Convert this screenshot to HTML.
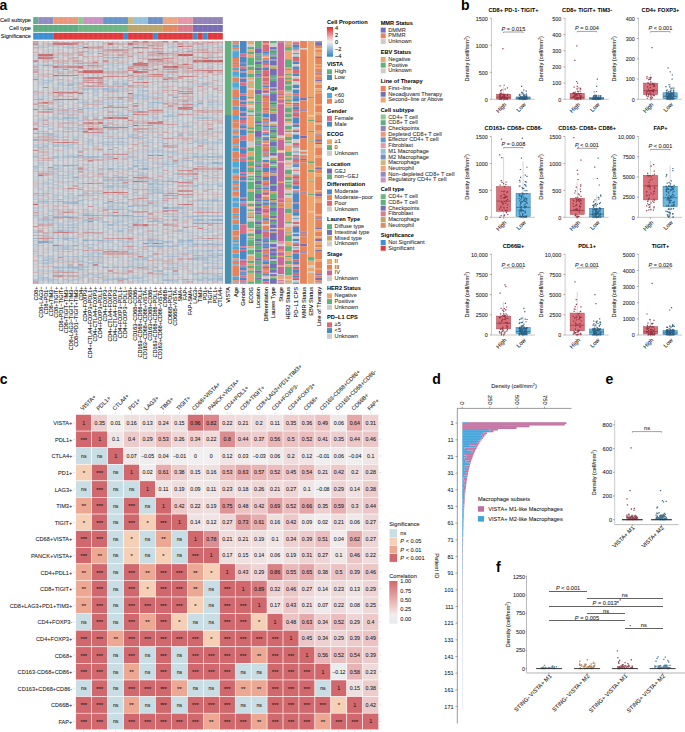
<!DOCTYPE html>
<html><head><meta charset="utf-8"><title>Figure</title>
<style>html,body{margin:0;padding:0;background:#fff;overflow:hidden}svg{display:block}
text{font-family:"Liberation Sans",sans-serif;stroke:#111;stroke-width:0.12px;stroke-opacity:0.6}text[font-weight="bold"]{stroke:none}</style></head>
<body><svg width="685" height="732" viewBox="0 0 685 732" font-family="Liberation Sans, sans-serif">
<rect width="685" height="732" fill="#fff"/>
<text x="-0.6" y="9.7" font-size="14" font-weight="bold" fill="#000">a</text>
<text x="31" y="22.4" font-size="5.64" text-anchor="end">Cell subtype</text>
<text x="31" y="30.2" font-size="5.64" text-anchor="end">Cell type</text>
<text x="31" y="37.9" font-size="5.64" text-anchor="end">Significance</text>
<rect x="33.2" y="17.1" width="4.99" height="6.9" fill="#5fae86"/>
<rect x="38.19" y="17.1" width="14.97" height="6.9" fill="#8f8cc0"/>
<rect x="53.16" y="17.1" width="24.95" height="6.9" fill="#ea977b"/>
<rect x="78.11" y="17.1" width="4.99" height="6.9" fill="#8fc791"/>
<rect x="83.09" y="17.1" width="19.96" height="6.9" fill="#c992c2"/>
<rect x="103.05" y="17.1" width="24.95" height="6.9" fill="#6597c9"/>
<rect x="128" y="17.1" width="4.99" height="6.9" fill="#cbb878"/>
<rect x="132.99" y="17.1" width="14.97" height="6.9" fill="#92c1de"/>
<rect x="147.96" y="17.1" width="14.97" height="6.9" fill="#6f8fc8"/>
<rect x="162.93" y="17.1" width="14.97" height="6.9" fill="#eea383"/>
<rect x="177.89" y="17.1" width="14.97" height="6.9" fill="#e597a6"/>
<rect x="192.86" y="17.1" width="29.94" height="6.9" fill="#9382b5"/>
<rect x="33.2" y="24.9" width="44.91" height="7" fill="#5eac82"/>
<rect x="78.11" y="24.9" width="49.89" height="7" fill="#6db581"/>
<rect x="128" y="24.9" width="34.93" height="7" fill="#bba56b"/>
<rect x="162.93" y="24.9" width="14.97" height="7" fill="#e08a62"/>
<rect x="177.89" y="24.9" width="14.97" height="7" fill="#d97c8c"/>
<rect x="192.86" y="24.9" width="29.94" height="7" fill="#7a6cb3"/>
<rect x="33.2" y="32.8" width="19.96" height="6.8" fill="#3d8fd1"/>
<rect x="53.16" y="32.8" width="69.85" height="6.8" fill="#e03a3d"/>
<rect x="123.01" y="32.8" width="4.99" height="6.8" fill="#3d8fd1"/>
<rect x="128" y="32.8" width="24.95" height="6.8" fill="#e03a3d"/>
<rect x="152.95" y="32.8" width="4.99" height="6.8" fill="#3d8fd1"/>
<rect x="157.94" y="32.8" width="34.93" height="6.8" fill="#e03a3d"/>
<rect x="192.86" y="32.8" width="4.99" height="6.8" fill="#3d8fd1"/>
<rect x="197.85" y="32.8" width="4.99" height="6.8" fill="#e03a3d"/>
<rect x="202.84" y="32.8" width="4.99" height="6.8" fill="#3d8fd1"/>
<rect x="207.83" y="32.8" width="14.97" height="6.8" fill="#e03a3d"/>
<g stroke="#ffffff" stroke-opacity="0.18" stroke-width="0.5"><line x1="38.19" y1="17.1" x2="38.19" y2="39.6"/><line x1="43.18" y1="17.1" x2="43.18" y2="39.6"/><line x1="48.17" y1="17.1" x2="48.17" y2="39.6"/><line x1="53.16" y1="17.1" x2="53.16" y2="39.6"/><line x1="58.15" y1="17.1" x2="58.15" y2="39.6"/><line x1="63.14" y1="17.1" x2="63.14" y2="39.6"/><line x1="68.13" y1="17.1" x2="68.13" y2="39.6"/><line x1="73.12" y1="17.1" x2="73.12" y2="39.6"/><line x1="78.11" y1="17.1" x2="78.11" y2="39.6"/><line x1="83.09" y1="17.1" x2="83.09" y2="39.6"/><line x1="88.08" y1="17.1" x2="88.08" y2="39.6"/><line x1="93.07" y1="17.1" x2="93.07" y2="39.6"/><line x1="98.06" y1="17.1" x2="98.06" y2="39.6"/><line x1="103.05" y1="17.1" x2="103.05" y2="39.6"/><line x1="108.04" y1="17.1" x2="108.04" y2="39.6"/><line x1="113.03" y1="17.1" x2="113.03" y2="39.6"/><line x1="118.02" y1="17.1" x2="118.02" y2="39.6"/><line x1="123.01" y1="17.1" x2="123.01" y2="39.6"/><line x1="128" y1="17.1" x2="128" y2="39.6"/><line x1="132.99" y1="17.1" x2="132.99" y2="39.6"/><line x1="137.98" y1="17.1" x2="137.98" y2="39.6"/><line x1="142.97" y1="17.1" x2="142.97" y2="39.6"/><line x1="147.96" y1="17.1" x2="147.96" y2="39.6"/><line x1="152.95" y1="17.1" x2="152.95" y2="39.6"/><line x1="157.94" y1="17.1" x2="157.94" y2="39.6"/><line x1="162.93" y1="17.1" x2="162.93" y2="39.6"/><line x1="167.92" y1="17.1" x2="167.92" y2="39.6"/><line x1="172.91" y1="17.1" x2="172.91" y2="39.6"/><line x1="177.89" y1="17.1" x2="177.89" y2="39.6"/><line x1="182.88" y1="17.1" x2="182.88" y2="39.6"/><line x1="187.87" y1="17.1" x2="187.87" y2="39.6"/><line x1="192.86" y1="17.1" x2="192.86" y2="39.6"/><line x1="197.85" y1="17.1" x2="197.85" y2="39.6"/><line x1="202.84" y1="17.1" x2="202.84" y2="39.6"/><line x1="207.83" y1="17.1" x2="207.83" y2="39.6"/><line x1="212.82" y1="17.1" x2="212.82" y2="39.6"/><line x1="217.81" y1="17.1" x2="217.81" y2="39.6"/></g>
<g transform="translate(33.2,41) scale(4.9895,1.2140)" shape-rendering="crispEdges">
<path fill="#d79699" d="M0 0h1v1h-1zM2 58h1v1h-1zM3 162h1v1h-1zM5 21h1v1h-1zM5 43h1v1h-1zM6 190h1v1h-1zM7 141h1v1h-1zM7 157h1v1h-1zM8 1h1v1h-1zM8 83h1v1h-1zM8 112h1v1h-1zM8 168h1v1h-1zM9 122h1v1h-1zM10 30h1v1h-1zM10 34h1v1h-1zM10 117h1v1h-1zM10 143h1v1h-1zM10 172h1v1h-1zM11 32h1v1h-1zM11 157h1v1h-1zM12 20h1v1h-1zM12 64h1v1h-1zM12 117h1v1h-1zM12 143h1v1h-1zM13 37h1v1h-1zM13 117h1v1h-1zM15 54h1v1h-1zM15 189h1v1h-1zM16 13h1v1h-1zM17 7h1v1h-1zM17 29h1v1h-1zM17 162h1v1h-1zM17 197h1v1h-1zM18 162h1v1h-1zM19 12h1v1h-1zM19 169h1v1h-1zM20 51h1v1h-1zM20 140h1v1h-1zM21 60h1v1h-1zM21 151h1v1h-1zM22 58h1v1h-1zM22 129h1v1h-1zM23 27h1v1h-1zM23 69h1v1h-1zM24 29h1v1h-1zM25 16h1v1h-1zM26 23h1v1h-1zM26 51h1v1h-1zM26 80h1v1h-1zM26 151h1v1h-1zM27 14h1v1h-1zM27 23h1v1h-1zM27 30h1v1h-1zM27 80h1v1h-1zM27 115h1v1h-1zM27 125h1v1h-1zM28 40h1v1h-1zM28 125h1v1h-1zM28 189h1v1h-1zM29 60h1v1h-1zM30 4h1v1h-1zM31 8h1v1h-1zM31 55h1v1h-1zM31 116h1v1h-1zM32 150h1v1h-1zM33 37h1v1h-1zM33 57h1v1h-1zM33 150h1v1h-1zM36 150h1v1h-1zM37 150h1v1h-1z"/>
<path fill="#d9b7ba" d="M0 1h1v1h-1zM0 3h1v1h-1zM0 9h1v1h-1zM0 51h1v1h-1zM0 67h1v1h-1zM0 104h1v1h-1zM0 190h1v1h-1zM1 42h1v1h-1zM1 53h1v1h-1zM1 74h1v1h-1zM1 78h1v2h-1zM1 91h1v1h-1zM1 96h1v1h-1zM1 98h1v1h-1zM1 176h1v1h-1zM2 15h1v1h-1zM2 64h1v1h-1zM2 74h1v1h-1zM2 98h1v1h-1zM2 157h1v1h-1zM2 163h1v2h-1zM3 2h1v1h-1zM3 79h1v1h-1zM3 98h1v1h-1zM3 109h1v1h-1zM3 125h1v1h-1zM3 185h1v1h-1zM4 45h1v1h-1zM4 136h1v1h-1zM5 10h1v1h-1zM5 20h1v1h-1zM5 31h1v1h-1zM5 41h1v1h-1zM5 59h1v1h-1zM5 64h1v1h-1zM5 182h1v1h-1zM6 18h1v1h-1zM6 20h1v1h-1zM6 36h1v1h-1zM7 1h1v1h-1zM7 3h1v1h-1zM7 25h1v1h-1zM7 60h1v2h-1zM7 67h1v1h-1zM7 94h1v1h-1zM7 146h1v1h-1zM7 168h1v1h-1zM7 171h1v1h-1zM8 5h1v1h-1zM8 18h1v1h-1zM8 20h1v1h-1zM8 41h1v1h-1zM8 47h1v1h-1zM8 141h1v1h-1zM8 171h1v1h-1zM9 6h1v1h-1zM9 8h1v1h-1zM9 34h1v2h-1zM9 48h1v1h-1zM9 68h1v1h-1zM9 95h1v1h-1zM9 159h1v1h-1zM10 2h1v1h-1zM10 18h1v1h-1zM10 33h1v1h-1zM10 52h1v1h-1zM10 63h1v1h-1zM10 68h1v1h-1zM10 97h1v1h-1zM10 138h1v1h-1zM10 145h1v1h-1zM11 4h1v1h-1zM11 6h1v1h-1zM11 10h1v1h-1zM11 17h1v1h-1zM11 68h1v1h-1zM11 183h1v1h-1zM12 21h1v1h-1zM12 32h1v1h-1zM12 49h1v1h-1zM12 52h1v1h-1zM12 63h1v1h-1zM12 88h1v1h-1zM12 98h1v1h-1zM12 145h1v1h-1zM13 8h1v1h-1zM13 73h1v1h-1zM13 105h1v1h-1zM13 181h1v1h-1zM14 8h1v1h-1zM14 17h1v1h-1zM14 41h1v1h-1zM14 48h1v1h-1zM15 26h1v1h-1zM15 47h1v1h-1zM15 61h1v1h-1zM15 67h1v1h-1zM15 112h1v1h-1zM15 171h1v1h-1zM15 174h1v1h-1zM16 5h1v1h-1zM16 9h1v1h-1zM16 33h1v1h-1zM16 37h1v1h-1zM16 61h1v1h-1zM16 107h1v1h-1zM16 117h1v1h-1zM16 178h1v1h-1zM17 2h1v1h-1zM17 47h1v1h-1zM17 61h1v1h-1zM17 117h1v1h-1zM18 96h1v2h-1zM18 126h1v1h-1zM18 138h1v1h-1zM19 44h1v1h-1zM19 48h1v2h-1zM19 88h1v1h-1zM20 6h1v1h-1zM20 36h1v1h-1zM20 56h1v1h-1zM20 66h1v1h-1zM20 107h1v1h-1zM20 150h1v1h-1zM21 78h1v1h-1zM21 187h1v1h-1zM22 2h1v1h-1zM22 14h1v1h-1zM22 38h1v1h-1zM22 41h1v1h-1zM22 111h1v1h-1zM22 152h1v1h-1zM22 171h1v1h-1zM23 14h1v1h-1zM23 17h1v1h-1zM23 46h1v1h-1zM23 120h1v1h-1zM23 151h1v1h-1zM24 0h1v1h-1zM24 19h1v1h-1zM24 33h1v1h-1zM24 43h1v1h-1zM24 56h1v1h-1zM24 60h1v1h-1zM24 117h1v1h-1zM24 120h1v1h-1zM24 146h1v1h-1zM24 151h1v1h-1zM24 163h1v1h-1zM24 180h1v1h-1zM24 192h1v1h-1zM25 17h1v1h-1zM25 58h1v1h-1zM25 68h1v1h-1zM25 96h1v1h-1zM25 125h1v1h-1zM26 11h1v1h-1zM26 20h1v1h-1zM26 25h1v1h-1zM26 33h1v1h-1zM26 87h1v1h-1zM26 168h1v1h-1zM27 16h1v1h-1zM27 22h1v1h-1zM27 33h1v1h-1zM27 37h1v1h-1zM27 40h1v1h-1zM27 180h1v1h-1zM28 11h1v1h-1zM28 18h1v1h-1zM28 30h1v1h-1zM28 80h1v1h-1zM28 140h1v1h-1zM28 156h1v1h-1zM29 20h1v1h-1zM30 6h1v1h-1zM30 8h1v1h-1zM30 12h1v1h-1zM30 18h1v1h-1zM30 24h1v2h-1zM30 38h1v1h-1zM30 175h1v1h-1zM31 25h1v1h-1zM31 42h1v1h-1zM31 45h1v1h-1zM31 48h1v1h-1zM31 107h1v1h-1zM31 198h1v1h-1zM32 2h1v1h-1zM32 13h1v1h-1zM32 60h1v1h-1zM32 162h1v1h-1zM32 169h1v1h-1zM33 17h1v1h-1zM33 58h1v1h-1zM33 126h1v1h-1zM34 25h1v1h-1zM34 36h1v1h-1zM34 57h1v1h-1zM34 65h1v1h-1zM34 123h1v1h-1zM35 15h1v1h-1zM35 22h1v1h-1zM35 37h1v1h-1zM35 57h1v2h-1zM35 76h1v1h-1zM36 5h1v1h-1zM36 110h1v1h-1zM36 183h1v1h-1zM37 1h1v1h-1zM37 5h1v1h-1zM37 7h1v1h-1zM37 65h1v1h-1zM37 67h1v1h-1z"/>
<path fill="#d78f92" d="M0 2h1v1h-1zM0 152h1v1h-1zM2 20h1v1h-1zM2 51h1v1h-1zM2 162h1v1h-1zM4 145h1v1h-1zM5 178h1v1h-1zM5 193h1v1h-1zM6 145h1v1h-1zM9 94h1v1h-1zM9 105h1v1h-1zM10 67h1v1h-1zM10 75h1v1h-1zM11 37h1v1h-1zM11 136h1v1h-1zM12 72h1v1h-1zM14 16h1v1h-1zM14 63h1v1h-1zM14 173h1v1h-1zM15 89h1v1h-1zM16 7h1v1h-1zM16 93h1v1h-1zM16 143h1v1h-1zM18 29h1v1h-1zM18 54h1v1h-1zM18 116h1v1h-1zM18 143h1v1h-1zM18 173h1v1h-1zM20 53h1v1h-1zM21 34h1v1h-1zM22 1h1v1h-1zM23 3h1v1h-1zM23 57h1v1h-1zM24 6h1v1h-1zM25 29h1v1h-1zM25 166h1v1h-1zM26 10h1v1h-1zM26 139h1v1h-1zM27 139h1v1h-1zM28 46h1v1h-1zM28 98h1v1h-1zM28 115h1v1h-1zM29 43h1v1h-1zM29 56h1v1h-1zM29 106h1v1h-1zM30 41h1v1h-1zM30 52h1v1h-1zM30 56h1v1h-1zM30 123h1v1h-1zM30 126h1v1h-1zM31 41h1v1h-1zM31 123h1v1h-1zM32 24h1v1h-1zM32 109h1v1h-1zM33 141h1v1h-1zM34 14h1v1h-1zM35 1h1v1h-1zM37 105h1v1h-1z"/>
<path fill="#dbdee1" d="M0 4h1v1h-1zM0 13h1v1h-1zM0 15h1v1h-1zM0 18h1v1h-1zM0 33h1v1h-1zM0 38h1v1h-1zM0 60h1v1h-1zM0 63h1v1h-1zM0 77h1v1h-1zM0 82h1v1h-1zM0 84h1v1h-1zM0 88h1v1h-1zM0 91h1v1h-1zM0 96h1v1h-1zM0 101h1v1h-1zM0 131h1v1h-1zM0 136h1v1h-1zM0 151h1v1h-1zM0 154h1v1h-1zM0 161h1v1h-1zM0 163h1v1h-1zM0 191h1v2h-1zM0 194h1v1h-1zM1 8h1v1h-1zM1 39h1v1h-1zM1 57h1v1h-1zM1 59h1v1h-1zM1 62h1v1h-1zM1 71h1v1h-1zM1 103h1v1h-1zM1 105h1v1h-1zM1 113h1v1h-1zM1 124h1v1h-1zM1 134h1v1h-1zM1 138h1v1h-1zM1 158h1v1h-1zM1 167h1v1h-1zM1 184h1v1h-1zM2 6h1v1h-1zM2 22h1v2h-1zM2 25h1v1h-1zM2 33h1v1h-1zM2 37h1v1h-1zM2 41h1v1h-1zM2 52h1v1h-1zM2 59h1v2h-1zM2 69h1v1h-1zM2 72h1v1h-1zM2 83h1v1h-1zM2 112h1v1h-1zM2 129h1v1h-1zM2 141h1v1h-1zM2 153h1v1h-1zM2 155h1v2h-1zM2 169h1v1h-1zM2 193h1v1h-1zM2 199h1v1h-1zM3 1h1v1h-1zM3 6h1v1h-1zM3 17h1v1h-1zM3 23h1v1h-1zM3 28h1v1h-1zM3 53h1v1h-1zM3 57h1v1h-1zM3 59h1v3h-1zM3 71h1v1h-1zM3 73h1v3h-1zM3 86h1v1h-1zM3 90h1v1h-1zM3 94h1v1h-1zM3 99h1v2h-1zM3 102h1v1h-1zM3 111h1v1h-1zM3 115h1v1h-1zM3 131h1v1h-1zM3 167h1v1h-1zM3 175h1v1h-1zM4 6h1v1h-1zM4 15h1v1h-1zM4 33h1v2h-1zM4 82h1v1h-1zM4 93h1v1h-1zM4 97h1v1h-1zM4 117h1v1h-1zM4 125h1v1h-1zM4 152h1v1h-1zM4 163h1v1h-1zM4 174h1v1h-1zM4 184h1v1h-1zM4 195h1v1h-1zM5 6h1v1h-1zM5 8h1v1h-1zM5 24h1v1h-1zM5 27h1v1h-1zM5 30h1v1h-1zM5 33h1v1h-1zM5 37h1v1h-1zM5 66h1v1h-1zM5 72h1v1h-1zM5 82h1v1h-1zM5 87h1v1h-1zM5 89h1v1h-1zM5 100h1v1h-1zM5 108h1v1h-1zM5 123h1v1h-1zM5 128h1v2h-1zM5 137h1v1h-1zM5 148h1v1h-1zM5 166h1v1h-1zM5 195h1v1h-1zM6 0h1v1h-1zM6 3h1v1h-1zM6 7h1v2h-1zM6 15h1v1h-1zM6 19h1v1h-1zM6 24h1v1h-1zM6 27h1v1h-1zM6 37h1v1h-1zM6 50h1v1h-1zM6 53h1v1h-1zM6 55h1v1h-1zM6 66h1v1h-1zM6 73h1v1h-1zM6 80h1v1h-1zM6 99h1v1h-1zM6 104h1v1h-1zM6 111h1v1h-1zM6 114h1v1h-1zM6 119h1v1h-1zM6 124h1v1h-1zM6 126h1v1h-1zM6 131h1v1h-1zM6 152h1v1h-1zM6 165h1v1h-1zM6 172h1v1h-1zM6 175h1v1h-1zM6 188h1v1h-1zM6 192h1v1h-1zM6 194h1v1h-1zM7 0h1v1h-1zM7 27h1v1h-1zM7 30h1v1h-1zM7 37h1v1h-1zM7 46h1v1h-1zM7 51h1v1h-1zM7 89h1v1h-1zM7 91h1v1h-1zM7 97h1v1h-1zM7 99h1v1h-1zM7 124h1v1h-1zM7 136h1v1h-1zM7 150h1v1h-1zM7 159h1v2h-1zM7 167h1v1h-1zM7 172h1v1h-1zM7 174h1v1h-1zM7 176h1v1h-1zM8 12h1v1h-1zM8 29h1v1h-1zM8 56h1v1h-1zM8 70h1v1h-1zM8 91h1v2h-1zM8 106h1v1h-1zM8 110h1v1h-1zM8 124h1v1h-1zM8 126h1v1h-1zM8 137h1v1h-1zM8 149h1v1h-1zM8 173h1v1h-1zM8 183h1v2h-1zM8 192h1v1h-1zM8 198h1v1h-1zM9 7h1v1h-1zM9 13h1v1h-1zM9 15h1v1h-1zM9 23h1v1h-1zM9 26h1v1h-1zM9 31h1v1h-1zM9 33h1v1h-1zM9 53h1v1h-1zM9 55h1v1h-1zM9 60h1v1h-1zM9 84h1v1h-1zM9 97h1v1h-1zM9 99h1v1h-1zM9 102h1v1h-1zM9 125h1v1h-1zM9 129h1v1h-1zM9 153h1v1h-1zM9 162h1v1h-1zM9 170h1v1h-1zM9 175h1v1h-1zM10 3h1v1h-1zM10 16h1v1h-1zM10 19h1v1h-1zM10 28h1v1h-1zM10 41h1v1h-1zM10 71h1v1h-1zM10 78h1v1h-1zM10 91h1v1h-1zM10 113h1v1h-1zM10 116h1v1h-1zM10 121h1v2h-1zM10 132h1v2h-1zM10 187h1v1h-1zM10 196h1v2h-1zM11 3h1v1h-1zM11 15h1v1h-1zM11 29h1v1h-1zM11 35h1v1h-1zM11 40h1v2h-1zM11 44h1v1h-1zM11 53h1v1h-1zM11 56h1v1h-1zM11 63h1v1h-1zM11 74h1v1h-1zM11 79h1v1h-1zM11 87h1v1h-1zM11 94h1v1h-1zM11 103h1v1h-1zM11 110h1v1h-1zM11 124h1v1h-1zM11 132h1v2h-1zM11 135h1v1h-1zM11 137h1v1h-1zM11 159h1v1h-1zM11 161h1v1h-1zM11 165h1v2h-1zM11 181h1v1h-1zM11 187h1v1h-1zM11 189h1v1h-1zM12 7h1v1h-1zM12 10h1v2h-1zM12 15h1v1h-1zM12 58h1v1h-1zM12 66h1v1h-1zM12 69h1v1h-1zM12 80h1v1h-1zM12 83h1v1h-1zM12 100h1v1h-1zM12 103h1v1h-1zM12 113h1v1h-1zM12 119h1v1h-1zM12 122h1v1h-1zM12 128h1v1h-1zM12 148h1v2h-1zM12 154h1v1h-1zM12 160h1v1h-1zM12 170h1v1h-1zM12 189h1v1h-1zM12 195h1v1h-1zM13 9h1v1h-1zM13 13h1v1h-1zM13 28h1v1h-1zM13 40h1v1h-1zM13 44h1v1h-1zM13 63h1v1h-1zM13 87h1v1h-1zM13 92h1v1h-1zM13 94h1v1h-1zM13 99h1v1h-1zM13 104h1v1h-1zM13 114h1v1h-1zM13 120h1v1h-1zM13 133h1v1h-1zM13 135h1v1h-1zM13 141h1v1h-1zM13 144h1v1h-1zM13 150h1v1h-1zM13 152h1v1h-1zM13 156h1v1h-1zM13 187h1v1h-1zM14 0h1v1h-1zM14 21h1v1h-1zM14 27h1v2h-1zM14 31h1v1h-1zM14 38h1v1h-1zM14 43h1v1h-1zM14 45h1v1h-1zM14 47h1v1h-1zM14 66h1v1h-1zM14 79h1v1h-1zM14 81h1v1h-1zM14 87h1v2h-1zM14 107h1v1h-1zM14 127h1v1h-1zM14 132h1v1h-1zM14 134h1v2h-1zM14 145h1v1h-1zM14 147h1v1h-1zM14 160h1v1h-1zM14 166h1v1h-1zM14 172h1v1h-1zM14 176h1v1h-1zM14 184h1v1h-1zM14 189h1v1h-1zM14 192h1v1h-1zM15 32h1v1h-1zM15 35h1v1h-1zM15 66h1v1h-1zM15 104h1v1h-1zM15 118h1v1h-1zM15 128h1v1h-1zM15 145h1v1h-1zM15 161h1v1h-1zM15 168h1v1h-1zM15 181h1v2h-1zM15 187h1v1h-1zM15 198h1v1h-1zM16 3h1v1h-1zM16 10h1v1h-1zM16 47h1v1h-1zM16 51h1v1h-1zM16 55h1v1h-1zM16 74h1v1h-1zM16 84h1v1h-1zM16 86h1v1h-1zM16 89h1v1h-1zM16 94h1v1h-1zM16 132h1v1h-1zM16 152h1v1h-1zM16 155h1v1h-1zM16 163h1v1h-1zM16 165h1v1h-1zM16 170h1v1h-1zM16 179h1v1h-1zM17 1h1v1h-1zM17 5h1v2h-1zM17 15h1v1h-1zM17 21h1v1h-1zM17 66h1v1h-1zM17 73h1v1h-1zM17 90h1v1h-1zM17 129h1v1h-1zM17 134h1v1h-1zM17 187h1v1h-1zM18 3h1v1h-1zM18 30h1v1h-1zM18 44h1v1h-1zM18 47h1v1h-1zM18 51h1v1h-1zM18 62h1v1h-1zM18 87h1v2h-1zM18 90h1v1h-1zM18 104h1v1h-1zM18 108h1v1h-1zM18 123h1v1h-1zM18 131h1v1h-1zM18 139h1v1h-1zM18 150h1v1h-1zM18 153h1v1h-1zM18 176h1v1h-1zM18 193h1v1h-1zM19 15h1v1h-1zM19 17h1v1h-1zM19 25h1v1h-1zM19 31h1v1h-1zM19 34h1v1h-1zM19 41h1v1h-1zM19 50h1v2h-1zM19 54h1v1h-1zM19 59h1v1h-1zM19 69h1v1h-1zM19 73h1v1h-1zM19 86h1v1h-1zM19 98h1v1h-1zM19 103h1v1h-1zM19 106h1v1h-1zM19 108h1v1h-1zM19 112h1v1h-1zM19 124h1v1h-1zM19 129h1v1h-1zM20 8h1v1h-1zM20 15h1v2h-1zM20 41h1v1h-1zM20 64h1v1h-1zM20 88h1v1h-1zM20 137h1v1h-1zM20 139h1v1h-1zM20 157h1v1h-1zM20 160h1v1h-1zM20 163h1v1h-1zM20 170h1v1h-1zM20 199h1v1h-1zM21 4h1v1h-1zM21 7h1v1h-1zM21 24h1v1h-1zM21 54h1v1h-1zM21 73h1v1h-1zM21 101h1v1h-1zM21 124h1v2h-1zM21 139h1v1h-1zM21 156h1v1h-1zM21 166h1v1h-1zM21 168h1v1h-1zM21 172h1v1h-1zM21 199h1v1h-1zM22 16h1v1h-1zM22 39h1v1h-1zM22 42h1v1h-1zM22 51h1v1h-1zM22 57h1v1h-1zM22 68h1v1h-1zM22 71h1v1h-1zM22 73h1v1h-1zM22 106h1v1h-1zM22 118h1v1h-1zM22 130h1v1h-1zM22 150h1v1h-1zM22 158h1v1h-1zM23 7h1v1h-1zM23 32h1v1h-1zM23 39h1v1h-1zM23 64h1v1h-1zM23 80h1v1h-1zM23 92h1v1h-1zM23 97h1v1h-1zM23 102h1v1h-1zM23 108h1v1h-1zM23 130h1v1h-1zM23 150h1v1h-1zM23 171h1v1h-1zM23 174h1v1h-1zM23 179h1v1h-1zM23 199h1v1h-1zM24 13h1v1h-1zM24 32h1v1h-1zM24 34h1v1h-1zM24 39h1v1h-1zM24 73h1v1h-1zM24 80h1v1h-1zM24 82h1v1h-1zM24 86h1v1h-1zM24 92h1v1h-1zM24 102h1v2h-1zM24 106h1v1h-1zM24 130h1v1h-1zM24 138h1v1h-1zM24 149h1v1h-1zM24 158h1v1h-1zM24 171h1v1h-1zM24 196h1v2h-1zM25 65h1v1h-1zM25 92h1v1h-1zM25 126h1v3h-1zM25 130h1v1h-1zM25 137h1v1h-1zM25 145h1v1h-1zM25 151h1v1h-1zM25 158h1v1h-1zM25 176h1v1h-1zM25 182h1v1h-1zM25 186h1v1h-1zM26 5h1v1h-1zM26 7h1v1h-1zM26 24h1v1h-1zM26 26h1v1h-1zM26 43h1v1h-1zM26 60h1v1h-1zM26 70h1v1h-1zM26 76h1v2h-1zM26 88h1v1h-1zM26 104h1v1h-1zM26 138h1v1h-1zM26 145h1v2h-1zM26 161h1v1h-1zM26 163h1v1h-1zM26 167h1v1h-1zM26 189h1v1h-1zM27 7h1v1h-1zM27 12h1v1h-1zM27 28h1v2h-1zM27 34h1v1h-1zM27 46h1v1h-1zM27 59h1v1h-1zM27 65h1v1h-1zM27 74h1v1h-1zM27 89h1v1h-1zM27 94h1v1h-1zM27 109h1v1h-1zM27 111h1v1h-1zM27 120h1v1h-1zM27 133h1v1h-1zM27 136h1v1h-1zM27 163h1v1h-1zM27 174h1v1h-1zM27 189h1v1h-1zM27 199h1v1h-1zM28 29h1v1h-1zM28 38h1v2h-1zM28 41h1v1h-1zM28 57h1v1h-1zM28 69h1v1h-1zM28 72h1v2h-1zM28 77h1v1h-1zM28 89h1v1h-1zM28 102h1v1h-1zM28 110h1v1h-1zM28 120h1v1h-1zM28 126h1v1h-1zM28 159h1v2h-1zM28 163h1v2h-1zM28 199h1v1h-1zM29 27h1v1h-1zM29 32h1v1h-1zM29 35h1v1h-1zM29 47h1v1h-1zM29 69h1v1h-1zM29 114h1v1h-1zM29 121h1v1h-1zM29 124h1v1h-1zM29 129h1v1h-1zM29 140h1v1h-1zM29 148h1v1h-1zM29 153h1v2h-1zM29 157h1v1h-1zM29 170h1v1h-1zM29 189h1v2h-1zM29 193h1v1h-1zM29 195h1v1h-1zM29 197h1v2h-1zM30 5h1v1h-1zM30 13h1v1h-1zM30 27h1v1h-1zM30 34h1v2h-1zM30 40h1v1h-1zM30 59h1v1h-1zM30 64h1v1h-1zM30 66h1v1h-1zM30 101h1v1h-1zM30 118h1v1h-1zM30 120h1v1h-1zM30 125h1v1h-1zM30 132h1v1h-1zM30 158h1v1h-1zM30 160h1v1h-1zM30 162h1v1h-1zM30 168h1v1h-1zM30 171h1v1h-1zM30 173h1v1h-1zM30 180h1v1h-1zM30 192h1v1h-1zM31 27h1v1h-1zM31 32h1v1h-1zM31 64h1v2h-1zM31 93h1v1h-1zM31 97h1v1h-1zM31 100h1v4h-1zM31 113h1v1h-1zM31 124h1v1h-1zM31 129h1v1h-1zM31 140h1v1h-1zM31 150h1v1h-1zM31 154h1v1h-1zM31 176h1v1h-1zM31 182h1v1h-1zM31 186h1v1h-1zM31 193h1v2h-1zM32 8h1v1h-1zM32 42h1v1h-1zM32 48h1v1h-1zM32 54h1v3h-1zM32 70h1v1h-1zM32 75h1v1h-1zM32 78h1v1h-1zM32 86h1v1h-1zM32 98h1v1h-1zM32 125h1v1h-1zM32 129h1v1h-1zM32 142h1v1h-1zM32 159h1v1h-1zM32 189h1v1h-1zM32 198h1v1h-1zM33 11h1v1h-1zM33 21h1v1h-1zM33 28h1v1h-1zM33 32h1v1h-1zM33 42h1v2h-1zM33 62h1v1h-1zM33 73h1v1h-1zM33 87h1v1h-1zM33 102h1v1h-1zM33 108h1v1h-1zM33 110h1v2h-1zM33 114h1v2h-1zM33 119h1v1h-1zM33 123h1v1h-1zM33 155h1v1h-1zM33 159h1v1h-1zM33 163h1v1h-1zM33 165h1v1h-1zM34 20h1v1h-1zM34 32h1v1h-1zM34 53h1v1h-1zM34 98h1v2h-1zM34 124h1v1h-1zM34 127h1v2h-1zM34 145h1v1h-1zM34 184h1v1h-1zM35 29h1v1h-1zM35 39h1v2h-1zM35 42h1v1h-1zM35 59h1v1h-1zM35 66h1v1h-1zM35 81h1v1h-1zM35 90h1v2h-1zM35 93h1v1h-1zM35 96h1v1h-1zM35 99h1v1h-1zM35 103h1v1h-1zM35 128h1v1h-1zM35 142h1v1h-1zM35 145h1v2h-1zM35 148h1v1h-1zM35 152h1v1h-1zM35 159h1v1h-1zM35 165h1v1h-1zM35 181h1v1h-1zM35 198h1v1h-1zM36 15h1v1h-1zM36 20h1v1h-1zM36 23h1v1h-1zM36 29h1v1h-1zM36 43h1v1h-1zM36 47h1v1h-1zM36 69h1v2h-1zM36 98h1v1h-1zM36 119h1v2h-1zM36 123h1v1h-1zM36 133h1v1h-1zM36 139h1v1h-1zM36 158h1v1h-1zM36 171h1v1h-1zM37 11h1v1h-1zM37 14h1v1h-1zM37 28h1v1h-1zM37 30h1v1h-1zM37 35h1v1h-1zM37 44h1v1h-1zM37 54h1v2h-1zM37 59h1v1h-1zM37 69h1v1h-1zM37 87h1v2h-1zM37 90h1v2h-1zM37 93h1v1h-1zM37 111h1v1h-1zM37 114h1v1h-1zM37 121h1v1h-1zM37 123h1v1h-1zM37 127h1v1h-1zM37 145h1v1h-1zM37 190h1v1h-1z"/>
<path fill="#d8aaad" d="M0 5h1v1h-1zM0 21h1v1h-1zM0 41h1v1h-1zM0 125h1v1h-1zM0 160h1v1h-1zM1 87h1v1h-1zM2 76h1v1h-1zM2 96h1v1h-1zM2 109h1v1h-1zM2 158h1v1h-1zM3 20h1v1h-1zM3 76h1v1h-1zM3 151h1v1h-1zM5 1h1v1h-1zM5 26h1v1h-1zM5 44h1v1h-1zM6 43h1v1h-1zM6 57h1v1h-1zM6 74h1v1h-1zM6 163h1v1h-1zM7 173h1v1h-1zM7 193h1v1h-1zM8 13h1v1h-1zM8 57h1v1h-1zM8 119h1v1h-1zM8 193h1v1h-1zM9 1h1v1h-1zM9 42h1v1h-1zM9 104h1v1h-1zM10 8h1v1h-1zM10 20h1v1h-1zM10 36h1v2h-1zM10 72h1v1h-1zM11 52h1v1h-1zM12 36h1v2h-1zM12 67h1v2h-1zM12 97h1v1h-1zM13 20h1v1h-1zM13 31h1v2h-1zM13 109h1v1h-1zM13 143h1v1h-1zM13 157h1v1h-1zM14 7h1v1h-1zM14 13h1v1h-1zM14 138h1v1h-1zM14 143h1v1h-1zM15 46h1v1h-1zM15 58h1v1h-1zM15 72h1v1h-1zM16 72h1v1h-1zM16 175h1v1h-1zM16 190h1v1h-1zM17 48h1v1h-1zM17 138h1v1h-1zM17 174h1v1h-1zM18 25h1v1h-1zM18 169h1v1h-1zM18 174h1v2h-1zM19 46h1v1h-1zM19 175h1v1h-1zM19 190h1v1h-1zM20 1h1v1h-1zM20 73h1v1h-1zM20 129h1v1h-1zM20 141h1v1h-1zM21 1h1v1h-1zM21 23h1v1h-1zM21 31h1v1h-1zM21 36h1v1h-1zM21 74h1v1h-1zM22 6h1v1h-1zM22 21h1v1h-1zM23 11h1v1h-1zM23 24h1v1h-1zM23 113h1v1h-1zM23 117h1v1h-1zM23 125h1v1h-1zM23 163h1v1h-1zM23 166h1v1h-1zM24 3h1v1h-1zM24 8h1v1h-1zM24 94h1v1h-1zM25 0h1v1h-1zM25 19h1v1h-1zM25 111h1v1h-1zM25 191h1v1h-1zM26 1h1v1h-1zM26 30h1v1h-1zM26 84h1v1h-1zM26 125h1v1h-1zM26 129h1v1h-1zM27 17h1v1h-1zM27 86h1v1h-1zM27 151h1v1h-1zM28 1h1v1h-1zM28 8h1v1h-1zM28 152h1v1h-1zM30 45h1v1h-1zM30 53h1v1h-1zM30 96h1v1h-1zM30 109h1v1h-1zM31 39h1v1h-1zM31 80h1v1h-1zM31 117h1v1h-1zM32 9h1v1h-1zM32 57h1v1h-1zM33 2h1v1h-1zM33 9h1v1h-1zM33 74h1v1h-1zM34 17h1v1h-1zM34 58h1v1h-1zM34 105h1v1h-1zM35 9h1v1h-1zM35 68h1v1h-1zM35 105h1v1h-1zM35 151h1v1h-1zM36 13h1v1h-1zM36 39h1v1h-1zM36 57h1v1h-1zM36 187h1v1h-1zM37 13h1v1h-1zM37 17h1v1h-1zM37 141h1v1h-1z"/>
<path fill="#dac4c7" d="M0 6h1v1h-1zM0 29h1v1h-1zM0 42h1v1h-1zM0 46h1v1h-1zM0 92h1v1h-1zM0 116h1v1h-1zM0 130h1v1h-1zM0 142h1v1h-1zM0 181h1v1h-1zM1 28h1v1h-1zM1 31h1v1h-1zM1 64h1v1h-1zM1 104h1v1h-1zM1 108h1v1h-1zM1 129h1v1h-1zM2 2h1v1h-1zM2 17h1v1h-1zM2 26h1v3h-1zM2 80h1v1h-1zM2 87h1v1h-1zM2 92h1v1h-1zM2 108h1v1h-1zM2 117h1v1h-1zM2 126h1v1h-1zM2 130h1v1h-1zM2 136h1v1h-1zM2 152h1v1h-1zM2 154h1v1h-1zM2 174h1v1h-1zM2 185h1v1h-1zM3 16h1v1h-1zM3 29h1v1h-1zM3 42h1v1h-1zM3 49h1v1h-1zM3 69h1v1h-1zM3 105h1v1h-1zM3 108h1v1h-1zM3 110h1v1h-1zM3 117h1v1h-1zM3 140h1v1h-1zM3 161h1v1h-1zM4 3h1v1h-1zM4 17h1v1h-1zM4 25h1v1h-1zM4 40h1v1h-1zM4 46h1v1h-1zM4 49h1v1h-1zM4 112h1v1h-1zM4 121h1v1h-1zM4 158h1v1h-1zM5 3h1v1h-1zM5 9h1v1h-1zM5 23h1v1h-1zM5 36h1v1h-1zM5 60h1v1h-1zM5 81h1v1h-1zM5 140h1v1h-1zM6 9h1v1h-1zM6 22h1v1h-1zM6 45h1v1h-1zM6 59h1v2h-1zM6 64h1v1h-1zM6 158h1v1h-1zM6 168h1v1h-1zM7 6h1v1h-1zM7 16h1v1h-1zM7 26h1v1h-1zM7 32h1v1h-1zM7 57h1v1h-1zM7 122h1v1h-1zM7 158h1v1h-1zM7 182h1v1h-1zM8 17h1v1h-1zM8 23h1v1h-1zM8 25h1v1h-1zM8 40h1v1h-1zM8 43h1v1h-1zM8 51h1v1h-1zM8 69h1v1h-1zM8 73h1v1h-1zM8 84h1v1h-1zM8 99h1v1h-1zM8 129h1v1h-1zM8 147h1v1h-1zM8 172h1v1h-1zM8 179h1v1h-1zM9 0h1v1h-1zM9 2h1v1h-1zM9 17h1v1h-1zM9 20h1v1h-1zM9 37h1v1h-1zM9 61h1v1h-1zM9 85h1v1h-1zM9 103h1v1h-1zM9 110h1v1h-1zM9 135h1v1h-1zM9 145h1v1h-1zM9 166h1v1h-1zM9 199h1v1h-1zM10 4h1v1h-1zM10 22h1v1h-1zM10 49h1v1h-1zM10 51h1v1h-1zM10 53h1v1h-1zM10 70h1v1h-1zM10 82h1v1h-1zM10 90h1v1h-1zM10 96h1v1h-1zM10 98h1v1h-1zM10 105h1v1h-1zM10 111h1v2h-1zM10 123h1v1h-1zM10 126h1v1h-1zM10 148h1v1h-1zM11 21h1v1h-1zM11 64h1v1h-1zM11 82h1v1h-1zM11 97h1v1h-1zM11 104h1v1h-1zM11 108h1v1h-1zM11 111h1v2h-1zM11 123h1v1h-1zM11 145h1v1h-1zM11 176h1v1h-1zM11 179h1v1h-1zM11 195h1v1h-1zM12 4h1v1h-1zM12 19h1v1h-1zM12 53h1v1h-1zM12 59h1v1h-1zM12 61h1v1h-1zM12 65h1v1h-1zM12 73h1v1h-1zM12 84h1v1h-1zM12 86h1v1h-1zM12 111h1v1h-1zM12 123h1v1h-1zM12 171h1v1h-1zM13 18h1v1h-1zM13 46h1v1h-1zM13 88h1v1h-1zM13 111h1v1h-1zM13 116h1v1h-1zM13 146h1v1h-1zM13 165h1v1h-1zM13 171h1v1h-1zM13 179h1v1h-1zM13 199h1v1h-1zM14 9h1v1h-1zM14 26h1v1h-1zM14 33h1v1h-1zM14 44h1v1h-1zM14 57h1v1h-1zM14 72h1v1h-1zM14 76h1v1h-1zM14 94h1v1h-1zM14 97h1v1h-1zM14 144h1v1h-1zM14 193h1v1h-1zM15 9h1v1h-1zM15 11h1v1h-1zM15 17h1v1h-1zM15 36h1v1h-1zM15 42h1v1h-1zM15 51h1v1h-1zM15 117h1v1h-1zM15 129h1v2h-1zM15 141h1v1h-1zM15 159h1v1h-1zM16 1h1v1h-1zM16 11h1v1h-1zM16 16h1v1h-1zM16 20h1v1h-1zM16 26h1v1h-1zM16 36h1v1h-1zM16 48h1v1h-1zM16 97h1v1h-1zM16 131h1v1h-1zM17 41h1v1h-1zM17 53h1v1h-1zM17 59h1v1h-1zM17 72h1v1h-1zM17 74h1v1h-1zM17 78h1v1h-1zM17 89h1v1h-1zM17 97h1v1h-1zM17 113h1v1h-1zM17 130h1v1h-1zM18 17h1v1h-1zM18 24h1v1h-1zM18 41h1v1h-1zM18 64h1v1h-1zM18 69h1v1h-1zM18 72h1v1h-1zM18 106h1v1h-1zM18 190h1v1h-1zM18 192h1v1h-1zM19 11h1v1h-1zM19 27h1v1h-1zM19 29h1v1h-1zM19 55h1v1h-1zM19 91h1v2h-1zM19 114h1v1h-1zM19 145h1v1h-1zM19 150h1v1h-1zM19 158h1v1h-1zM19 164h1v1h-1zM19 198h1v1h-1zM20 26h1v2h-1zM20 59h1v1h-1zM20 65h1v1h-1zM20 74h1v1h-1zM20 110h1v1h-1zM20 116h1v1h-1zM20 152h1v1h-1zM20 171h1v1h-1zM20 174h1v1h-1zM20 187h1v1h-1zM21 38h1v1h-1zM21 51h1v1h-1zM21 61h1v1h-1zM21 84h1v1h-1zM21 111h1v1h-1zM21 116h1v1h-1zM21 134h1v1h-1zM21 152h1v1h-1zM22 15h1v1h-1zM22 22h1v1h-1zM22 48h1v1h-1zM22 61h1v1h-1zM22 65h1v1h-1zM22 74h1v2h-1zM22 84h1v1h-1zM22 90h1v1h-1zM22 116h1v1h-1zM22 126h1v1h-1zM22 131h1v1h-1zM22 141h1v1h-1zM22 146h1v1h-1zM23 2h1v1h-1zM23 5h1v1h-1zM23 10h1v1h-1zM23 20h1v2h-1zM23 68h1v1h-1zM23 74h1v1h-1zM23 145h1v1h-1zM24 17h1v1h-1zM24 46h1v1h-1zM24 68h1v1h-1zM24 96h1v1h-1zM24 133h1v1h-1zM24 144h1v2h-1zM25 7h1v1h-1zM25 22h1v1h-1zM25 33h1v2h-1zM25 47h1v1h-1zM25 110h1v1h-1zM25 120h1v1h-1zM25 150h1v1h-1zM25 192h1v1h-1zM26 15h1v1h-1zM26 22h1v1h-1zM26 36h1v2h-1zM26 61h1v1h-1zM26 66h1v1h-1zM26 180h1v1h-1zM26 187h1v1h-1zM27 11h1v1h-1zM27 13h1v1h-1zM27 50h1v1h-1zM27 52h1v1h-1zM27 56h1v1h-1zM27 76h1v1h-1zM27 97h1v1h-1zM27 142h1v1h-1zM27 179h1v1h-1zM27 182h1v1h-1zM28 5h1v1h-1zM28 19h1v1h-1zM28 28h1v1h-1zM28 44h1v1h-1zM28 48h1v2h-1zM28 53h1v1h-1zM28 61h1v1h-1zM28 66h1v1h-1zM28 90h1v1h-1zM28 116h1v1h-1zM28 142h1v1h-1zM28 145h1v1h-1zM29 3h1v1h-1zM29 15h1v1h-1zM29 22h1v1h-1zM29 39h1v1h-1zM29 59h1v1h-1zM29 102h1v1h-1zM29 117h1v1h-1zM29 149h1v1h-1zM29 180h1v1h-1zM30 2h1v1h-1zM30 9h1v1h-1zM30 44h1v1h-1zM30 57h1v1h-1zM30 69h1v1h-1zM30 75h1v1h-1zM30 135h1v1h-1zM30 139h1v1h-1zM30 147h1v1h-1zM30 149h1v1h-1zM30 152h1v1h-1zM31 6h1v1h-1zM31 9h1v1h-1zM31 14h1v1h-1zM31 31h1v1h-1zM31 34h1v1h-1zM31 38h1v1h-1zM31 49h1v1h-1zM31 51h1v1h-1zM31 53h1v1h-1zM31 90h1v1h-1zM31 146h1v1h-1zM31 175h1v1h-1zM31 189h1v1h-1zM32 5h1v1h-1zM32 27h1v1h-1zM32 32h1v1h-1zM32 58h1v1h-1zM32 67h1v1h-1zM32 76h1v1h-1zM32 114h1v1h-1zM32 124h1v1h-1zM33 1h1v1h-1zM33 5h1v1h-1zM33 8h1v1h-1zM33 15h1v1h-1zM33 23h1v1h-1zM33 25h1v1h-1zM33 76h1v1h-1zM33 139h1v1h-1zM33 190h1v1h-1zM34 0h1v1h-1zM34 8h1v1h-1zM34 22h1v1h-1zM34 34h1v1h-1zM34 39h1v1h-1zM34 42h1v1h-1zM34 67h1v1h-1zM34 73h1v1h-1zM34 77h1v1h-1zM34 85h1v1h-1zM34 113h1v1h-1zM34 115h1v1h-1zM34 169h1v1h-1zM35 2h1v1h-1zM35 10h1v1h-1zM35 34h1v1h-1zM35 48h1v2h-1zM35 74h1v1h-1zM35 78h1v1h-1zM35 104h1v1h-1zM35 140h1v1h-1zM35 154h1v1h-1zM35 169h1v1h-1zM35 183h1v1h-1zM36 2h1v1h-1zM36 25h1v1h-1zM36 66h1v1h-1zM36 169h1v1h-1zM37 8h1v1h-1zM37 15h1v1h-1zM37 19h1v1h-1zM37 26h1v1h-1zM37 66h1v1h-1zM37 75h1v2h-1zM37 113h1v1h-1zM37 135h1v1h-1zM37 158h1v2h-1zM37 183h1v1h-1z"/>
<path fill="#dbd7db" d="M0 7h1v1h-1zM0 22h1v1h-1zM0 26h1v1h-1zM0 37h1v1h-1zM0 39h1v1h-1zM0 49h1v1h-1zM0 58h1v1h-1zM0 70h1v2h-1zM0 99h1v1h-1zM0 108h1v1h-1zM0 113h1v1h-1zM0 123h1v1h-1zM0 147h1v1h-1zM0 149h1v1h-1zM0 155h1v1h-1zM0 159h1v1h-1zM0 179h1v1h-1zM0 182h1v1h-1zM0 185h1v1h-1zM1 1h1v2h-1zM1 7h1v1h-1zM1 9h1v1h-1zM1 17h1v2h-1zM1 36h1v1h-1zM1 38h1v1h-1zM1 60h1v1h-1zM1 69h1v1h-1zM1 72h1v2h-1zM1 92h1v2h-1zM1 97h1v1h-1zM1 99h1v1h-1zM1 106h1v1h-1zM1 116h1v1h-1zM1 170h1v2h-1zM1 173h1v1h-1zM1 175h1v1h-1zM2 31h1v1h-1zM2 57h1v1h-1zM2 95h1v1h-1zM2 113h1v2h-1zM2 119h1v1h-1zM2 138h1v1h-1zM2 173h1v1h-1zM2 175h1v1h-1zM2 181h1v1h-1zM2 190h1v1h-1zM3 5h1v1h-1zM3 18h1v1h-1zM3 37h1v1h-1zM3 39h1v1h-1zM3 45h1v2h-1zM3 65h1v1h-1zM3 88h1v1h-1zM3 101h1v1h-1zM3 112h1v1h-1zM3 124h1v1h-1zM3 126h1v1h-1zM3 136h1v1h-1zM3 148h1v1h-1zM3 154h1v1h-1zM3 163h1v1h-1zM3 169h1v1h-1zM3 184h1v1h-1zM3 194h1v1h-1zM4 19h1v1h-1zM4 37h1v1h-1zM4 53h1v1h-1zM4 65h1v1h-1zM4 68h1v1h-1zM4 70h1v1h-1zM4 75h1v1h-1zM4 84h1v1h-1zM4 92h1v1h-1zM4 94h1v1h-1zM4 99h1v1h-1zM4 113h1v1h-1zM4 123h1v1h-1zM4 141h1v1h-1zM4 166h1v1h-1zM4 178h1v1h-1zM5 0h1v1h-1zM5 12h1v1h-1zM5 51h1v1h-1zM5 80h1v1h-1zM5 88h1v1h-1zM5 92h1v1h-1zM5 94h1v1h-1zM5 97h1v1h-1zM5 99h1v1h-1zM5 147h1v1h-1zM5 154h1v1h-1zM5 158h1v1h-1zM5 163h1v1h-1zM5 183h1v1h-1zM5 198h1v1h-1zM6 14h1v1h-1zM6 30h1v1h-1zM6 40h1v1h-1zM6 44h1v1h-1zM6 69h1v1h-1zM6 76h1v1h-1zM6 87h1v1h-1zM6 97h1v1h-1zM6 100h1v2h-1zM6 106h1v1h-1zM6 120h1v1h-1zM6 137h1v1h-1zM6 142h1v1h-1zM6 146h1v1h-1zM6 149h1v1h-1zM6 160h1v1h-1zM6 174h1v1h-1zM6 178h1v1h-1zM7 8h1v2h-1zM7 18h1v1h-1zM7 31h1v1h-1zM7 44h1v1h-1zM7 53h1v2h-1zM7 59h1v1h-1zM7 70h1v1h-1zM7 73h1v1h-1zM7 80h1v1h-1zM7 90h1v1h-1zM7 134h1v1h-1zM7 137h1v1h-1zM7 155h1v1h-1zM7 175h1v1h-1zM7 195h1v1h-1zM8 4h1v1h-1zM8 32h1v1h-1zM8 37h1v1h-1zM8 44h1v1h-1zM8 49h1v1h-1zM8 52h1v1h-1zM8 68h1v1h-1zM8 82h1v1h-1zM8 89h1v1h-1zM8 120h1v1h-1zM8 122h1v1h-1zM8 136h1v1h-1zM8 139h1v1h-1zM8 142h1v1h-1zM8 158h1v1h-1zM8 167h1v1h-1zM9 5h1v1h-1zM9 12h1v1h-1zM9 14h1v1h-1zM9 40h1v1h-1zM9 45h1v1h-1zM9 62h1v1h-1zM9 67h1v1h-1zM9 82h1v1h-1zM9 89h1v1h-1zM9 109h1v1h-1zM9 136h1v2h-1zM9 140h1v1h-1zM9 156h1v1h-1zM9 163h1v1h-1zM9 198h1v1h-1zM10 7h1v1h-1zM10 23h1v1h-1zM10 35h1v1h-1zM10 46h1v1h-1zM10 66h1v1h-1zM10 79h1v1h-1zM10 94h1v1h-1zM10 114h1v1h-1zM10 129h1v1h-1zM10 136h1v1h-1zM10 166h1v1h-1zM10 171h1v1h-1zM10 176h1v1h-1zM10 179h1v1h-1zM10 183h1v1h-1zM10 191h1v1h-1zM10 195h1v1h-1zM10 198h1v1h-1zM11 1h1v2h-1zM11 11h1v1h-1zM11 23h1v1h-1zM11 27h1v2h-1zM11 33h1v1h-1zM11 42h1v1h-1zM11 46h1v2h-1zM11 58h1v2h-1zM11 91h1v2h-1zM11 105h1v1h-1zM11 107h1v1h-1zM11 116h1v1h-1zM11 118h1v2h-1zM11 122h1v1h-1zM11 138h1v2h-1zM11 162h1v1h-1zM11 199h1v1h-1zM12 2h1v1h-1zM12 22h1v1h-1zM12 33h1v1h-1zM12 46h1v1h-1zM12 54h1v1h-1zM12 78h1v1h-1zM12 92h1v2h-1zM12 96h1v1h-1zM12 99h1v1h-1zM12 101h1v1h-1zM12 105h1v1h-1zM12 112h1v1h-1zM12 116h1v1h-1zM12 126h1v1h-1zM12 137h1v1h-1zM12 152h1v1h-1zM12 162h1v1h-1zM12 165h1v1h-1zM12 176h1v1h-1zM12 187h1v1h-1zM12 191h1v1h-1zM12 199h1v1h-1zM13 2h1v1h-1zM13 11h1v1h-1zM13 15h1v1h-1zM13 38h1v1h-1zM13 48h1v1h-1zM13 53h1v2h-1zM13 56h1v2h-1zM13 96h1v1h-1zM13 100h1v1h-1zM13 118h1v1h-1zM13 121h1v1h-1zM13 129h1v1h-1zM13 132h1v1h-1zM13 153h1v1h-1zM13 197h1v1h-1zM14 12h1v1h-1zM14 15h1v1h-1zM14 24h1v1h-1zM14 42h1v1h-1zM14 53h1v1h-1zM14 58h1v2h-1zM14 89h1v1h-1zM14 91h1v1h-1zM14 113h1v1h-1zM14 116h1v1h-1zM14 129h1v2h-1zM14 140h1v1h-1zM14 155h1v1h-1zM14 177h1v1h-1zM14 180h1v1h-1zM14 182h1v1h-1zM15 6h1v1h-1zM15 33h1v1h-1zM15 64h1v1h-1zM15 69h1v1h-1zM15 74h1v1h-1zM15 98h1v1h-1zM15 109h1v1h-1zM15 123h1v1h-1zM15 125h1v1h-1zM15 139h1v1h-1zM15 147h1v1h-1zM15 152h1v1h-1zM15 158h1v1h-1zM15 177h1v1h-1zM15 190h1v1h-1zM16 0h1v1h-1zM16 6h1v1h-1zM16 12h1v1h-1zM16 17h1v1h-1zM16 24h1v1h-1zM16 32h1v1h-1zM16 43h1v1h-1zM16 45h1v1h-1zM16 52h1v1h-1zM16 56h1v1h-1zM16 59h1v2h-1zM16 99h1v1h-1zM16 106h1v1h-1zM16 125h1v1h-1zM16 130h1v1h-1zM16 134h1v1h-1zM16 158h1v1h-1zM16 180h1v2h-1zM16 187h1v1h-1zM16 189h1v1h-1zM16 192h1v2h-1zM17 27h1v1h-1zM17 42h1v1h-1zM17 45h1v1h-1zM17 51h1v1h-1zM17 65h1v1h-1zM17 76h1v1h-1zM17 86h1v1h-1zM17 106h1v1h-1zM17 116h1v1h-1zM17 128h1v1h-1zM17 131h1v1h-1zM17 153h1v1h-1zM17 155h1v1h-1zM17 160h1v1h-1zM17 176h1v1h-1zM17 192h1v1h-1zM18 6h1v1h-1zM18 20h1v1h-1zM18 23h1v1h-1zM18 31h1v1h-1zM18 42h1v1h-1zM18 58h1v1h-1zM18 65h1v1h-1zM18 78h1v1h-1zM18 99h1v2h-1zM18 132h1v1h-1zM18 158h1v1h-1zM18 170h1v1h-1zM18 181h1v2h-1zM18 184h1v1h-1zM19 18h1v1h-1zM19 35h1v1h-1zM19 42h1v1h-1zM19 61h1v1h-1zM19 76h1v1h-1zM19 90h1v1h-1zM19 97h1v1h-1zM19 100h1v1h-1zM19 102h1v1h-1zM19 109h1v1h-1zM19 117h1v1h-1zM19 119h1v1h-1zM19 128h1v1h-1zM19 133h1v2h-1zM19 154h1v1h-1zM19 159h1v1h-1zM19 167h1v1h-1zM19 182h1v1h-1zM19 196h1v2h-1zM20 12h1v2h-1zM20 33h1v1h-1zM20 35h1v1h-1zM20 49h1v1h-1zM20 83h1v2h-1zM20 87h1v1h-1zM20 99h1v1h-1zM20 105h1v1h-1zM20 142h1v2h-1zM20 146h1v1h-1zM20 156h1v1h-1zM21 15h1v1h-1zM21 22h1v1h-1zM21 27h1v1h-1zM21 46h1v1h-1zM21 56h1v1h-1zM21 82h1v1h-1zM21 87h1v2h-1zM21 90h1v1h-1zM21 95h1v1h-1zM21 104h1v1h-1zM21 106h1v1h-1zM21 123h1v1h-1zM21 126h1v1h-1zM21 146h1v1h-1zM21 155h1v1h-1zM21 161h1v1h-1zM21 165h1v1h-1zM21 190h1v1h-1zM21 192h1v1h-1zM22 10h1v1h-1zM22 17h1v1h-1zM22 33h1v1h-1zM22 53h1v1h-1zM22 59h1v1h-1zM22 76h1v1h-1zM22 78h1v1h-1zM22 121h1v1h-1zM22 139h1v1h-1zM22 143h1v1h-1zM22 145h1v1h-1zM22 148h1v1h-1zM22 155h1v1h-1zM22 161h1v1h-1zM22 165h1v1h-1zM22 175h1v1h-1zM22 189h1v2h-1zM22 196h1v1h-1zM23 22h1v1h-1zM23 37h1v1h-1zM23 70h1v1h-1zM23 78h1v1h-1zM23 98h1v1h-1zM23 109h1v3h-1zM23 170h1v1h-1zM23 182h1v1h-1zM23 195h1v1h-1zM24 21h1v1h-1zM24 61h1v1h-1zM24 76h1v1h-1zM24 111h1v1h-1zM24 142h1v1h-1zM24 150h1v1h-1zM24 157h1v1h-1zM24 159h1v1h-1zM24 182h1v1h-1zM24 187h1v1h-1zM24 190h1v1h-1zM25 21h1v1h-1zM25 31h1v2h-1zM25 35h1v1h-1zM25 45h1v1h-1zM25 53h1v2h-1zM25 80h1v1h-1zM25 85h1v1h-1zM25 142h1v1h-1zM25 144h1v1h-1zM25 185h1v1h-1zM25 187h1v1h-1zM25 190h1v1h-1zM25 198h1v1h-1zM26 3h1v1h-1zM26 9h1v1h-1zM26 35h1v1h-1zM26 41h1v1h-1zM26 44h1v1h-1zM26 47h1v1h-1zM26 53h1v1h-1zM26 55h1v2h-1zM26 59h1v1h-1zM26 71h1v1h-1zM26 73h1v1h-1zM26 82h1v1h-1zM26 97h1v1h-1zM26 102h1v1h-1zM26 108h1v1h-1zM26 116h1v1h-1zM26 135h1v1h-1zM26 141h1v1h-1zM26 148h1v1h-1zM26 153h1v1h-1zM26 156h1v1h-1zM26 160h1v1h-1zM26 178h1v2h-1zM26 184h1v2h-1zM27 0h1v1h-1zM27 32h1v1h-1zM27 35h1v2h-1zM27 42h1v2h-1zM27 47h1v2h-1zM27 57h1v1h-1zM27 70h1v1h-1zM27 73h1v1h-1zM27 77h1v1h-1zM27 85h1v1h-1zM27 88h1v1h-1zM27 90h1v1h-1zM27 96h1v1h-1zM27 102h1v1h-1zM27 104h1v1h-1zM27 106h1v1h-1zM27 116h1v1h-1zM27 119h1v1h-1zM27 130h1v1h-1zM27 132h1v1h-1zM27 141h1v1h-1zM27 145h1v1h-1zM27 148h1v1h-1zM27 154h1v1h-1zM27 159h1v1h-1zM27 171h1v1h-1zM27 191h1v1h-1zM27 195h1v1h-1zM28 6h1v1h-1zM28 15h1v1h-1zM28 35h1v1h-1zM28 43h1v1h-1zM28 60h1v1h-1zM28 64h1v1h-1zM28 75h1v2h-1zM28 81h1v1h-1zM28 83h1v1h-1zM28 95h1v2h-1zM28 124h1v1h-1zM28 132h1v2h-1zM28 135h1v1h-1zM28 153h1v1h-1zM28 157h1v1h-1zM28 162h1v1h-1zM28 165h1v1h-1zM28 170h1v1h-1zM28 172h1v1h-1zM28 178h1v1h-1zM28 180h1v1h-1zM28 193h1v1h-1zM28 195h1v1h-1zM29 13h1v2h-1zM29 26h1v1h-1zM29 31h1v1h-1zM29 36h1v1h-1zM29 44h1v1h-1zM29 46h1v1h-1zM29 53h1v1h-1zM29 73h1v2h-1zM29 82h1v1h-1zM29 86h1v3h-1zM29 91h1v1h-1zM29 94h1v1h-1zM29 125h1v1h-1zM29 133h1v1h-1zM29 135h1v1h-1zM29 143h1v1h-1zM29 146h1v1h-1zM29 151h1v1h-1zM29 160h1v1h-1zM30 7h1v1h-1zM30 15h1v1h-1zM30 30h1v1h-1zM30 36h1v1h-1zM30 47h1v1h-1zM30 63h1v1h-1zM30 78h1v1h-1zM30 86h1v2h-1zM30 91h1v1h-1zM30 107h1v1h-1zM30 121h1v1h-1zM30 130h1v1h-1zM30 154h1v1h-1zM30 166h1v1h-1zM30 190h1v2h-1zM30 193h1v1h-1zM30 195h1v1h-1zM31 1h1v1h-1zM31 5h1v1h-1zM31 12h1v1h-1zM31 30h1v1h-1zM31 59h1v1h-1zM31 62h1v1h-1zM31 72h1v1h-1zM31 78h1v1h-1zM31 86h1v1h-1zM31 91h1v1h-1zM31 142h1v1h-1zM31 170h1v2h-1zM31 180h1v1h-1zM31 199h1v1h-1zM32 0h1v1h-1zM32 6h1v1h-1zM32 11h1v1h-1zM32 19h1v1h-1zM32 31h1v1h-1zM32 38h1v1h-1zM32 44h1v1h-1zM32 49h1v1h-1zM32 51h1v1h-1zM32 61h1v1h-1zM32 68h1v1h-1zM32 71h1v1h-1zM32 74h1v1h-1zM32 84h1v1h-1zM32 91h1v1h-1zM32 96h1v1h-1zM32 115h1v1h-1zM32 121h1v1h-1zM32 123h1v1h-1zM32 135h1v1h-1zM32 163h1v1h-1zM32 165h1v1h-1zM32 171h1v1h-1zM32 190h1v1h-1zM33 19h1v1h-1zM33 44h1v1h-1zM33 47h1v1h-1zM33 54h1v2h-1zM33 64h1v1h-1zM33 79h1v1h-1zM33 91h1v1h-1zM33 94h1v1h-1zM33 120h1v1h-1zM33 124h1v2h-1zM33 127h1v2h-1zM33 135h1v2h-1zM33 175h1v1h-1zM33 189h1v1h-1zM33 198h1v1h-1zM34 21h1v1h-1zM34 23h1v1h-1zM34 26h1v1h-1zM34 33h1v1h-1zM34 37h1v1h-1zM34 40h1v2h-1zM34 48h1v2h-1zM34 51h1v2h-1zM34 60h1v1h-1zM34 70h1v1h-1zM34 78h1v1h-1zM34 87h1v1h-1zM34 91h1v1h-1zM34 96h1v1h-1zM34 114h1v1h-1zM34 120h1v1h-1zM34 135h1v2h-1zM34 142h1v1h-1zM34 146h1v1h-1zM34 151h1v2h-1zM34 154h1v1h-1zM34 159h1v1h-1zM34 165h1v1h-1zM35 28h1v1h-1zM35 30h1v1h-1zM35 32h1v1h-1zM35 36h1v1h-1zM35 55h1v1h-1zM35 79h1v1h-1zM35 123h1v1h-1zM35 127h1v1h-1zM35 136h1v1h-1zM35 153h1v1h-1zM35 171h1v1h-1zM35 184h1v1h-1zM36 4h1v1h-1zM36 11h1v1h-1zM36 18h1v1h-1zM36 21h1v2h-1zM36 26h1v1h-1zM36 33h1v1h-1zM36 40h1v2h-1zM36 44h1v1h-1zM36 61h1v1h-1zM36 68h1v1h-1zM36 76h1v1h-1zM36 79h1v1h-1zM36 91h1v1h-1zM36 96h1v1h-1zM36 106h1v1h-1zM36 135h1v2h-1zM37 20h1v1h-1zM37 32h1v1h-1zM37 41h1v1h-1zM37 47h1v1h-1zM37 62h1v1h-1zM37 72h1v1h-1zM37 77h1v3h-1zM37 99h1v1h-1zM37 115h1v1h-1zM37 142h1v1h-1zM37 153h1v1h-1zM37 170h1v1h-1zM37 188h1v2h-1zM37 199h1v1h-1z"/>
<path fill="#dad1d4" d="M0 8h1v1h-1zM0 36h1v1h-1zM0 40h1v1h-1zM0 50h1v1h-1zM0 54h1v1h-1zM0 57h1v1h-1zM0 73h1v1h-1zM0 78h1v1h-1zM0 80h1v1h-1zM0 97h1v1h-1zM0 132h1v1h-1zM0 150h1v1h-1zM0 165h1v1h-1zM0 172h1v1h-1zM0 174h1v1h-1zM0 176h1v1h-1zM1 6h1v1h-1zM1 10h1v1h-1zM1 16h1v1h-1zM1 24h1v3h-1zM1 41h1v1h-1zM1 44h1v1h-1zM1 49h1v1h-1zM1 52h1v1h-1zM1 54h1v1h-1zM1 67h1v2h-1zM1 90h1v1h-1zM1 115h1v1h-1zM1 119h1v1h-1zM1 135h1v1h-1zM1 140h1v1h-1zM1 148h1v1h-1zM1 163h1v1h-1zM1 169h1v1h-1zM1 172h1v1h-1zM1 190h1v1h-1zM2 7h1v2h-1zM2 21h1v1h-1zM2 36h1v1h-1zM2 40h1v1h-1zM2 43h1v1h-1zM2 49h1v1h-1zM2 62h1v1h-1zM2 71h1v1h-1zM2 75h1v1h-1zM2 90h1v1h-1zM2 93h1v1h-1zM2 101h1v1h-1zM2 140h1v1h-1zM2 167h1v1h-1zM2 171h1v1h-1zM3 7h1v1h-1zM3 31h1v1h-1zM3 38h1v1h-1zM3 40h1v1h-1zM3 64h1v1h-1zM3 68h1v1h-1zM3 87h1v1h-1zM3 91h1v2h-1zM3 97h1v1h-1zM3 134h1v2h-1zM3 152h1v1h-1zM3 160h1v1h-1zM3 170h1v2h-1zM3 190h1v1h-1zM4 5h1v1h-1zM4 22h1v1h-1zM4 26h1v2h-1zM4 32h1v1h-1zM4 36h1v1h-1zM4 41h1v1h-1zM4 52h1v1h-1zM4 59h1v1h-1zM4 61h1v1h-1zM4 66h1v2h-1zM4 69h1v1h-1zM4 73h1v1h-1zM4 104h1v1h-1zM4 106h1v1h-1zM4 116h1v1h-1zM4 120h1v1h-1zM4 122h1v1h-1zM4 137h1v1h-1zM4 139h1v1h-1zM4 148h1v1h-1zM4 155h1v1h-1zM4 160h1v1h-1zM5 5h1v1h-1zM5 14h1v1h-1zM5 29h1v1h-1zM5 49h1v1h-1zM5 112h1v1h-1zM5 121h1v1h-1zM5 125h1v1h-1zM5 134h1v1h-1zM5 136h1v1h-1zM5 161h1v1h-1zM5 172h1v1h-1zM6 17h1v1h-1zM6 25h1v1h-1zM6 31h1v2h-1zM6 38h1v1h-1zM6 61h1v1h-1zM6 70h1v1h-1zM6 82h1v1h-1zM6 98h1v1h-1zM6 125h1v1h-1zM6 134h1v1h-1zM6 155h1v1h-1zM6 179h1v1h-1zM7 12h1v1h-1zM7 17h1v1h-1zM7 22h1v1h-1zM7 38h1v1h-1zM7 41h1v1h-1zM7 49h1v1h-1zM7 52h1v1h-1zM7 81h1v2h-1zM7 84h1v1h-1zM7 106h1v1h-1zM7 116h1v1h-1zM7 123h1v1h-1zM7 163h1v1h-1zM7 178h1v2h-1zM7 183h1v1h-1zM7 188h1v1h-1zM7 198h1v1h-1zM8 6h1v1h-1zM8 8h1v1h-1zM8 11h1v1h-1zM8 22h1v1h-1zM8 26h1v1h-1zM8 33h1v1h-1zM8 45h1v1h-1zM8 59h1v1h-1zM8 61h1v1h-1zM8 66h1v1h-1zM8 94h1v1h-1zM8 97h1v1h-1zM8 116h1v1h-1zM8 131h1v1h-1zM8 140h1v1h-1zM8 155h1v1h-1zM8 175h1v1h-1zM9 24h1v1h-1zM9 46h1v1h-1zM9 57h1v1h-1zM9 64h1v1h-1zM9 76h1v1h-1zM9 78h1v1h-1zM9 83h1v1h-1zM9 88h1v1h-1zM9 130h1v1h-1zM9 141h1v1h-1zM9 155h1v1h-1zM10 1h1v1h-1zM10 10h1v1h-1zM10 14h1v1h-1zM10 38h1v1h-1zM10 58h1v1h-1zM10 69h1v1h-1zM10 92h1v1h-1zM10 104h1v1h-1zM10 108h1v1h-1zM10 119h1v2h-1zM10 128h1v1h-1zM10 144h1v1h-1zM10 161h1v2h-1zM10 184h1v1h-1zM11 19h1v1h-1zM11 38h1v1h-1zM11 51h1v1h-1zM11 76h1v1h-1zM11 78h1v1h-1zM11 88h1v1h-1zM11 109h1v1h-1zM11 114h1v1h-1zM11 121h1v1h-1zM11 126h1v1h-1zM11 129h1v2h-1zM12 8h1v1h-1zM12 13h1v2h-1zM12 27h1v2h-1zM12 31h1v1h-1zM12 38h1v1h-1zM12 108h1v2h-1zM12 118h1v1h-1zM12 161h1v1h-1zM12 173h1v1h-1zM12 179h1v1h-1zM13 16h1v2h-1zM13 19h1v1h-1zM13 23h1v1h-1zM13 27h1v1h-1zM13 43h1v1h-1zM13 47h1v1h-1zM13 58h1v2h-1zM13 68h1v1h-1zM13 70h1v1h-1zM13 82h1v1h-1zM13 86h1v1h-1zM13 107h1v1h-1zM13 126h1v1h-1zM13 139h1v1h-1zM13 148h1v1h-1zM13 160h1v2h-1zM13 176h1v1h-1zM13 189h1v2h-1zM14 10h1v1h-1zM14 18h1v1h-1zM14 30h1v1h-1zM14 51h1v1h-1zM14 68h1v1h-1zM14 74h1v1h-1zM14 99h1v1h-1zM14 106h1v1h-1zM14 123h1v1h-1zM14 131h1v1h-1zM14 159h1v1h-1zM14 163h1v1h-1zM14 183h1v1h-1zM14 190h1v1h-1zM14 198h1v2h-1zM15 4h1v1h-1zM15 15h1v2h-1zM15 24h1v1h-1zM15 31h1v1h-1zM15 43h1v1h-1zM15 45h1v1h-1zM15 59h1v2h-1zM15 76h1v1h-1zM15 94h1v1h-1zM15 107h1v2h-1zM15 116h1v1h-1zM15 127h1v1h-1zM15 131h1v1h-1zM15 149h1v1h-1zM15 155h1v1h-1zM15 166h1v1h-1zM15 180h1v1h-1zM15 192h1v1h-1zM15 199h1v1h-1zM16 4h1v1h-1zM16 64h1v1h-1zM16 69h1v1h-1zM16 77h1v1h-1zM16 81h1v1h-1zM16 88h1v1h-1zM16 102h1v1h-1zM16 109h1v1h-1zM16 127h1v1h-1zM16 139h1v1h-1zM16 145h1v1h-1zM16 166h1v1h-1zM16 176h1v1h-1zM16 184h1v1h-1zM16 199h1v1h-1zM17 4h1v1h-1zM17 24h1v1h-1zM17 30h1v1h-1zM17 38h1v1h-1zM17 57h1v1h-1zM17 68h1v1h-1zM17 94h1v1h-1zM17 121h1v3h-1zM17 132h1v1h-1zM17 177h1v1h-1zM17 183h1v2h-1zM17 189h1v1h-1zM17 193h1v1h-1zM17 199h1v1h-1zM18 4h1v1h-1zM18 12h1v1h-1zM18 15h1v2h-1zM18 18h1v1h-1zM18 38h1v1h-1zM18 43h1v1h-1zM18 59h1v1h-1zM18 68h1v1h-1zM18 75h1v2h-1zM18 84h1v1h-1zM18 86h1v1h-1zM18 107h1v1h-1zM18 110h1v1h-1zM18 125h1v1h-1zM18 130h1v1h-1zM18 152h1v1h-1zM18 163h1v1h-1zM18 166h1v1h-1zM18 172h1v1h-1zM18 183h1v1h-1zM18 188h1v1h-1zM18 198h1v1h-1zM19 8h1v1h-1zM19 13h1v1h-1zM19 26h1v1h-1zM19 33h1v1h-1zM19 39h1v1h-1zM19 63h1v1h-1zM19 72h1v1h-1zM19 74h1v1h-1zM19 82h1v1h-1zM19 84h1v1h-1zM19 99h1v1h-1zM19 122h1v1h-1zM19 132h1v1h-1zM19 151h1v1h-1zM19 176h1v1h-1zM19 187h1v1h-1zM20 17h1v1h-1zM20 22h1v1h-1zM20 31h1v1h-1zM20 48h1v1h-1zM20 61h1v1h-1zM20 70h1v1h-1zM20 76h1v1h-1zM20 81h1v1h-1zM20 92h1v1h-1zM20 104h1v1h-1zM20 106h1v1h-1zM20 111h1v1h-1zM20 113h1v1h-1zM20 162h1v1h-1zM20 177h1v1h-1zM21 13h1v1h-1zM21 35h1v1h-1zM21 49h1v1h-1zM21 53h1v1h-1zM21 63h1v2h-1zM21 76h1v1h-1zM21 86h1v1h-1zM21 94h1v1h-1zM21 121h1v1h-1zM21 142h1v2h-1zM21 145h1v1h-1zM21 150h1v1h-1zM21 162h1v1h-1zM21 171h1v1h-1zM22 4h1v1h-1zM22 12h1v2h-1zM22 26h1v1h-1zM22 31h1v1h-1zM22 35h1v1h-1zM22 46h1v1h-1zM22 56h1v1h-1zM22 64h1v1h-1zM22 119h1v2h-1zM22 123h1v2h-1zM22 137h1v1h-1zM22 184h1v1h-1zM23 25h1v2h-1zM23 30h1v1h-1zM23 33h1v1h-1zM23 40h1v1h-1zM23 42h1v1h-1zM23 47h1v1h-1zM23 55h1v1h-1zM23 61h1v1h-1zM23 66h1v1h-1zM23 85h1v1h-1zM23 101h1v1h-1zM23 106h1v2h-1zM23 144h1v1h-1zM23 159h1v1h-1zM23 181h1v1h-1zM23 193h1v1h-1zM24 25h1v2h-1zM24 40h1v2h-1zM24 55h1v1h-1zM24 65h1v2h-1zM24 69h1v1h-1zM24 84h1v2h-1zM24 98h1v1h-1zM24 109h1v2h-1zM24 126h1v1h-1zM24 170h1v1h-1zM24 174h1v1h-1zM24 181h1v1h-1zM24 184h1v1h-1zM24 198h1v1h-1zM25 20h1v1h-1zM25 23h1v1h-1zM25 36h1v1h-1zM25 39h1v1h-1zM25 59h1v2h-1zM25 69h1v1h-1zM25 72h1v1h-1zM25 76h1v1h-1zM25 97h1v1h-1zM25 109h1v1h-1zM25 139h1v2h-1zM25 143h1v1h-1zM25 152h1v1h-1zM25 156h1v1h-1zM25 162h1v2h-1zM25 172h1v1h-1zM26 6h1v1h-1zM26 8h1v1h-1zM26 19h1v1h-1zM26 29h1v1h-1zM26 48h1v1h-1zM26 64h1v1h-1zM26 67h1v1h-1zM26 69h1v1h-1zM26 72h1v1h-1zM26 90h1v1h-1zM26 114h1v1h-1zM26 119h1v1h-1zM26 124h1v1h-1zM26 159h1v1h-1zM26 162h1v1h-1zM26 171h1v1h-1zM26 173h1v2h-1zM26 194h1v1h-1zM27 15h1v1h-1zM27 19h1v2h-1zM27 38h1v2h-1zM27 41h1v1h-1zM27 49h1v1h-1zM27 64h1v1h-1zM27 69h1v1h-1zM27 83h1v2h-1zM27 108h1v1h-1zM27 122h1v1h-1zM27 131h1v1h-1zM27 143h1v1h-1zM27 153h1v1h-1zM27 162h1v1h-1zM27 178h1v1h-1zM27 194h1v1h-1zM28 24h1v1h-1zM28 32h1v1h-1zM28 36h1v1h-1zM28 50h1v1h-1zM28 56h1v1h-1zM28 67h1v1h-1zM28 84h1v1h-1zM28 104h1v3h-1zM28 123h1v1h-1zM28 131h1v1h-1zM28 134h1v1h-1zM28 146h1v1h-1zM28 154h1v2h-1zM28 167h1v1h-1zM28 176h1v1h-1zM28 179h1v1h-1zM29 6h1v1h-1zM29 8h1v1h-1zM29 10h1v1h-1zM29 17h1v1h-1zM29 28h1v1h-1zM29 33h1v1h-1zM29 40h1v1h-1zM29 42h1v1h-1zM29 81h1v1h-1zM29 89h1v1h-1zM29 108h1v1h-1zM29 110h1v1h-1zM29 118h1v1h-1zM29 120h1v1h-1zM29 142h1v1h-1zM29 168h1v1h-1zM29 182h1v1h-1zM29 187h1v1h-1zM30 10h1v1h-1zM30 17h1v1h-1zM30 31h1v2h-1zM30 42h1v1h-1zM30 46h1v1h-1zM30 72h1v3h-1zM30 82h1v1h-1zM30 89h1v1h-1zM30 100h1v1h-1zM30 103h1v1h-1zM30 111h1v1h-1zM30 129h1v1h-1zM30 140h1v1h-1zM30 163h1v1h-1zM31 17h1v2h-1zM31 26h1v1h-1zM31 36h1v1h-1zM31 44h1v1h-1zM31 61h1v1h-1zM31 81h1v2h-1zM31 88h1v2h-1zM31 120h1v1h-1zM31 135h1v1h-1zM31 139h1v1h-1zM31 141h1v1h-1zM31 143h1v1h-1zM31 147h1v1h-1zM31 149h1v1h-1zM31 159h1v1h-1zM31 166h1v1h-1zM31 190h1v1h-1zM32 3h1v1h-1zM32 10h1v1h-1zM32 18h1v1h-1zM32 26h1v1h-1zM32 28h1v1h-1zM32 33h1v1h-1zM32 37h1v1h-1zM32 59h1v1h-1zM32 65h1v1h-1zM32 73h1v1h-1zM32 77h1v1h-1zM32 79h1v1h-1zM32 99h1v1h-1zM32 103h1v2h-1zM32 108h1v1h-1zM32 126h1v1h-1zM32 136h1v1h-1zM32 158h1v1h-1zM32 183h1v1h-1zM32 188h1v1h-1zM33 10h1v1h-1zM33 14h1v1h-1zM33 18h1v1h-1zM33 26h1v1h-1zM33 29h1v1h-1zM33 33h1v1h-1zM33 39h1v1h-1zM33 48h1v1h-1zM33 68h1v1h-1zM33 71h1v1h-1zM33 75h1v1h-1zM33 98h1v1h-1zM33 109h1v1h-1zM33 142h1v1h-1zM33 184h1v1h-1zM34 10h1v1h-1zM34 12h1v1h-1zM34 18h1v1h-1zM34 44h1v1h-1zM34 71h1v1h-1zM34 75h1v1h-1zM34 88h1v1h-1zM34 153h1v1h-1zM35 0h1v1h-1zM35 5h1v3h-1zM35 19h1v1h-1zM35 27h1v1h-1zM35 41h1v1h-1zM35 75h1v1h-1zM35 80h1v1h-1zM35 88h1v1h-1zM35 106h1v1h-1zM35 109h1v1h-1zM35 124h1v1h-1zM35 129h1v1h-1zM35 135h1v1h-1zM35 170h1v1h-1zM35 189h1v2h-1zM36 6h1v1h-1zM36 8h1v1h-1zM36 12h1v1h-1zM36 14h1v1h-1zM36 19h1v1h-1zM36 34h1v1h-1zM36 37h1v1h-1zM36 59h1v1h-1zM36 67h1v1h-1zM36 71h1v1h-1zM36 77h1v1h-1zM36 80h1v1h-1zM36 99h1v1h-1zM36 108h1v2h-1zM36 125h1v1h-1zM36 142h1v1h-1zM36 151h1v1h-1zM36 153h1v2h-1zM36 163h1v1h-1zM36 190h1v1h-1zM37 3h1v1h-1zM37 10h1v1h-1zM37 18h1v1h-1zM37 29h1v1h-1zM37 37h1v1h-1zM37 39h1v1h-1zM37 49h1v1h-1zM37 56h1v1h-1zM37 64h1v1h-1zM37 80h1v1h-1zM37 103h1v1h-1zM37 106h1v1h-1zM37 128h1v1h-1zM37 133h1v1h-1zM37 148h1v1h-1zM37 151h1v1h-1zM37 163h1v1h-1zM37 184h1v1h-1z"/>
<path fill="#ced6de" d="M0 10h1v1h-1zM0 53h1v1h-1zM0 55h1v1h-1zM0 59h1v1h-1zM0 65h1v1h-1zM0 93h1v1h-1zM0 106h1v1h-1zM0 109h1v1h-1zM0 112h1v1h-1zM0 121h1v2h-1zM0 124h1v1h-1zM0 129h1v1h-1zM0 140h1v1h-1zM0 146h1v1h-1zM0 168h1v1h-1zM0 170h1v1h-1zM0 183h1v1h-1zM0 189h1v1h-1zM0 193h1v1h-1zM0 195h1v1h-1zM1 0h1v1h-1zM1 22h1v1h-1zM1 30h1v1h-1zM1 46h1v1h-1zM1 55h1v1h-1zM1 61h1v1h-1zM1 77h1v1h-1zM1 82h1v1h-1zM1 84h1v1h-1zM1 114h1v1h-1zM1 120h1v1h-1zM1 142h1v1h-1zM1 149h1v1h-1zM1 182h1v1h-1zM1 198h1v1h-1zM2 0h1v1h-1zM2 9h1v1h-1zM2 44h1v1h-1zM2 48h1v1h-1zM2 63h1v1h-1zM2 67h1v1h-1zM2 100h1v1h-1zM2 102h1v1h-1zM2 105h1v2h-1zM2 120h1v1h-1zM2 123h1v1h-1zM2 148h1v1h-1zM2 159h1v1h-1zM2 168h1v1h-1zM2 188h1v1h-1zM3 35h1v1h-1zM3 41h1v1h-1zM3 47h1v1h-1zM3 70h1v1h-1zM3 93h1v1h-1zM3 113h1v1h-1zM3 123h1v1h-1zM3 128h1v1h-1zM3 137h1v2h-1zM3 144h1v1h-1zM3 155h1v1h-1zM3 172h1v1h-1zM3 174h1v1h-1zM3 191h1v1h-1zM4 7h1v1h-1zM4 14h1v1h-1zM4 35h1v1h-1zM4 50h1v1h-1zM4 54h1v1h-1zM4 72h1v1h-1zM4 91h1v1h-1zM4 119h1v1h-1zM4 124h1v1h-1zM4 129h1v1h-1zM4 133h1v1h-1zM4 159h1v1h-1zM4 164h1v1h-1zM4 172h1v1h-1zM4 176h1v1h-1zM4 188h1v1h-1zM4 198h1v1h-1zM5 4h1v1h-1zM5 39h1v1h-1zM5 52h1v1h-1zM5 62h1v1h-1zM5 65h1v1h-1zM5 75h1v1h-1zM5 77h1v2h-1zM5 93h1v1h-1zM5 96h1v1h-1zM5 101h1v1h-1zM5 106h1v1h-1zM5 114h1v1h-1zM5 126h1v1h-1zM5 131h1v1h-1zM5 133h1v1h-1zM5 149h1v1h-1zM5 164h1v1h-1zM5 176h1v1h-1zM5 188h1v1h-1zM5 191h1v1h-1zM6 33h1v3h-1zM6 51h1v1h-1zM6 62h1v1h-1zM6 65h1v1h-1zM6 91h1v1h-1zM6 93h1v1h-1zM6 96h1v1h-1zM6 116h1v1h-1zM6 123h1v1h-1zM6 130h1v1h-1zM6 143h1v1h-1zM6 147h1v1h-1zM6 150h1v1h-1zM6 166h1v1h-1zM6 176h1v1h-1zM6 183h1v2h-1zM6 191h1v1h-1zM6 198h1v2h-1zM7 24h1v1h-1zM7 47h1v1h-1zM7 62h1v1h-1zM7 77h1v2h-1zM7 101h1v1h-1zM7 117h1v3h-1zM7 130h1v2h-1zM7 135h1v1h-1zM7 142h1v1h-1zM7 161h1v1h-1zM7 191h1v2h-1zM7 199h1v1h-1zM8 15h1v1h-1zM8 39h1v1h-1zM8 62h1v1h-1zM8 65h1v1h-1zM8 72h1v1h-1zM8 87h1v1h-1zM8 90h1v1h-1zM8 108h1v2h-1zM8 125h1v1h-1zM8 130h1v1h-1zM8 152h1v1h-1zM8 154h1v1h-1zM8 160h1v1h-1zM8 163h1v2h-1zM9 36h1v1h-1zM9 49h1v1h-1zM9 59h1v1h-1zM9 63h1v1h-1zM9 86h1v2h-1zM9 116h1v1h-1zM9 118h1v1h-1zM9 132h1v1h-1zM9 134h1v1h-1zM9 151h1v2h-1zM9 158h1v1h-1zM9 160h1v1h-1zM9 164h1v1h-1zM9 168h1v2h-1zM9 183h1v1h-1zM9 190h1v2h-1zM10 45h1v1h-1zM10 48h1v1h-1zM10 54h1v1h-1zM10 57h1v1h-1zM10 60h1v1h-1zM10 76h1v1h-1zM10 83h1v1h-1zM10 93h1v1h-1zM10 99h1v1h-1zM10 131h1v1h-1zM10 151h1v1h-1zM10 153h1v2h-1zM10 174h1v1h-1zM11 54h1v1h-1zM11 61h1v1h-1zM11 86h1v1h-1zM11 93h1v1h-1zM11 101h1v1h-1zM11 128h1v1h-1zM11 156h1v1h-1zM11 171h1v1h-1zM11 173h1v1h-1zM11 184h1v1h-1zM12 3h1v1h-1zM12 23h1v1h-1zM12 29h1v1h-1zM12 45h1v1h-1zM12 48h1v1h-1zM12 56h1v1h-1zM12 60h1v1h-1zM12 76h1v1h-1zM12 79h1v1h-1zM12 131h1v1h-1zM12 135h1v1h-1zM12 141h1v2h-1zM12 144h1v1h-1zM12 151h1v1h-1zM12 181h1v1h-1zM12 185h1v1h-1zM13 1h1v1h-1zM13 3h1v1h-1zM13 14h1v1h-1zM13 41h1v1h-1zM13 77h1v1h-1zM13 80h1v2h-1zM13 128h1v1h-1zM13 134h1v1h-1zM13 163h1v1h-1zM13 168h1v1h-1zM13 180h1v1h-1zM13 186h1v1h-1zM13 188h1v1h-1zM13 193h1v1h-1zM13 198h1v1h-1zM14 6h1v1h-1zM14 14h1v1h-1zM14 52h1v1h-1zM14 62h1v1h-1zM14 65h1v1h-1zM14 77h1v1h-1zM14 86h1v1h-1zM14 101h1v1h-1zM14 104h1v1h-1zM14 110h1v1h-1zM14 121h1v1h-1zM14 136h1v1h-1zM14 161h1v1h-1zM14 167h1v1h-1zM14 179h1v1h-1zM14 181h1v1h-1zM14 188h1v1h-1zM15 10h1v1h-1zM15 20h1v2h-1zM15 44h1v1h-1zM15 52h1v1h-1zM15 57h1v1h-1zM15 75h1v1h-1zM15 77h1v1h-1zM15 87h1v1h-1zM15 101h1v1h-1zM15 146h1v1h-1zM15 160h1v1h-1zM15 170h1v1h-1zM15 176h1v1h-1zM15 183h1v3h-1zM15 193h1v2h-1zM16 19h1v1h-1zM16 22h1v1h-1zM16 38h1v1h-1zM16 44h1v1h-1zM16 49h1v1h-1zM16 65h1v1h-1zM16 73h1v1h-1zM16 90h1v1h-1zM16 100h1v2h-1zM16 129h1v1h-1zM16 136h1v2h-1zM16 157h1v1h-1zM16 182h1v1h-1zM16 197h1v1h-1zM17 3h1v1h-1zM17 19h1v1h-1zM17 28h1v1h-1zM17 43h1v1h-1zM17 69h1v1h-1zM17 79h1v1h-1zM17 102h1v1h-1zM17 135h1v1h-1zM17 157h1v1h-1zM17 159h1v1h-1zM17 161h1v1h-1zM17 170h1v1h-1zM17 179h1v1h-1zM17 181h1v1h-1zM17 188h1v1h-1zM18 1h1v1h-1zM18 50h1v1h-1zM18 67h1v1h-1zM18 82h1v1h-1zM18 102h1v2h-1zM18 113h1v1h-1zM18 129h1v1h-1zM18 141h1v1h-1zM18 146h1v1h-1zM18 156h1v2h-1zM18 160h1v2h-1zM18 164h1v1h-1zM18 168h1v1h-1zM18 197h1v1h-1zM19 16h1v1h-1zM19 71h1v1h-1zM19 89h1v1h-1zM19 96h1v1h-1zM19 111h1v1h-1zM19 113h1v1h-1zM19 126h1v1h-1zM19 146h1v1h-1zM19 149h1v1h-1zM19 173h1v1h-1zM19 179h1v1h-1zM19 191h1v3h-1zM20 4h1v1h-1zM20 28h1v1h-1zM20 30h1v1h-1zM20 43h1v1h-1zM20 52h1v1h-1zM20 54h1v1h-1zM20 89h1v1h-1zM20 94h1v1h-1zM20 97h1v1h-1zM20 108h1v1h-1zM20 121h1v1h-1zM20 138h1v1h-1zM20 164h1v2h-1zM20 172h1v1h-1zM20 178h1v1h-1zM20 181h1v4h-1zM20 198h1v1h-1zM21 8h1v1h-1zM21 50h1v1h-1zM21 59h1v1h-1zM21 71h1v1h-1zM21 85h1v1h-1zM21 96h1v1h-1zM21 107h1v1h-1zM21 118h1v3h-1zM21 128h1v1h-1zM21 133h1v1h-1zM21 157h1v1h-1zM21 181h1v2h-1zM21 185h1v1h-1zM21 189h1v1h-1zM21 191h1v1h-1zM21 193h1v1h-1zM22 8h1v1h-1zM22 11h1v1h-1zM22 43h1v1h-1zM22 52h1v1h-1zM22 62h1v1h-1zM22 85h1v1h-1zM22 88h1v1h-1zM22 96h1v1h-1zM22 142h1v1h-1zM22 147h1v1h-1zM22 160h1v1h-1zM22 173h1v1h-1zM22 177h1v1h-1zM22 183h1v1h-1zM22 192h1v1h-1zM22 198h1v2h-1zM23 44h1v1h-1zM23 63h1v1h-1zM23 77h1v1h-1zM23 79h1v1h-1zM23 88h1v1h-1zM23 95h1v1h-1zM23 100h1v1h-1zM23 104h1v1h-1zM23 116h1v1h-1zM23 121h1v1h-1zM23 127h1v1h-1zM23 129h1v1h-1zM23 137h1v1h-1zM23 143h1v1h-1zM23 149h1v1h-1zM23 153h1v1h-1zM23 155h1v1h-1zM23 167h1v1h-1zM23 183h1v1h-1zM23 186h1v1h-1zM23 189h1v1h-1zM23 197h1v1h-1zM24 49h1v1h-1zM24 51h1v1h-1zM24 53h1v1h-1zM24 71h1v1h-1zM24 83h1v1h-1zM24 87h1v1h-1zM24 89h1v1h-1zM24 127h1v1h-1zM24 137h1v1h-1zM24 153h1v1h-1zM24 167h1v1h-1zM24 178h1v1h-1zM24 193h1v1h-1zM25 13h1v1h-1zM25 49h1v1h-1zM25 63h1v1h-1zM25 88h1v1h-1zM25 93h1v1h-1zM25 95h1v1h-1zM25 102h1v1h-1zM25 119h1v1h-1zM25 134h1v1h-1zM25 138h1v1h-1zM25 155h1v1h-1zM25 157h1v1h-1zM25 184h1v1h-1zM25 194h1v1h-1zM25 196h1v1h-1zM26 39h1v1h-1zM26 45h1v2h-1zM26 57h1v1h-1zM26 81h1v1h-1zM26 83h1v1h-1zM26 89h1v1h-1zM26 92h1v2h-1zM26 95h1v2h-1zM26 98h1v1h-1zM26 120h1v1h-1zM26 136h1v1h-1zM26 152h1v1h-1zM26 175h1v1h-1zM26 190h1v1h-1zM26 199h1v1h-1zM27 3h1v1h-1zM27 6h1v1h-1zM27 26h1v1h-1zM27 45h1v1h-1zM27 66h1v1h-1zM27 78h1v2h-1zM27 92h1v1h-1zM27 100h1v1h-1zM27 112h1v1h-1zM27 152h1v1h-1zM27 157h1v1h-1zM27 160h1v1h-1zM27 173h1v1h-1zM27 193h1v1h-1zM28 27h1v1h-1zM28 71h1v1h-1zM28 82h1v1h-1zM28 108h1v1h-1zM28 113h1v1h-1zM28 117h1v1h-1zM28 122h1v1h-1zM28 174h1v1h-1zM28 181h1v1h-1zM29 37h1v1h-1zM29 50h1v1h-1zM29 57h1v1h-1zM29 66h1v2h-1zM29 71h1v1h-1zM29 85h1v1h-1zM29 93h1v1h-1zM29 105h1v1h-1zM29 112h1v1h-1zM29 122h1v1h-1zM29 138h1v1h-1zM29 172h1v1h-1zM29 174h1v1h-1zM29 178h1v1h-1zM29 192h1v1h-1zM30 61h1v1h-1zM30 76h1v1h-1zM30 84h1v2h-1zM30 99h1v1h-1zM30 133h1v1h-1zM30 136h1v1h-1zM31 50h1v1h-1zM31 58h1v1h-1zM31 87h1v1h-1zM31 99h1v1h-1zM31 105h1v1h-1zM31 121h1v1h-1zM31 125h1v1h-1zM31 156h1v1h-1zM31 158h1v1h-1zM31 184h1v2h-1zM31 188h1v1h-1zM31 192h1v1h-1zM32 20h1v1h-1zM32 41h1v1h-1zM32 45h1v1h-1zM32 47h1v1h-1zM32 64h1v1h-1zM32 80h1v1h-1zM32 97h1v1h-1zM32 112h1v1h-1zM32 117h1v2h-1zM32 120h1v1h-1zM32 127h1v1h-1zM32 130h1v1h-1zM32 138h1v1h-1zM32 140h1v1h-1zM32 146h1v1h-1zM32 148h1v1h-1zM32 151h1v1h-1zM32 185h1v1h-1zM32 187h1v1h-1zM32 194h1v1h-1zM32 197h1v1h-1zM33 41h1v1h-1zM33 85h1v1h-1zM33 92h1v1h-1zM33 117h1v1h-1zM33 122h1v1h-1zM33 145h1v2h-1zM33 148h1v1h-1zM33 152h1v1h-1zM33 156h1v1h-1zM33 158h1v1h-1zM33 174h1v1h-1zM33 183h1v1h-1zM33 187h1v1h-1zM33 192h1v2h-1zM33 199h1v1h-1zM34 3h1v1h-1zM34 19h1v1h-1zM34 31h1v1h-1zM34 45h1v1h-1zM34 47h1v1h-1zM34 61h1v2h-1zM34 90h1v1h-1zM34 93h1v1h-1zM34 112h1v1h-1zM34 119h1v1h-1zM34 121h1v1h-1zM34 130h1v1h-1zM34 174h1v1h-1zM35 33h1v1h-1zM35 43h1v1h-1zM35 51h1v1h-1zM35 56h1v1h-1zM35 60h1v1h-1zM35 62h1v1h-1zM35 85h1v2h-1zM35 98h1v1h-1zM35 101h1v1h-1zM35 108h1v1h-1zM35 112h1v1h-1zM35 115h1v2h-1zM35 120h1v1h-1zM35 133h1v1h-1zM35 139h1v1h-1zM35 163h1v1h-1zM35 194h1v1h-1zM36 35h1v1h-1zM36 51h1v1h-1zM36 53h1v1h-1zM36 81h1v2h-1zM36 86h1v2h-1zM36 94h1v1h-1zM36 116h1v1h-1zM36 127h1v1h-1zM36 137h1v2h-1zM36 140h1v1h-1zM36 146h1v1h-1zM36 164h1v1h-1zM36 173h1v2h-1zM36 179h1v1h-1zM36 184h1v1h-1zM36 188h1v1h-1zM37 21h1v1h-1zM37 31h1v1h-1zM37 51h1v1h-1zM37 53h1v1h-1zM37 61h1v1h-1zM37 82h1v1h-1zM37 89h1v1h-1zM37 125h1v1h-1zM37 129h1v1h-1zM37 146h1v1h-1zM37 156h1v1h-1zM37 181h1v2h-1zM37 192h1v1h-1z"/>
<path fill="#dacbce" d="M0 11h1v1h-1zM0 32h1v1h-1zM0 62h1v1h-1zM0 66h1v1h-1zM0 69h1v1h-1zM0 83h1v1h-1zM0 98h1v1h-1zM0 102h1v1h-1zM0 117h1v3h-1zM0 127h1v1h-1zM0 177h1v1h-1zM1 15h1v1h-1zM1 29h1v1h-1zM1 66h1v1h-1zM1 83h1v1h-1zM1 88h1v1h-1zM1 95h1v1h-1zM1 112h1v1h-1zM1 130h1v1h-1zM1 136h1v1h-1zM1 141h1v1h-1zM1 152h1v1h-1zM1 161h1v1h-1zM2 1h1v1h-1zM2 3h1v1h-1zM2 24h1v1h-1zM2 42h1v1h-1zM2 66h1v1h-1zM2 82h1v1h-1zM2 88h1v1h-1zM2 97h1v1h-1zM2 104h1v1h-1zM2 115h1v1h-1zM2 135h1v1h-1zM2 142h1v1h-1zM2 170h1v1h-1zM3 8h1v1h-1zM3 21h1v1h-1zM3 24h1v1h-1zM3 26h1v1h-1zM3 44h1v1h-1zM3 67h1v1h-1zM3 83h1v1h-1zM3 95h1v1h-1zM3 129h1v2h-1zM3 153h1v1h-1zM3 158h1v1h-1zM3 168h1v1h-1zM3 176h1v1h-1zM4 9h1v2h-1zM4 12h1v1h-1zM4 31h1v1h-1zM4 38h1v1h-1zM4 43h1v2h-1zM4 51h1v1h-1zM4 56h1v1h-1zM4 64h1v1h-1zM4 80h1v1h-1zM4 89h1v1h-1zM4 142h1v1h-1zM4 179h1v1h-1zM4 182h1v1h-1zM5 7h1v1h-1zM5 11h1v1h-1zM5 18h1v1h-1zM5 32h1v1h-1zM5 38h1v1h-1zM5 69h1v1h-1zM5 73h1v2h-1zM5 84h1v1h-1zM5 116h1v1h-1zM5 120h1v1h-1zM5 122h1v1h-1zM5 167h1v1h-1zM5 175h1v1h-1zM5 179h1v1h-1zM6 12h1v1h-1zM6 29h1v1h-1zM6 46h1v1h-1zM6 52h1v1h-1zM6 75h1v1h-1zM6 84h1v1h-1zM6 89h1v1h-1zM6 94h1v1h-1zM6 117h1v1h-1zM6 122h1v1h-1zM6 182h1v1h-1zM6 195h1v1h-1zM7 23h1v1h-1zM7 29h1v1h-1zM7 56h1v1h-1zM7 64h1v1h-1zM7 66h1v1h-1zM7 68h1v2h-1zM7 75h1v1h-1zM7 92h1v1h-1zM7 112h1v1h-1zM7 120h1v1h-1zM8 3h1v1h-1zM8 7h1v1h-1zM8 27h1v1h-1zM8 36h1v1h-1zM8 53h1v1h-1zM8 64h1v1h-1zM8 88h1v1h-1zM8 104h1v1h-1zM8 161h1v1h-1zM8 178h1v1h-1zM9 3h1v1h-1zM9 28h1v1h-1zM9 30h1v1h-1zM9 44h1v1h-1zM9 51h1v1h-1zM9 66h1v1h-1zM9 71h1v1h-1zM9 81h1v1h-1zM9 111h1v1h-1zM9 121h1v1h-1zM9 154h1v1h-1zM9 157h1v1h-1zM9 161h1v1h-1zM9 192h1v1h-1zM9 197h1v1h-1zM10 21h1v1h-1zM10 27h1v1h-1zM10 43h1v1h-1zM10 59h1v1h-1zM10 61h1v1h-1zM10 84h1v1h-1zM10 89h1v1h-1zM10 109h1v1h-1zM10 115h1v1h-1zM10 139h1v1h-1zM10 160h1v1h-1zM10 165h1v1h-1zM10 173h1v1h-1zM10 190h1v1h-1zM10 199h1v1h-1zM11 7h1v2h-1zM11 14h1v1h-1zM11 16h1v1h-1zM11 22h1v1h-1zM11 84h1v1h-1zM11 89h1v1h-1zM11 115h1v1h-1zM11 120h1v1h-1zM11 151h1v1h-1zM11 190h1v1h-1zM11 198h1v1h-1zM12 35h1v1h-1zM12 51h1v1h-1zM12 74h1v1h-1zM12 82h1v1h-1zM12 90h1v1h-1zM12 104h1v1h-1zM12 114h1v2h-1zM12 138h1v2h-1zM12 190h1v1h-1zM12 198h1v1h-1zM13 7h1v1h-1zM13 29h1v1h-1zM13 51h1v1h-1zM13 61h1v1h-1zM13 108h1v1h-1zM13 112h1v1h-1zM13 119h1v1h-1zM13 137h1v2h-1zM13 166h1v1h-1zM13 195h1v1h-1zM14 4h1v2h-1zM14 20h1v1h-1zM14 32h1v1h-1zM14 61h1v1h-1zM14 84h1v1h-1zM14 100h1v1h-1zM14 109h1v1h-1zM14 141h1v2h-1zM15 3h1v1h-1zM15 18h1v1h-1zM15 23h1v1h-1zM15 27h1v1h-1zM15 30h1v1h-1zM15 48h1v1h-1zM15 84h1v1h-1zM15 86h1v1h-1zM15 99h1v1h-1zM15 106h1v1h-1zM15 134h1v1h-1zM16 27h1v1h-1zM16 42h1v1h-1zM16 76h1v1h-1zM16 78h1v1h-1zM16 123h1v1h-1zM16 126h1v1h-1zM16 159h1v1h-1zM16 171h1v1h-1zM16 177h1v1h-1zM17 9h1v1h-1zM17 12h1v1h-1zM17 16h1v1h-1zM17 20h1v1h-1zM17 31h1v1h-1zM17 33h1v1h-1zM17 36h1v1h-1zM17 64h1v1h-1zM17 84h1v1h-1zM17 96h1v1h-1zM17 100h1v1h-1zM17 109h1v1h-1zM17 140h1v1h-1zM17 142h1v1h-1zM17 145h1v1h-1zM17 152h1v1h-1zM17 190h1v1h-1zM18 0h1v1h-1zM18 33h1v1h-1zM18 37h1v1h-1zM18 40h1v1h-1zM18 48h1v2h-1zM18 53h1v1h-1zM18 109h1v1h-1zM18 127h1v1h-1zM18 134h1v1h-1zM18 159h1v1h-1zM18 171h1v1h-1zM18 180h1v1h-1zM19 5h1v1h-1zM19 9h1v2h-1zM19 14h1v1h-1zM19 23h1v1h-1zM19 53h1v1h-1zM19 66h1v2h-1zM19 80h1v1h-1zM19 101h1v1h-1zM19 131h1v1h-1zM19 161h1v1h-1zM19 199h1v1h-1zM20 9h1v1h-1zM20 46h1v1h-1zM20 63h1v1h-1zM20 75h1v1h-1zM20 78h1v1h-1zM20 82h1v1h-1zM20 86h1v1h-1zM20 117h1v1h-1zM20 120h1v1h-1zM20 123h1v1h-1zM20 145h1v1h-1zM20 148h1v1h-1zM20 155h1v1h-1zM20 161h1v1h-1zM20 168h1v1h-1zM20 190h1v1h-1zM21 10h1v2h-1zM21 16h1v1h-1zM21 33h1v1h-1zM21 37h1v1h-1zM21 41h1v1h-1zM21 48h1v1h-1zM21 52h1v1h-1zM21 65h1v1h-1zM21 70h1v1h-1zM21 81h1v1h-1zM21 130h1v2h-1zM21 148h1v1h-1zM21 170h1v1h-1zM22 9h1v1h-1zM22 24h1v1h-1zM22 32h1v1h-1zM22 49h1v1h-1zM22 95h1v1h-1zM22 104h1v1h-1zM22 117h1v1h-1zM22 134h1v1h-1zM22 153h1v1h-1zM22 156h1v2h-1zM22 162h1v2h-1zM22 170h1v1h-1zM23 12h1v1h-1zM23 36h1v1h-1zM23 38h1v1h-1zM23 43h1v1h-1zM23 56h1v1h-1zM23 59h1v2h-1zM23 65h1v1h-1zM23 75h1v2h-1zM23 126h1v1h-1zM23 184h1v1h-1zM23 187h1v1h-1zM23 192h1v1h-1zM24 5h1v1h-1zM24 12h1v1h-1zM24 24h1v1h-1zM24 30h1v1h-1zM24 42h1v1h-1zM24 59h1v1h-1zM24 97h1v1h-1zM24 101h1v1h-1zM24 107h1v1h-1zM24 140h1v1h-1zM24 162h1v1h-1zM24 176h1v1h-1zM25 18h1v1h-1zM25 24h1v1h-1zM25 26h1v1h-1zM25 30h1v1h-1zM25 40h1v3h-1zM25 74h1v2h-1zM25 117h1v1h-1zM25 133h1v1h-1zM25 181h1v1h-1zM26 2h1v1h-1zM26 12h1v2h-1zM26 32h1v1h-1zM26 49h1v2h-1zM26 74h1v1h-1zM26 109h1v1h-1zM26 126h1v1h-1zM26 132h1v1h-1zM26 154h1v1h-1zM26 157h1v1h-1zM26 172h1v1h-1zM26 182h1v1h-1zM27 1h1v2h-1zM27 8h1v2h-1zM27 75h1v1h-1zM27 110h1v1h-1zM27 123h1v1h-1zM27 140h1v1h-1zM27 147h1v1h-1zM27 155h1v2h-1zM27 168h1v1h-1zM27 170h1v1h-1zM27 172h1v1h-1zM28 2h1v1h-1zM28 9h1v1h-1zM28 13h1v1h-1zM28 16h1v1h-1zM28 37h1v1h-1zM28 55h1v1h-1zM28 59h1v1h-1zM28 121h1v1h-1zM28 141h1v1h-1zM28 143h1v1h-1zM28 148h1v1h-1zM28 173h1v1h-1zM28 182h1v1h-1zM29 12h1v1h-1zM29 16h1v1h-1zM29 24h1v2h-1zM29 34h1v1h-1zM29 90h1v1h-1zM29 96h1v2h-1zM29 139h1v1h-1zM29 152h1v1h-1zM30 3h1v1h-1zM30 14h1v1h-1zM30 16h1v1h-1zM30 26h1v1h-1zM30 37h1v1h-1zM30 68h1v1h-1zM30 83h1v1h-1zM30 97h1v1h-1zM30 131h1v1h-1zM30 142h1v2h-1zM30 150h1v1h-1zM30 159h1v1h-1zM30 187h1v1h-1zM30 199h1v1h-1zM31 10h1v1h-1zM31 13h1v1h-1zM31 16h1v1h-1zM31 40h1v1h-1zM31 69h1v1h-1zM31 75h1v1h-1zM31 110h1v1h-1zM31 118h1v1h-1zM31 131h1v1h-1zM31 168h1v1h-1zM32 14h1v1h-1zM32 22h1v2h-1zM32 34h1v1h-1zM32 36h1v1h-1zM32 88h1v1h-1zM32 106h1v1h-1zM32 110h1v1h-1zM32 154h1v1h-1zM33 6h1v1h-1zM33 12h1v1h-1zM33 27h1v1h-1zM33 36h1v1h-1zM33 60h1v1h-1zM33 70h1v1h-1zM33 72h1v1h-1zM33 77h1v2h-1zM33 80h1v1h-1zM33 90h1v1h-1zM33 96h1v1h-1zM33 104h1v1h-1zM33 106h1v1h-1zM33 116h1v1h-1zM33 129h1v1h-1zM33 149h1v1h-1zM33 169h1v1h-1zM34 5h1v1h-1zM34 11h1v1h-1zM34 15h1v1h-1zM34 27h1v1h-1zM34 68h1v2h-1zM34 79h1v1h-1zM34 106h1v1h-1zM34 108h1v1h-1zM34 126h1v1h-1zM34 129h1v1h-1zM34 189h1v2h-1zM34 198h1v1h-1zM35 3h1v1h-1zM35 26h1v1h-1zM35 54h1v1h-1zM35 67h1v1h-1zM35 77h1v1h-1zM35 107h1v1h-1zM35 126h1v1h-1zM36 0h1v1h-1zM36 7h1v1h-1zM36 36h1v1h-1zM36 38h1v1h-1zM36 54h1v1h-1zM36 113h1v2h-1zM36 124h1v1h-1zM36 128h1v1h-1zM36 170h1v1h-1zM37 0h1v1h-1zM37 2h1v1h-1zM37 6h1v1h-1zM37 33h1v1h-1zM37 42h1v1h-1zM37 60h1v1h-1zM37 63h1v1h-1zM37 71h1v1h-1zM37 96h1v1h-1zM37 107h1v1h-1zM37 109h1v2h-1zM37 136h1v1h-1zM37 152h1v1h-1zM37 169h1v1h-1z"/>
<path fill="#c8d3dd" d="M0 12h1v1h-1zM0 64h1v1h-1zM0 75h1v1h-1zM0 89h1v1h-1zM0 111h1v1h-1zM0 114h1v2h-1zM0 120h1v1h-1zM0 128h1v1h-1zM0 135h1v1h-1zM0 145h1v1h-1zM0 153h1v1h-1zM0 175h1v1h-1zM0 184h1v1h-1zM0 186h1v1h-1zM1 19h1v1h-1zM1 23h1v1h-1zM1 34h1v2h-1zM1 43h1v1h-1zM1 45h1v1h-1zM1 63h1v1h-1zM1 80h1v1h-1zM1 86h1v1h-1zM1 101h1v1h-1zM1 111h1v1h-1zM1 118h1v1h-1zM1 121h1v1h-1zM1 137h1v1h-1zM1 139h1v1h-1zM1 145h1v1h-1zM1 155h1v1h-1zM1 164h1v1h-1zM1 174h1v1h-1zM1 177h1v2h-1zM1 180h1v1h-1zM1 188h1v1h-1zM1 191h1v2h-1zM2 4h1v1h-1zM2 10h1v1h-1zM2 35h1v1h-1zM2 45h1v1h-1zM2 47h1v1h-1zM2 55h1v1h-1zM2 85h1v1h-1zM2 124h1v1h-1zM2 128h1v1h-1zM2 150h1v1h-1zM2 172h1v1h-1zM2 177h1v1h-1zM2 184h1v1h-1zM2 186h1v1h-1zM3 0h1v1h-1zM3 30h1v1h-1zM3 84h1v1h-1zM3 106h1v1h-1zM3 118h1v1h-1zM3 121h1v2h-1zM3 133h1v1h-1zM3 146h1v1h-1zM3 156h1v1h-1zM3 159h1v1h-1zM3 164h1v1h-1zM3 178h1v1h-1zM4 30h1v1h-1zM4 47h1v1h-1zM4 58h1v1h-1zM4 71h1v1h-1zM4 76h1v1h-1zM4 79h1v1h-1zM4 110h1v2h-1zM4 114h1v1h-1zM4 143h1v1h-1zM4 149h1v1h-1zM4 151h1v1h-1zM4 154h1v1h-1zM4 170h1v1h-1zM4 177h1v1h-1zM4 197h1v1h-1zM5 13h1v1h-1zM5 15h1v1h-1zM5 63h1v1h-1zM5 98h1v1h-1zM5 104h1v1h-1zM5 111h1v1h-1zM5 113h1v1h-1zM5 117h1v1h-1zM5 119h1v1h-1zM5 124h1v1h-1zM5 143h1v1h-1zM5 152h1v1h-1zM5 155h1v1h-1zM5 160h1v1h-1zM6 39h1v1h-1zM6 85h1v1h-1zM6 88h1v1h-1zM6 108h1v1h-1zM6 127h1v1h-1zM6 129h1v1h-1zM6 154h1v1h-1zM6 164h1v1h-1zM6 180h1v1h-1zM6 197h1v1h-1zM7 79h1v1h-1zM7 87h1v1h-1zM7 103h1v1h-1zM7 105h1v1h-1zM7 108h1v1h-1zM7 110h1v2h-1zM7 113h1v1h-1zM7 127h1v2h-1zM7 148h1v1h-1zM7 194h1v1h-1zM7 196h1v1h-1zM8 0h1v1h-1zM8 31h1v1h-1zM8 46h1v1h-1zM8 78h1v1h-1zM8 80h1v1h-1zM8 93h1v1h-1zM8 103h1v1h-1zM8 107h1v1h-1zM8 113h1v1h-1zM8 117h1v1h-1zM8 134h1v2h-1zM8 138h1v1h-1zM8 148h1v1h-1zM8 180h1v1h-1zM8 188h1v2h-1zM8 195h1v1h-1zM8 197h1v1h-1zM9 19h1v1h-1zM9 32h1v1h-1zM9 70h1v1h-1zM9 77h1v1h-1zM9 96h1v1h-1zM9 101h1v1h-1zM9 106h1v1h-1zM9 128h1v1h-1zM9 133h1v1h-1zM9 147h1v2h-1zM9 150h1v1h-1zM9 167h1v1h-1zM9 174h1v1h-1zM9 176h1v1h-1zM9 178h1v2h-1zM9 182h1v1h-1zM9 189h1v1h-1zM9 193h1v1h-1zM9 196h1v1h-1zM10 0h1v1h-1zM10 9h1v1h-1zM10 85h1v1h-1zM10 102h1v1h-1zM10 141h1v1h-1zM10 149h1v1h-1zM10 155h1v1h-1zM10 170h1v1h-1zM10 175h1v1h-1zM10 180h1v2h-1zM10 189h1v1h-1zM10 194h1v1h-1zM11 9h1v1h-1zM11 43h1v1h-1zM11 48h1v1h-1zM11 57h1v1h-1zM11 60h1v1h-1zM11 62h1v1h-1zM11 69h1v1h-1zM11 77h1v1h-1zM11 80h1v1h-1zM11 102h1v1h-1zM11 149h1v2h-1zM11 152h1v2h-1zM11 163h1v1h-1zM11 174h1v1h-1zM11 178h1v1h-1zM11 186h1v1h-1zM11 194h1v1h-1zM12 9h1v1h-1zM12 62h1v1h-1zM12 87h1v1h-1zM12 106h1v2h-1zM12 120h1v2h-1zM12 136h1v1h-1zM12 159h1v1h-1zM12 168h1v1h-1zM12 175h1v1h-1zM12 183h1v1h-1zM13 0h1v1h-1zM13 69h1v1h-1zM13 71h1v1h-1zM13 110h1v1h-1zM13 127h1v1h-1zM13 130h1v1h-1zM13 142h1v1h-1zM13 154h1v1h-1zM13 167h1v1h-1zM13 170h1v1h-1zM13 196h1v1h-1zM14 23h1v1h-1zM14 55h1v1h-1zM14 75h1v1h-1zM14 102h1v1h-1zM14 108h1v1h-1zM14 118h1v1h-1zM14 122h1v1h-1zM14 128h1v1h-1zM14 156h1v1h-1zM14 169h1v1h-1zM14 178h1v1h-1zM15 14h1v1h-1zM15 22h1v1h-1zM15 49h1v1h-1zM15 56h1v1h-1zM15 91h1v2h-1zM15 103h1v1h-1zM15 121h1v1h-1zM15 148h1v1h-1zM15 163h1v1h-1zM15 188h1v1h-1zM16 21h1v1h-1zM16 28h1v1h-1zM16 53h1v1h-1zM16 70h1v1h-1zM16 75h1v1h-1zM16 82h1v1h-1zM16 91h1v2h-1zM16 95h1v1h-1zM16 98h1v1h-1zM16 122h1v1h-1zM16 128h1v1h-1zM16 140h1v1h-1zM16 148h1v1h-1zM16 154h1v1h-1zM16 160h1v1h-1zM16 164h1v1h-1zM16 169h1v1h-1zM16 194h1v1h-1zM17 34h1v1h-1zM17 52h1v1h-1zM17 58h1v1h-1zM17 60h1v1h-1zM17 62h1v1h-1zM17 75h1v1h-1zM17 92h1v1h-1zM17 95h1v1h-1zM17 115h1v1h-1zM17 158h1v1h-1zM17 163h1v1h-1zM17 165h1v1h-1zM17 168h1v1h-1zM17 178h1v1h-1zM17 180h1v1h-1zM18 27h1v2h-1zM18 34h1v1h-1zM18 45h1v1h-1zM18 52h1v1h-1zM18 70h1v1h-1zM18 74h1v1h-1zM18 79h1v1h-1zM18 91h1v1h-1zM18 101h1v1h-1zM18 105h1v1h-1zM18 111h1v1h-1zM18 136h1v2h-1zM18 140h1v1h-1zM18 142h1v1h-1zM18 147h1v1h-1zM18 185h1v1h-1zM18 187h1v1h-1zM19 0h1v1h-1zM19 4h1v1h-1zM19 94h1v1h-1zM19 125h1v1h-1zM19 138h1v1h-1zM19 172h1v1h-1zM19 183h1v1h-1zM20 3h1v1h-1zM20 11h1v1h-1zM20 55h1v1h-1zM20 57h1v1h-1zM20 68h1v1h-1zM20 91h1v1h-1zM20 93h1v1h-1zM20 96h1v1h-1zM20 100h1v2h-1zM20 132h1v1h-1zM20 173h1v1h-1zM20 188h1v1h-1zM20 197h1v1h-1zM21 39h1v1h-1zM21 55h1v1h-1zM21 57h1v1h-1zM21 62h1v1h-1zM21 91h1v1h-1zM21 97h1v1h-1zM21 103h1v1h-1zM21 132h1v1h-1zM21 137h1v1h-1zM21 153h1v1h-1zM21 169h1v1h-1zM21 176h1v1h-1zM22 27h1v1h-1zM22 55h1v1h-1zM22 83h1v1h-1zM22 91h1v1h-1zM22 101h1v1h-1zM22 108h1v1h-1zM22 133h1v1h-1zM22 154h1v1h-1zM22 174h1v1h-1zM22 181h1v1h-1zM22 194h1v1h-1zM23 31h1v1h-1zM23 45h1v1h-1zM23 48h1v1h-1zM23 53h1v1h-1zM23 62h1v1h-1zM23 86h1v2h-1zM23 93h1v1h-1zM23 99h1v1h-1zM23 124h1v1h-1zM23 128h1v1h-1zM23 147h1v1h-1zM23 154h1v1h-1zM23 172h1v1h-1zM23 178h1v1h-1zM23 196h1v1h-1zM24 7h1v1h-1zM24 31h1v1h-1zM24 35h1v1h-1zM24 52h1v1h-1zM24 70h1v1h-1zM24 78h1v1h-1zM24 91h1v1h-1zM24 95h1v1h-1zM24 99h1v1h-1zM24 105h1v1h-1zM24 119h1v1h-1zM24 121h1v1h-1zM24 128h1v2h-1zM24 143h1v1h-1zM24 154h1v1h-1zM24 161h1v1h-1zM24 188h1v1h-1zM24 194h1v1h-1zM25 37h1v1h-1zM25 70h1v1h-1zM25 73h1v1h-1zM25 86h1v2h-1zM25 89h1v1h-1zM25 105h1v1h-1zM25 147h1v1h-1zM25 153h1v1h-1zM25 159h1v1h-1zM25 165h1v1h-1zM25 173h1v1h-1zM25 193h1v1h-1zM25 195h1v1h-1zM25 197h1v1h-1zM26 34h1v1h-1zM26 58h1v1h-1zM26 65h1v1h-1zM26 85h1v1h-1zM26 99h1v1h-1zM26 117h1v1h-1zM26 123h1v1h-1zM26 166h1v1h-1zM26 193h1v1h-1zM27 55h1v1h-1zM27 58h1v1h-1zM27 93h1v1h-1zM27 107h1v1h-1zM27 164h1v1h-1zM27 176h1v1h-1zM27 190h1v1h-1zM27 192h1v1h-1zM27 198h1v1h-1zM28 3h1v1h-1zM28 26h1v1h-1zM28 54h1v1h-1zM28 58h1v1h-1zM28 63h1v1h-1zM28 70h1v1h-1zM28 92h1v1h-1zM28 136h1v1h-1zM28 138h1v1h-1zM28 158h1v1h-1zM28 161h1v1h-1zM28 166h1v1h-1zM28 175h1v1h-1zM28 184h1v1h-1zM28 187h1v1h-1zM28 190h1v1h-1zM29 23h1v1h-1zM29 65h1v1h-1zM29 79h1v1h-1zM29 98h1v1h-1zM29 100h1v1h-1zM29 115h1v1h-1zM29 127h1v1h-1zM29 147h1v1h-1zM29 166h1v1h-1zM29 169h1v1h-1zM29 181h1v1h-1zM29 183h1v2h-1zM30 28h1v1h-1zM30 92h1v3h-1zM30 112h1v1h-1zM30 122h1v1h-1zM30 145h1v1h-1zM30 156h1v1h-1zM30 161h1v1h-1zM30 177h1v1h-1zM30 183h1v2h-1zM30 186h1v1h-1zM30 197h1v1h-1zM31 0h1v1h-1zM31 35h1v1h-1zM31 67h1v1h-1zM31 79h1v1h-1zM31 94h1v1h-1zM31 127h1v1h-1zM31 133h1v1h-1zM31 137h1v1h-1zM31 153h1v1h-1zM31 161h1v2h-1zM31 177h1v1h-1zM31 181h1v1h-1zM31 187h1v1h-1zM32 21h1v1h-1zM32 35h1v1h-1zM32 43h1v1h-1zM32 62h1v1h-1zM32 69h1v1h-1zM32 72h1v1h-1zM32 137h1v1h-1zM32 157h1v1h-1zM32 173h1v1h-1zM32 175h1v1h-1zM32 177h1v1h-1zM32 180h1v1h-1zM32 184h1v1h-1zM32 193h1v1h-1zM33 3h1v1h-1zM33 46h1v1h-1zM33 93h1v1h-1zM33 132h1v1h-1zM33 134h1v1h-1zM33 138h1v1h-1zM33 151h1v1h-1zM33 153h1v1h-1zM33 168h1v1h-1zM33 173h1v1h-1zM33 177h1v1h-1zM33 194h1v2h-1zM34 38h1v1h-1zM34 46h1v1h-1zM34 59h1v1h-1zM34 72h1v1h-1zM34 89h1v1h-1zM34 102h1v1h-1zM34 139h1v2h-1zM34 149h1v1h-1zM34 175h1v2h-1zM34 185h1v1h-1zM34 192h1v2h-1zM35 14h1v1h-1zM35 20h1v1h-1zM35 38h1v1h-1zM35 44h1v3h-1zM35 53h1v1h-1zM35 61h1v1h-1zM35 73h1v1h-1zM35 102h1v1h-1zM35 119h1v1h-1zM35 168h1v1h-1zM35 174h1v1h-1zM35 179h1v1h-1zM35 193h1v1h-1zM35 199h1v1h-1zM36 28h1v1h-1zM36 42h1v1h-1zM36 46h1v1h-1zM36 52h1v1h-1zM36 55h1v1h-1zM36 72h1v1h-1zM36 85h1v1h-1zM36 101h1v1h-1zM36 103h1v1h-1zM36 115h1v1h-1zM36 117h1v1h-1zM36 122h1v1h-1zM36 134h1v1h-1zM36 149h1v1h-1zM36 152h1v1h-1zM36 155h1v2h-1zM36 165h1v1h-1zM36 186h1v1h-1zM37 38h1v1h-1zM37 43h1v1h-1zM37 45h1v1h-1zM37 50h1v1h-1zM37 92h1v1h-1zM37 97h1v1h-1zM37 102h1v1h-1zM37 116h1v1h-1zM37 165h1v2h-1zM37 171h1v1h-1zM37 177h1v2h-1z"/>
<path fill="#c2cfdc" d="M0 14h1v1h-1zM0 19h1v1h-1zM0 27h1v1h-1zM0 30h1v1h-1zM0 44h1v1h-1zM0 85h1v1h-1zM0 133h1v1h-1zM0 137h1v1h-1zM0 144h1v1h-1zM0 156h1v1h-1zM0 164h1v1h-1zM0 169h1v1h-1zM0 171h1v1h-1zM1 4h1v1h-1zM1 33h1v1h-1zM1 47h1v1h-1zM1 85h1v1h-1zM1 131h1v1h-1zM1 143h1v1h-1zM1 181h1v1h-1zM1 189h1v1h-1zM1 193h1v1h-1zM1 196h1v1h-1zM1 199h1v1h-1zM2 19h1v1h-1zM2 84h1v1h-1zM2 89h1v1h-1zM2 118h1v1h-1zM2 131h1v1h-1zM2 149h1v1h-1zM2 179h1v1h-1zM2 189h1v1h-1zM2 197h1v1h-1zM3 4h1v1h-1zM3 10h1v1h-1zM3 34h1v1h-1zM3 63h1v1h-1zM3 85h1v1h-1zM3 89h1v1h-1zM3 114h1v1h-1zM3 116h1v1h-1zM3 139h1v1h-1zM3 149h1v1h-1zM3 189h1v1h-1zM3 198h1v1h-1zM4 4h1v1h-1zM4 39h1v1h-1zM4 55h1v1h-1zM4 77h1v1h-1zM4 96h1v1h-1zM4 101h1v1h-1zM4 107h1v2h-1zM4 127h1v2h-1zM4 135h1v1h-1zM4 147h1v1h-1zM4 153h1v1h-1zM4 167h1v1h-1zM4 169h1v1h-1zM4 180h1v1h-1zM4 187h1v1h-1zM4 191h1v2h-1zM4 194h1v1h-1zM5 22h1v1h-1zM5 58h1v1h-1zM5 86h1v1h-1zM5 95h1v1h-1zM5 103h1v1h-1zM5 105h1v1h-1zM5 135h1v1h-1zM5 138h1v1h-1zM5 150h1v1h-1zM5 170h1v1h-1zM5 194h1v1h-1zM6 4h1v1h-1zM6 72h1v1h-1zM6 79h1v1h-1zM6 107h1v1h-1zM6 112h1v2h-1zM6 128h1v1h-1zM6 148h1v1h-1zM6 151h1v1h-1zM6 189h1v1h-1zM7 4h1v1h-1zM7 13h1v1h-1zM7 15h1v1h-1zM7 33h1v1h-1zM7 39h1v1h-1zM7 58h1v1h-1zM7 86h1v1h-1zM7 88h1v1h-1zM7 109h1v1h-1zM7 126h1v1h-1zM7 132h1v1h-1zM7 147h1v1h-1zM7 149h1v1h-1zM7 154h1v1h-1zM7 169h1v2h-1zM8 58h1v1h-1zM8 79h1v1h-1zM8 85h1v1h-1zM8 111h1v1h-1zM8 114h1v2h-1zM8 127h1v2h-1zM8 150h1v1h-1zM8 156h1v1h-1zM8 165h1v1h-1zM8 169h1v1h-1zM9 41h1v1h-1zM9 79h1v1h-1zM9 112h1v2h-1zM9 138h1v1h-1zM9 142h1v2h-1zM9 149h1v1h-1zM9 177h1v1h-1zM9 187h1v1h-1zM9 195h1v1h-1zM10 13h1v1h-1zM10 40h1v1h-1zM10 80h1v1h-1zM10 106h1v1h-1zM10 110h1v1h-1zM10 140h1v1h-1zM10 156h1v1h-1zM10 178h1v1h-1zM11 0h1v1h-1zM11 71h1v1h-1zM11 85h1v1h-1zM11 106h1v1h-1zM11 113h1v1h-1zM11 131h1v1h-1zM11 144h1v1h-1zM11 154h1v1h-1zM11 180h1v1h-1zM11 185h1v1h-1zM11 188h1v1h-1zM11 197h1v1h-1zM12 0h1v1h-1zM12 41h1v1h-1zM12 50h1v1h-1zM12 55h1v1h-1zM12 57h1v1h-1zM12 77h1v1h-1zM12 110h1v1h-1zM12 163h1v1h-1zM12 178h1v1h-1zM12 180h1v1h-1zM12 186h1v1h-1zM12 188h1v1h-1zM12 193h1v1h-1zM12 196h1v1h-1zM13 66h1v1h-1zM13 78h1v1h-1zM13 102h1v1h-1zM13 106h1v1h-1zM13 149h1v1h-1zM13 174h1v1h-1zM13 182h1v1h-1zM13 192h1v1h-1zM14 19h1v1h-1zM14 40h1v1h-1zM14 67h1v1h-1zM14 82h1v1h-1zM14 98h1v1h-1zM14 105h1v1h-1zM14 111h1v1h-1zM14 115h1v1h-1zM14 137h1v1h-1zM14 151h1v1h-1zM14 157h1v1h-1zM14 165h1v1h-1zM14 185h1v1h-1zM14 191h1v1h-1zM15 50h1v1h-1zM15 65h1v1h-1zM15 73h1v1h-1zM15 79h1v1h-1zM15 82h1v1h-1zM15 115h1v1h-1zM15 122h1v1h-1zM15 135h1v1h-1zM15 142h1v1h-1zM15 144h1v1h-1zM15 165h1v1h-1zM15 169h1v1h-1zM15 195h1v1h-1zM15 197h1v1h-1zM16 50h1v1h-1zM16 58h1v1h-1zM16 66h1v1h-1zM16 83h1v1h-1zM16 105h1v1h-1zM16 111h1v1h-1zM16 118h1v1h-1zM16 120h1v1h-1zM16 147h1v1h-1zM16 150h1v1h-1zM16 156h1v1h-1zM16 167h1v1h-1zM16 188h1v1h-1zM17 39h1v2h-1zM17 70h1v1h-1zM17 136h1v2h-1zM17 144h1v1h-1zM17 147h1v1h-1zM17 151h1v1h-1zM17 154h1v1h-1zM17 169h1v1h-1zM17 185h1v1h-1zM18 19h1v1h-1zM18 22h1v1h-1zM18 32h1v1h-1zM18 66h1v1h-1zM18 73h1v1h-1zM18 85h1v1h-1zM18 92h1v1h-1zM18 95h1v1h-1zM18 118h1v1h-1zM18 122h1v1h-1zM18 145h1v1h-1zM18 148h1v1h-1zM18 167h1v1h-1zM19 19h1v2h-1zM19 104h1v1h-1zM19 118h1v1h-1zM19 141h1v1h-1zM19 147h1v1h-1zM19 157h1v1h-1zM19 178h1v1h-1zM19 180h1v1h-1zM19 184h1v1h-1zM19 194h1v1h-1zM20 114h1v1h-1zM20 133h1v1h-1zM20 147h1v1h-1zM20 153h1v2h-1zM20 159h1v1h-1zM20 176h1v1h-1zM20 193h1v1h-1zM21 0h1v1h-1zM21 3h1v1h-1zM21 12h1v1h-1zM21 45h1v1h-1zM21 79h1v1h-1zM21 89h1v1h-1zM21 98h1v3h-1zM21 127h1v1h-1zM21 158h1v1h-1zM21 160h1v1h-1zM21 167h1v1h-1zM21 175h1v1h-1zM21 180h1v1h-1zM21 183h1v2h-1zM21 188h1v1h-1zM21 197h1v2h-1zM22 3h1v1h-1zM22 89h1v1h-1zM22 93h1v1h-1zM22 100h1v1h-1zM22 103h1v1h-1zM22 109h1v1h-1zM22 114h1v1h-1zM22 167h1v1h-1zM22 180h1v1h-1zM22 193h1v1h-1zM23 51h1v2h-1zM23 71h1v1h-1zM23 73h1v1h-1zM23 81h1v1h-1zM23 90h1v1h-1zM23 103h1v1h-1zM23 105h1v1h-1zM23 112h1v1h-1zM23 114h1v2h-1zM23 119h1v1h-1zM23 132h1v1h-1zM23 134h1v2h-1zM23 160h1v2h-1zM23 185h1v1h-1zM24 45h1v1h-1zM24 54h1v1h-1zM24 62h1v1h-1zM24 64h1v1h-1zM24 131h1v1h-1zM24 165h1v1h-1zM24 173h1v1h-1zM24 179h1v1h-1zM24 183h1v1h-1zM24 185h1v1h-1zM25 44h1v1h-1zM25 48h1v1h-1zM25 71h1v1h-1zM25 81h1v1h-1zM25 91h1v1h-1zM25 100h1v1h-1zM25 103h1v1h-1zM25 114h1v1h-1zM25 121h1v1h-1zM25 131h1v1h-1zM25 135h1v2h-1zM25 149h1v1h-1zM25 160h1v1h-1zM25 167h1v2h-1zM25 171h1v1h-1zM25 183h1v1h-1zM26 91h1v1h-1zM26 94h1v1h-1zM26 100h1v1h-1zM26 103h1v1h-1zM26 112h1v1h-1zM26 128h1v1h-1zM26 130h1v1h-1zM26 133h1v1h-1zM27 4h1v1h-1zM27 54h1v1h-1zM27 99h1v1h-1zM27 121h1v1h-1zM27 126h1v1h-1zM27 150h1v1h-1zM27 158h1v1h-1zM27 161h1v1h-1zM27 175h1v1h-1zM27 184h1v1h-1zM27 187h1v1h-1zM28 78h1v2h-1zM28 85h1v1h-1zM28 94h1v1h-1zM28 97h1v1h-1zM28 150h1v1h-1zM28 188h1v1h-1zM28 191h1v1h-1zM28 198h1v1h-1zM29 7h1v1h-1zM29 61h1v1h-1zM29 83h1v2h-1zM29 99h1v1h-1zM29 113h1v1h-1zM29 136h1v1h-1zM29 145h1v1h-1zM29 158h1v1h-1zM29 173h1v1h-1zM29 185h1v1h-1zM29 188h1v1h-1zM30 50h1v1h-1zM30 67h1v1h-1zM30 95h1v1h-1zM30 110h1v1h-1zM30 114h1v2h-1zM30 157h1v1h-1zM30 165h1v1h-1zM30 172h1v1h-1zM30 174h1v1h-1zM30 176h1v1h-1zM30 188h1v1h-1zM31 15h1v1h-1zM31 66h1v1h-1zM31 71h1v1h-1zM31 95h1v1h-1zM31 136h1v1h-1zM31 160h1v1h-1zM31 173h1v2h-1zM31 183h1v1h-1zM31 191h1v1h-1zM32 50h1v1h-1zM32 53h1v1h-1zM32 81h1v1h-1zM32 94h1v1h-1zM32 100h1v2h-1zM32 132h1v1h-1zM32 164h1v1h-1zM32 186h1v1h-1zM32 195h1v1h-1zM33 20h1v1h-1zM33 30h1v1h-1zM33 81h1v1h-1zM33 97h1v1h-1zM33 99h1v1h-1zM33 140h1v1h-1zM33 164h1v1h-1zM33 166h1v1h-1zM33 180h1v1h-1zM34 84h1v1h-1zM34 92h1v1h-1zM34 100h1v1h-1zM34 111h1v1h-1zM34 117h1v1h-1zM34 122h1v1h-1zM34 138h1v1h-1zM34 148h1v1h-1zM34 160h1v1h-1zM34 166h1v1h-1zM34 177h1v1h-1zM34 181h1v1h-1zM34 188h1v1h-1zM34 196h1v2h-1zM35 4h1v1h-1zM35 23h1v1h-1zM35 82h1v3h-1zM35 111h1v1h-1zM35 130h1v1h-1zM35 134h1v1h-1zM35 138h1v1h-1zM35 156h1v2h-1zM35 160h1v1h-1zM35 175h1v1h-1zM35 186h1v2h-1zM35 192h1v1h-1zM36 50h1v1h-1zM36 63h1v1h-1zM36 92h1v1h-1zM36 129h1v1h-1zM36 161h1v1h-1zM36 166h1v1h-1zM36 180h1v1h-1zM36 194h1v1h-1zM36 197h1v1h-1zM37 112h1v1h-1zM37 117h1v1h-1zM37 137h1v1h-1zM37 139h1v2h-1zM37 179h1v1h-1zM37 186h1v1h-1z"/>
<path fill="#d6888b" d="M0 16h1v1h-1zM0 31h1v1h-1zM1 162h1v1h-1zM2 13h1v1h-1zM2 38h1v1h-1zM3 104h1v1h-1zM4 157h1v1h-1zM6 23h1v1h-1zM7 83h1v1h-1zM8 2h1v1h-1zM8 21h1v1h-1zM11 146h1v1h-1zM12 34h1v1h-1zM13 10h1v1h-1zM13 30h1v1h-1zM14 29h1v1h-1zM14 54h1v1h-1zM15 173h1v1h-1zM16 63h1v1h-1zM17 46h1v1h-1zM17 54h1v1h-1zM17 93h1v1h-1zM18 93h1v1h-1zM19 28h1v1h-1zM19 65h1v1h-1zM21 9h1v1h-1zM21 58h1v1h-1zM21 112h1v1h-1zM21 129h1v1h-1zM22 5h1v1h-1zM22 60h1v1h-1zM22 112h1v1h-1zM22 115h1v1h-1zM22 140h1v1h-1zM25 57h1v1h-1zM26 140h1v1h-1zM28 139h1v1h-1zM29 123h1v1h-1zM30 106h1v1h-1zM30 153h1v1h-1zM31 4h1v1h-1zM31 126h1v1h-1zM32 105h1v1h-1zM34 9h1v1h-1zM34 150h1v1h-1zM35 25h1v1h-1z"/>
<path fill="#bcccdb" d="M0 17h1v1h-1zM0 20h1v1h-1zM0 86h1v2h-1zM0 94h1v1h-1zM0 105h1v1h-1zM0 139h1v1h-1zM0 196h1v1h-1zM1 65h1v1h-1zM1 100h1v1h-1zM1 107h1v1h-1zM1 133h1v1h-1zM1 146h1v1h-1zM1 183h1v1h-1zM1 194h1v1h-1zM1 197h1v1h-1zM2 77h1v1h-1zM2 107h1v1h-1zM2 116h1v1h-1zM2 127h1v1h-1zM2 133h1v1h-1zM2 178h1v1h-1zM2 191h1v1h-1zM2 195h1v2h-1zM3 19h1v1h-1zM3 33h1v1h-1zM3 55h1v1h-1zM3 72h1v1h-1zM3 145h1v1h-1zM3 180h1v4h-1zM3 195h1v1h-1zM4 24h1v1h-1zM4 62h1v1h-1zM4 85h1v1h-1zM4 103h1v1h-1zM4 109h1v1h-1zM4 115h1v1h-1zM4 118h1v1h-1zM4 150h1v1h-1zM4 156h1v1h-1zM4 199h1v1h-1zM5 19h1v1h-1zM5 35h1v1h-1zM5 50h1v1h-1zM5 55h1v1h-1zM5 71h1v1h-1zM5 79h1v1h-1zM5 85h1v1h-1zM5 127h1v1h-1zM5 151h1v1h-1zM5 169h1v1h-1zM5 177h1v1h-1zM5 185h1v1h-1zM5 187h1v1h-1zM6 58h1v1h-1zM6 103h1v1h-1zM6 115h1v1h-1zM6 153h1v1h-1zM6 185h1v1h-1zM6 187h1v1h-1zM7 65h1v1h-1zM7 72h1v1h-1zM7 107h1v1h-1zM7 129h1v1h-1zM7 164h1v1h-1zM7 180h1v1h-1zM7 187h1v1h-1zM7 197h1v1h-1zM8 30h1v1h-1zM8 34h1v2h-1zM8 55h1v1h-1zM8 101h1v1h-1zM8 105h1v1h-1zM8 144h1v1h-1zM8 151h1v1h-1zM8 181h1v1h-1zM8 185h1v1h-1zM8 196h1v1h-1zM8 199h1v1h-1zM9 90h1v1h-1zM9 126h1v1h-1zM9 180h1v1h-1zM9 185h1v1h-1zM10 42h1v1h-1zM10 124h1v1h-1zM10 130h1v1h-1zM10 134h1v1h-1zM10 167h1v2h-1zM10 193h1v1h-1zM11 50h1v1h-1zM11 83h1v1h-1zM11 140h1v1h-1zM11 155h1v1h-1zM11 175h1v1h-1zM11 182h1v1h-1zM11 196h1v1h-1zM12 40h1v1h-1zM12 44h1v1h-1zM12 71h1v1h-1zM12 124h1v1h-1zM12 130h1v1h-1zM12 134h1v1h-1zM12 155h1v1h-1zM12 167h1v1h-1zM12 194h1v1h-1zM13 39h1v1h-1zM13 50h1v1h-1zM13 55h1v1h-1zM13 76h1v1h-1zM13 83h1v1h-1zM13 147h1v1h-1zM13 178h1v1h-1zM13 185h1v1h-1zM14 35h1v1h-1zM14 50h1v1h-1zM14 83h1v1h-1zM14 92h1v1h-1zM14 95h1v1h-1zM14 119h1v1h-1zM14 153h1v1h-1zM14 194h1v2h-1zM15 19h1v1h-1zM15 28h1v1h-1zM15 70h1v1h-1zM15 133h1v1h-1zM15 137h1v1h-1zM15 178h1v1h-1zM15 191h1v1h-1zM16 34h1v1h-1zM16 39h1v1h-1zM16 114h1v2h-1zM16 119h1v1h-1zM16 135h1v1h-1zM16 151h1v1h-1zM16 185h1v1h-1zM17 14h1v1h-1zM17 35h1v1h-1zM17 83h1v1h-1zM17 105h1v1h-1zM17 119h1v2h-1zM17 149h1v1h-1zM17 194h1v1h-1zM18 10h1v1h-1zM18 39h1v1h-1zM18 56h1v1h-1zM18 115h1v1h-1zM18 144h1v1h-1zM18 165h1v1h-1zM18 189h1v1h-1zM19 58h1v1h-1zM19 60h1v1h-1zM19 77h1v1h-1zM19 107h1v1h-1zM19 121h1v1h-1zM19 144h1v1h-1zM19 168h1v1h-1zM19 186h1v1h-1zM20 118h1v1h-1zM20 149h1v1h-1zM20 169h1v1h-1zM20 180h1v1h-1zM21 40h1v1h-1zM21 42h1v1h-1zM21 47h1v1h-1zM21 108h1v2h-1zM21 136h1v1h-1zM21 149h1v1h-1zM21 154h1v1h-1zM21 159h1v1h-1zM21 179h1v1h-1zM22 30h1v1h-1zM22 44h1v1h-1zM22 77h1v1h-1zM22 80h1v1h-1zM22 98h1v1h-1zM22 102h1v1h-1zM22 128h1v1h-1zM22 132h1v1h-1zM22 159h1v1h-1zM22 164h1v1h-1zM22 185h1v1h-1zM22 197h1v1h-1zM23 54h1v1h-1zM23 91h1v1h-1zM23 123h1v1h-1zM23 158h1v1h-1zM23 168h1v1h-1zM23 173h1v1h-1zM23 188h1v1h-1zM24 48h1v1h-1zM24 88h1v1h-1zM24 100h1v1h-1zM24 104h1v1h-1zM24 112h1v1h-1zM24 116h1v1h-1zM24 118h1v1h-1zM24 123h1v1h-1zM24 132h1v1h-1zM24 134h1v1h-1zM24 139h1v1h-1zM24 156h1v1h-1zM24 199h1v1h-1zM25 51h1v1h-1zM25 104h1v1h-1zM25 108h1v1h-1zM25 122h1v2h-1zM25 129h1v1h-1zM25 179h1v1h-1zM25 199h1v1h-1zM26 27h1v2h-1zM26 118h1v1h-1zM26 158h1v1h-1zM26 169h1v1h-1zM27 27h1v1h-1zM27 71h1v1h-1zM27 103h1v1h-1zM27 113h1v2h-1zM27 134h1v1h-1zM28 45h1v1h-1zM28 91h1v1h-1zM28 93h1v1h-1zM28 101h1v1h-1zM28 103h1v1h-1zM28 128h1v1h-1zM28 196h1v2h-1zM29 92h1v1h-1zM29 141h1v1h-1zM29 155h1v1h-1zM29 177h1v1h-1zM30 23h1v1h-1zM30 71h1v1h-1zM30 79h1v1h-1zM30 127h1v1h-1zM30 137h1v1h-1zM30 141h1v1h-1zM30 148h1v1h-1zM30 167h1v1h-1zM31 7h1v1h-1zM31 37h1v1h-1zM31 104h1v1h-1zM31 111h1v1h-1zM31 114h1v1h-1zM31 138h1v1h-1zM31 145h1v1h-1zM31 157h1v1h-1zM31 167h1v1h-1zM31 172h1v1h-1zM32 52h1v1h-1zM32 63h1v1h-1zM32 83h1v1h-1zM32 87h1v1h-1zM32 93h1v1h-1zM32 111h1v1h-1zM32 122h1v1h-1zM32 143h1v1h-1zM32 168h1v1h-1zM32 174h1v1h-1zM33 4h1v1h-1zM33 35h1v1h-1zM33 52h1v1h-1zM33 61h1v1h-1zM33 82h1v2h-1zM33 161h1v1h-1zM34 4h1v1h-1zM34 101h1v1h-1zM34 118h1v1h-1zM34 131h1v2h-1zM34 134h1v1h-1zM34 137h1v1h-1zM34 144h1v1h-1zM34 147h1v1h-1zM34 157h1v1h-1zM34 168h1v1h-1zM34 172h1v1h-1zM34 180h1v1h-1zM34 182h1v1h-1zM34 194h1v1h-1zM35 21h1v1h-1zM35 35h1v1h-1zM35 87h1v1h-1zM35 97h1v1h-1zM35 118h1v1h-1zM35 132h1v1h-1zM35 137h1v1h-1zM35 149h1v1h-1zM35 173h1v1h-1zM35 177h1v1h-1zM35 180h1v1h-1zM35 185h1v1h-1zM36 45h1v1h-1zM36 84h1v1h-1zM36 89h1v1h-1zM36 93h1v1h-1zM36 97h1v1h-1zM36 143h1v1h-1zM36 168h1v1h-1zM36 175h1v2h-1zM36 181h1v1h-1zM36 191h1v1h-1zM36 193h1v1h-1zM37 4h1v1h-1zM37 52h1v1h-1zM37 84h1v1h-1zM37 118h1v1h-1zM37 134h1v1h-1zM37 138h1v1h-1zM37 155h1v1h-1zM37 160h1v1h-1zM37 168h1v1h-1zM37 175h1v1h-1zM37 185h1v1h-1z"/>
<path fill="#d8a3a6" d="M0 23h1v1h-1zM0 48h1v1h-1zM0 198h1v1h-1zM1 58h1v1h-1zM1 109h1v1h-1zM1 151h1v1h-1zM1 156h1v1h-1zM2 65h1v1h-1zM2 68h1v1h-1zM2 81h1v1h-1zM3 50h1v1h-1zM3 96h1v1h-1zM4 190h1v1h-1zM5 168h1v1h-1zM5 190h1v1h-1zM6 1h1v1h-1zM8 16h1v1h-1zM8 121h1v1h-1zM8 157h1v1h-1zM8 190h1v1h-1zM9 11h1v1h-1zM9 22h1v1h-1zM9 91h1v1h-1zM10 32h1v1h-1zM11 99h1v1h-1zM12 157h1v1h-1zM12 172h1v1h-1zM13 4h1v1h-1zM13 12h1v1h-1zM13 35h1v1h-1zM13 72h1v1h-1zM14 69h1v1h-1zM14 112h1v1h-1zM14 162h1v1h-1zM14 174h1v1h-1zM15 53h1v1h-1zM15 93h1v1h-1zM15 143h1v1h-1zM16 46h1v1h-1zM16 112h1v1h-1zM16 138h1v1h-1zM16 186h1v1h-1zM17 11h1v1h-1zM17 143h1v1h-1zM17 175h1v1h-1zM18 7h1v1h-1zM18 9h1v1h-1zM18 46h1v1h-1zM18 186h1v1h-1zM19 21h1v1h-1zM19 36h1v1h-1zM19 130h1v1h-1zM19 143h1v1h-1zM19 189h1v1h-1zM20 2h1v1h-1zM20 24h1v1h-1zM20 29h1v1h-1zM20 58h1v1h-1zM20 72h1v1h-1zM20 85h1v1h-1zM21 140h1v2h-1zM22 69h1v1h-1zM22 72h1v1h-1zM23 9h1v1h-1zM23 16h1v1h-1zM23 180h1v1h-1zM23 190h1v1h-1zM24 16h1v1h-1zM24 148h1v1h-1zM24 175h1v1h-1zM24 186h1v1h-1zM25 8h1v1h-1zM26 40h1v1h-1zM26 75h1v1h-1zM26 106h1v1h-1zM26 131h1v1h-1zM27 25h1v1h-1zM27 87h1v1h-1zM27 129h1v1h-1zM28 33h1v1h-1zM28 51h1v1h-1zM28 68h1v1h-1zM28 147h1v1h-1zM29 19h1v1h-1zM29 21h1v1h-1zM29 30h1v1h-1zM29 109h1v1h-1zM29 179h1v1h-1zM30 49h1v1h-1zM30 60h1v1h-1zM31 19h1v1h-1zM31 33h1v1h-1zM31 109h1v1h-1zM31 179h1v1h-1zM32 1h1v1h-1zM32 141h1v1h-1zM32 152h1v1h-1zM33 13h1v1h-1zM33 86h1v1h-1zM33 105h1v1h-1zM34 162h1v1h-1zM35 150h1v1h-1zM36 9h1v1h-1zM36 105h1v1h-1zM36 141h1v1h-1zM36 162h1v1h-1zM37 57h1v1h-1zM37 162h1v1h-1z"/>
<path fill="#d9bec1" d="M0 24h1v1h-1zM0 43h1v1h-1zM0 61h1v1h-1zM0 126h1v1h-1zM1 3h1v1h-1zM1 5h1v1h-1zM1 20h1v1h-1zM1 27h1v1h-1zM1 56h1v1h-1zM1 94h1v1h-1zM1 102h1v1h-1zM1 117h1v1h-1zM1 154h1v1h-1zM1 168h1v1h-1zM1 185h1v1h-1zM2 5h1v1h-1zM2 16h1v1h-1zM2 29h1v1h-1zM2 53h1v1h-1zM2 91h1v1h-1zM2 94h1v1h-1zM2 161h1v1h-1zM3 3h1v1h-1zM3 15h1v1h-1zM3 43h1v1h-1zM3 52h1v1h-1zM3 54h1v1h-1zM3 78h1v1h-1zM3 80h1v1h-1zM3 82h1v1h-1zM3 157h1v1h-1zM4 0h1v1h-1zM4 11h1v1h-1zM4 18h1v1h-1zM4 20h1v1h-1zM4 23h1v1h-1zM4 29h1v1h-1zM4 57h1v1h-1zM4 60h1v1h-1zM4 90h1v1h-1zM4 140h1v1h-1zM4 146h1v1h-1zM4 171h1v1h-1zM4 173h1v1h-1zM4 189h1v1h-1zM5 16h1v1h-1zM5 25h1v1h-1zM5 45h1v1h-1zM5 53h1v1h-1zM5 56h1v1h-1zM5 67h1v2h-1zM5 70h1v1h-1zM5 90h1v1h-1zM5 139h1v1h-1zM5 141h1v2h-1zM5 171h1v1h-1zM5 173h1v1h-1zM6 5h1v1h-1zM6 10h1v2h-1zM6 26h1v1h-1zM6 41h1v1h-1zM6 78h1v1h-1zM6 121h1v1h-1zM6 140h1v1h-1zM6 161h1v1h-1zM6 173h1v1h-1zM7 11h1v1h-1zM7 20h1v1h-1zM7 125h1v1h-1zM7 139h1v1h-1zM8 9h1v2h-1zM8 14h1v1h-1zM8 38h1v1h-1zM8 60h1v1h-1zM8 67h1v1h-1zM8 74h1v1h-1zM8 146h1v1h-1zM8 182h1v1h-1zM9 10h1v1h-1zM9 38h1v2h-1zM9 98h1v1h-1zM9 120h1v1h-1zM9 146h1v1h-1zM10 6h1v1h-1zM10 26h1v1h-1zM10 31h1v1h-1zM10 65h1v1h-1zM10 73h1v1h-1zM10 88h1v1h-1zM10 101h1v1h-1zM10 169h1v1h-1zM11 12h1v1h-1zM11 26h1v1h-1zM11 31h1v1h-1zM11 73h1v1h-1zM11 96h1v1h-1zM11 158h1v1h-1zM11 160h1v1h-1zM11 191h1v1h-1zM12 12h1v1h-1zM12 16h1v1h-1zM12 70h1v1h-1zM12 89h1v1h-1zM12 129h1v1h-1zM12 146h1v1h-1zM13 21h1v1h-1zM13 26h1v1h-1zM13 36h1v1h-1zM13 49h1v1h-1zM13 65h1v1h-1zM13 74h1v1h-1zM13 84h1v1h-1zM13 90h1v1h-1zM13 123h1v1h-1zM14 1h1v2h-1zM14 36h1v1h-1zM14 64h1v1h-1zM14 78h1v1h-1zM14 96h1v1h-1zM14 117h1v1h-1zM14 125h1v2h-1zM14 171h1v1h-1zM15 1h1v1h-1zM15 5h1v1h-1zM15 8h1v1h-1zM15 38h1v1h-1zM15 68h1v1h-1zM15 96h1v1h-1zM15 113h1v1h-1zM15 126h1v1h-1zM15 172h1v1h-1zM15 186h1v1h-1zM16 8h1v1h-1zM16 15h1v1h-1zM16 18h1v1h-1zM16 62h1v1h-1zM17 8h1v1h-1zM17 17h1v2h-1zM17 23h1v1h-1zM17 108h1v1h-1zM17 125h1v1h-1zM17 171h1v1h-1zM17 186h1v1h-1zM17 198h1v1h-1zM18 2h1v1h-1zM18 8h1v1h-1zM18 11h1v1h-1zM18 13h1v1h-1zM18 26h1v1h-1zM18 36h1v1h-1zM19 6h1v2h-1zM19 30h1v1h-1zM19 38h1v1h-1zM19 45h1v1h-1zM19 52h1v1h-1zM19 62h1v1h-1zM19 64h1v1h-1zM19 68h1v1h-1zM19 85h1v1h-1zM19 115h1v1h-1zM19 135h1v1h-1zM19 140h1v1h-1zM19 156h1v1h-1zM19 170h1v2h-1zM19 177h1v1h-1zM20 10h1v1h-1zM20 23h1v1h-1zM20 37h1v2h-1zM20 90h1v1h-1zM20 95h1v1h-1zM20 125h1v1h-1zM20 130h1v2h-1zM20 175h1v1h-1zM21 2h1v1h-1zM21 6h1v1h-1zM21 66h1v2h-1zM21 75h1v1h-1zM21 83h1v1h-1zM22 36h1v1h-1zM22 66h1v1h-1zM22 82h1v1h-1zM22 110h1v1h-1zM22 125h1v1h-1zM22 187h1v1h-1zM23 0h1v1h-1zM23 4h1v1h-1zM23 6h1v1h-1zM23 8h1v1h-1zM23 18h1v2h-1zM23 23h1v1h-1zM23 28h1v1h-1zM23 58h1v1h-1zM23 72h1v1h-1zM23 141h1v1h-1zM23 162h1v1h-1zM23 176h1v1h-1zM24 4h1v1h-1zM24 20h1v1h-1zM24 22h1v1h-1zM24 72h1v1h-1zM24 74h1v2h-1zM24 125h1v1h-1zM24 141h1v1h-1zM24 191h1v1h-1zM25 9h1v1h-1zM25 12h1v1h-1zM25 25h1v1h-1zM25 38h1v1h-1zM25 43h1v1h-1zM25 56h1v1h-1zM25 77h1v1h-1zM25 101h1v1h-1zM25 141h1v1h-1zM25 170h1v1h-1zM25 175h1v1h-1zM25 180h1v1h-1zM26 17h1v1h-1zM26 42h1v1h-1zM26 142h1v1h-1zM26 147h1v1h-1zM26 155h1v1h-1zM27 5h1v1h-1zM27 18h1v1h-1zM27 51h1v1h-1zM27 61h1v1h-1zM27 124h1v1h-1zM28 12h1v1h-1zM28 17h1v1h-1zM28 42h1v1h-1zM28 74h1v1h-1zM28 171h1v1h-1zM29 1h1v1h-1zM29 9h1v1h-1zM29 48h1v2h-1zM29 75h1v1h-1zM29 78h1v1h-1zM29 103h1v1h-1zM29 107h1v1h-1zM29 175h1v1h-1zM30 1h1v1h-1zM30 20h1v1h-1zM30 22h1v1h-1zM30 33h1v1h-1zM30 39h1v1h-1zM30 48h1v1h-1zM30 51h1v1h-1zM30 81h1v1h-1zM30 88h1v1h-1zM30 90h1v1h-1zM30 102h1v1h-1zM30 117h1v1h-1zM30 170h1v1h-1zM30 179h1v1h-1zM30 185h1v1h-1zM30 198h1v1h-1zM31 2h1v2h-1zM31 20h1v1h-1zM31 46h1v2h-1zM31 74h1v1h-1zM31 96h1v1h-1zM31 108h1v1h-1zM31 119h1v1h-1zM31 152h1v1h-1zM32 7h1v1h-1zM32 12h1v1h-1zM32 15h1v1h-1zM32 25h1v1h-1zM32 107h1v1h-1zM32 131h1v1h-1zM33 22h1v1h-1zM33 40h1v1h-1zM33 49h1v1h-1zM33 65h1v1h-1zM33 88h1v1h-1zM33 107h1v1h-1zM34 2h1v1h-1zM34 6h1v1h-1zM34 54h1v1h-1zM34 56h1v1h-1zM34 76h1v1h-1zM34 103h1v2h-1zM34 107h1v1h-1zM34 183h1v1h-1zM35 8h1v1h-1zM35 11h1v2h-1zM35 18h1v1h-1zM35 70h1v1h-1zM35 113h1v1h-1zM36 10h1v1h-1zM36 49h1v1h-1zM36 58h1v1h-1zM36 60h1v1h-1zM36 64h1v2h-1zM36 74h1v2h-1zM36 78h1v1h-1zM36 104h1v1h-1zM36 126h1v1h-1zM36 198h1v1h-1zM37 12h1v1h-1zM37 27h1v1h-1zM37 74h1v1h-1zM37 104h1v1h-1zM37 126h1v1h-1zM37 154h1v1h-1z"/>
<path fill="#d89da0" d="M0 25h1v1h-1zM0 52h1v1h-1zM0 76h1v1h-1zM0 141h1v1h-1zM1 48h1v1h-1zM1 50h1v2h-1zM2 12h1v1h-1zM2 56h1v1h-1zM3 58h1v1h-1zM4 1h1v1h-1zM4 193h1v1h-1zM5 145h1v1h-1zM6 21h1v1h-1zM7 36h1v1h-1zM7 43h1v1h-1zM7 190h1v1h-1zM8 24h1v1h-1zM8 145h1v1h-1zM9 9h1v1h-1zM9 18h1v1h-1zM9 107h1v1h-1zM9 184h1v1h-1zM10 157h1v1h-1zM11 5h1v1h-1zM11 143h1v1h-1zM12 5h1v1h-1zM13 5h1v1h-1zM13 89h1v1h-1zM13 172h1v1h-1zM14 93h1v1h-1zM14 139h1v1h-1zM14 186h1v1h-1zM15 7h1v1h-1zM15 162h1v1h-1zM15 175h1v1h-1zM16 162h1v1h-1zM17 37h1v1h-1zM17 112h1v1h-1zM17 173h1v1h-1zM18 61h1v1h-1zM18 112h1v1h-1zM19 37h1v1h-1zM20 122h1v1h-1zM21 72h1v1h-1zM21 113h1v1h-1zM22 122h1v1h-1zM22 169h1v1h-1zM23 29h1v1h-1zM23 133h1v1h-1zM23 142h1v1h-1zM23 148h1v1h-1zM23 191h1v1h-1zM25 6h1v1h-1zM26 86h1v1h-1zM26 115h1v1h-1zM27 10h1v1h-1zM27 53h1v1h-1zM27 68h1v1h-1zM28 23h1v1h-1zM28 25h1v1h-1zM29 2h1v1h-1zM31 60h1v1h-1zM32 17h1v1h-1zM32 29h1v1h-1zM32 113h1v1h-1zM33 51h1v1h-1zM33 103h1v1h-1zM34 141h1v1h-1zM35 13h1v1h-1zM35 72h1v1h-1zM35 141h1v1h-1z"/>
<path fill="#d5dae0" d="M0 28h1v1h-1zM0 34h1v2h-1zM0 45h1v1h-1zM0 47h1v1h-1zM0 74h1v1h-1zM0 100h1v1h-1zM0 110h1v1h-1zM0 138h1v1h-1zM0 148h1v1h-1zM0 158h1v1h-1zM0 166h1v1h-1zM0 178h1v1h-1zM0 187h1v2h-1zM1 21h1v1h-1zM1 32h1v1h-1zM1 37h1v1h-1zM1 40h1v1h-1zM1 75h1v1h-1zM1 123h1v1h-1zM1 126h1v1h-1zM1 128h1v1h-1zM1 144h1v1h-1zM1 153h1v1h-1zM1 159h1v1h-1zM1 179h1v1h-1zM1 186h1v2h-1zM2 18h1v1h-1zM2 30h1v1h-1zM2 39h1v1h-1zM2 46h1v1h-1zM2 61h1v1h-1zM2 73h1v1h-1zM2 99h1v1h-1zM2 103h1v1h-1zM2 111h1v1h-1zM2 121h1v2h-1zM2 134h1v1h-1zM2 137h1v1h-1zM2 139h1v1h-1zM2 143h1v1h-1zM2 166h1v1h-1zM2 176h1v1h-1zM2 187h1v1h-1zM2 192h1v1h-1zM2 198h1v1h-1zM3 9h1v1h-1zM3 22h1v1h-1zM3 25h1v1h-1zM3 36h1v1h-1zM3 48h1v1h-1zM3 62h1v1h-1zM3 66h1v1h-1zM3 103h1v1h-1zM3 119h1v1h-1zM3 127h1v1h-1zM3 141h1v2h-1zM3 173h1v1h-1zM3 186h1v3h-1zM3 192h1v2h-1zM3 199h1v1h-1zM4 8h1v1h-1zM4 87h1v2h-1zM4 98h1v1h-1zM4 100h1v1h-1zM4 131h1v1h-1zM4 134h1v1h-1zM4 161h1v1h-1zM4 165h1v1h-1zM4 175h1v1h-1zM4 183h1v1h-1zM5 40h1v1h-1zM5 46h1v2h-1zM5 54h1v1h-1zM5 61h1v1h-1zM5 76h1v1h-1zM5 91h1v1h-1zM5 109h1v1h-1zM5 118h1v1h-1zM5 159h1v1h-1zM5 165h1v1h-1zM5 174h1v1h-1zM5 181h1v1h-1zM5 184h1v1h-1zM5 192h1v1h-1zM5 196h1v2h-1zM6 6h1v1h-1zM6 13h1v1h-1zM6 47h1v1h-1zM6 49h1v1h-1zM6 54h1v1h-1zM6 68h1v1h-1zM6 77h1v1h-1zM6 90h1v1h-1zM6 92h1v1h-1zM6 105h1v1h-1zM6 109h1v1h-1zM6 118h1v1h-1zM6 135h1v1h-1zM6 139h1v1h-1zM6 167h1v1h-1zM7 7h1v1h-1zM7 19h1v1h-1zM7 34h1v1h-1zM7 40h1v1h-1zM7 50h1v1h-1zM7 76h1v1h-1zM7 93h1v1h-1zM7 96h1v1h-1zM7 98h1v1h-1zM7 100h1v1h-1zM7 104h1v1h-1zM7 114h1v1h-1zM7 143h1v1h-1zM7 152h1v1h-1zM7 165h1v2h-1zM8 19h1v1h-1zM8 50h1v1h-1zM8 54h1v1h-1zM8 75h1v3h-1zM8 86h1v1h-1zM8 96h1v1h-1zM8 98h1v1h-1zM8 100h1v1h-1zM8 118h1v1h-1zM8 123h1v1h-1zM8 143h1v1h-1zM8 159h1v1h-1zM8 166h1v1h-1zM8 170h1v1h-1zM8 174h1v1h-1zM8 176h1v1h-1zM8 191h1v1h-1zM8 194h1v1h-1zM9 29h1v1h-1zM9 47h1v1h-1zM9 52h1v1h-1zM9 73h1v1h-1zM9 75h1v1h-1zM9 80h1v1h-1zM9 92h1v2h-1zM9 100h1v1h-1zM9 114h1v2h-1zM9 119h1v1h-1zM9 123h1v2h-1zM9 139h1v1h-1zM9 144h1v1h-1zM9 165h1v1h-1zM9 172h1v2h-1zM10 11h1v1h-1zM10 15h1v1h-1zM10 29h1v1h-1zM10 44h1v1h-1zM10 47h1v1h-1zM10 56h1v1h-1zM10 77h1v1h-1zM10 81h1v1h-1zM10 86h1v2h-1zM10 100h1v1h-1zM10 103h1v1h-1zM10 107h1v1h-1zM10 118h1v1h-1zM10 135h1v1h-1zM10 137h1v1h-1zM10 146h1v1h-1zM10 150h1v1h-1zM10 152h1v1h-1zM10 159h1v1h-1zM11 13h1v1h-1zM11 45h1v1h-1zM11 49h1v1h-1zM11 66h1v1h-1zM11 90h1v1h-1zM11 100h1v1h-1zM11 134h1v1h-1zM11 141h1v1h-1zM11 168h1v2h-1zM11 193h1v1h-1zM12 1h1v1h-1zM12 43h1v1h-1zM12 47h1v1h-1zM12 81h1v1h-1zM12 85h1v1h-1zM12 91h1v1h-1zM12 94h1v1h-1zM12 102h1v1h-1zM12 132h1v2h-1zM12 140h1v1h-1zM12 150h1v1h-1zM12 153h1v1h-1zM12 156h1v1h-1zM12 166h1v1h-1zM12 169h1v1h-1zM12 197h1v1h-1zM13 22h1v1h-1zM13 42h1v1h-1zM13 45h1v1h-1zM13 60h1v1h-1zM13 62h1v1h-1zM13 79h1v1h-1zM13 85h1v1h-1zM13 91h1v1h-1zM13 93h1v1h-1zM13 101h1v1h-1zM13 103h1v1h-1zM13 113h1v1h-1zM13 115h1v1h-1zM13 122h1v1h-1zM13 124h1v1h-1zM13 131h1v1h-1zM13 136h1v1h-1zM13 151h1v1h-1zM13 155h1v1h-1zM13 159h1v1h-1zM13 162h1v1h-1zM13 169h1v1h-1zM13 173h1v1h-1zM13 184h1v1h-1zM14 3h1v1h-1zM14 34h1v1h-1zM14 49h1v1h-1zM14 56h1v1h-1zM14 60h1v1h-1zM14 73h1v1h-1zM14 90h1v1h-1zM14 103h1v1h-1zM14 146h1v1h-1zM14 150h1v1h-1zM14 152h1v1h-1zM14 154h1v1h-1zM14 158h1v1h-1zM14 168h1v1h-1zM14 170h1v1h-1zM14 187h1v1h-1zM15 0h1v1h-1zM15 12h1v1h-1zM15 34h1v1h-1zM15 55h1v1h-1zM15 62h1v1h-1zM15 81h1v1h-1zM15 88h1v1h-1zM15 90h1v1h-1zM15 100h1v1h-1zM15 102h1v1h-1zM15 110h1v2h-1zM15 140h1v1h-1zM15 150h1v1h-1zM15 153h1v1h-1zM15 156h1v2h-1zM15 167h1v1h-1zM15 179h1v1h-1zM16 14h1v1h-1zM16 23h1v1h-1zM16 30h1v2h-1zM16 57h1v1h-1zM16 67h1v1h-1zM16 79h1v1h-1zM16 103h1v2h-1zM16 108h1v1h-1zM16 113h1v1h-1zM16 116h1v1h-1zM16 121h1v1h-1zM16 142h1v1h-1zM16 146h1v1h-1zM16 153h1v1h-1zM16 161h1v1h-1zM16 168h1v1h-1zM16 172h1v1h-1zM16 183h1v1h-1zM16 198h1v1h-1zM17 0h1v1h-1zM17 10h1v1h-1zM17 32h1v1h-1zM17 44h1v1h-1zM17 49h1v1h-1zM17 55h1v2h-1zM17 67h1v1h-1zM17 77h1v1h-1zM17 81h1v1h-1zM17 87h1v2h-1zM17 91h1v1h-1zM17 98h1v2h-1zM17 101h1v1h-1zM17 104h1v1h-1zM17 107h1v1h-1zM17 110h1v1h-1zM17 118h1v1h-1zM17 127h1v1h-1zM17 139h1v1h-1zM17 141h1v1h-1zM17 146h1v1h-1zM17 150h1v1h-1zM17 166h1v2h-1zM17 172h1v1h-1zM17 182h1v1h-1zM18 14h1v1h-1zM18 21h1v1h-1zM18 55h1v1h-1zM18 57h1v1h-1zM18 60h1v1h-1zM18 77h1v1h-1zM18 81h1v1h-1zM18 89h1v1h-1zM18 94h1v1h-1zM18 98h1v1h-1zM18 121h1v1h-1zM18 135h1v1h-1zM18 149h1v1h-1zM18 155h1v1h-1zM18 177h1v3h-1zM18 194h1v1h-1zM18 199h1v1h-1zM19 56h1v1h-1zM19 75h1v1h-1zM19 81h1v1h-1zM19 83h1v1h-1zM19 87h1v1h-1zM19 93h1v1h-1zM19 116h1v1h-1zM19 120h1v1h-1zM19 123h1v1h-1zM19 127h1v1h-1zM19 137h1v1h-1zM19 142h1v1h-1zM19 148h1v1h-1zM19 160h1v1h-1zM19 166h1v1h-1zM19 188h1v1h-1zM20 7h1v1h-1zM20 14h1v1h-1zM20 32h1v1h-1zM20 39h1v2h-1zM20 42h1v1h-1zM20 50h1v1h-1zM20 62h1v1h-1zM20 71h1v1h-1zM20 109h1v1h-1zM20 119h1v1h-1zM20 126h1v1h-1zM20 128h1v1h-1zM20 158h1v1h-1zM20 166h1v2h-1zM20 189h1v1h-1zM20 191h1v2h-1zM20 196h1v1h-1zM21 32h1v1h-1zM21 43h1v1h-1zM21 68h1v1h-1zM21 77h1v1h-1zM21 92h1v2h-1zM21 117h1v1h-1zM21 138h1v1h-1zM21 163h1v1h-1zM21 174h1v1h-1zM21 196h1v1h-1zM22 7h1v1h-1zM22 50h1v1h-1zM22 54h1v1h-1zM22 63h1v1h-1zM22 70h1v1h-1zM22 81h1v1h-1zM22 87h1v1h-1zM22 92h1v1h-1zM22 94h1v1h-1zM22 99h1v1h-1zM22 107h1v1h-1zM22 149h1v1h-1zM22 168h1v1h-1zM22 172h1v1h-1zM22 176h1v1h-1zM22 182h1v1h-1zM22 195h1v1h-1zM23 13h1v1h-1zM23 35h1v1h-1zM23 41h1v1h-1zM23 49h1v1h-1zM23 82h1v1h-1zM23 84h1v1h-1zM23 89h1v1h-1zM23 136h1v1h-1zM23 138h1v3h-1zM23 152h1v1h-1zM23 157h1v1h-1zM23 175h1v1h-1zM23 194h1v1h-1zM23 198h1v1h-1zM24 36h1v3h-1zM24 44h1v1h-1zM24 77h1v1h-1zM24 81h1v1h-1zM24 108h1v1h-1zM24 113h1v1h-1zM24 152h1v1h-1zM24 155h1v1h-1zM24 172h1v1h-1zM24 177h1v1h-1zM24 195h1v1h-1zM25 5h1v1h-1zM25 52h1v1h-1zM25 55h1v1h-1zM25 61h1v2h-1zM25 64h1v1h-1zM25 78h1v1h-1zM25 82h1v1h-1zM25 84h1v1h-1zM25 98h1v2h-1zM25 106h1v2h-1zM25 112h1v2h-1zM25 116h1v1h-1zM25 132h1v1h-1zM25 154h1v1h-1zM25 161h1v1h-1zM25 174h1v1h-1zM25 177h1v2h-1zM25 188h1v1h-1zM26 4h1v1h-1zM26 63h1v1h-1zM26 78h1v2h-1zM26 105h1v1h-1zM26 107h1v1h-1zM26 110h1v2h-1zM26 113h1v1h-1zM26 121h1v2h-1zM26 134h1v1h-1zM26 143h1v1h-1zM26 149h1v1h-1zM26 164h1v1h-1zM26 170h1v1h-1zM26 176h1v1h-1zM26 191h1v1h-1zM26 195h1v1h-1zM26 198h1v1h-1zM27 24h1v1h-1zM27 63h1v1h-1zM27 67h1v1h-1zM27 72h1v1h-1zM27 81h1v2h-1zM27 98h1v1h-1zM27 105h1v1h-1zM27 117h1v1h-1zM27 128h1v1h-1zM27 135h1v1h-1zM27 138h1v1h-1zM27 146h1v1h-1zM27 149h1v1h-1zM27 166h1v2h-1zM27 185h1v1h-1zM28 7h1v1h-1zM28 34h1v1h-1zM28 47h1v1h-1zM28 65h1v1h-1zM28 88h1v1h-1zM28 107h1v1h-1zM28 111h1v2h-1zM28 114h1v1h-1zM28 118h1v2h-1zM28 130h1v1h-1zM28 149h1v1h-1zM28 185h1v1h-1zM28 194h1v1h-1zM29 0h1v1h-1zM29 5h1v1h-1zM29 18h1v1h-1zM29 51h1v1h-1zM29 58h1v1h-1zM29 62h1v3h-1zM29 68h1v1h-1zM29 72h1v1h-1zM29 95h1v1h-1zM29 101h1v1h-1zM29 104h1v1h-1zM29 128h1v1h-1zM29 130h1v3h-1zM29 144h1v1h-1zM29 150h1v1h-1zM29 159h1v1h-1zM29 161h1v2h-1zM29 171h1v1h-1zM29 176h1v1h-1zM29 186h1v1h-1zM29 191h1v1h-1zM29 199h1v1h-1zM30 58h1v1h-1zM30 62h1v1h-1zM30 65h1v1h-1zM30 77h1v1h-1zM30 105h1v1h-1zM30 108h1v1h-1zM30 113h1v1h-1zM30 124h1v1h-1zM30 138h1v1h-1zM30 146h1v1h-1zM30 151h1v1h-1zM30 155h1v1h-1zM30 169h1v1h-1zM30 178h1v1h-1zM30 181h1v2h-1zM30 189h1v1h-1zM30 194h1v1h-1zM31 23h1v1h-1zM31 28h1v1h-1zM31 57h1v1h-1zM31 63h1v1h-1zM31 68h1v1h-1zM31 73h1v1h-1zM31 83h1v1h-1zM31 85h1v1h-1zM31 112h1v1h-1zM31 122h1v1h-1zM31 130h1v1h-1zM31 148h1v1h-1zM31 151h1v1h-1zM31 155h1v1h-1zM31 178h1v1h-1zM31 195h1v1h-1zM31 197h1v1h-1zM32 4h1v1h-1zM32 30h1v1h-1zM32 39h1v2h-1zM32 46h1v1h-1zM32 66h1v1h-1zM32 85h1v1h-1zM32 89h1v2h-1zM32 102h1v1h-1zM32 116h1v1h-1zM32 128h1v1h-1zM32 133h1v2h-1zM32 139h1v1h-1zM32 145h1v1h-1zM32 153h1v1h-1zM32 155h1v2h-1zM32 161h1v1h-1zM32 170h1v1h-1zM32 181h1v2h-1zM32 199h1v1h-1zM33 0h1v1h-1zM33 31h1v1h-1zM33 34h1v1h-1zM33 38h1v1h-1zM33 45h1v1h-1zM33 53h1v1h-1zM33 56h1v1h-1zM33 59h1v1h-1zM33 66h1v2h-1zM33 69h1v1h-1zM33 89h1v1h-1zM33 112h1v2h-1zM33 121h1v1h-1zM33 133h1v1h-1zM33 157h1v1h-1zM33 160h1v1h-1zM33 170h1v2h-1zM33 181h1v2h-1zM33 185h1v2h-1zM33 188h1v1h-1zM34 28h1v1h-1zM34 30h1v1h-1zM34 43h1v1h-1zM34 50h1v1h-1zM34 55h1v1h-1zM34 64h1v1h-1zM34 66h1v1h-1zM34 80h1v1h-1zM34 82h1v1h-1zM34 86h1v1h-1zM34 109h1v1h-1zM34 116h1v1h-1zM34 125h1v1h-1zM34 133h1v1h-1zM34 156h1v1h-1zM34 158h1v1h-1zM34 161h1v1h-1zM34 163h1v1h-1zM34 170h1v2h-1zM34 199h1v1h-1zM35 31h1v1h-1zM35 47h1v1h-1zM35 64h1v1h-1zM35 69h1v1h-1zM35 71h1v1h-1zM35 94h1v1h-1zM35 110h1v1h-1zM35 114h1v1h-1zM35 117h1v1h-1zM35 121h1v1h-1zM35 125h1v1h-1zM35 155h1v1h-1zM35 158h1v1h-1zM35 161h1v1h-1zM35 188h1v1h-1zM36 3h1v1h-1zM36 30h1v2h-1zM36 48h1v1h-1zM36 56h1v1h-1zM36 62h1v1h-1zM36 73h1v1h-1zM36 88h1v1h-1zM36 90h1v1h-1zM36 102h1v1h-1zM36 111h1v1h-1zM36 121h1v1h-1zM36 145h1v1h-1zM36 148h1v1h-1zM36 157h1v1h-1zM36 159h1v1h-1zM36 182h1v1h-1zM36 189h1v1h-1zM36 199h1v1h-1zM37 22h1v2h-1zM37 34h1v1h-1zM37 46h1v1h-1zM37 48h1v1h-1zM37 68h1v1h-1zM37 70h1v1h-1zM37 73h1v1h-1zM37 85h1v2h-1zM37 98h1v1h-1zM37 108h1v1h-1zM37 120h1v1h-1zM37 124h1v1h-1zM37 130h1v1h-1zM37 149h1v1h-1zM37 157h1v1h-1zM37 161h1v1h-1zM37 164h1v1h-1zM37 173h1v2h-1zM37 198h1v1h-1z"/>
<path fill="#d67a7d" d="M0 56h1v1h-1zM1 14h1v1h-1zM3 14h1v1h-1zM3 56h1v1h-1zM4 83h1v1h-1zM5 157h1v1h-1zM6 48h1v1h-1zM11 24h1v1h-1zM11 30h1v1h-1zM11 34h1v1h-1zM11 67h1v1h-1zM11 117h1v1h-1zM11 148h1v1h-1zM12 17h1v1h-1zM12 24h1v1h-1zM12 75h1v1h-1zM15 71h1v1h-1zM16 71h1v1h-1zM17 63h1v1h-1zM17 71h1v1h-1zM18 71h1v1h-1zM18 124h1v1h-1zM19 22h1v1h-1zM19 24h1v1h-1zM19 162h1v1h-1zM20 151h1v1h-1zM21 20h1v1h-1zM21 115h1v1h-1zM22 19h1v1h-1zM22 25h1v1h-1zM22 166h1v1h-1zM23 94h1v1h-1zM24 67h1v1h-1zM25 15h1v1h-1zM25 66h1v2h-1zM29 55h1v1h-1zM29 116h1v1h-1zM30 29h1v1h-1zM30 54h1v1h-1zM30 116h1v1h-1zM31 106h1v1h-1zM35 24h1v1h-1zM37 24h1v1h-1z"/>
<path fill="#d9b1b4" d="M0 68h1v1h-1zM0 143h1v1h-1zM0 173h1v1h-1zM0 180h1v1h-1zM1 12h1v1h-1zM1 76h1v1h-1zM1 81h1v1h-1zM1 125h1v1h-1zM1 157h1v1h-1zM1 160h1v1h-1zM2 78h1v2h-1zM2 110h1v1h-1zM2 125h1v1h-1zM2 146h1v1h-1zM2 151h1v1h-1zM2 160h1v1h-1zM3 12h1v1h-1zM3 27h1v1h-1zM3 51h1v1h-1zM3 81h1v1h-1zM4 16h1v1h-1zM4 74h1v1h-1zM4 81h1v1h-1zM5 17h1v1h-1zM5 57h1v1h-1zM5 146h1v1h-1zM6 16h1v1h-1zM6 56h1v1h-1zM6 67h1v1h-1zM6 81h1v1h-1zM6 136h1v1h-1zM6 171h1v1h-1zM6 193h1v1h-1zM7 5h1v1h-1zM7 10h1v1h-1zM7 14h1v1h-1zM7 45h1v1h-1zM7 74h1v1h-1zM7 140h1v1h-1zM7 184h1v1h-1zM8 81h1v1h-1zM9 16h1v1h-1zM9 27h1v1h-1zM9 58h1v1h-1zM9 74h1v1h-1zM9 108h1v1h-1zM10 12h1v1h-1zM10 17h1v1h-1zM10 64h1v1h-1zM10 158h1v1h-1zM11 18h1v1h-1zM11 36h1v1h-1zM11 65h1v1h-1zM11 70h1v1h-1zM11 172h1v1h-1zM12 6h1v1h-1zM12 18h1v1h-1zM12 26h1v1h-1zM12 158h1v1h-1zM13 6h1v1h-1zM13 33h1v1h-1zM13 52h1v1h-1zM13 64h1v1h-1zM13 97h1v2h-1zM13 145h1v1h-1zM13 158h1v1h-1zM13 191h1v1h-1zM14 11h1v1h-1zM14 25h1v1h-1zM14 37h1v1h-1zM14 46h1v1h-1zM14 175h1v1h-1zM15 13h1v1h-1zM15 25h1v1h-1zM15 37h1v1h-1zM15 41h1v1h-1zM15 78h1v1h-1zM15 97h1v1h-1zM15 138h1v1h-1zM16 2h1v1h-1zM16 25h1v1h-1zM16 41h1v1h-1zM16 68h1v1h-1zM16 174h1v1h-1zM17 13h1v1h-1zM17 25h1v2h-1zM17 126h1v1h-1zM18 5h1v1h-1zM18 117h1v1h-1zM19 1h1v1h-1zM19 3h1v1h-1zM19 32h1v1h-1zM19 40h1v1h-1zM19 47h1v1h-1zM19 57h1v1h-1zM19 155h1v1h-1zM19 163h1v1h-1zM20 21h1v1h-1zM20 67h1v1h-1zM20 134h1v1h-1zM21 14h1v1h-1zM21 21h1v1h-1zM21 26h1v1h-1zM21 29h1v1h-1zM21 69h1v1h-1zM21 110h1v1h-1zM21 122h1v1h-1zM22 29h1v1h-1zM22 37h1v1h-1zM22 67h1v1h-1zM22 86h1v1h-1zM22 113h1v1h-1zM23 1h1v1h-1zM23 34h1v1h-1zM23 96h1v1h-1zM23 146h1v1h-1zM23 156h1v1h-1zM24 1h1v2h-1zM24 9h1v3h-1zM24 14h1v1h-1zM24 18h1v1h-1zM24 28h1v1h-1zM24 47h1v1h-1zM24 58h1v1h-1zM25 1h1v4h-1zM25 11h1v1h-1zM25 14h1v1h-1zM25 28h1v1h-1zM25 46h1v1h-1zM25 146h1v1h-1zM25 148h1v1h-1zM26 16h1v1h-1zM26 18h1v1h-1zM26 38h1v1h-1zM26 52h1v1h-1zM26 68h1v1h-1zM27 31h1v1h-1zM27 44h1v1h-1zM27 95h1v1h-1zM28 10h1v1h-1zM28 14h1v1h-1zM28 20h1v1h-1zM28 22h1v1h-1zM28 31h1v1h-1zM28 52h1v1h-1zM28 86h1v2h-1zM28 129h1v1h-1zM28 151h1v1h-1zM28 168h1v1h-1zM29 38h1v1h-1zM29 45h1v1h-1zM29 52h1v1h-1zM29 80h1v1h-1zM29 119h1v1h-1zM30 21h1v1h-1zM30 80h1v1h-1zM30 119h1v1h-1zM31 21h1v1h-1zM31 24h1v1h-1zM33 7h1v1h-1zM33 162h1v1h-1zM34 1h1v1h-1zM34 7h1v1h-1zM34 13h1v1h-1zM34 29h1v1h-1zM34 74h1v1h-1zM34 110h1v1h-1zM35 17h1v1h-1zM35 65h1v1h-1zM36 1h1v1h-1zM36 17h1v1h-1zM36 27h1v1h-1zM36 32h1v1h-1zM36 107h1v1h-1zM36 112h1v1h-1zM37 9h1v1h-1zM37 25h1v1h-1zM37 36h1v1h-1zM37 40h1v1h-1zM37 58h1v1h-1z"/>
<path fill="#d57476" d="M0 72h1v1h-1zM2 14h1v1h-1zM4 2h1v1h-1zM4 21h1v1h-1zM4 48h1v1h-1zM5 28h1v1h-1zM6 28h1v1h-1zM7 2h1v1h-1zM8 48h1v1h-1zM10 24h1v1h-1zM10 74h1v1h-1zM13 67h1v1h-1zM15 124h1v1h-1zM16 141h1v1h-1zM16 173h1v1h-1zM17 124h1v1h-1zM20 0h1v1h-1zM20 60h1v1h-1zM20 112h1v1h-1zM21 5h1v1h-1zM21 18h1v1h-1zM22 0h1v1h-1zM22 20h1v1h-1zM23 15h1v1h-1zM23 67h1v1h-1zM24 27h1v1h-1zM25 27h1v1h-1zM25 94h1v1h-1zM26 0h1v1h-1zM26 31h1v1h-1zM27 21h1v1h-1zM28 0h1v1h-1zM29 54h1v1h-1zM30 43h1v1h-1zM31 29h1v1h-1zM31 134h1v1h-1zM33 16h1v1h-1zM33 154h1v1h-1zM34 24h1v1h-1zM36 24h1v1h-1z"/>
<path fill="#afc4d8" d="M0 79h1v1h-1zM0 95h1v1h-1zM0 107h1v1h-1zM0 157h1v1h-1zM1 122h1v1h-1zM1 132h1v1h-1zM2 86h1v1h-1zM2 183h1v1h-1zM2 194h1v1h-1zM3 77h1v1h-1zM3 147h1v1h-1zM4 86h1v1h-1zM4 105h1v1h-1zM4 196h1v1h-1zM5 107h1v1h-1zM5 144h1v1h-1zM5 186h1v1h-1zM6 71h1v1h-1zM6 110h1v1h-1zM6 132h1v1h-1zM7 35h1v1h-1zM7 55h1v1h-1zM7 71h1v1h-1zM7 85h1v1h-1zM7 115h1v1h-1zM7 144h1v1h-1zM7 153h1v1h-1zM8 63h1v1h-1zM8 162h1v1h-1zM9 69h1v1h-1zM9 72h1v1h-1zM9 194h1v1h-1zM10 39h1v1h-1zM10 50h1v1h-1zM10 127h1v1h-1zM10 142h1v1h-1zM10 147h1v1h-1zM10 163h1v1h-1zM10 186h1v1h-1zM11 55h1v1h-1zM11 167h1v1h-1zM11 177h1v1h-1zM12 147h1v1h-1zM12 177h1v1h-1zM13 177h1v1h-1zM14 22h1v1h-1zM14 120h1v1h-1zM14 133h1v1h-1zM14 148h1v1h-1zM15 39h1v2h-1zM15 83h1v1h-1zM15 114h1v1h-1zM15 120h1v1h-1zM15 136h1v1h-1zM15 196h1v1h-1zM16 35h1v1h-1zM16 80h1v1h-1zM16 87h1v1h-1zM16 110h1v1h-1zM16 196h1v1h-1zM17 82h1v1h-1zM17 85h1v1h-1zM17 133h1v1h-1zM17 164h1v1h-1zM17 191h1v1h-1zM18 114h1v1h-1zM18 120h1v1h-1zM18 191h1v1h-1zM19 70h1v1h-1zM19 78h1v1h-1zM19 105h1v1h-1zM19 139h1v1h-1zM19 153h1v1h-1zM19 185h1v1h-1zM20 80h1v1h-1zM20 98h1v1h-1zM20 102h1v1h-1zM20 124h1v1h-1zM21 105h1v1h-1zM21 195h1v1h-1zM22 40h1v1h-1zM22 45h1v1h-1zM22 47h1v1h-1zM22 79h1v1h-1zM22 144h1v1h-1zM22 179h1v1h-1zM22 188h1v1h-1zM23 50h1v1h-1zM23 122h1v1h-1zM24 114h1v1h-1zM24 124h1v1h-1zM24 164h1v1h-1zM25 115h1v1h-1zM26 181h1v1h-1zM26 196h1v1h-1zM27 62h1v1h-1zM27 101h1v1h-1zM27 165h1v1h-1zM27 177h1v1h-1zM27 188h1v1h-1zM28 169h1v1h-1zM28 177h1v1h-1zM28 192h1v1h-1zM29 165h1v1h-1zM30 0h1v1h-1zM30 70h1v1h-1zM30 144h1v1h-1zM31 144h1v1h-1zM32 119h1v1h-1zM32 178h1v1h-1zM32 191h1v2h-1zM33 63h1v1h-1zM33 95h1v1h-1zM33 118h1v1h-1zM33 143h1v2h-1zM33 196h1v2h-1zM34 81h1v1h-1zM34 97h1v1h-1zM34 143h1v1h-1zM34 164h1v1h-1zM34 173h1v1h-1zM34 178h1v2h-1zM35 164h1v1h-1zM35 191h1v1h-1zM35 196h1v1h-1zM36 83h1v1h-1zM36 132h1v1h-1zM36 144h1v1h-1zM36 160h1v1h-1zM37 119h1v1h-1zM37 122h1v1h-1zM37 197h1v1h-1z"/>
<path fill="#94b5d3" d="M0 81h1v1h-1zM9 127h1v1h-1zM13 164h1v1h-1zM19 136h1v1h-1zM20 103h1v1h-1zM25 169h1v1h-1zM27 127h1v1h-1zM28 127h1v1h-1zM30 196h1v1h-1zM36 100h1v1h-1zM37 147h1v1h-1zM37 172h1v1h-1zM37 176h1v1h-1z"/>
<path fill="#d68184" d="M0 90h1v1h-1zM3 13h1v1h-1zM5 42h1v1h-1zM5 83h1v1h-1zM6 42h1v1h-1zM6 141h1v1h-1zM7 21h1v1h-1zM7 28h1v1h-1zM7 121h1v1h-1zM7 145h1v1h-1zM8 28h1v1h-1zM9 25h1v1h-1zM9 56h1v1h-1zM11 20h1v1h-1zM11 75h1v1h-1zM11 98h1v1h-1zM12 30h1v1h-1zM12 184h1v1h-1zM13 34h1v1h-1zM13 75h1v1h-1zM15 29h1v1h-1zM15 132h1v1h-1zM16 29h1v1h-1zM16 54h1v1h-1zM20 20h1v1h-1zM20 34h1v1h-1zM21 17h1v1h-1zM21 177h1v1h-1zM22 23h1v1h-1zM24 23h1v1h-1zM24 57h1v1h-1zM26 14h1v1h-1zM29 29h1v1h-1zM29 41h1v1h-1zM29 126h1v1h-1zM29 134h1v1h-1zM31 22h1v1h-1zM31 43h1v1h-1zM31 52h1v1h-1zM31 56h1v1h-1zM33 24h1v1h-1zM35 162h1v1h-1z"/>
<path fill="#a8c1d7" d="M0 103h1v1h-1zM0 199h1v1h-1zM1 127h1v1h-1zM1 166h1v1h-1zM2 145h1v1h-1zM2 147h1v1h-1zM3 107h1v1h-1zM3 143h1v1h-1zM4 13h1v1h-1zM4 78h1v1h-1zM4 95h1v1h-1zM4 102h1v1h-1zM4 132h1v1h-1zM4 138h1v1h-1zM5 130h1v1h-1zM5 189h1v1h-1zM6 133h1v1h-1zM7 63h1v1h-1zM7 185h1v1h-1zM8 132h1v1h-1zM8 153h1v1h-1zM8 177h1v1h-1zM8 187h1v1h-1zM9 131h1v1h-1zM9 181h1v1h-1zM10 55h1v1h-1zM10 95h1v1h-1zM10 177h1v1h-1zM11 127h1v1h-1zM11 147h1v1h-1zM12 164h1v1h-1zM12 182h1v1h-1zM13 125h1v1h-1zM14 114h1v1h-1zM15 95h1v1h-1zM15 119h1v1h-1zM16 40h1v1h-1zM16 144h1v1h-1zM17 156h1v1h-1zM17 195h1v1h-1zM18 195h1v1h-1zM20 135h1v1h-1zM21 80h1v1h-1zM21 135h1v1h-1zM22 178h1v1h-1zM23 83h1v1h-1zM24 122h1v1h-1zM24 147h1v1h-1zM25 50h1v1h-1zM25 79h1v1h-1zM25 118h1v1h-1zM25 124h1v1h-1zM25 164h1v1h-1zM26 144h1v1h-1zM26 165h1v1h-1zM27 137h1v1h-1zM27 197h1v1h-1zM28 144h1v1h-1zM28 186h1v1h-1zM29 137h1v1h-1zM29 156h1v1h-1zM29 164h1v1h-1zM30 98h1v1h-1zM30 164h1v1h-1zM31 84h1v1h-1zM31 98h1v1h-1zM32 147h1v1h-1zM33 176h1v1h-1zM33 178h1v1h-1zM33 191h1v1h-1zM34 35h1v1h-1zM34 63h1v1h-1zM34 83h1v1h-1zM34 167h1v1h-1zM34 187h1v1h-1zM34 195h1v1h-1zM35 131h1v1h-1zM35 144h1v1h-1zM35 147h1v1h-1zM35 166h1v1h-1zM36 95h1v1h-1zM36 178h1v1h-1zM36 195h1v1h-1zM37 95h1v1h-1z"/>
<path fill="#d3595c" d="M0 134h1v1h-1zM4 42h1v1h-1zM10 5h1v1h-1zM10 25h1v1h-1zM11 25h1v1h-1zM11 72h1v1h-1zM13 25h1v1h-1zM20 25h1v1h-1zM20 69h1v1h-1zM22 34h1v1h-1zM28 21h1v1h-1zM29 4h1v1h-1zM29 11h1v1h-1zM30 11h1v1h-1zM31 11h1v1h-1zM34 16h1v1h-1zM35 16h1v1h-1zM37 16h1v1h-1z"/>
<path fill="#9bb9d5" d="M0 162h1v1h-1zM4 186h1v1h-1zM5 132h1v1h-1zM5 156h1v1h-1zM6 144h1v1h-1zM7 186h1v1h-1zM8 102h1v1h-1zM8 133h1v1h-1zM8 186h1v1h-1zM9 188h1v1h-1zM15 105h1v1h-1zM17 80h1v1h-1zM21 144h1v1h-1zM22 135h1v1h-1zM22 186h1v1h-1zM23 118h1v1h-1zM23 164h1v1h-1zM23 169h1v1h-1zM24 50h1v1h-1zM24 169h1v1h-1zM32 144h1v1h-1zM32 167h1v1h-1zM33 147h1v1h-1zM35 122h1v1h-1zM35 167h1v1h-1zM35 172h1v1h-1zM36 147h1v1h-1zM36 167h1v1h-1zM37 167h1v1h-1zM37 191h1v1h-1zM37 195h1v1h-1z"/>
<path fill="#b5c8da" d="M0 167h1v1h-1zM0 197h1v1h-1zM1 70h1v1h-1zM1 89h1v1h-1zM1 147h1v1h-1zM1 150h1v1h-1zM1 195h1v1h-1zM2 32h1v1h-1zM2 34h1v1h-1zM2 54h1v1h-1zM2 70h1v1h-1zM2 144h1v1h-1zM2 182h1v1h-1zM3 32h1v1h-1zM3 120h1v1h-1zM3 132h1v1h-1zM3 150h1v1h-1zM3 166h1v1h-1zM3 177h1v1h-1zM3 179h1v1h-1zM3 196h1v2h-1zM4 63h1v1h-1zM4 126h1v1h-1zM4 130h1v1h-1zM4 181h1v1h-1zM4 185h1v1h-1zM5 34h1v1h-1zM5 102h1v1h-1zM5 110h1v1h-1zM5 115h1v1h-1zM5 153h1v1h-1zM5 162h1v1h-1zM5 180h1v1h-1zM5 199h1v1h-1zM6 86h1v1h-1zM6 95h1v1h-1zM6 138h1v1h-1zM6 156h1v1h-1zM6 159h1v1h-1zM6 169h1v2h-1zM6 177h1v1h-1zM6 181h1v1h-1zM6 186h1v1h-1zM6 196h1v1h-1zM7 95h1v1h-1zM7 138h1v1h-1zM7 151h1v1h-1zM7 156h1v1h-1zM7 177h1v1h-1zM7 181h1v1h-1zM7 189h1v1h-1zM8 71h1v1h-1zM9 4h1v1h-1zM9 50h1v1h-1zM9 54h1v1h-1zM9 65h1v1h-1zM9 117h1v1h-1zM9 171h1v1h-1zM10 62h1v1h-1zM10 182h1v1h-1zM10 185h1v1h-1zM10 188h1v1h-1zM10 192h1v1h-1zM11 39h1v1h-1zM11 81h1v1h-1zM11 125h1v1h-1zM11 142h1v1h-1zM11 170h1v1h-1zM11 192h1v1h-1zM12 39h1v1h-1zM12 42h1v1h-1zM12 125h1v1h-1zM12 127h1v1h-1zM12 174h1v1h-1zM12 192h1v1h-1zM13 95h1v1h-1zM13 140h1v1h-1zM13 175h1v1h-1zM13 183h1v1h-1zM14 70h1v1h-1zM14 80h1v1h-1zM14 85h1v1h-1zM14 149h1v1h-1zM14 164h1v1h-1zM14 196h1v2h-1zM15 80h1v1h-1zM15 85h1v1h-1zM15 154h1v1h-1zM15 164h1v1h-1zM16 85h1v1h-1zM16 133h1v1h-1zM16 149h1v1h-1zM16 191h1v1h-1zM16 195h1v1h-1zM17 22h1v1h-1zM17 50h1v1h-1zM17 103h1v1h-1zM17 111h1v1h-1zM17 148h1v1h-1zM18 80h1v1h-1zM18 83h1v1h-1zM18 119h1v1h-1zM18 128h1v1h-1zM18 133h1v1h-1zM18 151h1v1h-1zM18 154h1v1h-1zM19 79h1v1h-1zM19 95h1v1h-1zM19 110h1v1h-1zM19 152h1v1h-1zM19 165h1v1h-1zM19 174h1v1h-1zM19 181h1v1h-1zM19 195h1v1h-1zM20 44h1v2h-1zM20 47h1v1h-1zM20 77h1v1h-1zM20 127h1v1h-1zM20 136h1v1h-1zM20 179h1v1h-1zM20 185h1v2h-1zM20 194h1v2h-1zM21 28h1v1h-1zM21 30h1v1h-1zM21 44h1v1h-1zM21 102h1v1h-1zM21 114h1v1h-1zM21 147h1v1h-1zM21 164h1v1h-1zM21 173h1v1h-1zM21 178h1v1h-1zM21 194h1v1h-1zM22 28h1v1h-1zM22 97h1v1h-1zM22 127h1v1h-1zM22 136h1v1h-1zM22 138h1v1h-1zM22 191h1v1h-1zM23 131h1v1h-1zM23 165h1v1h-1zM23 177h1v1h-1zM24 63h1v1h-1zM24 79h1v1h-1zM24 90h1v1h-1zM24 93h1v1h-1zM24 115h1v1h-1zM24 135h1v2h-1zM24 160h1v1h-1zM24 168h1v1h-1zM24 189h1v1h-1zM25 83h1v1h-1zM25 90h1v1h-1zM26 54h1v1h-1zM26 150h1v1h-1zM26 177h1v1h-1zM26 183h1v1h-1zM26 186h1v1h-1zM26 188h1v1h-1zM27 60h1v1h-1zM27 91h1v1h-1zM27 118h1v1h-1zM27 144h1v1h-1zM27 181h1v1h-1zM27 183h1v1h-1zM27 186h1v1h-1zM27 196h1v1h-1zM28 4h1v1h-1zM28 62h1v1h-1zM28 100h1v1h-1zM28 109h1v1h-1zM28 183h1v1h-1zM29 70h1v1h-1zM29 76h1v1h-1zM29 111h1v1h-1zM29 163h1v1h-1zM29 167h1v1h-1zM29 194h1v1h-1zM29 196h1v1h-1zM30 104h1v1h-1zM30 128h1v1h-1zM31 70h1v1h-1zM31 76h1v2h-1zM31 92h1v1h-1zM31 128h1v1h-1zM31 132h1v1h-1zM31 163h1v1h-1zM31 165h1v1h-1zM31 169h1v1h-1zM31 196h1v1h-1zM32 82h1v1h-1zM32 92h1v1h-1zM32 149h1v1h-1zM32 160h1v1h-1zM32 166h1v1h-1zM32 172h1v1h-1zM32 196h1v1h-1zM33 50h1v1h-1zM33 84h1v1h-1zM33 100h1v2h-1zM33 130h1v1h-1zM33 137h1v1h-1zM33 167h1v1h-1zM33 172h1v1h-1zM33 179h1v1h-1zM34 94h1v2h-1zM34 155h1v1h-1zM34 186h1v1h-1zM35 52h1v1h-1zM35 63h1v1h-1zM35 92h1v1h-1zM35 100h1v1h-1zM35 143h1v1h-1zM35 178h1v1h-1zM35 182h1v1h-1zM35 195h1v1h-1zM35 197h1v1h-1zM36 118h1v1h-1zM36 130h1v1h-1zM36 172h1v1h-1zM36 177h1v1h-1zM36 185h1v1h-1zM36 192h1v1h-1zM36 196h1v1h-1zM37 81h1v1h-1zM37 83h1v1h-1zM37 94h1v1h-1zM37 101h1v1h-1zM37 131h1v2h-1zM37 143h1v1h-1zM37 180h1v1h-1zM37 193h1v2h-1z"/>
<path fill="#d46669" d="M1 11h1v1h-1zM1 110h1v1h-1zM2 11h1v1h-1zM2 50h1v1h-1zM5 48h1v1h-1zM7 48h1v1h-1zM8 42h1v1h-1zM14 71h1v1h-1zM14 124h1v1h-1zM15 63h1v1h-1zM16 96h1v1h-1zM19 43h1v1h-1zM20 18h1v1h-1zM20 115h1v1h-1zM22 18h1v1h-1zM24 15h1v1h-1zM24 166h1v1h-1zM30 19h1v1h-1zM30 134h1v1h-1z"/>
<path fill="#d56d70" d="M1 13h1v1h-1zM4 168h1v1h-1zM5 2h1v1h-1zM6 2h1v1h-1zM6 83h1v1h-1zM6 157h1v1h-1zM7 42h1v1h-1zM9 21h1v1h-1zM13 24h1v1h-1zM15 2h1v1h-1zM18 63h1v1h-1zM19 2h1v1h-1zM20 5h1v1h-1zM20 19h1v1h-1zM21 19h1v1h-1zM21 25h1v1h-1zM22 151h1v1h-1zM26 21h1v1h-1zM30 55h1v1h-1zM31 54h1v1h-1zM32 16h1v1h-1z"/>
<path fill="#80aacf" d="M1 165h1v1h-1zM2 165h1v1h-1zM26 127h1v1h-1zM26 137h1v1h-1z"/>
<path fill="#a2bdd6" d="M2 132h1v1h-1zM2 180h1v1h-1zM3 165h1v1h-1zM4 144h1v1h-1zM4 162h1v1h-1zM6 63h1v1h-1zM6 162h1v1h-1zM7 133h1v1h-1zM7 162h1v1h-1zM8 95h1v1h-1zM9 186h1v1h-1zM10 125h1v1h-1zM11 95h1v1h-1zM11 164h1v1h-1zM12 95h1v1h-1zM13 194h1v1h-1zM14 39h1v1h-1zM15 151h1v1h-1zM17 114h1v1h-1zM17 196h1v1h-1zM18 35h1v1h-1zM18 196h1v1h-1zM20 79h1v1h-1zM20 144h1v1h-1zM25 189h1v1h-1zM26 62h1v1h-1zM26 101h1v1h-1zM26 192h1v1h-1zM26 197h1v1h-1zM27 169h1v1h-1zM28 99h1v1h-1zM28 137h1v1h-1zM29 77h1v1h-1zM31 115h1v1h-1zM32 95h1v1h-1zM32 176h1v1h-1zM32 179h1v1h-1zM33 131h1v1h-1zM34 191h1v1h-1zM35 50h1v1h-1zM35 89h1v1h-1zM35 95h1v1h-1zM35 176h1v1h-1zM36 131h1v1h-1zM37 100h1v1h-1zM37 144h1v1h-1zM37 187h1v1h-1zM37 196h1v1h-1z"/>
<path fill="#d45f62" d="M3 11h1v1h-1zM4 28h1v1h-1zM9 43h1v1h-1zM12 25h1v1h-1zM16 124h1v1h-1zM25 10h1v1h-1zM36 16h1v1h-1z"/>
<path fill="#87aed1" d="M6 102h1v1h-1zM21 186h1v1h-1z"/>
<path fill="#8eb2d2" d="M7 102h1v1h-1zM10 164h1v1h-1zM22 105h1v1h-1zM31 164h1v1h-1z"/>
</g>
<g stroke="#8f98a2" stroke-opacity="0.8" stroke-width="0.7"><line x1="33.2" y1="41.0" x2="33.2" y2="283.8"/><line x1="38.19" y1="41.0" x2="38.19" y2="283.8"/><line x1="43.18" y1="41.0" x2="43.18" y2="283.8"/><line x1="48.17" y1="41.0" x2="48.17" y2="283.8"/><line x1="53.16" y1="41.0" x2="53.16" y2="283.8"/><line x1="58.15" y1="41.0" x2="58.15" y2="283.8"/><line x1="63.14" y1="41.0" x2="63.14" y2="283.8"/><line x1="68.13" y1="41.0" x2="68.13" y2="283.8"/><line x1="73.12" y1="41.0" x2="73.12" y2="283.8"/><line x1="78.11" y1="41.0" x2="78.11" y2="283.8"/><line x1="83.09" y1="41.0" x2="83.09" y2="283.8"/><line x1="88.08" y1="41.0" x2="88.08" y2="283.8"/><line x1="93.07" y1="41.0" x2="93.07" y2="283.8"/><line x1="98.06" y1="41.0" x2="98.06" y2="283.8"/><line x1="103.05" y1="41.0" x2="103.05" y2="283.8"/><line x1="108.04" y1="41.0" x2="108.04" y2="283.8"/><line x1="113.03" y1="41.0" x2="113.03" y2="283.8"/><line x1="118.02" y1="41.0" x2="118.02" y2="283.8"/><line x1="123.01" y1="41.0" x2="123.01" y2="283.8"/><line x1="128" y1="41.0" x2="128" y2="283.8"/><line x1="132.99" y1="41.0" x2="132.99" y2="283.8"/><line x1="137.98" y1="41.0" x2="137.98" y2="283.8"/><line x1="142.97" y1="41.0" x2="142.97" y2="283.8"/><line x1="147.96" y1="41.0" x2="147.96" y2="283.8"/><line x1="152.95" y1="41.0" x2="152.95" y2="283.8"/><line x1="157.94" y1="41.0" x2="157.94" y2="283.8"/><line x1="162.93" y1="41.0" x2="162.93" y2="283.8"/><line x1="167.92" y1="41.0" x2="167.92" y2="283.8"/><line x1="172.91" y1="41.0" x2="172.91" y2="283.8"/><line x1="177.89" y1="41.0" x2="177.89" y2="283.8"/><line x1="182.88" y1="41.0" x2="182.88" y2="283.8"/><line x1="187.87" y1="41.0" x2="187.87" y2="283.8"/><line x1="192.86" y1="41.0" x2="192.86" y2="283.8"/><line x1="197.85" y1="41.0" x2="197.85" y2="283.8"/><line x1="202.84" y1="41.0" x2="202.84" y2="283.8"/><line x1="207.83" y1="41.0" x2="207.83" y2="283.8"/><line x1="212.82" y1="41.0" x2="212.82" y2="283.8"/><line x1="217.81" y1="41.0" x2="217.81" y2="283.8"/><line x1="222.8" y1="41.0" x2="222.8" y2="283.8"/></g>
<g stroke="#a7adb4" stroke-opacity="0.35" stroke-width="0.3"><line x1="33.2" y1="42.21" x2="222.8" y2="42.21"/><line x1="33.2" y1="43.43" x2="222.8" y2="43.43"/><line x1="33.2" y1="44.64" x2="222.8" y2="44.64"/><line x1="33.2" y1="45.86" x2="222.8" y2="45.86"/><line x1="33.2" y1="47.07" x2="222.8" y2="47.07"/><line x1="33.2" y1="48.28" x2="222.8" y2="48.28"/><line x1="33.2" y1="49.5" x2="222.8" y2="49.5"/><line x1="33.2" y1="50.71" x2="222.8" y2="50.71"/><line x1="33.2" y1="51.93" x2="222.8" y2="51.93"/><line x1="33.2" y1="53.14" x2="222.8" y2="53.14"/><line x1="33.2" y1="54.35" x2="222.8" y2="54.35"/><line x1="33.2" y1="55.57" x2="222.8" y2="55.57"/><line x1="33.2" y1="56.78" x2="222.8" y2="56.78"/><line x1="33.2" y1="58" x2="222.8" y2="58"/><line x1="33.2" y1="59.21" x2="222.8" y2="59.21"/><line x1="33.2" y1="60.42" x2="222.8" y2="60.42"/><line x1="33.2" y1="61.64" x2="222.8" y2="61.64"/><line x1="33.2" y1="62.85" x2="222.8" y2="62.85"/><line x1="33.2" y1="64.07" x2="222.8" y2="64.07"/><line x1="33.2" y1="65.28" x2="222.8" y2="65.28"/><line x1="33.2" y1="66.49" x2="222.8" y2="66.49"/><line x1="33.2" y1="67.71" x2="222.8" y2="67.71"/><line x1="33.2" y1="68.92" x2="222.8" y2="68.92"/><line x1="33.2" y1="70.14" x2="222.8" y2="70.14"/><line x1="33.2" y1="71.35" x2="222.8" y2="71.35"/><line x1="33.2" y1="72.56" x2="222.8" y2="72.56"/><line x1="33.2" y1="73.78" x2="222.8" y2="73.78"/><line x1="33.2" y1="74.99" x2="222.8" y2="74.99"/><line x1="33.2" y1="76.21" x2="222.8" y2="76.21"/><line x1="33.2" y1="77.42" x2="222.8" y2="77.42"/><line x1="33.2" y1="78.63" x2="222.8" y2="78.63"/><line x1="33.2" y1="79.85" x2="222.8" y2="79.85"/><line x1="33.2" y1="81.06" x2="222.8" y2="81.06"/><line x1="33.2" y1="82.28" x2="222.8" y2="82.28"/><line x1="33.2" y1="83.49" x2="222.8" y2="83.49"/><line x1="33.2" y1="84.7" x2="222.8" y2="84.7"/><line x1="33.2" y1="85.92" x2="222.8" y2="85.92"/><line x1="33.2" y1="87.13" x2="222.8" y2="87.13"/><line x1="33.2" y1="88.35" x2="222.8" y2="88.35"/><line x1="33.2" y1="89.56" x2="222.8" y2="89.56"/><line x1="33.2" y1="90.77" x2="222.8" y2="90.77"/><line x1="33.2" y1="91.99" x2="222.8" y2="91.99"/><line x1="33.2" y1="93.2" x2="222.8" y2="93.2"/><line x1="33.2" y1="94.42" x2="222.8" y2="94.42"/><line x1="33.2" y1="95.63" x2="222.8" y2="95.63"/><line x1="33.2" y1="96.84" x2="222.8" y2="96.84"/><line x1="33.2" y1="98.06" x2="222.8" y2="98.06"/><line x1="33.2" y1="99.27" x2="222.8" y2="99.27"/><line x1="33.2" y1="100.49" x2="222.8" y2="100.49"/><line x1="33.2" y1="101.7" x2="222.8" y2="101.7"/><line x1="33.2" y1="102.91" x2="222.8" y2="102.91"/><line x1="33.2" y1="104.13" x2="222.8" y2="104.13"/><line x1="33.2" y1="105.34" x2="222.8" y2="105.34"/><line x1="33.2" y1="106.56" x2="222.8" y2="106.56"/><line x1="33.2" y1="107.77" x2="222.8" y2="107.77"/><line x1="33.2" y1="108.98" x2="222.8" y2="108.98"/><line x1="33.2" y1="110.2" x2="222.8" y2="110.2"/><line x1="33.2" y1="111.41" x2="222.8" y2="111.41"/><line x1="33.2" y1="112.63" x2="222.8" y2="112.63"/><line x1="33.2" y1="113.84" x2="222.8" y2="113.84"/><line x1="33.2" y1="115.05" x2="222.8" y2="115.05"/><line x1="33.2" y1="116.27" x2="222.8" y2="116.27"/><line x1="33.2" y1="117.48" x2="222.8" y2="117.48"/><line x1="33.2" y1="118.7" x2="222.8" y2="118.7"/><line x1="33.2" y1="119.91" x2="222.8" y2="119.91"/><line x1="33.2" y1="121.12" x2="222.8" y2="121.12"/><line x1="33.2" y1="122.34" x2="222.8" y2="122.34"/><line x1="33.2" y1="123.55" x2="222.8" y2="123.55"/><line x1="33.2" y1="124.77" x2="222.8" y2="124.77"/><line x1="33.2" y1="125.98" x2="222.8" y2="125.98"/><line x1="33.2" y1="127.19" x2="222.8" y2="127.19"/><line x1="33.2" y1="128.41" x2="222.8" y2="128.41"/><line x1="33.2" y1="129.62" x2="222.8" y2="129.62"/><line x1="33.2" y1="130.84" x2="222.8" y2="130.84"/><line x1="33.2" y1="132.05" x2="222.8" y2="132.05"/><line x1="33.2" y1="133.26" x2="222.8" y2="133.26"/><line x1="33.2" y1="134.48" x2="222.8" y2="134.48"/><line x1="33.2" y1="135.69" x2="222.8" y2="135.69"/><line x1="33.2" y1="136.91" x2="222.8" y2="136.91"/><line x1="33.2" y1="138.12" x2="222.8" y2="138.12"/><line x1="33.2" y1="139.33" x2="222.8" y2="139.33"/><line x1="33.2" y1="140.55" x2="222.8" y2="140.55"/><line x1="33.2" y1="141.76" x2="222.8" y2="141.76"/><line x1="33.2" y1="142.98" x2="222.8" y2="142.98"/><line x1="33.2" y1="144.19" x2="222.8" y2="144.19"/><line x1="33.2" y1="145.4" x2="222.8" y2="145.4"/><line x1="33.2" y1="146.62" x2="222.8" y2="146.62"/><line x1="33.2" y1="147.83" x2="222.8" y2="147.83"/><line x1="33.2" y1="149.05" x2="222.8" y2="149.05"/><line x1="33.2" y1="150.26" x2="222.8" y2="150.26"/><line x1="33.2" y1="151.47" x2="222.8" y2="151.47"/><line x1="33.2" y1="152.69" x2="222.8" y2="152.69"/><line x1="33.2" y1="153.9" x2="222.8" y2="153.9"/><line x1="33.2" y1="155.12" x2="222.8" y2="155.12"/><line x1="33.2" y1="156.33" x2="222.8" y2="156.33"/><line x1="33.2" y1="157.54" x2="222.8" y2="157.54"/><line x1="33.2" y1="158.76" x2="222.8" y2="158.76"/><line x1="33.2" y1="159.97" x2="222.8" y2="159.97"/><line x1="33.2" y1="161.19" x2="222.8" y2="161.19"/><line x1="33.2" y1="162.4" x2="222.8" y2="162.4"/><line x1="33.2" y1="163.61" x2="222.8" y2="163.61"/><line x1="33.2" y1="164.83" x2="222.8" y2="164.83"/><line x1="33.2" y1="166.04" x2="222.8" y2="166.04"/><line x1="33.2" y1="167.26" x2="222.8" y2="167.26"/><line x1="33.2" y1="168.47" x2="222.8" y2="168.47"/><line x1="33.2" y1="169.68" x2="222.8" y2="169.68"/><line x1="33.2" y1="170.9" x2="222.8" y2="170.9"/><line x1="33.2" y1="172.11" x2="222.8" y2="172.11"/><line x1="33.2" y1="173.33" x2="222.8" y2="173.33"/><line x1="33.2" y1="174.54" x2="222.8" y2="174.54"/><line x1="33.2" y1="175.75" x2="222.8" y2="175.75"/><line x1="33.2" y1="176.97" x2="222.8" y2="176.97"/><line x1="33.2" y1="178.18" x2="222.8" y2="178.18"/><line x1="33.2" y1="179.4" x2="222.8" y2="179.4"/><line x1="33.2" y1="180.61" x2="222.8" y2="180.61"/><line x1="33.2" y1="181.82" x2="222.8" y2="181.82"/><line x1="33.2" y1="183.04" x2="222.8" y2="183.04"/><line x1="33.2" y1="184.25" x2="222.8" y2="184.25"/><line x1="33.2" y1="185.47" x2="222.8" y2="185.47"/><line x1="33.2" y1="186.68" x2="222.8" y2="186.68"/><line x1="33.2" y1="187.89" x2="222.8" y2="187.89"/><line x1="33.2" y1="189.11" x2="222.8" y2="189.11"/><line x1="33.2" y1="190.32" x2="222.8" y2="190.32"/><line x1="33.2" y1="191.54" x2="222.8" y2="191.54"/><line x1="33.2" y1="192.75" x2="222.8" y2="192.75"/><line x1="33.2" y1="193.96" x2="222.8" y2="193.96"/><line x1="33.2" y1="195.18" x2="222.8" y2="195.18"/><line x1="33.2" y1="196.39" x2="222.8" y2="196.39"/><line x1="33.2" y1="197.61" x2="222.8" y2="197.61"/><line x1="33.2" y1="198.82" x2="222.8" y2="198.82"/><line x1="33.2" y1="200.03" x2="222.8" y2="200.03"/><line x1="33.2" y1="201.25" x2="222.8" y2="201.25"/><line x1="33.2" y1="202.46" x2="222.8" y2="202.46"/><line x1="33.2" y1="203.68" x2="222.8" y2="203.68"/><line x1="33.2" y1="204.89" x2="222.8" y2="204.89"/><line x1="33.2" y1="206.1" x2="222.8" y2="206.1"/><line x1="33.2" y1="207.32" x2="222.8" y2="207.32"/><line x1="33.2" y1="208.53" x2="222.8" y2="208.53"/><line x1="33.2" y1="209.75" x2="222.8" y2="209.75"/><line x1="33.2" y1="210.96" x2="222.8" y2="210.96"/><line x1="33.2" y1="212.17" x2="222.8" y2="212.17"/><line x1="33.2" y1="213.39" x2="222.8" y2="213.39"/><line x1="33.2" y1="214.6" x2="222.8" y2="214.6"/><line x1="33.2" y1="215.82" x2="222.8" y2="215.82"/><line x1="33.2" y1="217.03" x2="222.8" y2="217.03"/><line x1="33.2" y1="218.24" x2="222.8" y2="218.24"/><line x1="33.2" y1="219.46" x2="222.8" y2="219.46"/><line x1="33.2" y1="220.67" x2="222.8" y2="220.67"/><line x1="33.2" y1="221.89" x2="222.8" y2="221.89"/><line x1="33.2" y1="223.1" x2="222.8" y2="223.1"/><line x1="33.2" y1="224.31" x2="222.8" y2="224.31"/><line x1="33.2" y1="225.53" x2="222.8" y2="225.53"/><line x1="33.2" y1="226.74" x2="222.8" y2="226.74"/><line x1="33.2" y1="227.96" x2="222.8" y2="227.96"/><line x1="33.2" y1="229.17" x2="222.8" y2="229.17"/><line x1="33.2" y1="230.38" x2="222.8" y2="230.38"/><line x1="33.2" y1="231.6" x2="222.8" y2="231.6"/><line x1="33.2" y1="232.81" x2="222.8" y2="232.81"/><line x1="33.2" y1="234.03" x2="222.8" y2="234.03"/><line x1="33.2" y1="235.24" x2="222.8" y2="235.24"/><line x1="33.2" y1="236.45" x2="222.8" y2="236.45"/><line x1="33.2" y1="237.67" x2="222.8" y2="237.67"/><line x1="33.2" y1="238.88" x2="222.8" y2="238.88"/><line x1="33.2" y1="240.1" x2="222.8" y2="240.1"/><line x1="33.2" y1="241.31" x2="222.8" y2="241.31"/><line x1="33.2" y1="242.52" x2="222.8" y2="242.52"/><line x1="33.2" y1="243.74" x2="222.8" y2="243.74"/><line x1="33.2" y1="244.95" x2="222.8" y2="244.95"/><line x1="33.2" y1="246.17" x2="222.8" y2="246.17"/><line x1="33.2" y1="247.38" x2="222.8" y2="247.38"/><line x1="33.2" y1="248.59" x2="222.8" y2="248.59"/><line x1="33.2" y1="249.81" x2="222.8" y2="249.81"/><line x1="33.2" y1="251.02" x2="222.8" y2="251.02"/><line x1="33.2" y1="252.24" x2="222.8" y2="252.24"/><line x1="33.2" y1="253.45" x2="222.8" y2="253.45"/><line x1="33.2" y1="254.66" x2="222.8" y2="254.66"/><line x1="33.2" y1="255.88" x2="222.8" y2="255.88"/><line x1="33.2" y1="257.09" x2="222.8" y2="257.09"/><line x1="33.2" y1="258.31" x2="222.8" y2="258.31"/><line x1="33.2" y1="259.52" x2="222.8" y2="259.52"/><line x1="33.2" y1="260.73" x2="222.8" y2="260.73"/><line x1="33.2" y1="261.95" x2="222.8" y2="261.95"/><line x1="33.2" y1="263.16" x2="222.8" y2="263.16"/><line x1="33.2" y1="264.38" x2="222.8" y2="264.38"/><line x1="33.2" y1="265.59" x2="222.8" y2="265.59"/><line x1="33.2" y1="266.8" x2="222.8" y2="266.8"/><line x1="33.2" y1="268.02" x2="222.8" y2="268.02"/><line x1="33.2" y1="269.23" x2="222.8" y2="269.23"/><line x1="33.2" y1="270.45" x2="222.8" y2="270.45"/><line x1="33.2" y1="271.66" x2="222.8" y2="271.66"/><line x1="33.2" y1="272.87" x2="222.8" y2="272.87"/><line x1="33.2" y1="274.09" x2="222.8" y2="274.09"/><line x1="33.2" y1="275.3" x2="222.8" y2="275.3"/><line x1="33.2" y1="276.52" x2="222.8" y2="276.52"/><line x1="33.2" y1="277.73" x2="222.8" y2="277.73"/><line x1="33.2" y1="278.94" x2="222.8" y2="278.94"/><line x1="33.2" y1="280.16" x2="222.8" y2="280.16"/><line x1="33.2" y1="281.37" x2="222.8" y2="281.37"/><line x1="33.2" y1="282.59" x2="222.8" y2="282.59"/></g>
<g font-size="5.43" text-anchor="end">
<text transform="translate(37.59,286.6) rotate(-90)">CD8+</text>
<text transform="translate(42.58,286.6) rotate(-90)">CD8+LAG3−</text>
<text transform="translate(47.57,286.6) rotate(-90)">CD8+PD1−</text>
<text transform="translate(52.56,286.6) rotate(-90)">CD8+TIM3−</text>
<text transform="translate(57.55,286.6) rotate(-90)">CD8+TIGIT+</text>
<text transform="translate(62.54,286.6) rotate(-90)">CD8+PD1−TIGIT+</text>
<text transform="translate(67.53,286.6) rotate(-90)">CD8+TIGIT+TIM3−</text>
<text transform="translate(72.52,286.6) rotate(-90)">CD8+LAG3−TIGIT+TIM3−</text>
<text transform="translate(77.51,286.6) rotate(-90)">CD8+PD1−TIGIT+TIM3−</text>
<text transform="translate(82.5,286.6) rotate(-90)">CD4+</text>
<text transform="translate(87.49,286.6) rotate(-90)">CD4+FOXP3+</text>
<text transform="translate(92.48,286.6) rotate(-90)">CD4+CTLA4+FOXP3+PDL1+</text>
<text transform="translate(97.47,286.6) rotate(-90)">CD4+CTLA4+FOXP3+</text>
<text transform="translate(102.46,286.6) rotate(-90)">CD4+FOXP3+PDL1+</text>
<text transform="translate(107.45,286.6) rotate(-90)">CD4+FOXP3−</text>
<text transform="translate(112.44,286.6) rotate(-90)">CD4+CTLA4+FOXP3−</text>
<text transform="translate(117.43,286.6) rotate(-90)">CD4+CTLA4−FOXP3−</text>
<text transform="translate(122.42,286.6) rotate(-90)">CD4+FOXP3−PDL1+</text>
<text transform="translate(127.41,286.6) rotate(-90)">CD4+FOXP3−PDL1−</text>
<text transform="translate(132.39,286.6) rotate(-90)">CD68+</text>
<text transform="translate(137.38,286.6) rotate(-90)">CD163−CD68+CD86+</text>
<text transform="translate(142.37,286.6) rotate(-90)">CD163−CD68+CD86+PDL1+</text>
<text transform="translate(147.36,286.6) rotate(-90)">CD163−CD68+CD86+VISTA+</text>
<text transform="translate(152.35,286.6) rotate(-90)">CD163+CD68+CD86−</text>
<text transform="translate(157.34,286.6) rotate(-90)">CD163+CD68+CD86−PDL1+</text>
<text transform="translate(162.33,286.6) rotate(-90)">CD163+CD68+CD86−VISTA+</text>
<text transform="translate(167.32,286.6) rotate(-90)">CD66B+</text>
<text transform="translate(172.31,286.6) rotate(-90)">CD66B+PDL1+</text>
<text transform="translate(177.3,286.6) rotate(-90)">CD66B+VISTA+</text>
<text transform="translate(182.29,286.6) rotate(-90)">SMA+</text>
<text transform="translate(187.28,286.6) rotate(-90)">FAP+</text>
<text transform="translate(192.27,286.6) rotate(-90)">FAP+SMA+</text>
<text transform="translate(197.26,286.6) rotate(-90)">LAG3+</text>
<text transform="translate(202.25,286.6) rotate(-90)">TIM3+</text>
<text transform="translate(207.24,286.6) rotate(-90)">PD1+</text>
<text transform="translate(212.23,286.6) rotate(-90)">TIGIT+</text>
<text transform="translate(217.22,286.6) rotate(-90)">PDL1+</text>
<text transform="translate(222.21,286.6) rotate(-90)">CTLA4+</text>
</g>
<rect x="224.8" y="41" width="6.8" height="74.05" fill="#62b080"/>
<rect x="224.8" y="115.05" width="6.8" height="168.75" fill="#4690b0"/>
<text transform="translate(230.2,287) rotate(-90)" font-size="5.64" text-anchor="end">VISTA</text>
<rect x="232.33" y="41" width="6.8" height="1.21" fill="#4ea8db"/>
<rect x="232.33" y="42.21" width="6.8" height="2.43" fill="#e8825a"/>
<rect x="232.33" y="44.64" width="6.8" height="2.43" fill="#4ea8db"/>
<rect x="232.33" y="47.07" width="6.8" height="2.43" fill="#e8825a"/>
<rect x="232.33" y="49.5" width="6.8" height="1.21" fill="#4ea8db"/>
<rect x="232.33" y="50.71" width="6.8" height="1.21" fill="#e8825a"/>
<rect x="232.33" y="51.93" width="6.8" height="6.07" fill="#4ea8db"/>
<rect x="232.33" y="58" width="6.8" height="4.86" fill="#e8825a"/>
<rect x="232.33" y="62.85" width="6.8" height="1.21" fill="#4ea8db"/>
<rect x="232.33" y="64.07" width="6.8" height="3.64" fill="#e8825a"/>
<rect x="232.33" y="67.71" width="6.8" height="2.43" fill="#4ea8db"/>
<rect x="232.33" y="70.14" width="6.8" height="1.21" fill="#e8825a"/>
<rect x="232.33" y="71.35" width="6.8" height="3.64" fill="#4ea8db"/>
<rect x="232.33" y="74.99" width="6.8" height="1.21" fill="#e8825a"/>
<rect x="232.33" y="76.21" width="6.8" height="1.21" fill="#4ea8db"/>
<rect x="232.33" y="77.42" width="6.8" height="4.86" fill="#e8825a"/>
<rect x="232.33" y="82.28" width="6.8" height="4.86" fill="#4ea8db"/>
<rect x="232.33" y="87.13" width="6.8" height="1.21" fill="#e8825a"/>
<rect x="232.33" y="88.35" width="6.8" height="1.21" fill="#4ea8db"/>
<rect x="232.33" y="89.56" width="6.8" height="8.5" fill="#e8825a"/>
<rect x="232.33" y="98.06" width="6.8" height="1.21" fill="#4ea8db"/>
<rect x="232.33" y="99.27" width="6.8" height="7.28" fill="#e8825a"/>
<rect x="232.33" y="106.56" width="6.8" height="2.43" fill="#4ea8db"/>
<rect x="232.33" y="108.98" width="6.8" height="6.07" fill="#e8825a"/>
<rect x="232.33" y="115.05" width="6.8" height="4.86" fill="#4ea8db"/>
<rect x="232.33" y="119.91" width="6.8" height="1.21" fill="#e8825a"/>
<rect x="232.33" y="121.12" width="6.8" height="1.21" fill="#4ea8db"/>
<rect x="232.33" y="122.34" width="6.8" height="4.86" fill="#e8825a"/>
<rect x="232.33" y="127.19" width="6.8" height="1.21" fill="#4ea8db"/>
<rect x="232.33" y="128.41" width="6.8" height="1.21" fill="#e8825a"/>
<rect x="232.33" y="129.62" width="6.8" height="1.21" fill="#4ea8db"/>
<rect x="232.33" y="130.84" width="6.8" height="2.43" fill="#e8825a"/>
<rect x="232.33" y="133.26" width="6.8" height="1.21" fill="#4ea8db"/>
<rect x="232.33" y="134.48" width="6.8" height="1.21" fill="#e8825a"/>
<rect x="232.33" y="135.69" width="6.8" height="2.43" fill="#4ea8db"/>
<rect x="232.33" y="138.12" width="6.8" height="6.07" fill="#e8825a"/>
<rect x="232.33" y="144.19" width="6.8" height="1.21" fill="#4ea8db"/>
<rect x="232.33" y="145.4" width="6.8" height="2.43" fill="#e8825a"/>
<rect x="232.33" y="147.83" width="6.8" height="3.64" fill="#4ea8db"/>
<rect x="232.33" y="151.47" width="6.8" height="7.28" fill="#e8825a"/>
<rect x="232.33" y="158.76" width="6.8" height="1.21" fill="#4ea8db"/>
<rect x="232.33" y="159.97" width="6.8" height="1.21" fill="#e8825a"/>
<rect x="232.33" y="161.19" width="6.8" height="6.07" fill="#4ea8db"/>
<rect x="232.33" y="167.26" width="6.8" height="1.21" fill="#e8825a"/>
<rect x="232.33" y="168.47" width="6.8" height="4.86" fill="#4ea8db"/>
<rect x="232.33" y="173.33" width="6.8" height="1.21" fill="#e8825a"/>
<rect x="232.33" y="174.54" width="6.8" height="1.21" fill="#4ea8db"/>
<rect x="232.33" y="175.75" width="6.8" height="1.21" fill="#e8825a"/>
<rect x="232.33" y="176.97" width="6.8" height="1.21" fill="#4ea8db"/>
<rect x="232.33" y="178.18" width="6.8" height="2.43" fill="#e8825a"/>
<rect x="232.33" y="180.61" width="6.8" height="2.43" fill="#4ea8db"/>
<rect x="232.33" y="183.04" width="6.8" height="2.43" fill="#e8825a"/>
<rect x="232.33" y="185.47" width="6.8" height="1.21" fill="#4ea8db"/>
<rect x="232.33" y="186.68" width="6.8" height="3.64" fill="#e8825a"/>
<rect x="232.33" y="190.32" width="6.8" height="1.21" fill="#4ea8db"/>
<rect x="232.33" y="191.54" width="6.8" height="3.64" fill="#e8825a"/>
<rect x="232.33" y="195.18" width="6.8" height="1.21" fill="#4ea8db"/>
<rect x="232.33" y="196.39" width="6.8" height="1.21" fill="#e8825a"/>
<rect x="232.33" y="197.61" width="6.8" height="3.64" fill="#4ea8db"/>
<rect x="232.33" y="201.25" width="6.8" height="1.21" fill="#e8825a"/>
<rect x="232.33" y="202.46" width="6.8" height="4.86" fill="#4ea8db"/>
<rect x="232.33" y="207.32" width="6.8" height="6.07" fill="#e8825a"/>
<rect x="232.33" y="213.39" width="6.8" height="2.43" fill="#4ea8db"/>
<rect x="232.33" y="215.82" width="6.8" height="2.43" fill="#e8825a"/>
<rect x="232.33" y="218.24" width="6.8" height="1.21" fill="#4ea8db"/>
<rect x="232.33" y="219.46" width="6.8" height="4.86" fill="#e8825a"/>
<rect x="232.33" y="224.31" width="6.8" height="6.07" fill="#4ea8db"/>
<rect x="232.33" y="230.38" width="6.8" height="4.86" fill="#e8825a"/>
<rect x="232.33" y="235.24" width="6.8" height="1.21" fill="#4ea8db"/>
<rect x="232.33" y="236.45" width="6.8" height="3.64" fill="#e8825a"/>
<rect x="232.33" y="240.1" width="6.8" height="2.43" fill="#4ea8db"/>
<rect x="232.33" y="242.52" width="6.8" height="1.21" fill="#e8825a"/>
<rect x="232.33" y="243.74" width="6.8" height="1.21" fill="#4ea8db"/>
<rect x="232.33" y="244.95" width="6.8" height="1.21" fill="#e8825a"/>
<rect x="232.33" y="246.17" width="6.8" height="3.64" fill="#4ea8db"/>
<rect x="232.33" y="249.81" width="6.8" height="3.64" fill="#e8825a"/>
<rect x="232.33" y="253.45" width="6.8" height="4.86" fill="#4ea8db"/>
<rect x="232.33" y="258.31" width="6.8" height="1.21" fill="#e8825a"/>
<rect x="232.33" y="259.52" width="6.8" height="1.21" fill="#4ea8db"/>
<rect x="232.33" y="260.73" width="6.8" height="3.64" fill="#e8825a"/>
<rect x="232.33" y="264.38" width="6.8" height="1.21" fill="#4ea8db"/>
<rect x="232.33" y="265.59" width="6.8" height="10.93" fill="#e8825a"/>
<rect x="232.33" y="276.52" width="6.8" height="3.64" fill="#4ea8db"/>
<rect x="232.33" y="280.16" width="6.8" height="1.21" fill="#e8825a"/>
<rect x="232.33" y="281.37" width="6.8" height="1.21" fill="#4ea8db"/>
<rect x="232.33" y="282.59" width="6.8" height="1.21" fill="#e8825a"/>
<text transform="translate(237.73,287) rotate(-90)" font-size="5.64" text-anchor="end">Age</text>
<rect x="239.86" y="41" width="6.8" height="12.14" fill="#4a88c6"/>
<rect x="239.86" y="53.14" width="6.8" height="3.64" fill="#d9708a"/>
<rect x="239.86" y="56.78" width="6.8" height="6.07" fill="#4a88c6"/>
<rect x="239.86" y="62.85" width="6.8" height="1.21" fill="#d9708a"/>
<rect x="239.86" y="64.07" width="6.8" height="2.43" fill="#4a88c6"/>
<rect x="239.86" y="66.49" width="6.8" height="2.43" fill="#d9708a"/>
<rect x="239.86" y="68.92" width="6.8" height="2.43" fill="#4a88c6"/>
<rect x="239.86" y="71.35" width="6.8" height="1.21" fill="#d9708a"/>
<rect x="239.86" y="72.56" width="6.8" height="4.86" fill="#4a88c6"/>
<rect x="239.86" y="77.42" width="6.8" height="1.21" fill="#d9708a"/>
<rect x="239.86" y="78.63" width="6.8" height="3.64" fill="#4a88c6"/>
<rect x="239.86" y="82.28" width="6.8" height="3.64" fill="#d9708a"/>
<rect x="239.86" y="85.92" width="6.8" height="7.28" fill="#4a88c6"/>
<rect x="239.86" y="93.2" width="6.8" height="2.43" fill="#d9708a"/>
<rect x="239.86" y="95.63" width="6.8" height="4.86" fill="#4a88c6"/>
<rect x="239.86" y="100.49" width="6.8" height="1.21" fill="#d9708a"/>
<rect x="239.86" y="101.7" width="6.8" height="2.43" fill="#4a88c6"/>
<rect x="239.86" y="104.13" width="6.8" height="2.43" fill="#d9708a"/>
<rect x="239.86" y="106.56" width="6.8" height="4.86" fill="#4a88c6"/>
<rect x="239.86" y="111.41" width="6.8" height="1.21" fill="#d9708a"/>
<rect x="239.86" y="112.63" width="6.8" height="3.64" fill="#4a88c6"/>
<rect x="239.86" y="116.27" width="6.8" height="1.21" fill="#d9708a"/>
<rect x="239.86" y="117.48" width="6.8" height="2.43" fill="#4a88c6"/>
<rect x="239.86" y="119.91" width="6.8" height="3.64" fill="#d9708a"/>
<rect x="239.86" y="123.55" width="6.8" height="1.21" fill="#4a88c6"/>
<rect x="239.86" y="124.77" width="6.8" height="1.21" fill="#d9708a"/>
<rect x="239.86" y="125.98" width="6.8" height="2.43" fill="#4a88c6"/>
<rect x="239.86" y="128.41" width="6.8" height="1.21" fill="#d9708a"/>
<rect x="239.86" y="129.62" width="6.8" height="6.07" fill="#4a88c6"/>
<rect x="239.86" y="135.69" width="6.8" height="4.86" fill="#d9708a"/>
<rect x="239.86" y="140.55" width="6.8" height="7.28" fill="#4a88c6"/>
<rect x="239.86" y="147.83" width="6.8" height="1.21" fill="#d9708a"/>
<rect x="239.86" y="149.05" width="6.8" height="4.86" fill="#4a88c6"/>
<rect x="239.86" y="153.9" width="6.8" height="3.64" fill="#d9708a"/>
<rect x="239.86" y="157.54" width="6.8" height="1.21" fill="#4a88c6"/>
<rect x="239.86" y="158.76" width="6.8" height="2.43" fill="#d9708a"/>
<rect x="239.86" y="161.19" width="6.8" height="10.93" fill="#4a88c6"/>
<rect x="239.86" y="172.11" width="6.8" height="1.21" fill="#d9708a"/>
<rect x="239.86" y="173.33" width="6.8" height="2.43" fill="#4a88c6"/>
<rect x="239.86" y="175.75" width="6.8" height="1.21" fill="#d9708a"/>
<rect x="239.86" y="176.97" width="6.8" height="3.64" fill="#4a88c6"/>
<rect x="239.86" y="180.61" width="6.8" height="1.21" fill="#d9708a"/>
<rect x="239.86" y="181.82" width="6.8" height="15.78" fill="#4a88c6"/>
<rect x="239.86" y="197.61" width="6.8" height="1.21" fill="#d9708a"/>
<rect x="239.86" y="198.82" width="6.8" height="2.43" fill="#4a88c6"/>
<rect x="239.86" y="201.25" width="6.8" height="1.21" fill="#d9708a"/>
<rect x="239.86" y="202.46" width="6.8" height="1.21" fill="#4a88c6"/>
<rect x="239.86" y="203.68" width="6.8" height="2.43" fill="#d9708a"/>
<rect x="239.86" y="206.1" width="6.8" height="18.21" fill="#4a88c6"/>
<rect x="239.86" y="224.31" width="6.8" height="9.71" fill="#d9708a"/>
<rect x="239.86" y="234.03" width="6.8" height="12.14" fill="#4a88c6"/>
<rect x="239.86" y="246.17" width="6.8" height="1.21" fill="#d9708a"/>
<rect x="239.86" y="247.38" width="6.8" height="2.43" fill="#4a88c6"/>
<rect x="239.86" y="249.81" width="6.8" height="1.21" fill="#d9708a"/>
<rect x="239.86" y="251.02" width="6.8" height="8.5" fill="#4a88c6"/>
<rect x="239.86" y="259.52" width="6.8" height="1.21" fill="#d9708a"/>
<rect x="239.86" y="260.73" width="6.8" height="1.21" fill="#4a88c6"/>
<rect x="239.86" y="261.95" width="6.8" height="3.64" fill="#d9708a"/>
<rect x="239.86" y="265.59" width="6.8" height="1.21" fill="#4a88c6"/>
<rect x="239.86" y="266.8" width="6.8" height="1.21" fill="#d9708a"/>
<rect x="239.86" y="268.02" width="6.8" height="2.43" fill="#4a88c6"/>
<rect x="239.86" y="270.45" width="6.8" height="1.21" fill="#d9708a"/>
<rect x="239.86" y="271.66" width="6.8" height="1.21" fill="#4a88c6"/>
<rect x="239.86" y="272.87" width="6.8" height="1.21" fill="#d9708a"/>
<rect x="239.86" y="274.09" width="6.8" height="1.21" fill="#4a88c6"/>
<rect x="239.86" y="275.3" width="6.8" height="2.43" fill="#d9708a"/>
<rect x="239.86" y="277.73" width="6.8" height="2.43" fill="#4a88c6"/>
<rect x="239.86" y="280.16" width="6.8" height="1.21" fill="#d9708a"/>
<rect x="239.86" y="281.37" width="6.8" height="1.21" fill="#4a88c6"/>
<rect x="239.86" y="282.59" width="6.8" height="1.21" fill="#d9708a"/>
<text transform="translate(245.26,287) rotate(-90)" font-size="5.64" text-anchor="end">Gender</text>
<rect x="247.39" y="41" width="6.8" height="3.64" fill="#eda56e"/>
<rect x="247.39" y="44.64" width="6.8" height="2.43" fill="#cccccc"/>
<rect x="247.39" y="47.07" width="6.8" height="2.43" fill="#5fb07a"/>
<rect x="247.39" y="49.5" width="6.8" height="2.43" fill="#eda56e"/>
<rect x="247.39" y="51.93" width="6.8" height="2.43" fill="#5fb07a"/>
<rect x="247.39" y="54.35" width="6.8" height="3.64" fill="#eda56e"/>
<rect x="247.39" y="58" width="6.8" height="7.28" fill="#5fb07a"/>
<rect x="247.39" y="65.28" width="6.8" height="1.21" fill="#eda56e"/>
<rect x="247.39" y="66.49" width="6.8" height="3.64" fill="#5fb07a"/>
<rect x="247.39" y="70.14" width="6.8" height="3.64" fill="#eda56e"/>
<rect x="247.39" y="73.78" width="6.8" height="3.64" fill="#5fb07a"/>
<rect x="247.39" y="77.42" width="6.8" height="2.43" fill="#eda56e"/>
<rect x="247.39" y="79.85" width="6.8" height="1.21" fill="#cccccc"/>
<rect x="247.39" y="81.06" width="6.8" height="2.43" fill="#eda56e"/>
<rect x="247.39" y="83.49" width="6.8" height="1.21" fill="#5fb07a"/>
<rect x="247.39" y="84.7" width="6.8" height="3.64" fill="#eda56e"/>
<rect x="247.39" y="88.35" width="6.8" height="1.21" fill="#cccccc"/>
<rect x="247.39" y="89.56" width="6.8" height="7.28" fill="#eda56e"/>
<rect x="247.39" y="96.84" width="6.8" height="1.21" fill="#5fb07a"/>
<rect x="247.39" y="98.06" width="6.8" height="1.21" fill="#eda56e"/>
<rect x="247.39" y="99.27" width="6.8" height="1.21" fill="#cccccc"/>
<rect x="247.39" y="100.49" width="6.8" height="1.21" fill="#eda56e"/>
<rect x="247.39" y="101.7" width="6.8" height="1.21" fill="#5fb07a"/>
<rect x="247.39" y="102.91" width="6.8" height="2.43" fill="#eda56e"/>
<rect x="247.39" y="105.34" width="6.8" height="2.43" fill="#cccccc"/>
<rect x="247.39" y="107.77" width="6.8" height="2.43" fill="#eda56e"/>
<rect x="247.39" y="110.2" width="6.8" height="2.43" fill="#5fb07a"/>
<rect x="247.39" y="112.63" width="6.8" height="2.43" fill="#cccccc"/>
<rect x="247.39" y="115.05" width="6.8" height="1.21" fill="#5fb07a"/>
<rect x="247.39" y="116.27" width="6.8" height="10.93" fill="#eda56e"/>
<rect x="247.39" y="127.19" width="6.8" height="2.43" fill="#5fb07a"/>
<rect x="247.39" y="129.62" width="6.8" height="1.21" fill="#eda56e"/>
<rect x="247.39" y="130.84" width="6.8" height="2.43" fill="#5fb07a"/>
<rect x="247.39" y="133.26" width="6.8" height="8.5" fill="#eda56e"/>
<rect x="247.39" y="141.76" width="6.8" height="4.86" fill="#cccccc"/>
<rect x="247.39" y="146.62" width="6.8" height="1.21" fill="#eda56e"/>
<rect x="247.39" y="147.83" width="6.8" height="3.64" fill="#5fb07a"/>
<rect x="247.39" y="151.47" width="6.8" height="4.86" fill="#eda56e"/>
<rect x="247.39" y="156.33" width="6.8" height="3.64" fill="#5fb07a"/>
<rect x="247.39" y="159.97" width="6.8" height="1.21" fill="#eda56e"/>
<rect x="247.39" y="161.19" width="6.8" height="4.86" fill="#5fb07a"/>
<rect x="247.39" y="166.04" width="6.8" height="1.21" fill="#eda56e"/>
<rect x="247.39" y="167.26" width="6.8" height="4.86" fill="#5fb07a"/>
<rect x="247.39" y="172.11" width="6.8" height="2.43" fill="#eda56e"/>
<rect x="247.39" y="174.54" width="6.8" height="1.21" fill="#cccccc"/>
<rect x="247.39" y="175.75" width="6.8" height="1.21" fill="#5fb07a"/>
<rect x="247.39" y="176.97" width="6.8" height="1.21" fill="#eda56e"/>
<rect x="247.39" y="178.18" width="6.8" height="2.43" fill="#5fb07a"/>
<rect x="247.39" y="180.61" width="6.8" height="1.21" fill="#cccccc"/>
<rect x="247.39" y="181.82" width="6.8" height="7.28" fill="#5fb07a"/>
<rect x="247.39" y="189.11" width="6.8" height="2.43" fill="#eda56e"/>
<rect x="247.39" y="191.54" width="6.8" height="9.71" fill="#5fb07a"/>
<rect x="247.39" y="201.25" width="6.8" height="1.21" fill="#cccccc"/>
<rect x="247.39" y="202.46" width="6.8" height="1.21" fill="#eda56e"/>
<rect x="247.39" y="203.68" width="6.8" height="2.43" fill="#5fb07a"/>
<rect x="247.39" y="206.1" width="6.8" height="1.21" fill="#eda56e"/>
<rect x="247.39" y="207.32" width="6.8" height="1.21" fill="#cccccc"/>
<rect x="247.39" y="208.53" width="6.8" height="1.21" fill="#eda56e"/>
<rect x="247.39" y="209.75" width="6.8" height="1.21" fill="#5fb07a"/>
<rect x="247.39" y="210.96" width="6.8" height="1.21" fill="#cccccc"/>
<rect x="247.39" y="212.17" width="6.8" height="1.21" fill="#eda56e"/>
<rect x="247.39" y="213.39" width="6.8" height="1.21" fill="#5fb07a"/>
<rect x="247.39" y="214.6" width="6.8" height="2.43" fill="#eda56e"/>
<rect x="247.39" y="217.03" width="6.8" height="1.21" fill="#5fb07a"/>
<rect x="247.39" y="218.24" width="6.8" height="2.43" fill="#cccccc"/>
<rect x="247.39" y="220.67" width="6.8" height="1.21" fill="#eda56e"/>
<rect x="247.39" y="221.89" width="6.8" height="6.07" fill="#5fb07a"/>
<rect x="247.39" y="227.96" width="6.8" height="1.21" fill="#cccccc"/>
<rect x="247.39" y="229.17" width="6.8" height="2.43" fill="#eda56e"/>
<rect x="247.39" y="231.6" width="6.8" height="1.21" fill="#cccccc"/>
<rect x="247.39" y="232.81" width="6.8" height="1.21" fill="#eda56e"/>
<rect x="247.39" y="234.03" width="6.8" height="2.43" fill="#5fb07a"/>
<rect x="247.39" y="236.45" width="6.8" height="1.21" fill="#eda56e"/>
<rect x="247.39" y="237.67" width="6.8" height="1.21" fill="#5fb07a"/>
<rect x="247.39" y="238.88" width="6.8" height="1.21" fill="#eda56e"/>
<rect x="247.39" y="240.1" width="6.8" height="6.07" fill="#5fb07a"/>
<rect x="247.39" y="246.17" width="6.8" height="1.21" fill="#eda56e"/>
<rect x="247.39" y="247.38" width="6.8" height="1.21" fill="#5fb07a"/>
<rect x="247.39" y="248.59" width="6.8" height="1.21" fill="#cccccc"/>
<rect x="247.39" y="249.81" width="6.8" height="4.86" fill="#5fb07a"/>
<rect x="247.39" y="254.66" width="6.8" height="1.21" fill="#cccccc"/>
<rect x="247.39" y="255.88" width="6.8" height="4.86" fill="#eda56e"/>
<rect x="247.39" y="260.73" width="6.8" height="2.43" fill="#5fb07a"/>
<rect x="247.39" y="263.16" width="6.8" height="2.43" fill="#eda56e"/>
<rect x="247.39" y="265.59" width="6.8" height="2.43" fill="#5fb07a"/>
<rect x="247.39" y="268.02" width="6.8" height="2.43" fill="#eda56e"/>
<rect x="247.39" y="270.45" width="6.8" height="2.43" fill="#5fb07a"/>
<rect x="247.39" y="272.87" width="6.8" height="8.5" fill="#eda56e"/>
<rect x="247.39" y="281.37" width="6.8" height="2.43" fill="#5fb07a"/>
<text transform="translate(252.79,287) rotate(-90)" font-size="5.64" text-anchor="end">ECOG</text>
<rect x="254.92" y="41" width="6.8" height="7.28" fill="#5fb07a"/>
<rect x="254.92" y="48.28" width="6.8" height="4.86" fill="#7b68b5"/>
<rect x="254.92" y="53.14" width="6.8" height="2.43" fill="#5fb07a"/>
<rect x="254.92" y="55.57" width="6.8" height="1.21" fill="#7b68b5"/>
<rect x="254.92" y="56.78" width="6.8" height="2.43" fill="#5fb07a"/>
<rect x="254.92" y="59.21" width="6.8" height="1.21" fill="#7b68b5"/>
<rect x="254.92" y="60.42" width="6.8" height="1.21" fill="#5fb07a"/>
<rect x="254.92" y="61.64" width="6.8" height="2.43" fill="#7b68b5"/>
<rect x="254.92" y="64.07" width="6.8" height="3.64" fill="#5fb07a"/>
<rect x="254.92" y="67.71" width="6.8" height="2.43" fill="#7b68b5"/>
<rect x="254.92" y="70.14" width="6.8" height="3.64" fill="#5fb07a"/>
<rect x="254.92" y="73.78" width="6.8" height="1.21" fill="#7b68b5"/>
<rect x="254.92" y="74.99" width="6.8" height="1.21" fill="#5fb07a"/>
<rect x="254.92" y="76.21" width="6.8" height="1.21" fill="#7b68b5"/>
<rect x="254.92" y="77.42" width="6.8" height="12.14" fill="#5fb07a"/>
<rect x="254.92" y="89.56" width="6.8" height="4.86" fill="#7b68b5"/>
<rect x="254.92" y="94.42" width="6.8" height="7.28" fill="#5fb07a"/>
<rect x="254.92" y="101.7" width="6.8" height="1.21" fill="#7b68b5"/>
<rect x="254.92" y="102.91" width="6.8" height="8.5" fill="#5fb07a"/>
<rect x="254.92" y="111.41" width="6.8" height="1.21" fill="#7b68b5"/>
<rect x="254.92" y="112.63" width="6.8" height="2.43" fill="#5fb07a"/>
<rect x="254.92" y="115.05" width="6.8" height="1.21" fill="#7b68b5"/>
<rect x="254.92" y="116.27" width="6.8" height="4.86" fill="#5fb07a"/>
<rect x="254.92" y="121.12" width="6.8" height="2.43" fill="#7b68b5"/>
<rect x="254.92" y="123.55" width="6.8" height="1.21" fill="#5fb07a"/>
<rect x="254.92" y="124.77" width="6.8" height="1.21" fill="#7b68b5"/>
<rect x="254.92" y="125.98" width="6.8" height="4.86" fill="#5fb07a"/>
<rect x="254.92" y="130.84" width="6.8" height="6.07" fill="#7b68b5"/>
<rect x="254.92" y="136.91" width="6.8" height="2.43" fill="#5fb07a"/>
<rect x="254.92" y="139.33" width="6.8" height="1.21" fill="#7b68b5"/>
<rect x="254.92" y="140.55" width="6.8" height="3.64" fill="#5fb07a"/>
<rect x="254.92" y="144.19" width="6.8" height="1.21" fill="#7b68b5"/>
<rect x="254.92" y="145.4" width="6.8" height="17" fill="#5fb07a"/>
<rect x="254.92" y="162.4" width="6.8" height="1.21" fill="#7b68b5"/>
<rect x="254.92" y="163.61" width="6.8" height="2.43" fill="#5fb07a"/>
<rect x="254.92" y="166.04" width="6.8" height="1.21" fill="#7b68b5"/>
<rect x="254.92" y="167.26" width="6.8" height="1.21" fill="#5fb07a"/>
<rect x="254.92" y="168.47" width="6.8" height="1.21" fill="#7b68b5"/>
<rect x="254.92" y="169.68" width="6.8" height="1.21" fill="#5fb07a"/>
<rect x="254.92" y="170.9" width="6.8" height="1.21" fill="#7b68b5"/>
<rect x="254.92" y="172.11" width="6.8" height="3.64" fill="#5fb07a"/>
<rect x="254.92" y="175.75" width="6.8" height="1.21" fill="#7b68b5"/>
<rect x="254.92" y="176.97" width="6.8" height="3.64" fill="#5fb07a"/>
<rect x="254.92" y="180.61" width="6.8" height="3.64" fill="#7b68b5"/>
<rect x="254.92" y="184.25" width="6.8" height="3.64" fill="#5fb07a"/>
<rect x="254.92" y="187.89" width="6.8" height="1.21" fill="#7b68b5"/>
<rect x="254.92" y="189.11" width="6.8" height="4.86" fill="#5fb07a"/>
<rect x="254.92" y="193.96" width="6.8" height="4.86" fill="#7b68b5"/>
<rect x="254.92" y="198.82" width="6.8" height="1.21" fill="#5fb07a"/>
<rect x="254.92" y="200.03" width="6.8" height="1.21" fill="#7b68b5"/>
<rect x="254.92" y="201.25" width="6.8" height="2.43" fill="#5fb07a"/>
<rect x="254.92" y="203.68" width="6.8" height="2.43" fill="#7b68b5"/>
<rect x="254.92" y="206.1" width="6.8" height="1.21" fill="#5fb07a"/>
<rect x="254.92" y="207.32" width="6.8" height="3.64" fill="#7b68b5"/>
<rect x="254.92" y="210.96" width="6.8" height="1.21" fill="#5fb07a"/>
<rect x="254.92" y="212.17" width="6.8" height="2.43" fill="#7b68b5"/>
<rect x="254.92" y="214.6" width="6.8" height="4.86" fill="#5fb07a"/>
<rect x="254.92" y="219.46" width="6.8" height="1.21" fill="#7b68b5"/>
<rect x="254.92" y="220.67" width="6.8" height="1.21" fill="#5fb07a"/>
<rect x="254.92" y="221.89" width="6.8" height="2.43" fill="#7b68b5"/>
<rect x="254.92" y="224.31" width="6.8" height="2.43" fill="#5fb07a"/>
<rect x="254.92" y="226.74" width="6.8" height="1.21" fill="#7b68b5"/>
<rect x="254.92" y="227.96" width="6.8" height="1.21" fill="#5fb07a"/>
<rect x="254.92" y="229.17" width="6.8" height="4.86" fill="#7b68b5"/>
<rect x="254.92" y="234.03" width="6.8" height="4.86" fill="#5fb07a"/>
<rect x="254.92" y="238.88" width="6.8" height="2.43" fill="#7b68b5"/>
<rect x="254.92" y="241.31" width="6.8" height="2.43" fill="#5fb07a"/>
<rect x="254.92" y="243.74" width="6.8" height="1.21" fill="#7b68b5"/>
<rect x="254.92" y="244.95" width="6.8" height="4.86" fill="#5fb07a"/>
<rect x="254.92" y="249.81" width="6.8" height="2.43" fill="#7b68b5"/>
<rect x="254.92" y="252.24" width="6.8" height="6.07" fill="#5fb07a"/>
<rect x="254.92" y="258.31" width="6.8" height="2.43" fill="#7b68b5"/>
<rect x="254.92" y="260.73" width="6.8" height="3.64" fill="#5fb07a"/>
<rect x="254.92" y="264.38" width="6.8" height="1.21" fill="#7b68b5"/>
<rect x="254.92" y="265.59" width="6.8" height="4.86" fill="#5fb07a"/>
<rect x="254.92" y="270.45" width="6.8" height="2.43" fill="#7b68b5"/>
<rect x="254.92" y="272.87" width="6.8" height="4.86" fill="#5fb07a"/>
<rect x="254.92" y="277.73" width="6.8" height="1.21" fill="#7b68b5"/>
<rect x="254.92" y="278.94" width="6.8" height="4.86" fill="#5fb07a"/>
<text transform="translate(260.32,287) rotate(-90)" font-size="5.64" text-anchor="end">Location</text>
<rect x="262.45" y="41" width="6.8" height="2.43" fill="#d96a7a"/>
<rect x="262.45" y="43.43" width="6.8" height="1.21" fill="#e8825a"/>
<rect x="262.45" y="44.64" width="6.8" height="7.28" fill="#d96a7a"/>
<rect x="262.45" y="51.93" width="6.8" height="1.21" fill="#4a88c6"/>
<rect x="262.45" y="53.14" width="6.8" height="1.21" fill="#d96a7a"/>
<rect x="262.45" y="54.35" width="6.8" height="1.21" fill="#4a88c6"/>
<rect x="262.45" y="55.57" width="6.8" height="1.21" fill="#e8825a"/>
<rect x="262.45" y="56.78" width="6.8" height="1.21" fill="#cccccc"/>
<rect x="262.45" y="58" width="6.8" height="1.21" fill="#e8825a"/>
<rect x="262.45" y="59.21" width="6.8" height="1.21" fill="#d96a7a"/>
<rect x="262.45" y="60.42" width="6.8" height="2.43" fill="#4a88c6"/>
<rect x="262.45" y="62.85" width="6.8" height="2.43" fill="#d96a7a"/>
<rect x="262.45" y="65.28" width="6.8" height="1.21" fill="#e8825a"/>
<rect x="262.45" y="66.49" width="6.8" height="1.21" fill="#d96a7a"/>
<rect x="262.45" y="67.71" width="6.8" height="2.43" fill="#4a88c6"/>
<rect x="262.45" y="70.14" width="6.8" height="4.86" fill="#d96a7a"/>
<rect x="262.45" y="74.99" width="6.8" height="1.21" fill="#4a88c6"/>
<rect x="262.45" y="76.21" width="6.8" height="1.21" fill="#e8825a"/>
<rect x="262.45" y="77.42" width="6.8" height="3.64" fill="#d96a7a"/>
<rect x="262.45" y="81.06" width="6.8" height="1.21" fill="#e8825a"/>
<rect x="262.45" y="82.28" width="6.8" height="2.43" fill="#d96a7a"/>
<rect x="262.45" y="84.7" width="6.8" height="1.21" fill="#e8825a"/>
<rect x="262.45" y="85.92" width="6.8" height="1.21" fill="#4a88c6"/>
<rect x="262.45" y="87.13" width="6.8" height="2.43" fill="#e8825a"/>
<rect x="262.45" y="89.56" width="6.8" height="1.21" fill="#d96a7a"/>
<rect x="262.45" y="90.77" width="6.8" height="1.21" fill="#4a88c6"/>
<rect x="262.45" y="91.99" width="6.8" height="1.21" fill="#d96a7a"/>
<rect x="262.45" y="93.2" width="6.8" height="1.21" fill="#cccccc"/>
<rect x="262.45" y="94.42" width="6.8" height="1.21" fill="#4a88c6"/>
<rect x="262.45" y="95.63" width="6.8" height="2.43" fill="#d96a7a"/>
<rect x="262.45" y="98.06" width="6.8" height="3.64" fill="#e8825a"/>
<rect x="262.45" y="101.7" width="6.8" height="1.21" fill="#d96a7a"/>
<rect x="262.45" y="102.91" width="6.8" height="4.86" fill="#e8825a"/>
<rect x="262.45" y="107.77" width="6.8" height="2.43" fill="#d96a7a"/>
<rect x="262.45" y="110.2" width="6.8" height="2.43" fill="#e8825a"/>
<rect x="262.45" y="112.63" width="6.8" height="1.21" fill="#d96a7a"/>
<rect x="262.45" y="113.84" width="6.8" height="3.64" fill="#4a88c6"/>
<rect x="262.45" y="117.48" width="6.8" height="1.21" fill="#e8825a"/>
<rect x="262.45" y="118.7" width="6.8" height="1.21" fill="#4a88c6"/>
<rect x="262.45" y="119.91" width="6.8" height="1.21" fill="#e8825a"/>
<rect x="262.45" y="121.12" width="6.8" height="1.21" fill="#d96a7a"/>
<rect x="262.45" y="122.34" width="6.8" height="1.21" fill="#4a88c6"/>
<rect x="262.45" y="123.55" width="6.8" height="1.21" fill="#d96a7a"/>
<rect x="262.45" y="124.77" width="6.8" height="1.21" fill="#e8825a"/>
<rect x="262.45" y="125.98" width="6.8" height="1.21" fill="#4a88c6"/>
<rect x="262.45" y="127.19" width="6.8" height="1.21" fill="#e8825a"/>
<rect x="262.45" y="128.41" width="6.8" height="1.21" fill="#4a88c6"/>
<rect x="262.45" y="129.62" width="6.8" height="1.21" fill="#d96a7a"/>
<rect x="262.45" y="130.84" width="6.8" height="1.21" fill="#cccccc"/>
<rect x="262.45" y="132.05" width="6.8" height="1.21" fill="#d96a7a"/>
<rect x="262.45" y="133.26" width="6.8" height="2.43" fill="#4a88c6"/>
<rect x="262.45" y="135.69" width="6.8" height="1.21" fill="#cccccc"/>
<rect x="262.45" y="136.91" width="6.8" height="1.21" fill="#d96a7a"/>
<rect x="262.45" y="138.12" width="6.8" height="2.43" fill="#4a88c6"/>
<rect x="262.45" y="140.55" width="6.8" height="1.21" fill="#d96a7a"/>
<rect x="262.45" y="141.76" width="6.8" height="1.21" fill="#e8825a"/>
<rect x="262.45" y="142.98" width="6.8" height="1.21" fill="#cccccc"/>
<rect x="262.45" y="144.19" width="6.8" height="2.43" fill="#d96a7a"/>
<rect x="262.45" y="146.62" width="6.8" height="2.43" fill="#e8825a"/>
<rect x="262.45" y="149.05" width="6.8" height="2.43" fill="#d96a7a"/>
<rect x="262.45" y="151.47" width="6.8" height="1.21" fill="#4a88c6"/>
<rect x="262.45" y="152.69" width="6.8" height="3.64" fill="#e8825a"/>
<rect x="262.45" y="156.33" width="6.8" height="1.21" fill="#4a88c6"/>
<rect x="262.45" y="157.54" width="6.8" height="2.43" fill="#cccccc"/>
<rect x="262.45" y="159.97" width="6.8" height="2.43" fill="#4a88c6"/>
<rect x="262.45" y="162.4" width="6.8" height="1.21" fill="#e8825a"/>
<rect x="262.45" y="163.61" width="6.8" height="3.64" fill="#d96a7a"/>
<rect x="262.45" y="167.26" width="6.8" height="4.86" fill="#4a88c6"/>
<rect x="262.45" y="172.11" width="6.8" height="2.43" fill="#e8825a"/>
<rect x="262.45" y="174.54" width="6.8" height="1.21" fill="#d96a7a"/>
<rect x="262.45" y="175.75" width="6.8" height="1.21" fill="#e8825a"/>
<rect x="262.45" y="176.97" width="6.8" height="3.64" fill="#4a88c6"/>
<rect x="262.45" y="180.61" width="6.8" height="2.43" fill="#e8825a"/>
<rect x="262.45" y="183.04" width="6.8" height="2.43" fill="#d96a7a"/>
<rect x="262.45" y="185.47" width="6.8" height="1.21" fill="#4a88c6"/>
<rect x="262.45" y="186.68" width="6.8" height="1.21" fill="#e8825a"/>
<rect x="262.45" y="187.89" width="6.8" height="1.21" fill="#4a88c6"/>
<rect x="262.45" y="189.11" width="6.8" height="2.43" fill="#e8825a"/>
<rect x="262.45" y="191.54" width="6.8" height="1.21" fill="#d96a7a"/>
<rect x="262.45" y="192.75" width="6.8" height="1.21" fill="#4a88c6"/>
<rect x="262.45" y="193.96" width="6.8" height="1.21" fill="#d96a7a"/>
<rect x="262.45" y="195.18" width="6.8" height="1.21" fill="#cccccc"/>
<rect x="262.45" y="196.39" width="6.8" height="3.64" fill="#e8825a"/>
<rect x="262.45" y="200.03" width="6.8" height="1.21" fill="#4a88c6"/>
<rect x="262.45" y="201.25" width="6.8" height="1.21" fill="#e8825a"/>
<rect x="262.45" y="202.46" width="6.8" height="2.43" fill="#4a88c6"/>
<rect x="262.45" y="204.89" width="6.8" height="3.64" fill="#e8825a"/>
<rect x="262.45" y="208.53" width="6.8" height="2.43" fill="#d96a7a"/>
<rect x="262.45" y="210.96" width="6.8" height="1.21" fill="#4a88c6"/>
<rect x="262.45" y="212.17" width="6.8" height="1.21" fill="#d96a7a"/>
<rect x="262.45" y="213.39" width="6.8" height="1.21" fill="#e8825a"/>
<rect x="262.45" y="214.6" width="6.8" height="1.21" fill="#d96a7a"/>
<rect x="262.45" y="215.82" width="6.8" height="2.43" fill="#e8825a"/>
<rect x="262.45" y="218.24" width="6.8" height="2.43" fill="#4a88c6"/>
<rect x="262.45" y="220.67" width="6.8" height="3.64" fill="#e8825a"/>
<rect x="262.45" y="224.31" width="6.8" height="1.21" fill="#cccccc"/>
<rect x="262.45" y="225.53" width="6.8" height="3.64" fill="#e8825a"/>
<rect x="262.45" y="229.17" width="6.8" height="1.21" fill="#d96a7a"/>
<rect x="262.45" y="230.38" width="6.8" height="1.21" fill="#4a88c6"/>
<rect x="262.45" y="231.6" width="6.8" height="6.07" fill="#d96a7a"/>
<rect x="262.45" y="237.67" width="6.8" height="1.21" fill="#4a88c6"/>
<rect x="262.45" y="238.88" width="6.8" height="1.21" fill="#d96a7a"/>
<rect x="262.45" y="240.1" width="6.8" height="2.43" fill="#4a88c6"/>
<rect x="262.45" y="242.52" width="6.8" height="1.21" fill="#d96a7a"/>
<rect x="262.45" y="243.74" width="6.8" height="1.21" fill="#4a88c6"/>
<rect x="262.45" y="244.95" width="6.8" height="1.21" fill="#d96a7a"/>
<rect x="262.45" y="246.17" width="6.8" height="2.43" fill="#4a88c6"/>
<rect x="262.45" y="248.59" width="6.8" height="1.21" fill="#e8825a"/>
<rect x="262.45" y="249.81" width="6.8" height="1.21" fill="#d96a7a"/>
<rect x="262.45" y="251.02" width="6.8" height="2.43" fill="#e8825a"/>
<rect x="262.45" y="253.45" width="6.8" height="1.21" fill="#4a88c6"/>
<rect x="262.45" y="254.66" width="6.8" height="2.43" fill="#d96a7a"/>
<rect x="262.45" y="257.09" width="6.8" height="2.43" fill="#e8825a"/>
<rect x="262.45" y="259.52" width="6.8" height="1.21" fill="#4a88c6"/>
<rect x="262.45" y="260.73" width="6.8" height="1.21" fill="#d96a7a"/>
<rect x="262.45" y="261.95" width="6.8" height="2.43" fill="#4a88c6"/>
<rect x="262.45" y="264.38" width="6.8" height="1.21" fill="#e8825a"/>
<rect x="262.45" y="265.59" width="6.8" height="1.21" fill="#d96a7a"/>
<rect x="262.45" y="266.8" width="6.8" height="1.21" fill="#4a88c6"/>
<rect x="262.45" y="268.02" width="6.8" height="2.43" fill="#e8825a"/>
<rect x="262.45" y="270.45" width="6.8" height="1.21" fill="#d96a7a"/>
<rect x="262.45" y="271.66" width="6.8" height="2.43" fill="#e8825a"/>
<rect x="262.45" y="274.09" width="6.8" height="1.21" fill="#4a88c6"/>
<rect x="262.45" y="275.3" width="6.8" height="1.21" fill="#d96a7a"/>
<rect x="262.45" y="276.52" width="6.8" height="2.43" fill="#cccccc"/>
<rect x="262.45" y="278.94" width="6.8" height="2.43" fill="#4a88c6"/>
<rect x="262.45" y="281.37" width="6.8" height="2.43" fill="#d96a7a"/>
<text transform="translate(267.85,287) rotate(-90)" font-size="5.64" text-anchor="end">Differentiation</text>
<rect x="269.98" y="41" width="6.8" height="2.43" fill="#5fb07a"/>
<rect x="269.98" y="43.43" width="6.8" height="3.64" fill="#cccccc"/>
<rect x="269.98" y="47.07" width="6.8" height="2.43" fill="#7470b8"/>
<rect x="269.98" y="49.5" width="6.8" height="1.21" fill="#5fb07a"/>
<rect x="269.98" y="50.71" width="6.8" height="1.21" fill="#7470b8"/>
<rect x="269.98" y="51.93" width="6.8" height="2.43" fill="#5fb07a"/>
<rect x="269.98" y="54.35" width="6.8" height="1.21" fill="#7470b8"/>
<rect x="269.98" y="55.57" width="6.8" height="1.21" fill="#5fb07a"/>
<rect x="269.98" y="56.78" width="6.8" height="2.43" fill="#7470b8"/>
<rect x="269.98" y="59.21" width="6.8" height="1.21" fill="#5fb07a"/>
<rect x="269.98" y="60.42" width="6.8" height="4.86" fill="#7470b8"/>
<rect x="269.98" y="65.28" width="6.8" height="1.21" fill="#5fb07a"/>
<rect x="269.98" y="66.49" width="6.8" height="2.43" fill="#c4a865"/>
<rect x="269.98" y="68.92" width="6.8" height="6.07" fill="#7470b8"/>
<rect x="269.98" y="74.99" width="6.8" height="2.43" fill="#5fb07a"/>
<rect x="269.98" y="77.42" width="6.8" height="1.21" fill="#7470b8"/>
<rect x="269.98" y="78.63" width="6.8" height="2.43" fill="#5fb07a"/>
<rect x="269.98" y="81.06" width="6.8" height="6.07" fill="#7470b8"/>
<rect x="269.98" y="87.13" width="6.8" height="1.21" fill="#c4a865"/>
<rect x="269.98" y="88.35" width="6.8" height="2.43" fill="#7470b8"/>
<rect x="269.98" y="90.77" width="6.8" height="1.21" fill="#c4a865"/>
<rect x="269.98" y="91.99" width="6.8" height="1.21" fill="#5fb07a"/>
<rect x="269.98" y="93.2" width="6.8" height="8.5" fill="#7470b8"/>
<rect x="269.98" y="101.7" width="6.8" height="1.21" fill="#5fb07a"/>
<rect x="269.98" y="102.91" width="6.8" height="1.21" fill="#7470b8"/>
<rect x="269.98" y="104.13" width="6.8" height="2.43" fill="#5fb07a"/>
<rect x="269.98" y="106.56" width="6.8" height="1.21" fill="#7470b8"/>
<rect x="269.98" y="107.77" width="6.8" height="1.21" fill="#c4a865"/>
<rect x="269.98" y="108.98" width="6.8" height="2.43" fill="#5fb07a"/>
<rect x="269.98" y="111.41" width="6.8" height="2.43" fill="#c4a865"/>
<rect x="269.98" y="113.84" width="6.8" height="7.28" fill="#7470b8"/>
<rect x="269.98" y="121.12" width="6.8" height="1.21" fill="#5fb07a"/>
<rect x="269.98" y="122.34" width="6.8" height="1.21" fill="#cccccc"/>
<rect x="269.98" y="123.55" width="6.8" height="2.43" fill="#c4a865"/>
<rect x="269.98" y="125.98" width="6.8" height="1.21" fill="#7470b8"/>
<rect x="269.98" y="127.19" width="6.8" height="2.43" fill="#5fb07a"/>
<rect x="269.98" y="129.62" width="6.8" height="2.43" fill="#7470b8"/>
<rect x="269.98" y="132.05" width="6.8" height="1.21" fill="#5fb07a"/>
<rect x="269.98" y="133.26" width="6.8" height="1.21" fill="#7470b8"/>
<rect x="269.98" y="134.48" width="6.8" height="2.43" fill="#5fb07a"/>
<rect x="269.98" y="136.91" width="6.8" height="1.21" fill="#7470b8"/>
<rect x="269.98" y="138.12" width="6.8" height="1.21" fill="#c4a865"/>
<rect x="269.98" y="139.33" width="6.8" height="2.43" fill="#5fb07a"/>
<rect x="269.98" y="141.76" width="6.8" height="4.86" fill="#7470b8"/>
<rect x="269.98" y="146.62" width="6.8" height="6.07" fill="#5fb07a"/>
<rect x="269.98" y="152.69" width="6.8" height="2.43" fill="#7470b8"/>
<rect x="269.98" y="155.12" width="6.8" height="1.21" fill="#5fb07a"/>
<rect x="269.98" y="156.33" width="6.8" height="1.21" fill="#cccccc"/>
<rect x="269.98" y="157.54" width="6.8" height="2.43" fill="#c4a865"/>
<rect x="269.98" y="159.97" width="6.8" height="1.21" fill="#5fb07a"/>
<rect x="269.98" y="161.19" width="6.8" height="2.43" fill="#7470b8"/>
<rect x="269.98" y="163.61" width="6.8" height="1.21" fill="#5fb07a"/>
<rect x="269.98" y="164.83" width="6.8" height="1.21" fill="#cccccc"/>
<rect x="269.98" y="166.04" width="6.8" height="1.21" fill="#5fb07a"/>
<rect x="269.98" y="167.26" width="6.8" height="3.64" fill="#7470b8"/>
<rect x="269.98" y="170.9" width="6.8" height="1.21" fill="#5fb07a"/>
<rect x="269.98" y="172.11" width="6.8" height="1.21" fill="#7470b8"/>
<rect x="269.98" y="173.33" width="6.8" height="2.43" fill="#c4a865"/>
<rect x="269.98" y="175.75" width="6.8" height="8.5" fill="#7470b8"/>
<rect x="269.98" y="184.25" width="6.8" height="1.21" fill="#5fb07a"/>
<rect x="269.98" y="185.47" width="6.8" height="6.07" fill="#7470b8"/>
<rect x="269.98" y="191.54" width="6.8" height="2.43" fill="#c4a865"/>
<rect x="269.98" y="193.96" width="6.8" height="4.86" fill="#5fb07a"/>
<rect x="269.98" y="198.82" width="6.8" height="1.21" fill="#7470b8"/>
<rect x="269.98" y="200.03" width="6.8" height="1.21" fill="#c4a865"/>
<rect x="269.98" y="201.25" width="6.8" height="1.21" fill="#5fb07a"/>
<rect x="269.98" y="202.46" width="6.8" height="2.43" fill="#7470b8"/>
<rect x="269.98" y="204.89" width="6.8" height="2.43" fill="#5fb07a"/>
<rect x="269.98" y="207.32" width="6.8" height="3.64" fill="#7470b8"/>
<rect x="269.98" y="210.96" width="6.8" height="4.86" fill="#5fb07a"/>
<rect x="269.98" y="215.82" width="6.8" height="2.43" fill="#7470b8"/>
<rect x="269.98" y="218.24" width="6.8" height="1.21" fill="#c4a865"/>
<rect x="269.98" y="219.46" width="6.8" height="2.43" fill="#7470b8"/>
<rect x="269.98" y="221.89" width="6.8" height="2.43" fill="#5fb07a"/>
<rect x="269.98" y="224.31" width="6.8" height="3.64" fill="#7470b8"/>
<rect x="269.98" y="227.96" width="6.8" height="1.21" fill="#cccccc"/>
<rect x="269.98" y="229.17" width="6.8" height="2.43" fill="#7470b8"/>
<rect x="269.98" y="231.6" width="6.8" height="1.21" fill="#c4a865"/>
<rect x="269.98" y="232.81" width="6.8" height="7.28" fill="#7470b8"/>
<rect x="269.98" y="240.1" width="6.8" height="2.43" fill="#5fb07a"/>
<rect x="269.98" y="242.52" width="6.8" height="1.21" fill="#cccccc"/>
<rect x="269.98" y="243.74" width="6.8" height="3.64" fill="#7470b8"/>
<rect x="269.98" y="247.38" width="6.8" height="1.21" fill="#c4a865"/>
<rect x="269.98" y="248.59" width="6.8" height="2.43" fill="#7470b8"/>
<rect x="269.98" y="251.02" width="6.8" height="1.21" fill="#5fb07a"/>
<rect x="269.98" y="252.24" width="6.8" height="3.64" fill="#7470b8"/>
<rect x="269.98" y="255.88" width="6.8" height="1.21" fill="#5fb07a"/>
<rect x="269.98" y="257.09" width="6.8" height="2.43" fill="#7470b8"/>
<rect x="269.98" y="259.52" width="6.8" height="1.21" fill="#cccccc"/>
<rect x="269.98" y="260.73" width="6.8" height="1.21" fill="#7470b8"/>
<rect x="269.98" y="261.95" width="6.8" height="1.21" fill="#5fb07a"/>
<rect x="269.98" y="263.16" width="6.8" height="4.86" fill="#7470b8"/>
<rect x="269.98" y="268.02" width="6.8" height="1.21" fill="#5fb07a"/>
<rect x="269.98" y="269.23" width="6.8" height="3.64" fill="#7470b8"/>
<rect x="269.98" y="272.87" width="6.8" height="1.21" fill="#cccccc"/>
<rect x="269.98" y="274.09" width="6.8" height="2.43" fill="#7470b8"/>
<rect x="269.98" y="276.52" width="6.8" height="1.21" fill="#c4a865"/>
<rect x="269.98" y="277.73" width="6.8" height="1.21" fill="#5fb07a"/>
<rect x="269.98" y="278.94" width="6.8" height="4.86" fill="#7470b8"/>
<text transform="translate(275.38,287) rotate(-90)" font-size="5.64" text-anchor="end">Lauren Type</text>
<rect x="277.51" y="41" width="6.8" height="1.21" fill="#e8825a"/>
<rect x="277.51" y="42.21" width="6.8" height="33.99" fill="#c8689a"/>
<rect x="277.51" y="76.21" width="6.8" height="1.21" fill="#e8825a"/>
<rect x="277.51" y="77.42" width="6.8" height="13.35" fill="#c8689a"/>
<rect x="277.51" y="90.77" width="6.8" height="2.43" fill="#e8825a"/>
<rect x="277.51" y="93.2" width="6.8" height="2.43" fill="#c8689a"/>
<rect x="277.51" y="95.63" width="6.8" height="1.21" fill="#e8825a"/>
<rect x="277.51" y="96.84" width="6.8" height="1.21" fill="#c8689a"/>
<rect x="277.51" y="98.06" width="6.8" height="1.21" fill="#eda56e"/>
<rect x="277.51" y="99.27" width="6.8" height="3.64" fill="#c8689a"/>
<rect x="277.51" y="102.91" width="6.8" height="1.21" fill="#eda56e"/>
<rect x="277.51" y="104.13" width="6.8" height="31.56" fill="#c8689a"/>
<rect x="277.51" y="135.69" width="6.8" height="2.43" fill="#cccccc"/>
<rect x="277.51" y="138.12" width="6.8" height="1.21" fill="#e8825a"/>
<rect x="277.51" y="139.33" width="6.8" height="10.93" fill="#c8689a"/>
<rect x="277.51" y="150.26" width="6.8" height="1.21" fill="#eda56e"/>
<rect x="277.51" y="151.47" width="6.8" height="1.21" fill="#cccccc"/>
<rect x="277.51" y="152.69" width="6.8" height="8.5" fill="#c8689a"/>
<rect x="277.51" y="161.19" width="6.8" height="1.21" fill="#eda56e"/>
<rect x="277.51" y="162.4" width="6.8" height="19.42" fill="#c8689a"/>
<rect x="277.51" y="181.82" width="6.8" height="1.21" fill="#eda56e"/>
<rect x="277.51" y="183.04" width="6.8" height="15.78" fill="#c8689a"/>
<rect x="277.51" y="198.82" width="6.8" height="1.21" fill="#e8825a"/>
<rect x="277.51" y="200.03" width="6.8" height="2.43" fill="#c8689a"/>
<rect x="277.51" y="202.46" width="6.8" height="2.43" fill="#e8825a"/>
<rect x="277.51" y="204.89" width="6.8" height="1.21" fill="#c8689a"/>
<rect x="277.51" y="206.1" width="6.8" height="1.21" fill="#e8825a"/>
<rect x="277.51" y="207.32" width="6.8" height="20.64" fill="#c8689a"/>
<rect x="277.51" y="227.96" width="6.8" height="1.21" fill="#eda56e"/>
<rect x="277.51" y="229.17" width="6.8" height="12.14" fill="#c8689a"/>
<rect x="277.51" y="241.31" width="6.8" height="1.21" fill="#e8825a"/>
<rect x="277.51" y="242.52" width="6.8" height="1.21" fill="#c8689a"/>
<rect x="277.51" y="243.74" width="6.8" height="2.43" fill="#cccccc"/>
<rect x="277.51" y="246.17" width="6.8" height="3.64" fill="#c8689a"/>
<rect x="277.51" y="249.81" width="6.8" height="1.21" fill="#e8825a"/>
<rect x="277.51" y="251.02" width="6.8" height="1.21" fill="#eda56e"/>
<rect x="277.51" y="252.24" width="6.8" height="3.64" fill="#c8689a"/>
<rect x="277.51" y="255.88" width="6.8" height="1.21" fill="#eda56e"/>
<rect x="277.51" y="257.09" width="6.8" height="8.5" fill="#c8689a"/>
<rect x="277.51" y="265.59" width="6.8" height="1.21" fill="#eda56e"/>
<rect x="277.51" y="266.8" width="6.8" height="7.28" fill="#c8689a"/>
<rect x="277.51" y="274.09" width="6.8" height="1.21" fill="#cccccc"/>
<rect x="277.51" y="275.3" width="6.8" height="1.21" fill="#c8689a"/>
<rect x="277.51" y="276.52" width="6.8" height="2.43" fill="#eda56e"/>
<rect x="277.51" y="278.94" width="6.8" height="1.21" fill="#cccccc"/>
<rect x="277.51" y="280.16" width="6.8" height="1.21" fill="#c8689a"/>
<rect x="277.51" y="281.37" width="6.8" height="1.21" fill="#eda56e"/>
<rect x="277.51" y="282.59" width="6.8" height="1.21" fill="#c8689a"/>
<text transform="translate(282.91,287) rotate(-90)" font-size="5.64" text-anchor="end">Stage</text>
<rect x="285.04" y="41" width="6.8" height="3.64" fill="#eda56e"/>
<rect x="285.04" y="44.64" width="6.8" height="1.21" fill="#5fb07a"/>
<rect x="285.04" y="45.86" width="6.8" height="1.21" fill="#eda56e"/>
<rect x="285.04" y="47.07" width="6.8" height="3.64" fill="#5fb07a"/>
<rect x="285.04" y="50.71" width="6.8" height="8.5" fill="#eda56e"/>
<rect x="285.04" y="59.21" width="6.8" height="8.5" fill="#5fb07a"/>
<rect x="285.04" y="67.71" width="6.8" height="1.21" fill="#eda56e"/>
<rect x="285.04" y="68.92" width="6.8" height="1.21" fill="#5fb07a"/>
<rect x="285.04" y="70.14" width="6.8" height="3.64" fill="#eda56e"/>
<rect x="285.04" y="73.78" width="6.8" height="1.21" fill="#5fb07a"/>
<rect x="285.04" y="74.99" width="6.8" height="2.43" fill="#eda56e"/>
<rect x="285.04" y="77.42" width="6.8" height="2.43" fill="#5fb07a"/>
<rect x="285.04" y="79.85" width="6.8" height="1.21" fill="#eda56e"/>
<rect x="285.04" y="81.06" width="6.8" height="3.64" fill="#5fb07a"/>
<rect x="285.04" y="84.7" width="6.8" height="1.21" fill="#eda56e"/>
<rect x="285.04" y="85.92" width="6.8" height="4.86" fill="#5fb07a"/>
<rect x="285.04" y="90.77" width="6.8" height="1.21" fill="#eda56e"/>
<rect x="285.04" y="91.99" width="6.8" height="1.21" fill="#cccccc"/>
<rect x="285.04" y="93.2" width="6.8" height="2.43" fill="#eda56e"/>
<rect x="285.04" y="95.63" width="6.8" height="1.21" fill="#5fb07a"/>
<rect x="285.04" y="96.84" width="6.8" height="2.43" fill="#eda56e"/>
<rect x="285.04" y="99.27" width="6.8" height="2.43" fill="#5fb07a"/>
<rect x="285.04" y="101.7" width="6.8" height="1.21" fill="#eda56e"/>
<rect x="285.04" y="102.91" width="6.8" height="1.21" fill="#5fb07a"/>
<rect x="285.04" y="104.13" width="6.8" height="1.21" fill="#eda56e"/>
<rect x="285.04" y="105.34" width="6.8" height="1.21" fill="#5fb07a"/>
<rect x="285.04" y="106.56" width="6.8" height="1.21" fill="#eda56e"/>
<rect x="285.04" y="107.77" width="6.8" height="4.86" fill="#5fb07a"/>
<rect x="285.04" y="112.63" width="6.8" height="1.21" fill="#eda56e"/>
<rect x="285.04" y="113.84" width="6.8" height="3.64" fill="#5fb07a"/>
<rect x="285.04" y="117.48" width="6.8" height="1.21" fill="#eda56e"/>
<rect x="285.04" y="118.7" width="6.8" height="2.43" fill="#5fb07a"/>
<rect x="285.04" y="121.12" width="6.8" height="2.43" fill="#eda56e"/>
<rect x="285.04" y="123.55" width="6.8" height="2.43" fill="#cccccc"/>
<rect x="285.04" y="125.98" width="6.8" height="3.64" fill="#5fb07a"/>
<rect x="285.04" y="129.62" width="6.8" height="1.21" fill="#eda56e"/>
<rect x="285.04" y="130.84" width="6.8" height="1.21" fill="#5fb07a"/>
<rect x="285.04" y="132.05" width="6.8" height="1.21" fill="#cccccc"/>
<rect x="285.04" y="133.26" width="6.8" height="3.64" fill="#eda56e"/>
<rect x="285.04" y="136.91" width="6.8" height="3.64" fill="#5fb07a"/>
<rect x="285.04" y="140.55" width="6.8" height="1.21" fill="#eda56e"/>
<rect x="285.04" y="141.76" width="6.8" height="1.21" fill="#5fb07a"/>
<rect x="285.04" y="142.98" width="6.8" height="2.43" fill="#cccccc"/>
<rect x="285.04" y="145.4" width="6.8" height="6.07" fill="#eda56e"/>
<rect x="285.04" y="151.47" width="6.8" height="4.86" fill="#5fb07a"/>
<rect x="285.04" y="156.33" width="6.8" height="1.21" fill="#eda56e"/>
<rect x="285.04" y="157.54" width="6.8" height="2.43" fill="#5fb07a"/>
<rect x="285.04" y="159.97" width="6.8" height="2.43" fill="#cccccc"/>
<rect x="285.04" y="162.4" width="6.8" height="2.43" fill="#eda56e"/>
<rect x="285.04" y="164.83" width="6.8" height="2.43" fill="#cccccc"/>
<rect x="285.04" y="167.26" width="6.8" height="1.21" fill="#eda56e"/>
<rect x="285.04" y="168.47" width="6.8" height="1.21" fill="#cccccc"/>
<rect x="285.04" y="169.68" width="6.8" height="4.86" fill="#5fb07a"/>
<rect x="285.04" y="174.54" width="6.8" height="2.43" fill="#eda56e"/>
<rect x="285.04" y="176.97" width="6.8" height="3.64" fill="#5fb07a"/>
<rect x="285.04" y="180.61" width="6.8" height="1.21" fill="#cccccc"/>
<rect x="285.04" y="181.82" width="6.8" height="1.21" fill="#5fb07a"/>
<rect x="285.04" y="183.04" width="6.8" height="1.21" fill="#eda56e"/>
<rect x="285.04" y="184.25" width="6.8" height="3.64" fill="#5fb07a"/>
<rect x="285.04" y="187.89" width="6.8" height="2.43" fill="#eda56e"/>
<rect x="285.04" y="190.32" width="6.8" height="2.43" fill="#cccccc"/>
<rect x="285.04" y="192.75" width="6.8" height="1.21" fill="#eda56e"/>
<rect x="285.04" y="193.96" width="6.8" height="1.21" fill="#5fb07a"/>
<rect x="285.04" y="195.18" width="6.8" height="2.43" fill="#cccccc"/>
<rect x="285.04" y="197.61" width="6.8" height="3.64" fill="#eda56e"/>
<rect x="285.04" y="201.25" width="6.8" height="1.21" fill="#5fb07a"/>
<rect x="285.04" y="202.46" width="6.8" height="6.07" fill="#eda56e"/>
<rect x="285.04" y="208.53" width="6.8" height="4.86" fill="#5fb07a"/>
<rect x="285.04" y="213.39" width="6.8" height="8.5" fill="#eda56e"/>
<rect x="285.04" y="221.89" width="6.8" height="1.21" fill="#5fb07a"/>
<rect x="285.04" y="223.1" width="6.8" height="1.21" fill="#eda56e"/>
<rect x="285.04" y="224.31" width="6.8" height="2.43" fill="#cccccc"/>
<rect x="285.04" y="226.74" width="6.8" height="4.86" fill="#eda56e"/>
<rect x="285.04" y="231.6" width="6.8" height="1.21" fill="#5fb07a"/>
<rect x="285.04" y="232.81" width="6.8" height="2.43" fill="#eda56e"/>
<rect x="285.04" y="235.24" width="6.8" height="6.07" fill="#5fb07a"/>
<rect x="285.04" y="241.31" width="6.8" height="4.86" fill="#eda56e"/>
<rect x="285.04" y="246.17" width="6.8" height="4.86" fill="#5fb07a"/>
<rect x="285.04" y="251.02" width="6.8" height="4.86" fill="#eda56e"/>
<rect x="285.04" y="255.88" width="6.8" height="1.21" fill="#5fb07a"/>
<rect x="285.04" y="257.09" width="6.8" height="3.64" fill="#eda56e"/>
<rect x="285.04" y="260.73" width="6.8" height="3.64" fill="#5fb07a"/>
<rect x="285.04" y="264.38" width="6.8" height="2.43" fill="#eda56e"/>
<rect x="285.04" y="266.8" width="6.8" height="8.5" fill="#5fb07a"/>
<rect x="285.04" y="275.3" width="6.8" height="3.64" fill="#eda56e"/>
<rect x="285.04" y="278.94" width="6.8" height="1.21" fill="#cccccc"/>
<rect x="285.04" y="280.16" width="6.8" height="1.21" fill="#eda56e"/>
<rect x="285.04" y="281.37" width="6.8" height="1.21" fill="#5fb07a"/>
<rect x="285.04" y="282.59" width="6.8" height="1.21" fill="#eda56e"/>
<text transform="translate(290.44,287) rotate(-90)" font-size="5.64" text-anchor="end">HER2 Status</text>
<rect x="292.57" y="41" width="6.8" height="1.21" fill="#cccccc"/>
<rect x="292.57" y="42.21" width="6.8" height="2.43" fill="#d96a74"/>
<rect x="292.57" y="44.64" width="6.8" height="2.43" fill="#4a88c6"/>
<rect x="292.57" y="47.07" width="6.8" height="1.21" fill="#d96a74"/>
<rect x="292.57" y="48.28" width="6.8" height="1.21" fill="#4a88c6"/>
<rect x="292.57" y="49.5" width="6.8" height="1.21" fill="#d96a74"/>
<rect x="292.57" y="50.71" width="6.8" height="2.43" fill="#cccccc"/>
<rect x="292.57" y="53.14" width="6.8" height="1.21" fill="#4a88c6"/>
<rect x="292.57" y="54.35" width="6.8" height="2.43" fill="#cccccc"/>
<rect x="292.57" y="56.78" width="6.8" height="1.21" fill="#4a88c6"/>
<rect x="292.57" y="58" width="6.8" height="3.64" fill="#d96a74"/>
<rect x="292.57" y="61.64" width="6.8" height="2.43" fill="#4a88c6"/>
<rect x="292.57" y="64.07" width="6.8" height="2.43" fill="#cccccc"/>
<rect x="292.57" y="66.49" width="6.8" height="2.43" fill="#4a88c6"/>
<rect x="292.57" y="68.92" width="6.8" height="4.86" fill="#d96a74"/>
<rect x="292.57" y="73.78" width="6.8" height="2.43" fill="#4a88c6"/>
<rect x="292.57" y="76.21" width="6.8" height="2.43" fill="#cccccc"/>
<rect x="292.57" y="78.63" width="6.8" height="2.43" fill="#d96a74"/>
<rect x="292.57" y="81.06" width="6.8" height="3.64" fill="#cccccc"/>
<rect x="292.57" y="84.7" width="6.8" height="3.64" fill="#4a88c6"/>
<rect x="292.57" y="88.35" width="6.8" height="1.21" fill="#cccccc"/>
<rect x="292.57" y="89.56" width="6.8" height="3.64" fill="#4a88c6"/>
<rect x="292.57" y="93.2" width="6.8" height="2.43" fill="#d96a74"/>
<rect x="292.57" y="95.63" width="6.8" height="1.21" fill="#4a88c6"/>
<rect x="292.57" y="96.84" width="6.8" height="1.21" fill="#d96a74"/>
<rect x="292.57" y="98.06" width="6.8" height="3.64" fill="#4a88c6"/>
<rect x="292.57" y="101.7" width="6.8" height="1.21" fill="#cccccc"/>
<rect x="292.57" y="102.91" width="6.8" height="1.21" fill="#4a88c6"/>
<rect x="292.57" y="104.13" width="6.8" height="2.43" fill="#d96a74"/>
<rect x="292.57" y="106.56" width="6.8" height="2.43" fill="#4a88c6"/>
<rect x="292.57" y="108.98" width="6.8" height="2.43" fill="#d96a74"/>
<rect x="292.57" y="111.41" width="6.8" height="1.21" fill="#4a88c6"/>
<rect x="292.57" y="112.63" width="6.8" height="2.43" fill="#d96a74"/>
<rect x="292.57" y="115.05" width="6.8" height="1.21" fill="#4a88c6"/>
<rect x="292.57" y="116.27" width="6.8" height="1.21" fill="#d96a74"/>
<rect x="292.57" y="117.48" width="6.8" height="6.07" fill="#4a88c6"/>
<rect x="292.57" y="123.55" width="6.8" height="1.21" fill="#d96a74"/>
<rect x="292.57" y="124.77" width="6.8" height="2.43" fill="#4a88c6"/>
<rect x="292.57" y="127.19" width="6.8" height="2.43" fill="#cccccc"/>
<rect x="292.57" y="129.62" width="6.8" height="1.21" fill="#d96a74"/>
<rect x="292.57" y="130.84" width="6.8" height="1.21" fill="#4a88c6"/>
<rect x="292.57" y="132.05" width="6.8" height="2.43" fill="#cccccc"/>
<rect x="292.57" y="134.48" width="6.8" height="4.86" fill="#4a88c6"/>
<rect x="292.57" y="139.33" width="6.8" height="3.64" fill="#cccccc"/>
<rect x="292.57" y="142.98" width="6.8" height="2.43" fill="#d96a74"/>
<rect x="292.57" y="145.4" width="6.8" height="1.21" fill="#4a88c6"/>
<rect x="292.57" y="146.62" width="6.8" height="1.21" fill="#d96a74"/>
<rect x="292.57" y="147.83" width="6.8" height="3.64" fill="#cccccc"/>
<rect x="292.57" y="151.47" width="6.8" height="1.21" fill="#4a88c6"/>
<rect x="292.57" y="152.69" width="6.8" height="2.43" fill="#cccccc"/>
<rect x="292.57" y="155.12" width="6.8" height="1.21" fill="#4a88c6"/>
<rect x="292.57" y="156.33" width="6.8" height="1.21" fill="#d96a74"/>
<rect x="292.57" y="157.54" width="6.8" height="1.21" fill="#4a88c6"/>
<rect x="292.57" y="158.76" width="6.8" height="2.43" fill="#d96a74"/>
<rect x="292.57" y="161.19" width="6.8" height="1.21" fill="#4a88c6"/>
<rect x="292.57" y="162.4" width="6.8" height="1.21" fill="#d96a74"/>
<rect x="292.57" y="163.61" width="6.8" height="1.21" fill="#4a88c6"/>
<rect x="292.57" y="164.83" width="6.8" height="1.21" fill="#d96a74"/>
<rect x="292.57" y="166.04" width="6.8" height="1.21" fill="#4a88c6"/>
<rect x="292.57" y="167.26" width="6.8" height="2.43" fill="#cccccc"/>
<rect x="292.57" y="169.68" width="6.8" height="1.21" fill="#d96a74"/>
<rect x="292.57" y="170.9" width="6.8" height="3.64" fill="#cccccc"/>
<rect x="292.57" y="174.54" width="6.8" height="1.21" fill="#4a88c6"/>
<rect x="292.57" y="175.75" width="6.8" height="1.21" fill="#d96a74"/>
<rect x="292.57" y="176.97" width="6.8" height="1.21" fill="#4a88c6"/>
<rect x="292.57" y="178.18" width="6.8" height="1.21" fill="#d96a74"/>
<rect x="292.57" y="179.4" width="6.8" height="1.21" fill="#4a88c6"/>
<rect x="292.57" y="180.61" width="6.8" height="2.43" fill="#d96a74"/>
<rect x="292.57" y="183.04" width="6.8" height="1.21" fill="#4a88c6"/>
<rect x="292.57" y="184.25" width="6.8" height="1.21" fill="#d96a74"/>
<rect x="292.57" y="185.47" width="6.8" height="3.64" fill="#4a88c6"/>
<rect x="292.57" y="189.11" width="6.8" height="1.21" fill="#cccccc"/>
<rect x="292.57" y="190.32" width="6.8" height="1.21" fill="#d96a74"/>
<rect x="292.57" y="191.54" width="6.8" height="1.21" fill="#4a88c6"/>
<rect x="292.57" y="192.75" width="6.8" height="1.21" fill="#d96a74"/>
<rect x="292.57" y="193.96" width="6.8" height="8.5" fill="#4a88c6"/>
<rect x="292.57" y="202.46" width="6.8" height="1.21" fill="#d96a74"/>
<rect x="292.57" y="203.68" width="6.8" height="6.07" fill="#4a88c6"/>
<rect x="292.57" y="209.75" width="6.8" height="2.43" fill="#d96a74"/>
<rect x="292.57" y="212.17" width="6.8" height="3.64" fill="#4a88c6"/>
<rect x="292.57" y="215.82" width="6.8" height="2.43" fill="#cccccc"/>
<rect x="292.57" y="218.24" width="6.8" height="1.21" fill="#4a88c6"/>
<rect x="292.57" y="219.46" width="6.8" height="2.43" fill="#cccccc"/>
<rect x="292.57" y="221.89" width="6.8" height="2.43" fill="#d96a74"/>
<rect x="292.57" y="224.31" width="6.8" height="1.21" fill="#cccccc"/>
<rect x="292.57" y="225.53" width="6.8" height="1.21" fill="#d96a74"/>
<rect x="292.57" y="226.74" width="6.8" height="6.07" fill="#4a88c6"/>
<rect x="292.57" y="232.81" width="6.8" height="1.21" fill="#cccccc"/>
<rect x="292.57" y="234.03" width="6.8" height="2.43" fill="#4a88c6"/>
<rect x="292.57" y="236.45" width="6.8" height="2.43" fill="#cccccc"/>
<rect x="292.57" y="238.88" width="6.8" height="2.43" fill="#4a88c6"/>
<rect x="292.57" y="241.31" width="6.8" height="1.21" fill="#cccccc"/>
<rect x="292.57" y="242.52" width="6.8" height="1.21" fill="#4a88c6"/>
<rect x="292.57" y="243.74" width="6.8" height="1.21" fill="#d96a74"/>
<rect x="292.57" y="244.95" width="6.8" height="1.21" fill="#4a88c6"/>
<rect x="292.57" y="246.17" width="6.8" height="1.21" fill="#cccccc"/>
<rect x="292.57" y="247.38" width="6.8" height="1.21" fill="#4a88c6"/>
<rect x="292.57" y="248.59" width="6.8" height="1.21" fill="#cccccc"/>
<rect x="292.57" y="249.81" width="6.8" height="1.21" fill="#d96a74"/>
<rect x="292.57" y="251.02" width="6.8" height="1.21" fill="#4a88c6"/>
<rect x="292.57" y="252.24" width="6.8" height="1.21" fill="#d96a74"/>
<rect x="292.57" y="253.45" width="6.8" height="6.07" fill="#4a88c6"/>
<rect x="292.57" y="259.52" width="6.8" height="2.43" fill="#d96a74"/>
<rect x="292.57" y="261.95" width="6.8" height="2.43" fill="#4a88c6"/>
<rect x="292.57" y="264.38" width="6.8" height="1.21" fill="#d96a74"/>
<rect x="292.57" y="265.59" width="6.8" height="1.21" fill="#cccccc"/>
<rect x="292.57" y="266.8" width="6.8" height="1.21" fill="#4a88c6"/>
<rect x="292.57" y="268.02" width="6.8" height="1.21" fill="#d96a74"/>
<rect x="292.57" y="269.23" width="6.8" height="3.64" fill="#4a88c6"/>
<rect x="292.57" y="272.87" width="6.8" height="2.43" fill="#d96a74"/>
<rect x="292.57" y="275.3" width="6.8" height="2.43" fill="#4a88c6"/>
<rect x="292.57" y="277.73" width="6.8" height="1.21" fill="#d96a74"/>
<rect x="292.57" y="278.94" width="6.8" height="1.21" fill="#4a88c6"/>
<rect x="292.57" y="280.16" width="6.8" height="2.43" fill="#cccccc"/>
<rect x="292.57" y="282.59" width="6.8" height="1.21" fill="#4a88c6"/>
<text transform="translate(297.97,287) rotate(-90)" font-size="5.64" text-anchor="end">PD−L1 CPS</text>
<rect x="300.1" y="41" width="6.8" height="7.28" fill="#e8825a"/>
<rect x="300.1" y="48.28" width="6.8" height="1.21" fill="#cccccc"/>
<rect x="300.1" y="49.5" width="6.8" height="48.56" fill="#e8825a"/>
<rect x="300.1" y="98.06" width="6.8" height="2.43" fill="#7470b8"/>
<rect x="300.1" y="100.49" width="6.8" height="9.71" fill="#e8825a"/>
<rect x="300.1" y="110.2" width="6.8" height="1.21" fill="#7470b8"/>
<rect x="300.1" y="111.41" width="6.8" height="24.28" fill="#e8825a"/>
<rect x="300.1" y="135.69" width="6.8" height="2.43" fill="#7470b8"/>
<rect x="300.1" y="138.12" width="6.8" height="12.14" fill="#e8825a"/>
<rect x="300.1" y="150.26" width="6.8" height="1.21" fill="#cccccc"/>
<rect x="300.1" y="151.47" width="6.8" height="2.43" fill="#e8825a"/>
<rect x="300.1" y="153.9" width="6.8" height="1.21" fill="#cccccc"/>
<rect x="300.1" y="155.12" width="6.8" height="3.64" fill="#e8825a"/>
<rect x="300.1" y="158.76" width="6.8" height="1.21" fill="#7470b8"/>
<rect x="300.1" y="159.97" width="6.8" height="1.21" fill="#e8825a"/>
<rect x="300.1" y="161.19" width="6.8" height="1.21" fill="#7470b8"/>
<rect x="300.1" y="162.4" width="6.8" height="29.14" fill="#e8825a"/>
<rect x="300.1" y="191.54" width="6.8" height="1.21" fill="#7470b8"/>
<rect x="300.1" y="192.75" width="6.8" height="38.85" fill="#e8825a"/>
<rect x="300.1" y="231.6" width="6.8" height="1.21" fill="#7470b8"/>
<rect x="300.1" y="232.81" width="6.8" height="2.43" fill="#e8825a"/>
<rect x="300.1" y="235.24" width="6.8" height="1.21" fill="#7470b8"/>
<rect x="300.1" y="236.45" width="6.8" height="7.28" fill="#e8825a"/>
<rect x="300.1" y="243.74" width="6.8" height="2.43" fill="#7470b8"/>
<rect x="300.1" y="246.17" width="6.8" height="6.07" fill="#e8825a"/>
<rect x="300.1" y="252.24" width="6.8" height="1.21" fill="#7470b8"/>
<rect x="300.1" y="253.45" width="6.8" height="30.35" fill="#e8825a"/>
<text transform="translate(305.5,287) rotate(-90)" font-size="5.64" text-anchor="end">MMR Status</text>
<rect x="307.63" y="41" width="6.8" height="55.84" fill="#eda56e"/>
<rect x="307.63" y="96.84" width="6.8" height="1.21" fill="#5fb07a"/>
<rect x="307.63" y="98.06" width="6.8" height="17" fill="#eda56e"/>
<rect x="307.63" y="115.05" width="6.8" height="1.21" fill="#cccccc"/>
<rect x="307.63" y="116.27" width="6.8" height="3.64" fill="#eda56e"/>
<rect x="307.63" y="119.91" width="6.8" height="1.21" fill="#5fb07a"/>
<rect x="307.63" y="121.12" width="6.8" height="9.71" fill="#eda56e"/>
<rect x="307.63" y="130.84" width="6.8" height="1.21" fill="#5fb07a"/>
<rect x="307.63" y="132.05" width="6.8" height="8.5" fill="#eda56e"/>
<rect x="307.63" y="140.55" width="6.8" height="1.21" fill="#5fb07a"/>
<rect x="307.63" y="141.76" width="6.8" height="19.42" fill="#eda56e"/>
<rect x="307.63" y="161.19" width="6.8" height="2.43" fill="#5fb07a"/>
<rect x="307.63" y="163.61" width="6.8" height="6.07" fill="#eda56e"/>
<rect x="307.63" y="169.68" width="6.8" height="2.43" fill="#5fb07a"/>
<rect x="307.63" y="172.11" width="6.8" height="8.5" fill="#eda56e"/>
<rect x="307.63" y="180.61" width="6.8" height="1.21" fill="#5fb07a"/>
<rect x="307.63" y="181.82" width="6.8" height="12.14" fill="#eda56e"/>
<rect x="307.63" y="193.96" width="6.8" height="1.21" fill="#5fb07a"/>
<rect x="307.63" y="195.18" width="6.8" height="15.78" fill="#eda56e"/>
<rect x="307.63" y="210.96" width="6.8" height="1.21" fill="#cccccc"/>
<rect x="307.63" y="212.17" width="6.8" height="44.92" fill="#eda56e"/>
<rect x="307.63" y="257.09" width="6.8" height="3.64" fill="#5fb07a"/>
<rect x="307.63" y="260.73" width="6.8" height="4.86" fill="#eda56e"/>
<rect x="307.63" y="265.59" width="6.8" height="2.43" fill="#cccccc"/>
<rect x="307.63" y="268.02" width="6.8" height="3.64" fill="#eda56e"/>
<rect x="307.63" y="271.66" width="6.8" height="1.21" fill="#cccccc"/>
<rect x="307.63" y="272.87" width="6.8" height="10.93" fill="#eda56e"/>
<text transform="translate(313.03,287) rotate(-90)" font-size="5.64" text-anchor="end">EBV Status</text>
<rect x="315.16" y="41" width="6.8" height="1.21" fill="#e8825a"/>
<rect x="315.16" y="42.21" width="6.8" height="3.64" fill="#7470b8"/>
<rect x="315.16" y="45.86" width="6.8" height="2.43" fill="#e8825a"/>
<rect x="315.16" y="48.28" width="6.8" height="1.21" fill="#eda56e"/>
<rect x="315.16" y="49.5" width="6.8" height="2.43" fill="#e8825a"/>
<rect x="315.16" y="51.93" width="6.8" height="3.64" fill="#eda56e"/>
<rect x="315.16" y="55.57" width="6.8" height="1.21" fill="#e8825a"/>
<rect x="315.16" y="56.78" width="6.8" height="1.21" fill="#7470b8"/>
<rect x="315.16" y="58" width="6.8" height="6.07" fill="#e8825a"/>
<rect x="315.16" y="64.07" width="6.8" height="1.21" fill="#eda56e"/>
<rect x="315.16" y="65.28" width="6.8" height="2.43" fill="#e8825a"/>
<rect x="315.16" y="67.71" width="6.8" height="1.21" fill="#eda56e"/>
<rect x="315.16" y="68.92" width="6.8" height="3.64" fill="#e8825a"/>
<rect x="315.16" y="72.56" width="6.8" height="1.21" fill="#7470b8"/>
<rect x="315.16" y="73.78" width="6.8" height="1.21" fill="#e8825a"/>
<rect x="315.16" y="74.99" width="6.8" height="1.21" fill="#eda56e"/>
<rect x="315.16" y="76.21" width="6.8" height="3.64" fill="#e8825a"/>
<rect x="315.16" y="79.85" width="6.8" height="1.21" fill="#7470b8"/>
<rect x="315.16" y="81.06" width="6.8" height="1.21" fill="#eda56e"/>
<rect x="315.16" y="82.28" width="6.8" height="1.21" fill="#e8825a"/>
<rect x="315.16" y="83.49" width="6.8" height="1.21" fill="#eda56e"/>
<rect x="315.16" y="84.7" width="6.8" height="3.64" fill="#e8825a"/>
<rect x="315.16" y="88.35" width="6.8" height="2.43" fill="#eda56e"/>
<rect x="315.16" y="90.77" width="6.8" height="1.21" fill="#e8825a"/>
<rect x="315.16" y="91.99" width="6.8" height="1.21" fill="#eda56e"/>
<rect x="315.16" y="93.2" width="6.8" height="10.93" fill="#e8825a"/>
<rect x="315.16" y="104.13" width="6.8" height="1.21" fill="#eda56e"/>
<rect x="315.16" y="105.34" width="6.8" height="7.28" fill="#e8825a"/>
<rect x="315.16" y="112.63" width="6.8" height="2.43" fill="#eda56e"/>
<rect x="315.16" y="115.05" width="6.8" height="6.07" fill="#e8825a"/>
<rect x="315.16" y="121.12" width="6.8" height="1.21" fill="#7470b8"/>
<rect x="315.16" y="122.34" width="6.8" height="1.21" fill="#e8825a"/>
<rect x="315.16" y="123.55" width="6.8" height="1.21" fill="#eda56e"/>
<rect x="315.16" y="124.77" width="6.8" height="6.07" fill="#e8825a"/>
<rect x="315.16" y="130.84" width="6.8" height="2.43" fill="#eda56e"/>
<rect x="315.16" y="133.26" width="6.8" height="1.21" fill="#e8825a"/>
<rect x="315.16" y="134.48" width="6.8" height="1.21" fill="#7470b8"/>
<rect x="315.16" y="135.69" width="6.8" height="3.64" fill="#e8825a"/>
<rect x="315.16" y="139.33" width="6.8" height="2.43" fill="#7470b8"/>
<rect x="315.16" y="141.76" width="6.8" height="1.21" fill="#e8825a"/>
<rect x="315.16" y="142.98" width="6.8" height="1.21" fill="#7470b8"/>
<rect x="315.16" y="144.19" width="6.8" height="1.21" fill="#eda56e"/>
<rect x="315.16" y="145.4" width="6.8" height="1.21" fill="#e8825a"/>
<rect x="315.16" y="146.62" width="6.8" height="1.21" fill="#eda56e"/>
<rect x="315.16" y="147.83" width="6.8" height="7.28" fill="#e8825a"/>
<rect x="315.16" y="155.12" width="6.8" height="2.43" fill="#eda56e"/>
<rect x="315.16" y="157.54" width="6.8" height="8.5" fill="#e8825a"/>
<rect x="315.16" y="166.04" width="6.8" height="1.21" fill="#eda56e"/>
<rect x="315.16" y="167.26" width="6.8" height="2.43" fill="#7470b8"/>
<rect x="315.16" y="169.68" width="6.8" height="3.64" fill="#e8825a"/>
<rect x="315.16" y="173.33" width="6.8" height="3.64" fill="#eda56e"/>
<rect x="315.16" y="176.97" width="6.8" height="13.35" fill="#e8825a"/>
<rect x="315.16" y="190.32" width="6.8" height="1.21" fill="#eda56e"/>
<rect x="315.16" y="191.54" width="6.8" height="2.43" fill="#e8825a"/>
<rect x="315.16" y="193.96" width="6.8" height="2.43" fill="#7470b8"/>
<rect x="315.16" y="196.39" width="6.8" height="2.43" fill="#e8825a"/>
<rect x="315.16" y="198.82" width="6.8" height="3.64" fill="#eda56e"/>
<rect x="315.16" y="202.46" width="6.8" height="12.14" fill="#e8825a"/>
<rect x="315.16" y="214.6" width="6.8" height="1.21" fill="#eda56e"/>
<rect x="315.16" y="215.82" width="6.8" height="2.43" fill="#e8825a"/>
<rect x="315.16" y="218.24" width="6.8" height="1.21" fill="#7470b8"/>
<rect x="315.16" y="219.46" width="6.8" height="8.5" fill="#e8825a"/>
<rect x="315.16" y="227.96" width="6.8" height="1.21" fill="#7470b8"/>
<rect x="315.16" y="229.17" width="6.8" height="2.43" fill="#eda56e"/>
<rect x="315.16" y="231.6" width="6.8" height="4.86" fill="#e8825a"/>
<rect x="315.16" y="236.45" width="6.8" height="1.21" fill="#eda56e"/>
<rect x="315.16" y="237.67" width="6.8" height="1.21" fill="#e8825a"/>
<rect x="315.16" y="238.88" width="6.8" height="2.43" fill="#7470b8"/>
<rect x="315.16" y="241.31" width="6.8" height="3.64" fill="#eda56e"/>
<rect x="315.16" y="244.95" width="6.8" height="2.43" fill="#e8825a"/>
<rect x="315.16" y="247.38" width="6.8" height="2.43" fill="#eda56e"/>
<rect x="315.16" y="249.81" width="6.8" height="1.21" fill="#7470b8"/>
<rect x="315.16" y="251.02" width="6.8" height="8.5" fill="#e8825a"/>
<rect x="315.16" y="259.52" width="6.8" height="2.43" fill="#eda56e"/>
<rect x="315.16" y="261.95" width="6.8" height="6.07" fill="#e8825a"/>
<rect x="315.16" y="268.02" width="6.8" height="1.21" fill="#eda56e"/>
<rect x="315.16" y="269.23" width="6.8" height="4.86" fill="#e8825a"/>
<rect x="315.16" y="274.09" width="6.8" height="1.21" fill="#7470b8"/>
<rect x="315.16" y="275.3" width="6.8" height="2.43" fill="#e8825a"/>
<rect x="315.16" y="277.73" width="6.8" height="2.43" fill="#7470b8"/>
<rect x="315.16" y="280.16" width="6.8" height="1.21" fill="#e8825a"/>
<rect x="315.16" y="281.37" width="6.8" height="1.21" fill="#7470b8"/>
<rect x="315.16" y="282.59" width="6.8" height="1.21" fill="#eda56e"/>
<text transform="translate(320.56,287) rotate(-90)" font-size="5.64" text-anchor="end">Line of Therapy</text>
<text x="327" y="24.3" font-size="5.64" font-weight="bold">Cell Proportion</text>
<defs><linearGradient id="cp" x1="0" y1="0" x2="0" y2="1"><stop offset="0" stop-color="#e02a2a"/><stop offset="0.5" stop-color="#f2f2f2"/><stop offset="1" stop-color="#3080c8"/></linearGradient><linearGradient id="corr" x1="0" y1="0" x2="0" y2="1"><stop offset="0" stop-color="#d0686c"/><stop offset="0.5" stop-color="#eab8b8"/><stop offset="0.8" stop-color="#f3eeee"/><stop offset="1" stop-color="#e2eaee"/></linearGradient></defs>
<rect x="326.9" y="27" width="6.1" height="29.7" fill="url(#cp)"/>
<text x="335" y="30.3" font-size="5.64">4</text>
<text x="335" y="37" font-size="5.64">2</text>
<text x="335" y="43.7" font-size="5.64">0</text>
<text x="335" y="51" font-size="5.64">−2</text>
<text x="335" y="57.7" font-size="5.64">−4</text>
<text x="327" y="66.3" font-size="5.64" font-weight="bold">VISTA</text>
<rect x="327" y="69.3" width="5" height="5" fill="#62b080"/>
<text x="334.6" y="73.3" font-size="5.64" fill="#333">High</text>
<rect x="327" y="75.02" width="5" height="5" fill="#4690b0"/>
<text x="334.6" y="79.02" font-size="5.64" fill="#333">Low</text>
<text x="327" y="90" font-size="5.64" font-weight="bold">Age</text>
<rect x="327" y="93" width="5" height="5" fill="#4ea8db"/>
<text x="334.6" y="97" font-size="5.64" fill="#333">&lt;60</text>
<rect x="327" y="98.72" width="5" height="5" fill="#e8825a"/>
<text x="334.6" y="102.72" font-size="5.64" fill="#333">≥60</text>
<text x="327" y="112.9" font-size="5.64" font-weight="bold">Gender</text>
<rect x="327" y="115.9" width="5" height="5" fill="#d9708a"/>
<text x="334.6" y="119.9" font-size="5.64" fill="#333">Female</text>
<rect x="327" y="121.62" width="5" height="5" fill="#4a88c6"/>
<text x="334.6" y="125.62" font-size="5.64" fill="#333">Male</text>
<text x="327" y="136.4" font-size="5.64" font-weight="bold">ECOG</text>
<rect x="327" y="139.4" width="5" height="5" fill="#eda56e"/>
<text x="334.6" y="143.4" font-size="5.64" fill="#333">≥1</text>
<rect x="327" y="145.12" width="5" height="5" fill="#5fb07a"/>
<text x="334.6" y="149.12" font-size="5.64" fill="#333">0</text>
<rect x="327" y="150.84" width="5" height="5" fill="#cccccc"/>
<text x="334.6" y="154.84" font-size="5.64" fill="#333">Unknown</text>
<text x="327" y="165.6" font-size="5.64" font-weight="bold">Location</text>
<rect x="327" y="168.6" width="5" height="5" fill="#7b68b5"/>
<text x="334.6" y="172.6" font-size="5.64" fill="#333">GEJ</text>
<rect x="327" y="174.32" width="5" height="5" fill="#5fb07a"/>
<text x="334.6" y="178.32" font-size="5.64" fill="#333">non−GEJ</text>
<text x="327" y="186.4" font-size="5.64" font-weight="bold">Differentiation</text>
<rect x="327" y="189.4" width="5" height="5" fill="#4a88c6"/>
<text x="334.6" y="193.4" font-size="5.64" fill="#333">Moderate</text>
<rect x="327" y="195.12" width="5" height="5" fill="#e8825a"/>
<text x="334.6" y="199.12" font-size="5.64" fill="#333">Moderate−poor</text>
<rect x="327" y="200.84" width="5" height="5" fill="#d96a7a"/>
<text x="334.6" y="204.84" font-size="5.64" fill="#333">Poor</text>
<rect x="327" y="206.56" width="5" height="5" fill="#cccccc"/>
<text x="334.6" y="210.56" font-size="5.64" fill="#333">Unknown</text>
<text x="327" y="221.2" font-size="5.64" font-weight="bold">Lauren Type</text>
<rect x="327" y="224.2" width="5" height="5" fill="#5fb07a"/>
<text x="334.6" y="228.2" font-size="5.64" fill="#333">Diffuse type</text>
<rect x="327" y="229.92" width="5" height="5" fill="#7470b8"/>
<text x="334.6" y="233.92" font-size="5.64" fill="#333">Intestinal type</text>
<rect x="327" y="235.64" width="5" height="5" fill="#c4a865"/>
<text x="334.6" y="239.64" font-size="5.64" fill="#333">Mixed type</text>
<rect x="327" y="241.36" width="5" height="5" fill="#cccccc"/>
<text x="334.6" y="245.36" font-size="5.64" fill="#333">Unknown</text>
<text x="327" y="256" font-size="5.64" font-weight="bold">Stage</text>
<rect x="327" y="259" width="5" height="5" fill="#eda56e"/>
<text x="334.6" y="263" font-size="5.64" fill="#333">II</text>
<rect x="327" y="264.72" width="5" height="5" fill="#e8825a"/>
<text x="334.6" y="268.72" font-size="5.64" fill="#333">III</text>
<rect x="327" y="270.44" width="5" height="5" fill="#c8689a"/>
<text x="334.6" y="274.44" font-size="5.64" fill="#333">IV</text>
<rect x="327" y="276.16" width="5" height="5" fill="#cccccc"/>
<text x="334.6" y="280.16" font-size="5.64" fill="#333">Unknown</text>
<text x="327" y="290.4" font-size="5.64" font-weight="bold">HER2 Status</text>
<rect x="327" y="293.4" width="5" height="5" fill="#eda56e"/>
<text x="334.6" y="297.4" font-size="5.64" fill="#333">Negative</text>
<rect x="327" y="299.12" width="5" height="5" fill="#5fb07a"/>
<text x="334.6" y="303.12" font-size="5.64" fill="#333">Positive</text>
<rect x="327" y="304.84" width="5" height="5" fill="#cccccc"/>
<text x="334.6" y="308.84" font-size="5.64" fill="#333">Unknown</text>
<text x="327" y="319.4" font-size="5.64" font-weight="bold">PD−L1 CPS</text>
<rect x="327" y="322.4" width="5" height="5" fill="#d96a74"/>
<text x="334.6" y="326.4" font-size="5.64" fill="#333">≥5</text>
<rect x="327" y="328.12" width="5" height="5" fill="#4a88c6"/>
<text x="334.6" y="332.12" font-size="5.64" fill="#333">&lt;5</text>
<rect x="327" y="333.84" width="5" height="5" fill="#cccccc"/>
<text x="334.6" y="337.84" font-size="5.64" fill="#333">Unknown</text>
<text x="380.7" y="24.6" font-size="5.64" font-weight="bold">MMR Status</text>
<rect x="380.7" y="27.6" width="5" height="5" fill="#7470b8"/>
<text x="388.3" y="31.6" font-size="5.64" fill="#333">DMMR</text>
<rect x="380.7" y="33.32" width="5" height="5" fill="#e8825a"/>
<text x="388.3" y="37.32" font-size="5.64" fill="#333">PMMR</text>
<rect x="380.7" y="39.04" width="5" height="5" fill="#cccccc"/>
<text x="388.3" y="43.04" font-size="5.64" fill="#333">Unknown</text>
<text x="380.7" y="53.9" font-size="5.64" font-weight="bold">EBV Status</text>
<rect x="380.7" y="56.9" width="5" height="5" fill="#eda56e"/>
<text x="388.3" y="60.9" font-size="5.64" fill="#333">Negative</text>
<rect x="380.7" y="62.62" width="5" height="5" fill="#5fb07a"/>
<text x="388.3" y="66.62" font-size="5.64" fill="#333">Positive</text>
<rect x="380.7" y="68.34" width="5" height="5" fill="#cccccc"/>
<text x="388.3" y="72.34" font-size="5.64" fill="#333">Unknown</text>
<text x="380.7" y="83" font-size="5.64" font-weight="bold">Line of Therapy</text>
<rect x="380.7" y="86" width="5" height="5" fill="#e8825a"/>
<text x="388.3" y="90" font-size="5.64" fill="#333">First−line</text>
<rect x="380.7" y="91.72" width="5" height="5" fill="#7470b8"/>
<text x="388.3" y="95.72" font-size="5.64" fill="#333">Neoadjuvant Therapy</text>
<rect x="380.7" y="97.44" width="5" height="5" fill="#eda56e"/>
<text x="388.3" y="101.44" font-size="5.64" fill="#333">Second−line or Above</text>
<text x="380.7" y="111.5" font-size="5.64" font-weight="bold">Cell subtype</text>
<rect x="380.7" y="114.5" width="5" height="5" fill="#8fc791"/>
<text x="388.3" y="118.5" font-size="5.64" fill="#333">CD4+ T cell</text>
<rect x="380.7" y="120.22" width="5" height="5" fill="#5fae86"/>
<text x="388.3" y="124.22" font-size="5.64" fill="#333">CD8+ T cell</text>
<rect x="380.7" y="125.94" width="5" height="5" fill="#9382b5"/>
<text x="388.3" y="129.94" font-size="5.64" fill="#333">Checkpoints</text>
<rect x="380.7" y="131.66" width="5" height="5" fill="#ea977b"/>
<text x="388.3" y="135.66" font-size="5.64" fill="#333">Depleted CD8+ T cell</text>
<rect x="380.7" y="137.38" width="5" height="5" fill="#6597c9"/>
<text x="388.3" y="141.38" font-size="5.64" fill="#333">Effector CD4+ T cell</text>
<rect x="380.7" y="143.1" width="5" height="5" fill="#e597a6"/>
<text x="388.3" y="147.1" font-size="5.64" fill="#333">Fibroblast</text>
<rect x="380.7" y="148.82" width="5" height="5" fill="#92c1de"/>
<text x="388.3" y="152.82" font-size="5.64" fill="#333">M1 Macrophage</text>
<rect x="380.7" y="154.54" width="5" height="5" fill="#6f8fc8"/>
<text x="388.3" y="158.54" font-size="5.64" fill="#333">M2 Macrophage</text>
<rect x="380.7" y="160.26" width="5" height="5" fill="#cbb878"/>
<text x="388.3" y="164.26" font-size="5.64" fill="#333">Macrophage</text>
<rect x="380.7" y="165.98" width="5" height="5" fill="#eea383"/>
<text x="388.3" y="169.98" font-size="5.64" fill="#333">Neutrophil</text>
<rect x="380.7" y="171.7" width="5" height="5" fill="#8f8cc0"/>
<text x="388.3" y="175.7" font-size="5.64" fill="#333">Non−depleted CD8+ T cell</text>
<rect x="380.7" y="177.42" width="5" height="5" fill="#c992c2"/>
<text x="388.3" y="181.42" font-size="5.64" fill="#333">Regulatory CD4+ T cell</text>
<text x="380.7" y="191.2" font-size="5.64" font-weight="bold">Cell type</text>
<rect x="380.7" y="194.2" width="5" height="5" fill="#6db581"/>
<text x="388.3" y="198.2" font-size="5.64" fill="#333">CD4+ T cell</text>
<rect x="380.7" y="199.92" width="5" height="5" fill="#5eac82"/>
<text x="388.3" y="203.92" font-size="5.64" fill="#333">CD8+ T cell</text>
<rect x="380.7" y="205.64" width="5" height="5" fill="#7a6cb3"/>
<text x="388.3" y="209.64" font-size="5.64" fill="#333">Checkpoints</text>
<rect x="380.7" y="211.36" width="5" height="5" fill="#d97c8c"/>
<text x="388.3" y="215.36" font-size="5.64" fill="#333">Fibroblast</text>
<rect x="380.7" y="217.08" width="5" height="5" fill="#bba56b"/>
<text x="388.3" y="221.08" font-size="5.64" fill="#333">Macrophage</text>
<rect x="380.7" y="222.8" width="5" height="5" fill="#e08a62"/>
<text x="388.3" y="226.8" font-size="5.64" fill="#333">Neutrophil</text>
<text x="380.7" y="237" font-size="5.64" font-weight="bold">Significance</text>
<rect x="380.7" y="240" width="5" height="5" fill="#3d8fd1"/>
<text x="388.3" y="244" font-size="5.64" fill="#333">Not Significant</text>
<rect x="380.7" y="245.72" width="5" height="5" fill="#e03a3d"/>
<text x="388.3" y="249.72" font-size="5.64" fill="#333">Significant</text>
<text x="461" y="9.8" font-size="14" font-weight="bold" fill="#000">b</text>
<text x="513.5" y="12.3" font-size="5.64" text-anchor="middle" font-weight="bold" fill="#000">CD8+ PD-1- TIGIT+</text>
<line x1="491.5" y1="18.3" x2="491.5" y2="99.3" stroke="#a8a8a8" stroke-width="0.6"/>
<line x1="491.5" y1="99.3" x2="535" y2="99.3" stroke="#a0a0a0" stroke-width="0.6"/>
<line x1="489.9" y1="99.3" x2="491.5" y2="99.3" stroke="#555" stroke-width="0.5"/>
<text x="487.7" y="101.6" font-size="5.43" text-anchor="end" fill="#222">0</text>
<line x1="489.9" y1="72.3" x2="491.5" y2="72.3" stroke="#555" stroke-width="0.5"/>
<text x="487.7" y="74.6" font-size="5.43" text-anchor="end" fill="#222">500</text>
<line x1="489.9" y1="45.3" x2="491.5" y2="45.3" stroke="#555" stroke-width="0.5"/>
<text x="487.7" y="47.6" font-size="5.43" text-anchor="end" fill="#222">1000</text>
<line x1="489.9" y1="18.3" x2="491.5" y2="18.3" stroke="#555" stroke-width="0.5"/>
<text x="487.7" y="20.6" font-size="5.43" text-anchor="end" fill="#222">1500</text>
<text transform="translate(468.9,58.8) rotate(-90)" font-size="5.64" text-anchor="middle" fill="#222">Density (cell/mm<tspan font-size="3.69" dy="-2">2</tspan><tspan dy="2">)</tspan></text>
<line x1="503.6" y1="86.88" x2="503.6" y2="99.3" stroke="#b8b8b8" stroke-width="0.6"/>
<rect x="496.5" y="94.17" width="14.2" height="4.86" fill="#d9707a" stroke="#9a4048" stroke-width="0.45"/>
<line x1="496.5" y1="97.14" x2="510.7" y2="97.14" stroke="#9a4048" stroke-width="0.8"/>
<path fill="#8a2b3c" fill-opacity="0.9" d="M504.48 93.82h1.2v1.2h-1.2zM499.14 94.82h1.2v1.2h-1.2zM499.59 94.5h1.2v1.2h-1.2zM503.87 94.14h1.2v1.2h-1.2zM502.99 95.49h1.2v1.2h-1.2zM499.42 96.01h1.2v1.2h-1.2zM507.02 93.76h1.2v1.2h-1.2zM500.48 89.94h1.2v1.2h-1.2zM504.05 98.46h1.2v1.2h-1.2zM498.99 96.22h1.2v1.2h-1.2zM502.52 94.25h1.2v1.2h-1.2zM506.72 97.3h1.2v1.2h-1.2zM501.25 96.65h1.2v1.2h-1.2zM499.26 98.48h1.2v1.2h-1.2zM501.28 93.84h1.2v1.2h-1.2zM504.17 96.35h1.2v1.2h-1.2zM501.2 97.19h1.2v1.2h-1.2zM499.21 94.04h1.2v1.2h-1.2zM501.99 95.92h1.2v1.2h-1.2zM503.41 96.98h1.2v1.2h-1.2zM500.55 92.46h1.2v1.2h-1.2zM499.75 97.37h1.2v1.2h-1.2zM499.98 90.23h1.2v1.2h-1.2zM504.77 98.65h1.2v1.2h-1.2zM502.03 97.43h1.2v1.2h-1.2zM500.43 98.7h1.2v1.2h-1.2zM500.65 98.27h1.2v1.2h-1.2zM500.09 96.65h1.2v1.2h-1.2zM500.84 98.49h1.2v1.2h-1.2zM503.91 98.53h1.2v1.2h-1.2zM506.6 98.56h1.2v1.2h-1.2zM503.04 94.81h1.2v1.2h-1.2zM499.42 98.09h1.2v1.2h-1.2zM505.01 98.53h1.2v1.2h-1.2zM503.72 98.3h1.2v1.2h-1.2zM500.18 98.54h1.2v1.2h-1.2zM499.52 92.85h1.2v1.2h-1.2zM498.87 98.62h1.2v1.2h-1.2zM507.03 97.28h1.2v1.2h-1.2zM507.2 97.07h1.2v1.2h-1.2zM503.84 98.57h1.2v1.2h-1.2zM499.9 98.61h1.2v1.2h-1.2zM506.74 98.68h1.2v1.2h-1.2zM501.88 97.43h1.2v1.2h-1.2zM503.98 95.15h1.2v1.2h-1.2zM502.12 96.86h1.2v1.2h-1.2zM505.41 97.28h1.2v1.2h-1.2zM500.01 94.94h1.2v1.2h-1.2zM504.48 96.91h1.2v1.2h-1.2zM504.63 88.53h1.2v1.2h-1.2zM506.73 94.86h1.2v1.2h-1.2zM503.32 98.52h1.2v1.2h-1.2zM502.14 93.38h1.2v1.2h-1.2zM502.15 93.67h1.2v1.2h-1.2zM506.15 98.07h1.2v1.2h-1.2zM502.3 47.94h1.2v1.2h-1.2zM503.56 84.66h1.2v1.2h-1.2zM499.48 85.2h1.2v1.2h-1.2zM506.87 87.36h1.2v1.2h-1.2zM501.33 88.98h1.2v1.2h-1.2z"/>
<line x1="503.6" y1="99.3" x2="503.6" y2="100.7" stroke="#555" stroke-width="0.5"/>
<text transform="translate(506.8,104.9) rotate(-45)" font-size="5.74" text-anchor="end" fill="#222">High</text>
<line x1="523.1" y1="93.9" x2="523.1" y2="99.3" stroke="#b8b8b8" stroke-width="0.6"/>
<rect x="516" y="96.92" width="14.2" height="2.11" fill="#6ab9e4" stroke="#2e6a8c" stroke-width="0.45"/>
<line x1="516" y1="98.22" x2="530.2" y2="98.22" stroke="#2e6a8c" stroke-width="0.8"/>
<path fill="#24587a" fill-opacity="0.9" d="M523.69 94.53h1.2v1.2h-1.2zM520.61 96.63h1.2v1.2h-1.2zM521.34 97.52h1.2v1.2h-1.2zM524.51 97.38h1.2v1.2h-1.2zM524.13 96.41h1.2v1.2h-1.2zM519.82 98.43h1.2v1.2h-1.2zM519.15 94.91h1.2v1.2h-1.2zM520.7 98.56h1.2v1.2h-1.2zM523.65 98.69h1.2v1.2h-1.2zM522.25 98.6h1.2v1.2h-1.2zM526.33 97.79h1.2v1.2h-1.2zM522.73 96.49h1.2v1.2h-1.2zM522.05 96.19h1.2v1.2h-1.2zM520.6 96.38h1.2v1.2h-1.2zM520.7 98.11h1.2v1.2h-1.2zM524.07 97.25h1.2v1.2h-1.2zM520.89 97.87h1.2v1.2h-1.2zM519.31 98.18h1.2v1.2h-1.2zM524.37 97.01h1.2v1.2h-1.2zM520.84 96.43h1.2v1.2h-1.2zM518.44 98.66h1.2v1.2h-1.2zM526.22 97.11h1.2v1.2h-1.2zM525.12 96.16h1.2v1.2h-1.2zM526.69 98.17h1.2v1.2h-1.2zM524.12 98.5h1.2v1.2h-1.2zM521.16 98.48h1.2v1.2h-1.2zM525.22 97.85h1.2v1.2h-1.2zM525.24 97.51h1.2v1.2h-1.2zM521.6 97.52h1.2v1.2h-1.2zM522.98 98.32h1.2v1.2h-1.2zM521.17 97.04h1.2v1.2h-1.2zM523.73 95.34h1.2v1.2h-1.2zM523.13 93.46h1.2v1.2h-1.2zM519.4 98.5h1.2v1.2h-1.2zM518.54 98.27h1.2v1.2h-1.2zM522.37 98.44h1.2v1.2h-1.2zM522.37 98.63h1.2v1.2h-1.2zM523.25 98.55h1.2v1.2h-1.2zM521.48 96.84h1.2v1.2h-1.2zM524.02 96.84h1.2v1.2h-1.2zM523.69 98.57h1.2v1.2h-1.2zM522.26 98.61h1.2v1.2h-1.2zM522.37 98.66h1.2v1.2h-1.2zM522.4 96.86h1.2v1.2h-1.2zM524.3 96.29h1.2v1.2h-1.2zM520.21 96.25h1.2v1.2h-1.2zM526.15 95.19h1.2v1.2h-1.2zM525.36 97.45h1.2v1.2h-1.2zM525.03 98.68h1.2v1.2h-1.2zM520.09 95.64h1.2v1.2h-1.2zM520.85 97.44h1.2v1.2h-1.2zM519.62 98.37h1.2v1.2h-1.2zM522.27 96.93h1.2v1.2h-1.2zM520.74 96.49h1.2v1.2h-1.2zM521.84 98.66h1.2v1.2h-1.2zM522.87 97.34h1.2v1.2h-1.2zM522.92 97h1.2v1.2h-1.2zM525.68 97.7h1.2v1.2h-1.2zM521.61 98.56h1.2v1.2h-1.2zM520.45 96.93h1.2v1.2h-1.2zM522.57 96.89h1.2v1.2h-1.2zM522.16 98.52h1.2v1.2h-1.2zM523.28 96.13h1.2v1.2h-1.2zM519.36 98.33h1.2v1.2h-1.2zM518.4 97.55h1.2v1.2h-1.2zM525.74 97.3h1.2v1.2h-1.2zM523.11 94.89h1.2v1.2h-1.2zM519.05 98.65h1.2v1.2h-1.2zM518.42 97.54h1.2v1.2h-1.2zM523.68 96.66h1.2v1.2h-1.2zM525.51 98.58h1.2v1.2h-1.2zM519.2 93.87h1.2v1.2h-1.2zM526.1 97.71h1.2v1.2h-1.2zM525.04 97.15h1.2v1.2h-1.2zM522.26 98.04h1.2v1.2h-1.2zM518.79 94.29h1.2v1.2h-1.2zM520.98 98.41h1.2v1.2h-1.2zM525.4 96.37h1.2v1.2h-1.2zM525.44 94.18h1.2v1.2h-1.2zM519.49 96.67h1.2v1.2h-1.2zM522.41 96.16h1.2v1.2h-1.2zM525.8 93.43h1.2v1.2h-1.2zM521.41 93.39h1.2v1.2h-1.2zM522.8 96.4h1.2v1.2h-1.2zM519.33 96.68h1.2v1.2h-1.2zM522.3 97.13h1.2v1.2h-1.2zM518.74 98.45h1.2v1.2h-1.2zM525.76 95.97h1.2v1.2h-1.2zM522.04 98.64h1.2v1.2h-1.2zM518.9 97.25h1.2v1.2h-1.2zM520.26 97.56h1.2v1.2h-1.2zM524.91 95.73h1.2v1.2h-1.2zM526.01 96.58h1.2v1.2h-1.2zM526.14 96.75h1.2v1.2h-1.2zM524.32 98.66h1.2v1.2h-1.2zM518.72 96.97h1.2v1.2h-1.2zM524.02 96.41h1.2v1.2h-1.2zM522.25 98.69h1.2v1.2h-1.2zM522.95 96.79h1.2v1.2h-1.2zM520.36 98.63h1.2v1.2h-1.2zM518.37 98.13h1.2v1.2h-1.2zM524.46 98.09h1.2v1.2h-1.2zM522.31 98.32h1.2v1.2h-1.2zM523.55 97.91h1.2v1.2h-1.2zM524.23 98.62h1.2v1.2h-1.2zM519.94 98.34h1.2v1.2h-1.2zM523.17 98.27h1.2v1.2h-1.2zM526.18 96.1h1.2v1.2h-1.2zM521.91 97.99h1.2v1.2h-1.2zM522.92 98.49h1.2v1.2h-1.2zM520.98 85.74h1.2v1.2h-1.2zM523.14 89.52h1.2v1.2h-1.2zM525.71 90.6h1.2v1.2h-1.2zM521.03 91.68h1.2v1.2h-1.2zM522.05 92.22h1.2v1.2h-1.2z"/>
<line x1="523.1" y1="99.3" x2="523.1" y2="100.7" stroke="#555" stroke-width="0.5"/>
<text transform="translate(526.3,104.9) rotate(-45)" font-size="5.74" text-anchor="end" fill="#222">Low</text>
<path d="M503.6 33V32H523.1V33" fill="none" stroke="#555" stroke-width="0.55"/>
<text x="513.35" y="30.7" font-size="5.54" text-anchor="middle" fill="#222"><tspan font-style="italic">P</tspan> = 0.015</text>
<text x="587.1" y="12.3" font-size="5.64" text-anchor="middle" font-weight="bold" fill="#000">CD8+ TIGIT+ TIM3-</text>
<line x1="565.1" y1="18.3" x2="565.1" y2="99.3" stroke="#a8a8a8" stroke-width="0.6"/>
<line x1="565.1" y1="99.3" x2="608.6" y2="99.3" stroke="#a0a0a0" stroke-width="0.6"/>
<line x1="563.5" y1="99.3" x2="565.1" y2="99.3" stroke="#555" stroke-width="0.5"/>
<text x="561.3" y="101.6" font-size="5.43" text-anchor="end" fill="#222">0</text>
<line x1="563.5" y1="83.1" x2="565.1" y2="83.1" stroke="#555" stroke-width="0.5"/>
<text x="561.3" y="85.4" font-size="5.43" text-anchor="end" fill="#222">100</text>
<line x1="563.5" y1="66.9" x2="565.1" y2="66.9" stroke="#555" stroke-width="0.5"/>
<text x="561.3" y="69.2" font-size="5.43" text-anchor="end" fill="#222">200</text>
<line x1="563.5" y1="50.7" x2="565.1" y2="50.7" stroke="#555" stroke-width="0.5"/>
<text x="561.3" y="53" font-size="5.43" text-anchor="end" fill="#222">300</text>
<line x1="563.5" y1="34.5" x2="565.1" y2="34.5" stroke="#555" stroke-width="0.5"/>
<text x="561.3" y="36.8" font-size="5.43" text-anchor="end" fill="#222">400</text>
<line x1="563.5" y1="18.3" x2="565.1" y2="18.3" stroke="#555" stroke-width="0.5"/>
<text x="561.3" y="20.6" font-size="5.43" text-anchor="end" fill="#222">500</text>
<text transform="translate(542.5,58.8) rotate(-90)" font-size="5.64" text-anchor="middle" fill="#222">Density (cell/mm<tspan font-size="3.69" dy="-2">2</tspan><tspan dy="2">)</tspan></text>
<line x1="577.2" y1="86.34" x2="577.2" y2="99.3" stroke="#b8b8b8" stroke-width="0.6"/>
<rect x="570.1" y="93.31" width="14.2" height="5.67" fill="#d9707a" stroke="#9a4048" stroke-width="0.45"/>
<line x1="570.1" y1="97.36" x2="584.3" y2="97.36" stroke="#9a4048" stroke-width="0.8"/>
<path fill="#8a2b3c" fill-opacity="0.9" d="M578.72 93.5h1.2v1.2h-1.2zM572.45 96.81h1.2v1.2h-1.2zM580.45 96.6h1.2v1.2h-1.2zM574.84 96.41h1.2v1.2h-1.2zM575.78 94.63h1.2v1.2h-1.2zM574.21 92.19h1.2v1.2h-1.2zM579.04 95.07h1.2v1.2h-1.2zM580.4 95.56h1.2v1.2h-1.2zM580.39 96.59h1.2v1.2h-1.2zM577.75 98.5h1.2v1.2h-1.2zM576.46 88.31h1.2v1.2h-1.2zM579.5 96.83h1.2v1.2h-1.2zM576.86 94.23h1.2v1.2h-1.2zM579.81 92.92h1.2v1.2h-1.2zM577.59 90.72h1.2v1.2h-1.2zM579.56 98.3h1.2v1.2h-1.2zM579.31 97h1.2v1.2h-1.2zM575.76 98.66h1.2v1.2h-1.2zM573.58 86.58h1.2v1.2h-1.2zM576.32 98.62h1.2v1.2h-1.2zM572.89 91.96h1.2v1.2h-1.2zM576.23 93.02h1.2v1.2h-1.2zM576.36 96.39h1.2v1.2h-1.2zM579.99 88.62h1.2v1.2h-1.2zM577.58 97.61h1.2v1.2h-1.2zM576.62 97.13h1.2v1.2h-1.2zM576.18 94.29h1.2v1.2h-1.2zM580.06 96.22h1.2v1.2h-1.2zM572.46 92.7h1.2v1.2h-1.2zM579.5 90.54h1.2v1.2h-1.2zM576.46 98.63h1.2v1.2h-1.2zM576.45 98.57h1.2v1.2h-1.2zM574.57 94.75h1.2v1.2h-1.2zM576.37 97.59h1.2v1.2h-1.2zM573.13 95.44h1.2v1.2h-1.2zM579.67 98.09h1.2v1.2h-1.2zM577.82 92.53h1.2v1.2h-1.2zM580.52 95.33h1.2v1.2h-1.2zM578.76 93.02h1.2v1.2h-1.2zM574.8 98.63h1.2v1.2h-1.2zM573.65 96.12h1.2v1.2h-1.2zM580.49 92.78h1.2v1.2h-1.2zM578.4 87.4h1.2v1.2h-1.2zM575.63 93.6h1.2v1.2h-1.2zM579.91 97.21h1.2v1.2h-1.2zM574.72 91.4h1.2v1.2h-1.2zM574.34 98.62h1.2v1.2h-1.2zM574.04 93.71h1.2v1.2h-1.2zM577.26 90.76h1.2v1.2h-1.2zM580.07 98.7h1.2v1.2h-1.2zM575.32 93.88h1.2v1.2h-1.2zM573.76 93.08h1.2v1.2h-1.2zM580.03 87.79h1.2v1.2h-1.2zM579.72 88.63h1.2v1.2h-1.2zM575.48 98.17h1.2v1.2h-1.2zM576.25 45.24h1.2v1.2h-1.2zM574.25 59.82h1.2v1.2h-1.2zM575.89 80.88h1.2v1.2h-1.2zM576.94 82.5h1.2v1.2h-1.2zM576.66 85.74h1.2v1.2h-1.2z"/>
<line x1="577.2" y1="99.3" x2="577.2" y2="100.7" stroke="#555" stroke-width="0.5"/>
<text transform="translate(580.4,104.9) rotate(-45)" font-size="5.74" text-anchor="end" fill="#222">High</text>
<line x1="596.7" y1="95.25" x2="596.7" y2="99.3" stroke="#b8b8b8" stroke-width="0.6"/>
<rect x="589.6" y="97.68" width="14.2" height="1.46" fill="#6ab9e4" stroke="#2e6a8c" stroke-width="0.45"/>
<line x1="589.6" y1="98.49" x2="603.8" y2="98.49" stroke="#2e6a8c" stroke-width="0.8"/>
<path fill="#24587a" fill-opacity="0.9" d="M593.66 96.79h1.2v1.2h-1.2zM600.09 95.8h1.2v1.2h-1.2zM593.95 94.86h1.2v1.2h-1.2zM599.4 97.01h1.2v1.2h-1.2zM592.93 95.14h1.2v1.2h-1.2zM593.11 98.43h1.2v1.2h-1.2zM599.41 97.4h1.2v1.2h-1.2zM595.91 98.26h1.2v1.2h-1.2zM599.17 97.97h1.2v1.2h-1.2zM597.23 97.09h1.2v1.2h-1.2zM598.14 98.29h1.2v1.2h-1.2zM598.31 97.2h1.2v1.2h-1.2zM599.45 98.19h1.2v1.2h-1.2zM599.57 97.67h1.2v1.2h-1.2zM594.67 97.53h1.2v1.2h-1.2zM595.55 98.67h1.2v1.2h-1.2zM598.92 97.09h1.2v1.2h-1.2zM594.96 98.32h1.2v1.2h-1.2zM598.27 95.03h1.2v1.2h-1.2zM599.95 98.07h1.2v1.2h-1.2zM596.67 97.04h1.2v1.2h-1.2zM597.79 98.65h1.2v1.2h-1.2zM595.11 96.13h1.2v1.2h-1.2zM598.76 97.8h1.2v1.2h-1.2zM598.01 97.18h1.2v1.2h-1.2zM592.51 97.65h1.2v1.2h-1.2zM595.36 98.65h1.2v1.2h-1.2zM595.36 98.08h1.2v1.2h-1.2zM599 98.31h1.2v1.2h-1.2zM594.81 98.68h1.2v1.2h-1.2zM592.71 96.81h1.2v1.2h-1.2zM599.6 98.38h1.2v1.2h-1.2zM594.24 97.36h1.2v1.2h-1.2zM598.14 97.43h1.2v1.2h-1.2zM596.75 98.54h1.2v1.2h-1.2zM595.59 97.14h1.2v1.2h-1.2zM594.41 96.81h1.2v1.2h-1.2zM597.74 98.39h1.2v1.2h-1.2zM598.56 98.55h1.2v1.2h-1.2zM598.8 98.64h1.2v1.2h-1.2zM596.39 98.55h1.2v1.2h-1.2zM592.77 95.96h1.2v1.2h-1.2zM593.22 97.2h1.2v1.2h-1.2zM593.43 98.69h1.2v1.2h-1.2zM595.04 95.78h1.2v1.2h-1.2zM599.81 98.12h1.2v1.2h-1.2zM593.24 97.97h1.2v1.2h-1.2zM597.22 98.68h1.2v1.2h-1.2zM594.09 98.27h1.2v1.2h-1.2zM595.49 97.97h1.2v1.2h-1.2zM598.21 98h1.2v1.2h-1.2zM598.39 98.69h1.2v1.2h-1.2zM598.46 97.98h1.2v1.2h-1.2zM600.02 95.71h1.2v1.2h-1.2zM597.86 98.39h1.2v1.2h-1.2zM593.52 97.14h1.2v1.2h-1.2zM599.88 98.67h1.2v1.2h-1.2zM594.17 98.22h1.2v1.2h-1.2zM595.37 97.42h1.2v1.2h-1.2zM599.67 98.59h1.2v1.2h-1.2zM595.72 97.04h1.2v1.2h-1.2zM596.79 97.56h1.2v1.2h-1.2zM597.12 97.44h1.2v1.2h-1.2zM594.86 97.71h1.2v1.2h-1.2zM594.87 97.22h1.2v1.2h-1.2zM595.84 96.62h1.2v1.2h-1.2zM594.69 97.21h1.2v1.2h-1.2zM595.05 97.68h1.2v1.2h-1.2zM596.12 95.8h1.2v1.2h-1.2zM593.5 98.56h1.2v1.2h-1.2zM600.14 94.98h1.2v1.2h-1.2zM593.52 95.73h1.2v1.2h-1.2zM600.03 97.31h1.2v1.2h-1.2zM598.34 97.19h1.2v1.2h-1.2zM594.82 98.09h1.2v1.2h-1.2zM593.26 98.27h1.2v1.2h-1.2zM597.44 98.62h1.2v1.2h-1.2zM598.91 97.46h1.2v1.2h-1.2zM599.91 98.51h1.2v1.2h-1.2zM595.41 97.69h1.2v1.2h-1.2zM594.89 98.64h1.2v1.2h-1.2zM592.67 98.25h1.2v1.2h-1.2zM593.79 97.89h1.2v1.2h-1.2zM597.92 98.66h1.2v1.2h-1.2zM596.74 97.54h1.2v1.2h-1.2zM598.86 97.51h1.2v1.2h-1.2zM600.17 97.34h1.2v1.2h-1.2zM596.06 95.59h1.2v1.2h-1.2zM591.91 98.34h1.2v1.2h-1.2zM595.33 97.67h1.2v1.2h-1.2zM595.72 96.83h1.2v1.2h-1.2zM596.56 98.66h1.2v1.2h-1.2zM596.01 94.67h1.2v1.2h-1.2zM593.55 97.22h1.2v1.2h-1.2zM597.84 98.7h1.2v1.2h-1.2zM593.24 97.21h1.2v1.2h-1.2zM595.64 96.99h1.2v1.2h-1.2zM594.81 94.83h1.2v1.2h-1.2zM598.2 95.97h1.2v1.2h-1.2zM594.71 98.62h1.2v1.2h-1.2zM593 97.72h1.2v1.2h-1.2zM594.92 95.41h1.2v1.2h-1.2zM599.55 98.47h1.2v1.2h-1.2zM598.86 96.95h1.2v1.2h-1.2zM600.22 98.6h1.2v1.2h-1.2zM596.68 98.15h1.2v1.2h-1.2zM595.74 97.74h1.2v1.2h-1.2zM593.64 98.6h1.2v1.2h-1.2zM592.44 98.52h1.2v1.2h-1.2zM599.27 98.58h1.2v1.2h-1.2zM596.75 78.45h1.2v1.2h-1.2zM596.09 85.74h1.2v1.2h-1.2zM595.92 90.92h1.2v1.2h-1.2zM593.59 91.41h1.2v1.2h-1.2z"/>
<line x1="596.7" y1="99.3" x2="596.7" y2="100.7" stroke="#555" stroke-width="0.5"/>
<text transform="translate(599.9,104.9) rotate(-45)" font-size="5.74" text-anchor="end" fill="#222">Low</text>
<path d="M577.2 32.4V31.4H596.7V32.4" fill="none" stroke="#555" stroke-width="0.55"/>
<text x="586.95" y="30.1" font-size="5.54" text-anchor="middle" fill="#222"><tspan font-style="italic">P</tspan> = 0.004</text>
<text x="660.5" y="12.3" font-size="5.64" text-anchor="middle" font-weight="bold" fill="#000">CD4+ FOXP3+</text>
<line x1="638.5" y1="18.3" x2="638.5" y2="99.3" stroke="#a8a8a8" stroke-width="0.6"/>
<line x1="638.5" y1="99.3" x2="682" y2="99.3" stroke="#a0a0a0" stroke-width="0.6"/>
<line x1="636.9" y1="99.3" x2="638.5" y2="99.3" stroke="#555" stroke-width="0.5"/>
<text x="634.7" y="101.6" font-size="5.43" text-anchor="end" fill="#222">0</text>
<line x1="636.9" y1="79.05" x2="638.5" y2="79.05" stroke="#555" stroke-width="0.5"/>
<text x="634.7" y="81.35" font-size="5.43" text-anchor="end" fill="#222">100</text>
<line x1="636.9" y1="58.8" x2="638.5" y2="58.8" stroke="#555" stroke-width="0.5"/>
<text x="634.7" y="61.1" font-size="5.43" text-anchor="end" fill="#222">200</text>
<line x1="636.9" y1="38.55" x2="638.5" y2="38.55" stroke="#555" stroke-width="0.5"/>
<text x="634.7" y="40.85" font-size="5.43" text-anchor="end" fill="#222">300</text>
<line x1="636.9" y1="18.3" x2="638.5" y2="18.3" stroke="#555" stroke-width="0.5"/>
<text x="634.7" y="20.6" font-size="5.43" text-anchor="end" fill="#222">400</text>
<text transform="translate(615.9,58.8) rotate(-90)" font-size="5.64" text-anchor="middle" fill="#222">Density (cell/mm<tspan font-size="3.69" dy="-2">2</tspan><tspan dy="2">)</tspan></text>
<line x1="650.6" y1="73.99" x2="650.6" y2="99.3" stroke="#b8b8b8" stroke-width="0.6"/>
<rect x="643.5" y="83.1" width="14.2" height="11.54" fill="#d9707a" stroke="#9a4048" stroke-width="0.45"/>
<line x1="643.5" y1="90.59" x2="657.7" y2="90.59" stroke="#9a4048" stroke-width="0.8"/>
<path fill="#8a2b3c" fill-opacity="0.9" d="M649.84 97.09h1.2v1.2h-1.2zM652.73 84.07h1.2v1.2h-1.2zM650.62 98.21h1.2v1.2h-1.2zM650.53 93.49h1.2v1.2h-1.2zM646.35 77.77h1.2v1.2h-1.2zM646.46 95.67h1.2v1.2h-1.2zM653.91 85.54h1.2v1.2h-1.2zM652.16 82.73h1.2v1.2h-1.2zM649.56 90.51h1.2v1.2h-1.2zM651.18 96.17h1.2v1.2h-1.2zM653.78 85h1.2v1.2h-1.2zM651.91 83.76h1.2v1.2h-1.2zM646.63 90.98h1.2v1.2h-1.2zM652.2 89.13h1.2v1.2h-1.2zM651.58 90.55h1.2v1.2h-1.2zM650.48 96.4h1.2v1.2h-1.2zM650.21 90.08h1.2v1.2h-1.2zM648.94 90.36h1.2v1.2h-1.2zM646.22 91.24h1.2v1.2h-1.2zM652.54 90.08h1.2v1.2h-1.2zM653.38 89.12h1.2v1.2h-1.2zM650.16 77.07h1.2v1.2h-1.2zM650.35 94.8h1.2v1.2h-1.2zM653.68 95.11h1.2v1.2h-1.2zM648.66 78.77h1.2v1.2h-1.2zM645.87 94.52h1.2v1.2h-1.2zM647.82 82.77h1.2v1.2h-1.2zM647.92 79.17h1.2v1.2h-1.2zM650.6 76.98h1.2v1.2h-1.2zM648.2 93.28h1.2v1.2h-1.2zM652.68 90.74h1.2v1.2h-1.2zM645.99 92.9h1.2v1.2h-1.2zM653.85 83.4h1.2v1.2h-1.2zM648.62 77.17h1.2v1.2h-1.2zM649.75 86.93h1.2v1.2h-1.2zM649.37 84.21h1.2v1.2h-1.2zM646.37 75.93h1.2v1.2h-1.2zM649.52 92.31h1.2v1.2h-1.2zM647.35 82.2h1.2v1.2h-1.2zM646.81 97.63h1.2v1.2h-1.2zM646.91 86.26h1.2v1.2h-1.2zM648.02 94.59h1.2v1.2h-1.2zM652.84 94.72h1.2v1.2h-1.2zM651.94 97.33h1.2v1.2h-1.2zM649.9 78.43h1.2v1.2h-1.2zM648.06 90.38h1.2v1.2h-1.2zM650.88 89.93h1.2v1.2h-1.2zM650.22 81.26h1.2v1.2h-1.2zM647.81 96.15h1.2v1.2h-1.2zM647.91 88.64h1.2v1.2h-1.2zM648.05 94.32h1.2v1.2h-1.2zM652.92 85.71h1.2v1.2h-1.2zM652.51 94.31h1.2v1.2h-1.2zM650.03 83.88h1.2v1.2h-1.2zM653.03 91.64h1.2v1.2h-1.2zM651.43 47.06h1.2v1.2h-1.2z"/>
<line x1="650.6" y1="99.3" x2="650.6" y2="100.7" stroke="#555" stroke-width="0.5"/>
<text transform="translate(653.8,104.9) rotate(-45)" font-size="5.74" text-anchor="end" fill="#222">High</text>
<line x1="670.1" y1="84.11" x2="670.1" y2="99.3" stroke="#b8b8b8" stroke-width="0.6"/>
<rect x="663" y="92.82" width="14.2" height="5.87" fill="#6ab9e4" stroke="#2e6a8c" stroke-width="0.45"/>
<line x1="663" y1="96.26" x2="677.2" y2="96.26" stroke="#2e6a8c" stroke-width="0.8"/>
<path fill="#24587a" fill-opacity="0.9" d="M673.18 91.34h1.2v1.2h-1.2zM667.13 92.86h1.2v1.2h-1.2zM670.68 95.67h1.2v1.2h-1.2zM670.08 90.58h1.2v1.2h-1.2zM665.56 95.65h1.2v1.2h-1.2zM666.88 97.32h1.2v1.2h-1.2zM670.33 94.38h1.2v1.2h-1.2zM665.91 90.2h1.2v1.2h-1.2zM671.24 96.72h1.2v1.2h-1.2zM668.02 96.26h1.2v1.2h-1.2zM665.43 85.96h1.2v1.2h-1.2zM673.3 92.35h1.2v1.2h-1.2zM673.4 98.19h1.2v1.2h-1.2zM668.42 84.05h1.2v1.2h-1.2zM669.32 94.11h1.2v1.2h-1.2zM670.44 88.36h1.2v1.2h-1.2zM672.37 98.28h1.2v1.2h-1.2zM667.32 93.64h1.2v1.2h-1.2zM671.05 97.88h1.2v1.2h-1.2zM670.12 98.19h1.2v1.2h-1.2zM669.62 96.1h1.2v1.2h-1.2zM668.18 96.06h1.2v1.2h-1.2zM669.33 97.77h1.2v1.2h-1.2zM666.68 98.33h1.2v1.2h-1.2zM671.93 98.43h1.2v1.2h-1.2zM669.56 97.51h1.2v1.2h-1.2zM670.35 90h1.2v1.2h-1.2zM671.15 93.97h1.2v1.2h-1.2zM669.97 93.51h1.2v1.2h-1.2zM668.88 98.26h1.2v1.2h-1.2zM668.28 96.06h1.2v1.2h-1.2zM668.09 97.49h1.2v1.2h-1.2zM668.75 98.12h1.2v1.2h-1.2zM669.52 98.45h1.2v1.2h-1.2zM671.94 97.81h1.2v1.2h-1.2zM673.05 92.2h1.2v1.2h-1.2zM671.57 92.32h1.2v1.2h-1.2zM673.25 95.87h1.2v1.2h-1.2zM673.2 87.45h1.2v1.2h-1.2zM672.49 94.34h1.2v1.2h-1.2zM673.01 93.89h1.2v1.2h-1.2zM668.57 94.03h1.2v1.2h-1.2zM669.57 96.97h1.2v1.2h-1.2zM671.18 93.88h1.2v1.2h-1.2zM673.22 89.6h1.2v1.2h-1.2zM665.84 98.34h1.2v1.2h-1.2zM670.17 92.68h1.2v1.2h-1.2zM669.06 98.42h1.2v1.2h-1.2zM665.57 92.05h1.2v1.2h-1.2zM670.89 98.55h1.2v1.2h-1.2zM666.27 95.46h1.2v1.2h-1.2zM670.66 95.6h1.2v1.2h-1.2zM665.97 93.51h1.2v1.2h-1.2zM667.54 96.02h1.2v1.2h-1.2zM672.8 94.21h1.2v1.2h-1.2zM670.21 97.61h1.2v1.2h-1.2zM667.77 91.47h1.2v1.2h-1.2zM666.93 96.31h1.2v1.2h-1.2zM666.66 98.14h1.2v1.2h-1.2zM672.77 89.96h1.2v1.2h-1.2zM670.67 97.92h1.2v1.2h-1.2zM666.62 93.27h1.2v1.2h-1.2zM670.3 98.24h1.2v1.2h-1.2zM666.4 96.4h1.2v1.2h-1.2zM667.65 94.95h1.2v1.2h-1.2zM670.8 92.57h1.2v1.2h-1.2zM672.36 97.5h1.2v1.2h-1.2zM673.25 98.07h1.2v1.2h-1.2zM673.03 95.6h1.2v1.2h-1.2zM669.15 98.34h1.2v1.2h-1.2zM668.38 95.64h1.2v1.2h-1.2zM671.42 97.64h1.2v1.2h-1.2zM670.19 94.72h1.2v1.2h-1.2zM665.71 95.3h1.2v1.2h-1.2zM668.76 98.66h1.2v1.2h-1.2zM668.99 95.49h1.2v1.2h-1.2zM668.57 92.9h1.2v1.2h-1.2zM667.74 98.54h1.2v1.2h-1.2zM666.22 89.67h1.2v1.2h-1.2zM672.61 98.58h1.2v1.2h-1.2zM671.52 92.99h1.2v1.2h-1.2zM666.59 97.86h1.2v1.2h-1.2zM673.21 94.61h1.2v1.2h-1.2zM668.23 94.44h1.2v1.2h-1.2zM671.5 97.45h1.2v1.2h-1.2zM667.02 92.39h1.2v1.2h-1.2zM673.17 98.3h1.2v1.2h-1.2zM671.5 87.44h1.2v1.2h-1.2zM671.25 96.11h1.2v1.2h-1.2zM672.61 98.2h1.2v1.2h-1.2zM671.2 98.18h1.2v1.2h-1.2zM672.43 97.04h1.2v1.2h-1.2zM667.95 93.85h1.2v1.2h-1.2zM671.97 98.65h1.2v1.2h-1.2zM670.42 92.64h1.2v1.2h-1.2zM669.78 98.51h1.2v1.2h-1.2zM673.11 94.48h1.2v1.2h-1.2zM668.78 98.65h1.2v1.2h-1.2zM670.04 91.27h1.2v1.2h-1.2zM666.39 98.48h1.2v1.2h-1.2zM667.41 97h1.2v1.2h-1.2zM670.88 98.19h1.2v1.2h-1.2zM666.74 89.44h1.2v1.2h-1.2zM666.55 96.74h1.2v1.2h-1.2zM672.25 93.06h1.2v1.2h-1.2zM666.23 95.88h1.2v1.2h-1.2zM673.31 98.27h1.2v1.2h-1.2zM668.37 90.94h1.2v1.2h-1.2zM672.86 95.56h1.2v1.2h-1.2zM669.06 86.27h1.2v1.2h-1.2zM667.46 67.31h1.2v1.2h-1.2zM669.57 71.36h1.2v1.2h-1.2zM671.74 74.4h1.2v1.2h-1.2zM671.52 78.45h1.2v1.2h-1.2z"/>
<line x1="670.1" y1="99.3" x2="670.1" y2="100.7" stroke="#555" stroke-width="0.5"/>
<text transform="translate(673.3,104.9) rotate(-45)" font-size="5.74" text-anchor="end" fill="#222">Low</text>
<path d="M650.6 32.6V31.6H670.1V32.6" fill="none" stroke="#555" stroke-width="0.55"/>
<text x="660.35" y="30.3" font-size="5.54" text-anchor="middle" fill="#222"><tspan font-style="italic">P</tspan> &lt; 0.001</text>
<text x="513.5" y="130.2" font-size="5.64" text-anchor="middle" font-weight="bold" fill="#000">CD163+ CD68+ CD86-</text>
<line x1="491.5" y1="136.5" x2="491.5" y2="217.3" stroke="#a8a8a8" stroke-width="0.6"/>
<line x1="491.5" y1="217.3" x2="535" y2="217.3" stroke="#a0a0a0" stroke-width="0.6"/>
<line x1="489.9" y1="217.3" x2="491.5" y2="217.3" stroke="#555" stroke-width="0.5"/>
<text x="487.7" y="219.6" font-size="5.43" text-anchor="end" fill="#222">0</text>
<line x1="489.9" y1="190.37" x2="491.5" y2="190.37" stroke="#555" stroke-width="0.5"/>
<text x="487.7" y="192.67" font-size="5.43" text-anchor="end" fill="#222">500</text>
<line x1="489.9" y1="163.43" x2="491.5" y2="163.43" stroke="#555" stroke-width="0.5"/>
<text x="487.7" y="165.73" font-size="5.43" text-anchor="end" fill="#222">1000</text>
<line x1="489.9" y1="136.5" x2="491.5" y2="136.5" stroke="#555" stroke-width="0.5"/>
<text x="487.7" y="138.8" font-size="5.43" text-anchor="end" fill="#222">1500</text>
<text transform="translate(468.9,176.9) rotate(-90)" font-size="5.64" text-anchor="middle" fill="#222">Density (cell/mm<tspan font-size="3.69" dy="-2">2</tspan><tspan dy="2">)</tspan></text>
<line x1="503.6" y1="156.97" x2="503.6" y2="217.3" stroke="#b8b8b8" stroke-width="0.6"/>
<rect x="496.5" y="186.6" width="14.2" height="24.78" fill="#d9707a" stroke="#9a4048" stroke-width="0.45"/>
<line x1="496.5" y1="201.14" x2="510.7" y2="201.14" stroke="#9a4048" stroke-width="0.8"/>
<path fill="#8a2b3c" fill-opacity="0.9" d="M505.21 184.03h1.2v1.2h-1.2zM502.76 197.27h1.2v1.2h-1.2zM501.73 209.79h1.2v1.2h-1.2zM503.17 190.98h1.2v1.2h-1.2zM505.46 181.52h1.2v1.2h-1.2zM503.4 193.87h1.2v1.2h-1.2zM504.18 194.55h1.2v1.2h-1.2zM500.5 197.73h1.2v1.2h-1.2zM504.01 214.47h1.2v1.2h-1.2zM500.69 179.94h1.2v1.2h-1.2zM506.88 204.22h1.2v1.2h-1.2zM503.46 207.51h1.2v1.2h-1.2zM499.95 195.79h1.2v1.2h-1.2zM505.84 211.93h1.2v1.2h-1.2zM500.1 205.67h1.2v1.2h-1.2zM503.89 200.9h1.2v1.2h-1.2zM503.93 197.48h1.2v1.2h-1.2zM499.47 184.6h1.2v1.2h-1.2zM505.11 195.91h1.2v1.2h-1.2zM505.03 196.65h1.2v1.2h-1.2zM507.17 213.91h1.2v1.2h-1.2zM504.58 209.72h1.2v1.2h-1.2zM503.26 206.86h1.2v1.2h-1.2zM501.2 190.82h1.2v1.2h-1.2zM500.28 207.04h1.2v1.2h-1.2zM504.68 196.23h1.2v1.2h-1.2zM506.59 196.91h1.2v1.2h-1.2zM505.66 210.23h1.2v1.2h-1.2zM502.02 202.34h1.2v1.2h-1.2zM501.25 157.07h1.2v1.2h-1.2zM501.46 181.87h1.2v1.2h-1.2zM499.41 216.67h1.2v1.2h-1.2zM499.26 216.69h1.2v1.2h-1.2zM506.22 192.16h1.2v1.2h-1.2zM501 201.54h1.2v1.2h-1.2zM500.5 215.05h1.2v1.2h-1.2zM505.2 202.53h1.2v1.2h-1.2zM506.59 209.45h1.2v1.2h-1.2zM503.87 190.4h1.2v1.2h-1.2zM503.05 183.03h1.2v1.2h-1.2zM503.1 202.97h1.2v1.2h-1.2zM506.67 191.12h1.2v1.2h-1.2zM503.97 196.98h1.2v1.2h-1.2zM503.35 215.33h1.2v1.2h-1.2zM503.04 197h1.2v1.2h-1.2zM506.85 191.13h1.2v1.2h-1.2zM505.79 200.21h1.2v1.2h-1.2zM506.15 195.55h1.2v1.2h-1.2zM499.02 208.62h1.2v1.2h-1.2zM503.99 185.99h1.2v1.2h-1.2zM501.95 204.13h1.2v1.2h-1.2zM501.26 194.64h1.2v1.2h-1.2zM506.88 199.12h1.2v1.2h-1.2zM504.78 196.72h1.2v1.2h-1.2zM506.63 207.06h1.2v1.2h-1.2zM500.97 138.59h1.2v1.2h-1.2zM499.08 154.21h1.2v1.2h-1.2z"/>
<line x1="503.6" y1="217.3" x2="503.6" y2="218.7" stroke="#555" stroke-width="0.5"/>
<text transform="translate(506.8,222.9) rotate(-45)" font-size="5.74" text-anchor="end" fill="#222">High</text>
<line x1="523.1" y1="161.28" x2="523.1" y2="217.3" stroke="#b8b8b8" stroke-width="0.6"/>
<rect x="516" y="193.33" width="14.2" height="23.05" fill="#6ab9e4" stroke="#2e6a8c" stroke-width="0.45"/>
<line x1="516" y1="207.33" x2="530.2" y2="207.33" stroke="#2e6a8c" stroke-width="0.8"/>
<path fill="#24587a" fill-opacity="0.9" d="M520.41 211.09h1.2v1.2h-1.2zM520.35 201.51h1.2v1.2h-1.2zM524.7 203.57h1.2v1.2h-1.2zM518.73 185.48h1.2v1.2h-1.2zM522.03 214.73h1.2v1.2h-1.2zM520.88 201.36h1.2v1.2h-1.2zM521.69 201.25h1.2v1.2h-1.2zM520.82 196.26h1.2v1.2h-1.2zM524.74 174.43h1.2v1.2h-1.2zM522.26 215.95h1.2v1.2h-1.2zM524.76 210.57h1.2v1.2h-1.2zM519.5 185.38h1.2v1.2h-1.2zM522.85 209.96h1.2v1.2h-1.2zM520.28 203.13h1.2v1.2h-1.2zM522.2 216.28h1.2v1.2h-1.2zM526.32 166.67h1.2v1.2h-1.2zM518.49 198.09h1.2v1.2h-1.2zM519.87 216.41h1.2v1.2h-1.2zM524.13 183.98h1.2v1.2h-1.2zM524.35 216.61h1.2v1.2h-1.2zM519.69 204.25h1.2v1.2h-1.2zM522.58 196.62h1.2v1.2h-1.2zM521.52 192.47h1.2v1.2h-1.2zM520.78 207.41h1.2v1.2h-1.2zM525.45 185.62h1.2v1.2h-1.2zM522.43 213.56h1.2v1.2h-1.2zM525.81 216.26h1.2v1.2h-1.2zM523.72 215.86h1.2v1.2h-1.2zM520.71 216.58h1.2v1.2h-1.2zM525.23 198.27h1.2v1.2h-1.2zM518.48 194.44h1.2v1.2h-1.2zM526.24 190.05h1.2v1.2h-1.2zM519.1 179.77h1.2v1.2h-1.2zM525.99 199.49h1.2v1.2h-1.2zM518.78 216.08h1.2v1.2h-1.2zM519.78 168.92h1.2v1.2h-1.2zM520.81 209.32h1.2v1.2h-1.2zM526.01 216.32h1.2v1.2h-1.2zM521.82 209.73h1.2v1.2h-1.2zM525.5 215.34h1.2v1.2h-1.2zM520.6 195.08h1.2v1.2h-1.2zM524.76 197.22h1.2v1.2h-1.2zM522.61 196.18h1.2v1.2h-1.2zM524.85 200.68h1.2v1.2h-1.2zM523.78 198.71h1.2v1.2h-1.2zM524.51 206.16h1.2v1.2h-1.2zM519.69 206.46h1.2v1.2h-1.2zM519.39 181.38h1.2v1.2h-1.2zM519.26 193.2h1.2v1.2h-1.2zM525.7 201.92h1.2v1.2h-1.2zM523.11 187.9h1.2v1.2h-1.2zM519.99 176.77h1.2v1.2h-1.2zM521.95 193.27h1.2v1.2h-1.2zM524.43 189.93h1.2v1.2h-1.2zM523.57 216.23h1.2v1.2h-1.2zM524.14 205.68h1.2v1.2h-1.2zM524.42 215.98h1.2v1.2h-1.2zM525.56 181.55h1.2v1.2h-1.2zM521.8 201.1h1.2v1.2h-1.2zM520.17 208.54h1.2v1.2h-1.2zM526.1 201.81h1.2v1.2h-1.2zM525.79 192.91h1.2v1.2h-1.2zM520.82 215.99h1.2v1.2h-1.2zM524.61 216.53h1.2v1.2h-1.2zM523.02 199.93h1.2v1.2h-1.2zM523.95 200.65h1.2v1.2h-1.2zM525.69 216.1h1.2v1.2h-1.2zM522.42 193.63h1.2v1.2h-1.2zM524.92 184.54h1.2v1.2h-1.2zM521.04 209.96h1.2v1.2h-1.2zM524.2 206.76h1.2v1.2h-1.2zM521.52 186.9h1.2v1.2h-1.2zM526.41 175.81h1.2v1.2h-1.2zM519.14 200.32h1.2v1.2h-1.2zM521.34 195.03h1.2v1.2h-1.2zM522.11 215.96h1.2v1.2h-1.2zM519.97 202.2h1.2v1.2h-1.2zM521.9 213.12h1.2v1.2h-1.2zM520.93 205.92h1.2v1.2h-1.2zM523.05 216.02h1.2v1.2h-1.2zM520.36 199.03h1.2v1.2h-1.2zM520.2 210.05h1.2v1.2h-1.2zM518.94 209.52h1.2v1.2h-1.2zM520.67 216.4h1.2v1.2h-1.2zM519.01 195.46h1.2v1.2h-1.2zM524.02 216.45h1.2v1.2h-1.2zM523.73 216.35h1.2v1.2h-1.2zM523.29 198.32h1.2v1.2h-1.2zM523.43 193.35h1.2v1.2h-1.2zM524.89 212.25h1.2v1.2h-1.2zM526.13 198.01h1.2v1.2h-1.2zM525.63 206.05h1.2v1.2h-1.2zM526.08 215.41h1.2v1.2h-1.2zM519.63 215.34h1.2v1.2h-1.2zM523.32 199.95h1.2v1.2h-1.2zM524.78 181.05h1.2v1.2h-1.2zM524.29 207.2h1.2v1.2h-1.2zM522.84 210.4h1.2v1.2h-1.2zM520.73 197.57h1.2v1.2h-1.2zM526.53 202.82h1.2v1.2h-1.2zM518.43 209.67h1.2v1.2h-1.2zM518.8 211.53h1.2v1.2h-1.2zM523.54 204.39h1.2v1.2h-1.2zM522.07 188.11h1.2v1.2h-1.2zM524.35 216.39h1.2v1.2h-1.2zM519.01 213.6h1.2v1.2h-1.2zM526.13 192.97h1.2v1.2h-1.2zM524.94 216.26h1.2v1.2h-1.2zM524.18 211.42h1.2v1.2h-1.2zM525.76 216.44h1.2v1.2h-1.2zM521.7 137.52h1.2v1.2h-1.2zM520.87 157.45h1.2v1.2h-1.2z"/>
<line x1="523.1" y1="217.3" x2="523.1" y2="218.7" stroke="#555" stroke-width="0.5"/>
<text transform="translate(526.3,222.9) rotate(-45)" font-size="5.74" text-anchor="end" fill="#222">Low</text>
<path d="M503.6 148.6V147.6H523.1V148.6" fill="none" stroke="#555" stroke-width="0.55"/>
<text x="513.35" y="146.3" font-size="5.54" text-anchor="middle" fill="#222"><tspan font-style="italic">P</tspan> = 0.008</text>
<text x="587.1" y="130.2" font-size="5.64" text-anchor="middle" font-weight="bold" fill="#000">CD163- CD68+ CD86+</text>
<line x1="565.1" y1="136.5" x2="565.1" y2="217.3" stroke="#a8a8a8" stroke-width="0.6"/>
<line x1="565.1" y1="217.3" x2="608.6" y2="217.3" stroke="#a0a0a0" stroke-width="0.6"/>
<line x1="563.5" y1="217.3" x2="565.1" y2="217.3" stroke="#555" stroke-width="0.5"/>
<text x="561.3" y="219.6" font-size="5.43" text-anchor="end" fill="#222">0</text>
<line x1="563.5" y1="190.37" x2="565.1" y2="190.37" stroke="#555" stroke-width="0.5"/>
<text x="561.3" y="192.67" font-size="5.43" text-anchor="end" fill="#222">500</text>
<line x1="563.5" y1="163.43" x2="565.1" y2="163.43" stroke="#555" stroke-width="0.5"/>
<text x="561.3" y="165.73" font-size="5.43" text-anchor="end" fill="#222">1000</text>
<line x1="563.5" y1="136.5" x2="565.1" y2="136.5" stroke="#555" stroke-width="0.5"/>
<text x="561.3" y="138.8" font-size="5.43" text-anchor="end" fill="#222">1500</text>
<text transform="translate(542.5,176.9) rotate(-90)" font-size="5.64" text-anchor="middle" fill="#222">Density (cell/mm<tspan font-size="3.69" dy="-2">2</tspan><tspan dy="2">)</tspan></text>
<line x1="577.2" y1="182.29" x2="577.2" y2="217.3" stroke="#b8b8b8" stroke-width="0.6"/>
<rect x="570.1" y="198.23" width="14.2" height="16.27" fill="#d9707a" stroke="#9a4048" stroke-width="0.45"/>
<line x1="570.1" y1="210.51" x2="584.3" y2="210.51" stroke="#9a4048" stroke-width="0.8"/>
<path fill="#8a2b3c" fill-opacity="0.9" d="M577.21 215.61h1.2v1.2h-1.2zM579.01 205.3h1.2v1.2h-1.2zM575.21 215.41h1.2v1.2h-1.2zM578.59 200.21h1.2v1.2h-1.2zM574.18 192.4h1.2v1.2h-1.2zM576.13 209.76h1.2v1.2h-1.2zM579.92 199.44h1.2v1.2h-1.2zM575.72 209.6h1.2v1.2h-1.2zM576.93 215.67h1.2v1.2h-1.2zM575.7 186.61h1.2v1.2h-1.2zM575.31 204.97h1.2v1.2h-1.2zM572.65 199.4h1.2v1.2h-1.2zM578.69 194.31h1.2v1.2h-1.2zM580.14 202.87h1.2v1.2h-1.2zM579.64 188.44h1.2v1.2h-1.2zM575.71 204.63h1.2v1.2h-1.2zM574.48 214.99h1.2v1.2h-1.2zM578.41 215.83h1.2v1.2h-1.2zM576.57 199.89h1.2v1.2h-1.2zM577.28 209.4h1.2v1.2h-1.2zM576.14 199.17h1.2v1.2h-1.2zM579.1 208.47h1.2v1.2h-1.2zM576.84 199.81h1.2v1.2h-1.2zM573.22 205.79h1.2v1.2h-1.2zM576.12 216.36h1.2v1.2h-1.2zM577.8 199.17h1.2v1.2h-1.2zM580.17 184.24h1.2v1.2h-1.2zM575.1 208.82h1.2v1.2h-1.2zM577.94 199.03h1.2v1.2h-1.2zM575.32 213.76h1.2v1.2h-1.2zM576.39 208.18h1.2v1.2h-1.2zM580.12 191.02h1.2v1.2h-1.2zM576.79 216.55h1.2v1.2h-1.2zM575.15 214.28h1.2v1.2h-1.2zM575.94 201h1.2v1.2h-1.2zM576.21 208.81h1.2v1.2h-1.2zM577.26 216.31h1.2v1.2h-1.2zM580.41 203.37h1.2v1.2h-1.2zM579.77 206.23h1.2v1.2h-1.2zM573.45 209.06h1.2v1.2h-1.2zM577.2 196.8h1.2v1.2h-1.2zM580.45 195.72h1.2v1.2h-1.2zM578.71 201.13h1.2v1.2h-1.2zM572.64 203h1.2v1.2h-1.2zM573.29 200.53h1.2v1.2h-1.2zM577.71 193.18h1.2v1.2h-1.2zM580.02 185.64h1.2v1.2h-1.2zM579.31 198.47h1.2v1.2h-1.2zM578.75 206.14h1.2v1.2h-1.2zM578.8 211.23h1.2v1.2h-1.2zM576.09 204.06h1.2v1.2h-1.2zM575.89 198.89h1.2v1.2h-1.2zM575.32 197.11h1.2v1.2h-1.2zM580.47 200.25h1.2v1.2h-1.2zM574.86 190.35h1.2v1.2h-1.2zM573.29 136.98h1.2v1.2h-1.2zM577.68 146.67h1.2v1.2h-1.2zM580.33 159.6h1.2v1.2h-1.2zM576.65 169.84h1.2v1.2h-1.2zM577.22 173.61h1.2v1.2h-1.2zM577.46 178.99h1.2v1.2h-1.2z"/>
<line x1="577.2" y1="217.3" x2="577.2" y2="218.7" stroke="#555" stroke-width="0.5"/>
<text transform="translate(580.4,222.9) rotate(-45)" font-size="5.74" text-anchor="end" fill="#222">High</text>
<line x1="596.7" y1="194.68" x2="596.7" y2="217.3" stroke="#b8b8b8" stroke-width="0.6"/>
<rect x="589.6" y="208.3" width="14.2" height="8.62" fill="#6ab9e4" stroke="#2e6a8c" stroke-width="0.45"/>
<line x1="589.6" y1="214.23" x2="603.8" y2="214.23" stroke="#2e6a8c" stroke-width="0.8"/>
<path fill="#24587a" fill-opacity="0.9" d="M593.25 216.62h1.2v1.2h-1.2zM594.58 212.32h1.2v1.2h-1.2zM596.97 211.29h1.2v1.2h-1.2zM595.64 216.49h1.2v1.2h-1.2zM599.16 214.45h1.2v1.2h-1.2zM593.85 208.83h1.2v1.2h-1.2zM594.35 216.65h1.2v1.2h-1.2zM595.25 209.32h1.2v1.2h-1.2zM595.28 215.08h1.2v1.2h-1.2zM599.45 214.91h1.2v1.2h-1.2zM593.68 216.42h1.2v1.2h-1.2zM592.93 201.32h1.2v1.2h-1.2zM596.66 211.69h1.2v1.2h-1.2zM593.44 216.34h1.2v1.2h-1.2zM598.59 208.38h1.2v1.2h-1.2zM597.69 216.58h1.2v1.2h-1.2zM594.15 216.33h1.2v1.2h-1.2zM598.23 196.9h1.2v1.2h-1.2zM599.97 216.44h1.2v1.2h-1.2zM592.53 210.76h1.2v1.2h-1.2zM597.07 216.54h1.2v1.2h-1.2zM592.83 206.93h1.2v1.2h-1.2zM598.61 210.31h1.2v1.2h-1.2zM595.63 211.19h1.2v1.2h-1.2zM596.45 212.81h1.2v1.2h-1.2zM594.66 203.62h1.2v1.2h-1.2zM597.24 211.87h1.2v1.2h-1.2zM592.33 212.7h1.2v1.2h-1.2zM592.58 209.28h1.2v1.2h-1.2zM595.41 209.95h1.2v1.2h-1.2zM595.88 214.31h1.2v1.2h-1.2zM592.2 213.78h1.2v1.2h-1.2zM595.16 209.92h1.2v1.2h-1.2zM592.11 204.88h1.2v1.2h-1.2zM600.1 213.06h1.2v1.2h-1.2zM595.48 216.35h1.2v1.2h-1.2zM598.26 198.54h1.2v1.2h-1.2zM593.18 205.81h1.2v1.2h-1.2zM594.13 212.89h1.2v1.2h-1.2zM597.76 216.36h1.2v1.2h-1.2zM595.13 214.36h1.2v1.2h-1.2zM596.4 208.62h1.2v1.2h-1.2zM599.16 216.63h1.2v1.2h-1.2zM596.51 216.68h1.2v1.2h-1.2zM599.52 213.64h1.2v1.2h-1.2zM594.41 199.19h1.2v1.2h-1.2zM597.32 216.68h1.2v1.2h-1.2zM593.17 216.45h1.2v1.2h-1.2zM593.01 216.61h1.2v1.2h-1.2zM595.39 216.58h1.2v1.2h-1.2zM597.84 210.29h1.2v1.2h-1.2zM596.13 209.48h1.2v1.2h-1.2zM593.05 206.23h1.2v1.2h-1.2zM597.1 216.62h1.2v1.2h-1.2zM600.11 216.46h1.2v1.2h-1.2zM599.69 216.46h1.2v1.2h-1.2zM593 204.57h1.2v1.2h-1.2zM594.59 211.85h1.2v1.2h-1.2zM594.63 209.65h1.2v1.2h-1.2zM595.14 211.13h1.2v1.2h-1.2zM597.79 196.68h1.2v1.2h-1.2zM599.11 207.7h1.2v1.2h-1.2zM593.18 201.1h1.2v1.2h-1.2zM597.96 212.68h1.2v1.2h-1.2zM599.96 194.5h1.2v1.2h-1.2zM599.83 209.22h1.2v1.2h-1.2zM596.46 212.12h1.2v1.2h-1.2zM593.42 214.72h1.2v1.2h-1.2zM597.94 215.54h1.2v1.2h-1.2zM598.85 207.36h1.2v1.2h-1.2zM593.33 216.64h1.2v1.2h-1.2zM594.19 216.61h1.2v1.2h-1.2zM599.3 211.04h1.2v1.2h-1.2zM597.11 216.48h1.2v1.2h-1.2zM592.64 216.43h1.2v1.2h-1.2zM599.75 201.99h1.2v1.2h-1.2zM595.89 212.99h1.2v1.2h-1.2zM597.56 211.93h1.2v1.2h-1.2zM597.49 216.46h1.2v1.2h-1.2zM593.48 216.66h1.2v1.2h-1.2zM595.49 205.25h1.2v1.2h-1.2zM595.05 208.2h1.2v1.2h-1.2zM596.89 216.45h1.2v1.2h-1.2zM598.85 202.98h1.2v1.2h-1.2zM597.06 211.28h1.2v1.2h-1.2zM596.2 212.78h1.2v1.2h-1.2zM594.03 204.18h1.2v1.2h-1.2zM596.72 203.74h1.2v1.2h-1.2zM600.25 207.82h1.2v1.2h-1.2zM591.98 214.26h1.2v1.2h-1.2zM596.85 213.01h1.2v1.2h-1.2zM594.71 213.38h1.2v1.2h-1.2zM593.13 216.41h1.2v1.2h-1.2zM594.92 203.01h1.2v1.2h-1.2zM592.17 211.4h1.2v1.2h-1.2zM592 216.42h1.2v1.2h-1.2zM596.89 208.63h1.2v1.2h-1.2zM594.94 210.17h1.2v1.2h-1.2zM596.44 216.4h1.2v1.2h-1.2zM599.55 216.34h1.2v1.2h-1.2zM595.31 208.51h1.2v1.2h-1.2zM595.29 213.87h1.2v1.2h-1.2zM600.27 195.43h1.2v1.2h-1.2zM596.24 208.25h1.2v1.2h-1.2zM591.96 214.08h1.2v1.2h-1.2zM592.06 208.88h1.2v1.2h-1.2zM595.34 213.31h1.2v1.2h-1.2zM593.93 208.27h1.2v1.2h-1.2zM594.58 210.1h1.2v1.2h-1.2zM596.74 212.33h1.2v1.2h-1.2zM597.54 157.45h1.2v1.2h-1.2zM594.12 166.6h1.2v1.2h-1.2zM596.76 177.92h1.2v1.2h-1.2zM598.74 184.38h1.2v1.2h-1.2z"/>
<line x1="596.7" y1="217.3" x2="596.7" y2="218.7" stroke="#555" stroke-width="0.5"/>
<text transform="translate(599.9,222.9) rotate(-45)" font-size="5.74" text-anchor="end" fill="#222">Low</text>
<path d="M577.2 149.3V148.3H596.7V149.3" fill="none" stroke="#555" stroke-width="0.55"/>
<text x="586.95" y="147" font-size="5.54" text-anchor="middle" fill="#222"><tspan font-style="italic">P</tspan> &lt; 0.001</text>
<text x="660.5" y="130.2" font-size="5.64" text-anchor="middle" font-weight="bold" fill="#000">FAP+</text>
<line x1="638.5" y1="136.5" x2="638.5" y2="217.3" stroke="#a8a8a8" stroke-width="0.6"/>
<line x1="638.5" y1="217.3" x2="682" y2="217.3" stroke="#a0a0a0" stroke-width="0.6"/>
<line x1="636.9" y1="217.3" x2="638.5" y2="217.3" stroke="#555" stroke-width="0.5"/>
<text x="634.7" y="219.6" font-size="5.43" text-anchor="end" fill="#222">0</text>
<line x1="636.9" y1="197.1" x2="638.5" y2="197.1" stroke="#555" stroke-width="0.5"/>
<text x="634.7" y="199.4" font-size="5.43" text-anchor="end" fill="#222">2500</text>
<line x1="636.9" y1="176.9" x2="638.5" y2="176.9" stroke="#555" stroke-width="0.5"/>
<text x="634.7" y="179.2" font-size="5.43" text-anchor="end" fill="#222">5000</text>
<line x1="636.9" y1="156.7" x2="638.5" y2="156.7" stroke="#555" stroke-width="0.5"/>
<text x="634.7" y="159" font-size="5.43" text-anchor="end" fill="#222">7500</text>
<line x1="636.9" y1="136.5" x2="638.5" y2="136.5" stroke="#555" stroke-width="0.5"/>
<text x="634.7" y="138.8" font-size="5.43" text-anchor="end" fill="#222">10,000</text>
<text transform="translate(615.9,176.9) rotate(-90)" font-size="5.64" text-anchor="middle" fill="#222">Density (cell/mm<tspan font-size="3.69" dy="-2">2</tspan><tspan dy="2">)</tspan></text>
<line x1="650.6" y1="160.74" x2="650.6" y2="210.84" stroke="#b8b8b8" stroke-width="0.6"/>
<rect x="643.5" y="175.36" width="14.2" height="24.56" fill="#d9707a" stroke="#9a4048" stroke-width="0.45"/>
<line x1="643.5" y1="185.79" x2="657.7" y2="185.79" stroke="#9a4048" stroke-width="0.8"/>
<path fill="#8a2b3c" fill-opacity="0.9" d="M647.85 175.37h1.2v1.2h-1.2zM653.37 198.38h1.2v1.2h-1.2zM652.91 209.57h1.2v1.2h-1.2zM647.28 185.78h1.2v1.2h-1.2zM649.56 188.63h1.2v1.2h-1.2zM648.09 204.31h1.2v1.2h-1.2zM653.61 170.54h1.2v1.2h-1.2zM652.2 194.17h1.2v1.2h-1.2zM646.15 191h1.2v1.2h-1.2zM648.8 194.55h1.2v1.2h-1.2zM646.02 205.22h1.2v1.2h-1.2zM650.36 192.47h1.2v1.2h-1.2zM648.23 209.3h1.2v1.2h-1.2zM654.11 188.1h1.2v1.2h-1.2zM652.19 200.46h1.2v1.2h-1.2zM648.97 185.58h1.2v1.2h-1.2zM652.31 174.76h1.2v1.2h-1.2zM653.15 192.77h1.2v1.2h-1.2zM653.74 199.65h1.2v1.2h-1.2zM648.73 184.5h1.2v1.2h-1.2zM649.01 203.88h1.2v1.2h-1.2zM650.46 176.22h1.2v1.2h-1.2zM648.59 197.58h1.2v1.2h-1.2zM646.92 203.16h1.2v1.2h-1.2zM653.19 207.31h1.2v1.2h-1.2zM650.43 209.06h1.2v1.2h-1.2zM648.32 181.75h1.2v1.2h-1.2zM645.95 191.34h1.2v1.2h-1.2zM653.78 190.7h1.2v1.2h-1.2zM647.2 174.76h1.2v1.2h-1.2zM649.42 174.92h1.2v1.2h-1.2zM653.97 186.49h1.2v1.2h-1.2zM646.98 200.76h1.2v1.2h-1.2zM649.21 206.15h1.2v1.2h-1.2zM648.6 206.73h1.2v1.2h-1.2zM647.4 200.48h1.2v1.2h-1.2zM650.4 202.3h1.2v1.2h-1.2zM653.35 201.86h1.2v1.2h-1.2zM647.09 172.82h1.2v1.2h-1.2zM648.46 175.27h1.2v1.2h-1.2zM653.31 190.76h1.2v1.2h-1.2zM649.55 179.56h1.2v1.2h-1.2zM646.12 210.1h1.2v1.2h-1.2zM648.67 194.65h1.2v1.2h-1.2zM653.54 206.37h1.2v1.2h-1.2zM650.61 165.44h1.2v1.2h-1.2zM653.94 173.48h1.2v1.2h-1.2zM646.33 195.01h1.2v1.2h-1.2zM646.87 175.1h1.2v1.2h-1.2zM653.06 164.01h1.2v1.2h-1.2zM647.6 186.11h1.2v1.2h-1.2zM647.76 198.56h1.2v1.2h-1.2zM649.53 186.74h1.2v1.2h-1.2zM651.54 178.67h1.2v1.2h-1.2zM645.99 194.44h1.2v1.2h-1.2z"/>
<line x1="650.6" y1="217.3" x2="650.6" y2="218.7" stroke="#555" stroke-width="0.5"/>
<text transform="translate(653.8,222.9) rotate(-45)" font-size="5.74" text-anchor="end" fill="#222">High</text>
<line x1="670.1" y1="165.59" x2="670.1" y2="217.3" stroke="#b8b8b8" stroke-width="0.6"/>
<rect x="663" y="186.27" width="14.2" height="20.36" fill="#6ab9e4" stroke="#2e6a8c" stroke-width="0.45"/>
<line x1="663" y1="197.75" x2="677.2" y2="197.75" stroke="#2e6a8c" stroke-width="0.8"/>
<path fill="#24587a" fill-opacity="0.9" d="M670.35 199.74h1.2v1.2h-1.2zM665.79 188.68h1.2v1.2h-1.2zM668.03 205.55h1.2v1.2h-1.2zM667.22 188.56h1.2v1.2h-1.2zM669.08 201.51h1.2v1.2h-1.2zM665.69 190.86h1.2v1.2h-1.2zM673.28 190.75h1.2v1.2h-1.2zM671.87 193.74h1.2v1.2h-1.2zM668.57 208.56h1.2v1.2h-1.2zM669.48 185.67h1.2v1.2h-1.2zM672.36 213.51h1.2v1.2h-1.2zM667.9 185.24h1.2v1.2h-1.2zM673.22 203.84h1.2v1.2h-1.2zM672.28 170.05h1.2v1.2h-1.2zM669.75 196h1.2v1.2h-1.2zM665.45 176.16h1.2v1.2h-1.2zM673.59 201.26h1.2v1.2h-1.2zM667.9 204.57h1.2v1.2h-1.2zM666.67 214.16h1.2v1.2h-1.2zM668.07 197.59h1.2v1.2h-1.2zM665.36 210.56h1.2v1.2h-1.2zM666.48 191.23h1.2v1.2h-1.2zM669.38 212.08h1.2v1.2h-1.2zM665.97 174.52h1.2v1.2h-1.2zM668.45 194.68h1.2v1.2h-1.2zM671.5 196.31h1.2v1.2h-1.2zM671.2 205.44h1.2v1.2h-1.2zM671.13 189.44h1.2v1.2h-1.2zM672.37 202.18h1.2v1.2h-1.2zM668.55 198.34h1.2v1.2h-1.2zM670.07 186.15h1.2v1.2h-1.2zM668.51 211.38h1.2v1.2h-1.2zM670.06 185.41h1.2v1.2h-1.2zM669.5 190.23h1.2v1.2h-1.2zM666.22 205.37h1.2v1.2h-1.2zM671.08 186.49h1.2v1.2h-1.2zM668.7 212.01h1.2v1.2h-1.2zM665.5 186.09h1.2v1.2h-1.2zM672.75 205.42h1.2v1.2h-1.2zM667.65 208.7h1.2v1.2h-1.2zM665.93 194.25h1.2v1.2h-1.2zM668.43 200.37h1.2v1.2h-1.2zM667.88 185.51h1.2v1.2h-1.2zM669.79 213.17h1.2v1.2h-1.2zM671.44 188.54h1.2v1.2h-1.2zM668.33 199.48h1.2v1.2h-1.2zM670.68 180.28h1.2v1.2h-1.2zM673.26 195.03h1.2v1.2h-1.2zM673.39 201.68h1.2v1.2h-1.2zM668.49 182.12h1.2v1.2h-1.2zM672.58 216.19h1.2v1.2h-1.2zM671.25 204.79h1.2v1.2h-1.2zM668.66 200.15h1.2v1.2h-1.2zM667.7 196.4h1.2v1.2h-1.2zM668.04 191.51h1.2v1.2h-1.2zM666.46 199.29h1.2v1.2h-1.2zM666.71 211.02h1.2v1.2h-1.2zM665.59 189.61h1.2v1.2h-1.2zM666.03 174.03h1.2v1.2h-1.2zM669.98 189.32h1.2v1.2h-1.2zM665.86 186.17h1.2v1.2h-1.2zM672.26 187.94h1.2v1.2h-1.2zM672.06 187.61h1.2v1.2h-1.2zM672.93 208.09h1.2v1.2h-1.2zM672.74 188.7h1.2v1.2h-1.2zM670.54 200.03h1.2v1.2h-1.2zM666.41 187.26h1.2v1.2h-1.2zM669.08 185.58h1.2v1.2h-1.2zM671.05 208.37h1.2v1.2h-1.2zM672.47 216.68h1.2v1.2h-1.2zM672.24 193.86h1.2v1.2h-1.2zM673.42 205.01h1.2v1.2h-1.2zM666 205.15h1.2v1.2h-1.2zM673.59 203.98h1.2v1.2h-1.2zM668.59 215.81h1.2v1.2h-1.2zM666.65 182.46h1.2v1.2h-1.2zM667.03 214.36h1.2v1.2h-1.2zM672.36 191.66h1.2v1.2h-1.2zM671.35 185.96h1.2v1.2h-1.2zM666.58 188.48h1.2v1.2h-1.2zM671.05 195.31h1.2v1.2h-1.2zM673.49 186.67h1.2v1.2h-1.2zM670.14 197.19h1.2v1.2h-1.2zM668.05 188.31h1.2v1.2h-1.2zM667.79 211.6h1.2v1.2h-1.2zM667.24 215.61h1.2v1.2h-1.2zM669.51 199.44h1.2v1.2h-1.2zM671.53 187.45h1.2v1.2h-1.2zM672.11 185.74h1.2v1.2h-1.2zM667.42 196.67h1.2v1.2h-1.2zM672.25 167.89h1.2v1.2h-1.2zM671.99 212.98h1.2v1.2h-1.2zM668.04 208.18h1.2v1.2h-1.2zM670.22 208.6h1.2v1.2h-1.2zM668.77 214.41h1.2v1.2h-1.2zM672.89 204.96h1.2v1.2h-1.2zM665.51 185.43h1.2v1.2h-1.2zM668.6 211.38h1.2v1.2h-1.2zM670 183.29h1.2v1.2h-1.2zM673.57 184.83h1.2v1.2h-1.2zM673.3 195.31h1.2v1.2h-1.2zM670.16 199.74h1.2v1.2h-1.2zM672.3 193.76h1.2v1.2h-1.2zM668.15 188.69h1.2v1.2h-1.2zM666.18 189.02h1.2v1.2h-1.2zM668.54 202.42h1.2v1.2h-1.2zM667.06 198.13h1.2v1.2h-1.2zM667.87 216.44h1.2v1.2h-1.2zM669.91 202.02h1.2v1.2h-1.2zM668.09 192.44h1.2v1.2h-1.2z"/>
<line x1="670.1" y1="217.3" x2="670.1" y2="218.7" stroke="#555" stroke-width="0.5"/>
<text transform="translate(673.3,222.9) rotate(-45)" font-size="5.74" text-anchor="end" fill="#222">Low</text>
<path d="M650.6 150.4V149.4H670.1V150.4" fill="none" stroke="#555" stroke-width="0.55"/>
<text x="660.35" y="148.1" font-size="5.54" text-anchor="middle" fill="#222"><tspan font-style="italic">P</tspan> &lt; 0.001</text>
<text x="513.5" y="248.3" font-size="5.64" text-anchor="middle" font-weight="bold" fill="#000">CD66B+</text>
<line x1="491.5" y1="254.3" x2="491.5" y2="335" stroke="#a8a8a8" stroke-width="0.6"/>
<line x1="491.5" y1="335" x2="535" y2="335" stroke="#a0a0a0" stroke-width="0.6"/>
<line x1="489.9" y1="335" x2="491.5" y2="335" stroke="#555" stroke-width="0.5"/>
<text x="487.7" y="337.3" font-size="5.43" text-anchor="end" fill="#222">0</text>
<line x1="489.9" y1="314.82" x2="491.5" y2="314.82" stroke="#555" stroke-width="0.5"/>
<text x="487.7" y="317.12" font-size="5.43" text-anchor="end" fill="#222">2500</text>
<line x1="489.9" y1="294.65" x2="491.5" y2="294.65" stroke="#555" stroke-width="0.5"/>
<text x="487.7" y="296.95" font-size="5.43" text-anchor="end" fill="#222">5000</text>
<line x1="489.9" y1="274.48" x2="491.5" y2="274.48" stroke="#555" stroke-width="0.5"/>
<text x="487.7" y="276.78" font-size="5.43" text-anchor="end" fill="#222">7500</text>
<line x1="489.9" y1="254.3" x2="491.5" y2="254.3" stroke="#555" stroke-width="0.5"/>
<text x="487.7" y="256.6" font-size="5.43" text-anchor="end" fill="#222">10,000</text>
<text transform="translate(468.9,294.65) rotate(-90)" font-size="5.64" text-anchor="middle" fill="#222">Density (cell/mm<tspan font-size="3.69" dy="-2">2</tspan><tspan dy="2">)</tspan></text>
<line x1="503.6" y1="301.99" x2="503.6" y2="335" stroke="#b8b8b8" stroke-width="0.6"/>
<rect x="496.5" y="316.08" width="14.2" height="12.82" fill="#d9707a" stroke="#9a4048" stroke-width="0.45"/>
<line x1="496.5" y1="323.09" x2="510.7" y2="323.09" stroke="#9a4048" stroke-width="0.8"/>
<path fill="#8a2b3c" fill-opacity="0.9" d="M503.8 318.92h1.2v1.2h-1.2zM502.09 309.6h1.2v1.2h-1.2zM500.53 307.74h1.2v1.2h-1.2zM505.99 306.4h1.2v1.2h-1.2zM503.39 334.07h1.2v1.2h-1.2zM504.12 332.59h1.2v1.2h-1.2zM499.67 317.19h1.2v1.2h-1.2zM506.23 330.61h1.2v1.2h-1.2zM503.1 313.13h1.2v1.2h-1.2zM502.31 326.64h1.2v1.2h-1.2zM501.65 330.69h1.2v1.2h-1.2zM506.51 327.15h1.2v1.2h-1.2zM501.02 331.5h1.2v1.2h-1.2zM506.44 322.45h1.2v1.2h-1.2zM500.97 333.34h1.2v1.2h-1.2zM500.47 315.74h1.2v1.2h-1.2zM503.32 315.58h1.2v1.2h-1.2zM506.04 321.7h1.2v1.2h-1.2zM506.53 314.57h1.2v1.2h-1.2zM500.05 313.33h1.2v1.2h-1.2zM504.81 319.17h1.2v1.2h-1.2zM504.74 314.99h1.2v1.2h-1.2zM500.99 320.69h1.2v1.2h-1.2zM506.74 326.02h1.2v1.2h-1.2zM498.94 316.69h1.2v1.2h-1.2zM504.85 302.78h1.2v1.2h-1.2zM504.46 331.34h1.2v1.2h-1.2zM501.95 318.55h1.2v1.2h-1.2zM506.85 328.96h1.2v1.2h-1.2zM499.3 322.73h1.2v1.2h-1.2zM500.87 334.31h1.2v1.2h-1.2zM503.74 307.93h1.2v1.2h-1.2zM504.59 316.96h1.2v1.2h-1.2zM503.98 315.71h1.2v1.2h-1.2zM507.1 322.83h1.2v1.2h-1.2zM501.95 327.78h1.2v1.2h-1.2zM505.98 325.01h1.2v1.2h-1.2zM503.34 333.9h1.2v1.2h-1.2zM504.87 322.15h1.2v1.2h-1.2zM503.62 314.48h1.2v1.2h-1.2zM501.48 319.79h1.2v1.2h-1.2zM500.77 328.42h1.2v1.2h-1.2zM502.15 328.8h1.2v1.2h-1.2zM498.81 330.91h1.2v1.2h-1.2zM505.34 309.18h1.2v1.2h-1.2zM502.57 330.01h1.2v1.2h-1.2zM499.78 328.75h1.2v1.2h-1.2zM499.43 332.5h1.2v1.2h-1.2zM507.14 317.84h1.2v1.2h-1.2zM502.01 314.96h1.2v1.2h-1.2zM503.17 310.85h1.2v1.2h-1.2zM505.49 317.87h1.2v1.2h-1.2zM505.5 313.37h1.2v1.2h-1.2zM505.04 309.24h1.2v1.2h-1.2zM499.18 331.65h1.2v1.2h-1.2zM504.33 284.37h1.2v1.2h-1.2zM505.27 285.98h1.2v1.2h-1.2zM499.56 292.44h1.2v1.2h-1.2z"/>
<line x1="503.6" y1="335" x2="503.6" y2="336.4" stroke="#555" stroke-width="0.5"/>
<text transform="translate(506.8,340.6) rotate(-45)" font-size="5.74" text-anchor="end" fill="#222">High</text>
<line x1="523.1" y1="317.25" x2="523.1" y2="335" stroke="#b8b8b8" stroke-width="0.6"/>
<rect x="516" y="327.49" width="14.2" height="6.1" fill="#6ab9e4" stroke="#2e6a8c" stroke-width="0.45"/>
<line x1="516" y1="331.53" x2="530.2" y2="331.53" stroke="#2e6a8c" stroke-width="0.8"/>
<path fill="#24587a" fill-opacity="0.9" d="M525.34 328.65h1.2v1.2h-1.2zM521.2 329.81h1.2v1.2h-1.2zM522.59 324.89h1.2v1.2h-1.2zM520.23 328.06h1.2v1.2h-1.2zM518.33 327.92h1.2v1.2h-1.2zM523.08 332.87h1.2v1.2h-1.2zM522.93 333.84h1.2v1.2h-1.2zM523.79 332.98h1.2v1.2h-1.2zM519.01 318.97h1.2v1.2h-1.2zM525.3 332.18h1.2v1.2h-1.2zM523.5 323.65h1.2v1.2h-1.2zM521.14 326.62h1.2v1.2h-1.2zM523.95 333.9h1.2v1.2h-1.2zM525.36 327.89h1.2v1.2h-1.2zM519.17 330.12h1.2v1.2h-1.2zM518.63 334.24h1.2v1.2h-1.2zM526.46 318.92h1.2v1.2h-1.2zM524.69 318.52h1.2v1.2h-1.2zM525.87 333.8h1.2v1.2h-1.2zM524.42 332.51h1.2v1.2h-1.2zM519.23 332.39h1.2v1.2h-1.2zM526.44 332.06h1.2v1.2h-1.2zM525.67 330.28h1.2v1.2h-1.2zM519.44 327.73h1.2v1.2h-1.2zM523.8 330.1h1.2v1.2h-1.2zM523.72 333.14h1.2v1.2h-1.2zM518.44 333.02h1.2v1.2h-1.2zM521.62 333.6h1.2v1.2h-1.2zM521.82 321.82h1.2v1.2h-1.2zM519.13 326.75h1.2v1.2h-1.2zM520.26 330.65h1.2v1.2h-1.2zM520.52 329.29h1.2v1.2h-1.2zM519.2 322.14h1.2v1.2h-1.2zM518.87 322.63h1.2v1.2h-1.2zM521.72 333.26h1.2v1.2h-1.2zM520.72 333.83h1.2v1.2h-1.2zM518.79 330.49h1.2v1.2h-1.2zM518.83 328.42h1.2v1.2h-1.2zM526.1 328.29h1.2v1.2h-1.2zM523.61 331.49h1.2v1.2h-1.2zM519.53 330.39h1.2v1.2h-1.2zM523.08 328.23h1.2v1.2h-1.2zM519.94 328.93h1.2v1.2h-1.2zM520.63 330.91h1.2v1.2h-1.2zM521.11 333.11h1.2v1.2h-1.2zM519.67 328.54h1.2v1.2h-1.2zM523.44 327.71h1.2v1.2h-1.2zM522.99 333.75h1.2v1.2h-1.2zM522.43 328.37h1.2v1.2h-1.2zM521.36 331.17h1.2v1.2h-1.2zM520.54 332.79h1.2v1.2h-1.2zM521.38 329.97h1.2v1.2h-1.2zM524.03 327.36h1.2v1.2h-1.2zM520.68 329.53h1.2v1.2h-1.2zM522.69 332.78h1.2v1.2h-1.2zM521.91 334.28h1.2v1.2h-1.2zM525.96 333.41h1.2v1.2h-1.2zM526.33 333.99h1.2v1.2h-1.2zM523.67 326.89h1.2v1.2h-1.2zM518.61 322.69h1.2v1.2h-1.2zM525.75 333.94h1.2v1.2h-1.2zM521.16 332.2h1.2v1.2h-1.2zM524.71 332.29h1.2v1.2h-1.2zM522.42 328.6h1.2v1.2h-1.2zM520.58 332.17h1.2v1.2h-1.2zM520.7 327.51h1.2v1.2h-1.2zM518.38 327.85h1.2v1.2h-1.2zM522.42 333.47h1.2v1.2h-1.2zM521.51 325.28h1.2v1.2h-1.2zM519.61 328.63h1.2v1.2h-1.2zM525.44 321.16h1.2v1.2h-1.2zM523.3 326.08h1.2v1.2h-1.2zM524.69 328.12h1.2v1.2h-1.2zM524.7 333.24h1.2v1.2h-1.2zM524.23 333.67h1.2v1.2h-1.2zM524.42 330.23h1.2v1.2h-1.2zM526.51 327.2h1.2v1.2h-1.2zM522.19 332.39h1.2v1.2h-1.2zM525.86 327.06h1.2v1.2h-1.2zM521.96 329.54h1.2v1.2h-1.2zM524.66 330.56h1.2v1.2h-1.2zM520.78 322.07h1.2v1.2h-1.2zM525.34 329.58h1.2v1.2h-1.2zM520.97 332.99h1.2v1.2h-1.2zM520.67 333.89h1.2v1.2h-1.2zM520.58 325.6h1.2v1.2h-1.2zM522.11 328.3h1.2v1.2h-1.2zM520.38 318.22h1.2v1.2h-1.2zM519.51 327.21h1.2v1.2h-1.2zM521.16 329.02h1.2v1.2h-1.2zM522.54 328.44h1.2v1.2h-1.2zM526.03 328.43h1.2v1.2h-1.2zM523.25 334.39h1.2v1.2h-1.2zM522.84 332.04h1.2v1.2h-1.2zM524.74 333.93h1.2v1.2h-1.2zM521.47 317.58h1.2v1.2h-1.2zM518.93 328.09h1.2v1.2h-1.2zM519.29 334.05h1.2v1.2h-1.2zM525.56 329.22h1.2v1.2h-1.2zM519.53 328.28h1.2v1.2h-1.2zM518.86 333.11h1.2v1.2h-1.2zM518.98 330.86h1.2v1.2h-1.2zM521.83 325.65h1.2v1.2h-1.2zM523.41 330.89h1.2v1.2h-1.2zM519.11 329.18h1.2v1.2h-1.2zM519.96 332.09h1.2v1.2h-1.2zM523.47 327.63h1.2v1.2h-1.2zM523.51 328.58h1.2v1.2h-1.2zM518.47 334.09h1.2v1.2h-1.2zM523.39 332.38h1.2v1.2h-1.2zM523.24 307.77h1.2v1.2h-1.2zM524.24 311h1.2v1.2h-1.2z"/>
<line x1="523.1" y1="335" x2="523.1" y2="336.4" stroke="#555" stroke-width="0.5"/>
<text transform="translate(526.3,340.6) rotate(-45)" font-size="5.74" text-anchor="end" fill="#222">Low</text>
<path d="M503.6 268.9V267.9H523.1V268.9" fill="none" stroke="#555" stroke-width="0.55"/>
<text x="513.35" y="266.6" font-size="5.54" text-anchor="middle" fill="#222"><tspan font-style="italic">P</tspan> &lt; 0.001</text>
<text x="587.1" y="248.3" font-size="5.64" text-anchor="middle" font-weight="bold" fill="#000">PDL1+</text>
<line x1="565.1" y1="254.3" x2="565.1" y2="335" stroke="#a8a8a8" stroke-width="0.6"/>
<line x1="565.1" y1="335" x2="608.6" y2="335" stroke="#a0a0a0" stroke-width="0.6"/>
<line x1="563.5" y1="335" x2="565.1" y2="335" stroke="#555" stroke-width="0.5"/>
<text x="561.3" y="337.3" font-size="5.43" text-anchor="end" fill="#222">0</text>
<line x1="563.5" y1="314.82" x2="565.1" y2="314.82" stroke="#555" stroke-width="0.5"/>
<text x="561.3" y="317.12" font-size="5.43" text-anchor="end" fill="#222">2500</text>
<line x1="563.5" y1="294.65" x2="565.1" y2="294.65" stroke="#555" stroke-width="0.5"/>
<text x="561.3" y="296.95" font-size="5.43" text-anchor="end" fill="#222">5000</text>
<line x1="563.5" y1="274.48" x2="565.1" y2="274.48" stroke="#555" stroke-width="0.5"/>
<text x="561.3" y="276.78" font-size="5.43" text-anchor="end" fill="#222">7500</text>
<line x1="563.5" y1="254.3" x2="565.1" y2="254.3" stroke="#555" stroke-width="0.5"/>
<text x="561.3" y="256.6" font-size="5.43" text-anchor="end" fill="#222">10,000</text>
<text transform="translate(542.5,294.65) rotate(-90)" font-size="5.64" text-anchor="middle" fill="#222">Density (cell/mm<tspan font-size="3.69" dy="-2">2</tspan><tspan dy="2">)</tspan></text>
<line x1="577.2" y1="291.95" x2="577.2" y2="335" stroke="#b8b8b8" stroke-width="0.6"/>
<rect x="570.1" y="313.07" width="14.2" height="17.72" fill="#d9707a" stroke="#9a4048" stroke-width="0.45"/>
<line x1="570.1" y1="325.19" x2="584.3" y2="325.19" stroke="#9a4048" stroke-width="0.8"/>
<path fill="#8a2b3c" fill-opacity="0.9" d="M574.78 322.57h1.2v1.2h-1.2zM577.88 331.29h1.2v1.2h-1.2zM574.99 325.36h1.2v1.2h-1.2zM575.82 303.85h1.2v1.2h-1.2zM573.53 331.97h1.2v1.2h-1.2zM579.66 310.93h1.2v1.2h-1.2zM580.13 333.97h1.2v1.2h-1.2zM577.29 324.28h1.2v1.2h-1.2zM574.62 333.24h1.2v1.2h-1.2zM579.14 316.43h1.2v1.2h-1.2zM580.45 316.73h1.2v1.2h-1.2zM577.39 313.57h1.2v1.2h-1.2zM578.49 312.88h1.2v1.2h-1.2zM579.86 325.43h1.2v1.2h-1.2zM573.8 332.47h1.2v1.2h-1.2zM579.12 322.99h1.2v1.2h-1.2zM573.47 310.75h1.2v1.2h-1.2zM577.61 329.76h1.2v1.2h-1.2zM580.42 333.6h1.2v1.2h-1.2zM576.07 317.16h1.2v1.2h-1.2zM578.55 315.42h1.2v1.2h-1.2zM574.44 316.88h1.2v1.2h-1.2zM573.75 308.52h1.2v1.2h-1.2zM574.3 331.89h1.2v1.2h-1.2zM572.72 315.8h1.2v1.2h-1.2zM574.8 328.46h1.2v1.2h-1.2zM579.27 326.58h1.2v1.2h-1.2zM573.13 320.48h1.2v1.2h-1.2zM578.22 330.49h1.2v1.2h-1.2zM577.3 334.14h1.2v1.2h-1.2zM574.01 317.62h1.2v1.2h-1.2zM575.63 315.18h1.2v1.2h-1.2zM579.85 316.76h1.2v1.2h-1.2zM575.8 319.3h1.2v1.2h-1.2zM578.33 318.91h1.2v1.2h-1.2zM579.08 317.87h1.2v1.2h-1.2zM579.37 322.88h1.2v1.2h-1.2zM576.78 331.26h1.2v1.2h-1.2zM575.87 334.03h1.2v1.2h-1.2zM574.6 306.12h1.2v1.2h-1.2zM575.72 323.49h1.2v1.2h-1.2zM573.52 330.92h1.2v1.2h-1.2zM576.18 317.09h1.2v1.2h-1.2zM579.96 332.84h1.2v1.2h-1.2zM578.45 329.46h1.2v1.2h-1.2zM580.31 306.26h1.2v1.2h-1.2zM576.9 334.12h1.2v1.2h-1.2zM572.69 333.47h1.2v1.2h-1.2zM575.64 299.01h1.2v1.2h-1.2zM580.02 310.71h1.2v1.2h-1.2zM578.4 333.53h1.2v1.2h-1.2zM574.34 308.56h1.2v1.2h-1.2zM580.64 320.41h1.2v1.2h-1.2zM577.19 331.12h1.2v1.2h-1.2zM575.41 331.89h1.2v1.2h-1.2zM574.4 281.34h1.2v1.2h-1.2z"/>
<line x1="577.2" y1="335" x2="577.2" y2="336.4" stroke="#555" stroke-width="0.5"/>
<text transform="translate(580.4,340.6) rotate(-45)" font-size="5.74" text-anchor="end" fill="#222">High</text>
<line x1="596.7" y1="320.47" x2="596.7" y2="335" stroke="#b8b8b8" stroke-width="0.6"/>
<rect x="589.6" y="329" width="14.2" height="5.76" fill="#6ab9e4" stroke="#2e6a8c" stroke-width="0.45"/>
<line x1="589.6" y1="332" x2="603.8" y2="332" stroke="#2e6a8c" stroke-width="0.8"/>
<path fill="#24587a" fill-opacity="0.9" d="M598.05 329.51h1.2v1.2h-1.2zM593.87 331.07h1.2v1.2h-1.2zM595.91 333.95h1.2v1.2h-1.2zM594.21 334.29h1.2v1.2h-1.2zM592.3 334.17h1.2v1.2h-1.2zM599.25 332.88h1.2v1.2h-1.2zM599.04 328.87h1.2v1.2h-1.2zM596.68 328.93h1.2v1.2h-1.2zM596.69 326.91h1.2v1.2h-1.2zM596.23 334.23h1.2v1.2h-1.2zM596.66 329.26h1.2v1.2h-1.2zM596.79 334.15h1.2v1.2h-1.2zM600.12 334.38h1.2v1.2h-1.2zM599.39 334.2h1.2v1.2h-1.2zM596.23 334.02h1.2v1.2h-1.2zM599.25 329.27h1.2v1.2h-1.2zM593.09 334.2h1.2v1.2h-1.2zM596.75 328.52h1.2v1.2h-1.2zM593.39 331.3h1.2v1.2h-1.2zM597.08 330.13h1.2v1.2h-1.2zM593.6 334.32h1.2v1.2h-1.2zM598.26 329.28h1.2v1.2h-1.2zM599.29 332.67h1.2v1.2h-1.2zM599.88 334.01h1.2v1.2h-1.2zM596.17 332.27h1.2v1.2h-1.2zM599.08 329.45h1.2v1.2h-1.2zM594.36 328.41h1.2v1.2h-1.2zM594.79 330.93h1.2v1.2h-1.2zM599.9 321.56h1.2v1.2h-1.2zM598.96 329.06h1.2v1.2h-1.2zM594.68 327.99h1.2v1.2h-1.2zM597.31 333.98h1.2v1.2h-1.2zM593.1 331.8h1.2v1.2h-1.2zM597.14 330.07h1.2v1.2h-1.2zM594.29 325.26h1.2v1.2h-1.2zM592.29 329.91h1.2v1.2h-1.2zM594.82 324.57h1.2v1.2h-1.2zM595.79 333.58h1.2v1.2h-1.2zM593.19 334.22h1.2v1.2h-1.2zM600.21 331.29h1.2v1.2h-1.2zM592.93 334.16h1.2v1.2h-1.2zM599.7 321.88h1.2v1.2h-1.2zM592.13 334.24h1.2v1.2h-1.2zM592 328.49h1.2v1.2h-1.2zM593.76 330.14h1.2v1.2h-1.2zM593.58 334.39h1.2v1.2h-1.2zM598.76 325.01h1.2v1.2h-1.2zM597.41 322.92h1.2v1.2h-1.2zM592.97 331.83h1.2v1.2h-1.2zM596.63 320.47h1.2v1.2h-1.2zM593.52 333.01h1.2v1.2h-1.2zM598.36 330.45h1.2v1.2h-1.2zM593.32 323.23h1.2v1.2h-1.2zM595.76 331.84h1.2v1.2h-1.2zM599.45 328.01h1.2v1.2h-1.2zM595 329.69h1.2v1.2h-1.2zM593.09 332.74h1.2v1.2h-1.2zM597.79 328.15h1.2v1.2h-1.2zM596.98 327.75h1.2v1.2h-1.2zM595.67 321.19h1.2v1.2h-1.2zM593.31 329.11h1.2v1.2h-1.2zM597.47 334.34h1.2v1.2h-1.2zM599.69 323.43h1.2v1.2h-1.2zM600.08 333.06h1.2v1.2h-1.2zM593.52 328.4h1.2v1.2h-1.2zM598.63 325.44h1.2v1.2h-1.2zM599.69 323.96h1.2v1.2h-1.2zM595.45 334.17h1.2v1.2h-1.2zM594.07 327.62h1.2v1.2h-1.2zM599.94 334.22h1.2v1.2h-1.2zM594.88 332.02h1.2v1.2h-1.2zM593.93 331.17h1.2v1.2h-1.2zM594.04 333.21h1.2v1.2h-1.2zM595.68 334.25h1.2v1.2h-1.2zM597.76 330.15h1.2v1.2h-1.2zM595.66 332.48h1.2v1.2h-1.2zM595.51 334.38h1.2v1.2h-1.2zM593.6 332.44h1.2v1.2h-1.2zM595.05 332.51h1.2v1.2h-1.2zM600.05 334.39h1.2v1.2h-1.2zM593.83 332.12h1.2v1.2h-1.2zM592.75 329.7h1.2v1.2h-1.2zM593.12 320.53h1.2v1.2h-1.2zM596.86 329.1h1.2v1.2h-1.2zM599.33 321.62h1.2v1.2h-1.2zM592.18 328.46h1.2v1.2h-1.2zM594.26 334.18h1.2v1.2h-1.2zM599.27 334.27h1.2v1.2h-1.2zM592.82 334.33h1.2v1.2h-1.2zM596.86 329.31h1.2v1.2h-1.2zM595.98 333.06h1.2v1.2h-1.2zM593.86 330.3h1.2v1.2h-1.2zM598 333.49h1.2v1.2h-1.2zM593.37 331.85h1.2v1.2h-1.2zM592.89 334.36h1.2v1.2h-1.2zM592.43 324.55h1.2v1.2h-1.2zM599.73 328.4h1.2v1.2h-1.2zM593.55 327.86h1.2v1.2h-1.2zM593.11 334.3h1.2v1.2h-1.2zM594.92 334.19h1.2v1.2h-1.2zM593.45 334.16h1.2v1.2h-1.2zM595.76 322.06h1.2v1.2h-1.2zM592.47 328.37h1.2v1.2h-1.2zM593.68 328.65h1.2v1.2h-1.2zM597.68 334.25h1.2v1.2h-1.2zM596.63 333.77h1.2v1.2h-1.2zM599.29 329.06h1.2v1.2h-1.2zM592.71 334.36h1.2v1.2h-1.2zM597.21 328.39h1.2v1.2h-1.2zM595.9 329.78h1.2v1.2h-1.2zM594.42 294.05h1.2v1.2h-1.2zM595.25 302.93h1.2v1.2h-1.2zM599.05 318.26h1.2v1.2h-1.2z"/>
<line x1="596.7" y1="335" x2="596.7" y2="336.4" stroke="#555" stroke-width="0.5"/>
<text transform="translate(599.9,340.6) rotate(-45)" font-size="5.74" text-anchor="end" fill="#222">Low</text>
<path d="M577.2 268.9V267.9H596.7V268.9" fill="none" stroke="#555" stroke-width="0.55"/>
<text x="586.95" y="266.6" font-size="5.54" text-anchor="middle" fill="#222"><tspan font-style="italic">P</tspan> &lt; 0.001</text>
<text x="660.5" y="248.3" font-size="5.64" text-anchor="middle" font-weight="bold" fill="#000">TIGIT+</text>
<line x1="638.5" y1="254.3" x2="638.5" y2="335" stroke="#a8a8a8" stroke-width="0.6"/>
<line x1="638.5" y1="335" x2="682" y2="335" stroke="#a0a0a0" stroke-width="0.6"/>
<line x1="636.9" y1="335" x2="638.5" y2="335" stroke="#555" stroke-width="0.5"/>
<text x="634.7" y="337.3" font-size="5.43" text-anchor="end" fill="#222">0</text>
<line x1="636.9" y1="318.86" x2="638.5" y2="318.86" stroke="#555" stroke-width="0.5"/>
<text x="634.7" y="321.16" font-size="5.43" text-anchor="end" fill="#222">1000</text>
<line x1="636.9" y1="302.72" x2="638.5" y2="302.72" stroke="#555" stroke-width="0.5"/>
<text x="634.7" y="305.02" font-size="5.43" text-anchor="end" fill="#222">2000</text>
<line x1="636.9" y1="286.58" x2="638.5" y2="286.58" stroke="#555" stroke-width="0.5"/>
<text x="634.7" y="288.88" font-size="5.43" text-anchor="end" fill="#222">3000</text>
<line x1="636.9" y1="270.44" x2="638.5" y2="270.44" stroke="#555" stroke-width="0.5"/>
<text x="634.7" y="272.74" font-size="5.43" text-anchor="end" fill="#222">4000</text>
<line x1="636.9" y1="254.3" x2="638.5" y2="254.3" stroke="#555" stroke-width="0.5"/>
<text x="634.7" y="256.6" font-size="5.43" text-anchor="end" fill="#222">5000</text>
<text transform="translate(615.9,294.65) rotate(-90)" font-size="5.64" text-anchor="middle" fill="#222">Density (cell/mm<tspan font-size="3.69" dy="-2">2</tspan><tspan dy="2">)</tspan></text>
<line x1="650.6" y1="318.86" x2="650.6" y2="335" stroke="#b8b8b8" stroke-width="0.6"/>
<rect x="643.5" y="326.64" width="14.2" height="7.36" fill="#d9707a" stroke="#9a4048" stroke-width="0.45"/>
<line x1="643.5" y1="331.61" x2="657.7" y2="331.61" stroke="#9a4048" stroke-width="0.8"/>
<path fill="#8a2b3c" fill-opacity="0.9" d="M647.34 322.62h1.2v1.2h-1.2zM653.48 334.32h1.2v1.2h-1.2zM651.45 329.27h1.2v1.2h-1.2zM651.59 326.2h1.2v1.2h-1.2zM654.02 332.52h1.2v1.2h-1.2zM653.01 333.92h1.2v1.2h-1.2zM650.54 333.7h1.2v1.2h-1.2zM651.49 331.82h1.2v1.2h-1.2zM651.23 332.2h1.2v1.2h-1.2zM645.84 327.49h1.2v1.2h-1.2zM646.86 328.92h1.2v1.2h-1.2zM646.53 327.7h1.2v1.2h-1.2zM651.3 333.59h1.2v1.2h-1.2zM653.99 333.71h1.2v1.2h-1.2zM651.73 334.06h1.2v1.2h-1.2zM648.99 326.55h1.2v1.2h-1.2zM646.85 324.71h1.2v1.2h-1.2zM652.2 322.68h1.2v1.2h-1.2zM648.32 332.31h1.2v1.2h-1.2zM651.26 330.44h1.2v1.2h-1.2zM646.12 330.64h1.2v1.2h-1.2zM651.93 326.08h1.2v1.2h-1.2zM647.97 327.81h1.2v1.2h-1.2zM653.08 330.02h1.2v1.2h-1.2zM650.71 328.72h1.2v1.2h-1.2zM647.7 333.97h1.2v1.2h-1.2zM653.15 333.66h1.2v1.2h-1.2zM650.94 326.24h1.2v1.2h-1.2zM651.95 323.34h1.2v1.2h-1.2zM653.97 328.6h1.2v1.2h-1.2zM649.93 333.98h1.2v1.2h-1.2zM651.89 331.96h1.2v1.2h-1.2zM653.4 330.43h1.2v1.2h-1.2zM647.97 329.73h1.2v1.2h-1.2zM648.64 333.67h1.2v1.2h-1.2zM653.4 319.84h1.2v1.2h-1.2zM647.38 331.13h1.2v1.2h-1.2zM650.38 328.69h1.2v1.2h-1.2zM652.08 334.21h1.2v1.2h-1.2zM651.78 333.66h1.2v1.2h-1.2zM647.68 333.55h1.2v1.2h-1.2zM650.03 332.45h1.2v1.2h-1.2zM649.81 331.56h1.2v1.2h-1.2zM649.62 325.49h1.2v1.2h-1.2zM651.19 329h1.2v1.2h-1.2zM646.51 327.11h1.2v1.2h-1.2zM647.55 334.25h1.2v1.2h-1.2zM648.39 333.64h1.2v1.2h-1.2zM649.68 329.31h1.2v1.2h-1.2zM650.95 322.96h1.2v1.2h-1.2zM647.33 325.92h1.2v1.2h-1.2zM646.24 331.92h1.2v1.2h-1.2zM649.24 319.1h1.2v1.2h-1.2zM653.08 326.24h1.2v1.2h-1.2zM648.47 334.08h1.2v1.2h-1.2zM651.55 282.75h1.2v1.2h-1.2zM646.42 313.42h1.2v1.2h-1.2z"/>
<line x1="650.6" y1="335" x2="650.6" y2="336.4" stroke="#555" stroke-width="0.5"/>
<text transform="translate(653.8,340.6) rotate(-45)" font-size="5.74" text-anchor="end" fill="#222">High</text>
<line x1="670.1" y1="324.51" x2="670.1" y2="335" stroke="#b8b8b8" stroke-width="0.6"/>
<rect x="663" y="330.42" width="14.2" height="4.08" fill="#6ab9e4" stroke="#2e6a8c" stroke-width="0.45"/>
<line x1="663" y1="332.9" x2="677.2" y2="332.9" stroke="#2e6a8c" stroke-width="0.8"/>
<path fill="#24587a" fill-opacity="0.9" d="M670.24 333.47h1.2v1.2h-1.2zM672.49 332.47h1.2v1.2h-1.2zM668.39 333.36h1.2v1.2h-1.2zM666.86 334.22h1.2v1.2h-1.2zM667.39 329.37h1.2v1.2h-1.2zM672.37 334.26h1.2v1.2h-1.2zM666.23 332.46h1.2v1.2h-1.2zM671.77 325.9h1.2v1.2h-1.2zM673.65 333.74h1.2v1.2h-1.2zM669.92 332.97h1.2v1.2h-1.2zM671.53 334.19h1.2v1.2h-1.2zM671.32 331.09h1.2v1.2h-1.2zM672.4 329.73h1.2v1.2h-1.2zM672.94 333.68h1.2v1.2h-1.2zM671.62 334.19h1.2v1.2h-1.2zM670.69 331.57h1.2v1.2h-1.2zM668.4 331.3h1.2v1.2h-1.2zM666.36 333.86h1.2v1.2h-1.2zM666.19 329.73h1.2v1.2h-1.2zM668.6 328.2h1.2v1.2h-1.2zM672.15 331.05h1.2v1.2h-1.2zM668.75 332.94h1.2v1.2h-1.2zM669.97 329.45h1.2v1.2h-1.2zM671.57 328.74h1.2v1.2h-1.2zM668.75 334.05h1.2v1.2h-1.2zM672.94 332.8h1.2v1.2h-1.2zM672.55 334.33h1.2v1.2h-1.2zM670.48 333.83h1.2v1.2h-1.2zM669.12 325.62h1.2v1.2h-1.2zM673.16 329.07h1.2v1.2h-1.2zM669.18 334.21h1.2v1.2h-1.2zM669.75 328.69h1.2v1.2h-1.2zM665.91 326.67h1.2v1.2h-1.2zM670.01 333.54h1.2v1.2h-1.2zM671.27 330.02h1.2v1.2h-1.2zM670.47 326.51h1.2v1.2h-1.2zM670.31 331.73h1.2v1.2h-1.2zM673.65 325.83h1.2v1.2h-1.2zM667.33 330.87h1.2v1.2h-1.2zM673.26 334.24h1.2v1.2h-1.2zM673.58 330.83h1.2v1.2h-1.2zM668.53 330.43h1.2v1.2h-1.2zM669.77 334.15h1.2v1.2h-1.2zM667.33 334.31h1.2v1.2h-1.2zM669.49 331.03h1.2v1.2h-1.2zM672.58 330.16h1.2v1.2h-1.2zM673.12 334.31h1.2v1.2h-1.2zM671.13 331.67h1.2v1.2h-1.2zM673.43 333.8h1.2v1.2h-1.2zM666.74 332.93h1.2v1.2h-1.2zM671.15 332.13h1.2v1.2h-1.2zM669.45 333.18h1.2v1.2h-1.2zM665.55 333.95h1.2v1.2h-1.2zM665.83 333.88h1.2v1.2h-1.2zM669.76 331.63h1.2v1.2h-1.2zM665.77 330.97h1.2v1.2h-1.2zM671.35 331.14h1.2v1.2h-1.2zM666.61 332.25h1.2v1.2h-1.2zM669.67 333.52h1.2v1.2h-1.2zM668.29 334.18h1.2v1.2h-1.2zM666.52 332.62h1.2v1.2h-1.2zM670.49 334.22h1.2v1.2h-1.2zM667.63 329.99h1.2v1.2h-1.2zM672.31 331.34h1.2v1.2h-1.2zM672.11 324.11h1.2v1.2h-1.2zM668.82 331.73h1.2v1.2h-1.2zM670.81 334.26h1.2v1.2h-1.2zM673.22 330.59h1.2v1.2h-1.2zM669.97 334.37h1.2v1.2h-1.2zM671.7 334.37h1.2v1.2h-1.2zM666.52 329.12h1.2v1.2h-1.2zM669.29 331.81h1.2v1.2h-1.2zM670.85 334.17h1.2v1.2h-1.2zM671.48 330.06h1.2v1.2h-1.2zM671.88 331.4h1.2v1.2h-1.2zM672.68 325.33h1.2v1.2h-1.2zM671.68 329.93h1.2v1.2h-1.2zM670.42 332.06h1.2v1.2h-1.2zM673.13 334.06h1.2v1.2h-1.2zM670.36 331.95h1.2v1.2h-1.2zM673.23 330.13h1.2v1.2h-1.2zM669.12 334.1h1.2v1.2h-1.2zM668.74 334.1h1.2v1.2h-1.2zM668.62 332.63h1.2v1.2h-1.2zM666.5 326.38h1.2v1.2h-1.2zM665.74 330.43h1.2v1.2h-1.2zM665.99 330.13h1.2v1.2h-1.2zM665.91 329.61h1.2v1.2h-1.2zM672.08 333.01h1.2v1.2h-1.2zM671.95 325.18h1.2v1.2h-1.2zM672.86 333.89h1.2v1.2h-1.2zM669.8 334.27h1.2v1.2h-1.2zM673.61 330.33h1.2v1.2h-1.2zM672.6 333.54h1.2v1.2h-1.2zM672.7 334.17h1.2v1.2h-1.2zM672.62 333.9h1.2v1.2h-1.2zM673.35 332.75h1.2v1.2h-1.2zM666.72 330.99h1.2v1.2h-1.2zM667.05 326.92h1.2v1.2h-1.2zM670.32 326.42h1.2v1.2h-1.2zM669.61 333.75h1.2v1.2h-1.2zM668.25 332.49h1.2v1.2h-1.2zM671.14 334.17h1.2v1.2h-1.2zM669.49 331.84h1.2v1.2h-1.2zM669.53 330.15h1.2v1.2h-1.2zM669.62 333.98h1.2v1.2h-1.2zM666.58 331.81h1.2v1.2h-1.2zM672.38 329.45h1.2v1.2h-1.2zM665.47 331.35h1.2v1.2h-1.2zM667.77 332.37h1.2v1.2h-1.2zM670.94 306.96h1.2v1.2h-1.2zM669.08 309.38h1.2v1.2h-1.2z"/>
<line x1="670.1" y1="335" x2="670.1" y2="336.4" stroke="#555" stroke-width="0.5"/>
<text transform="translate(673.3,340.6) rotate(-45)" font-size="5.74" text-anchor="end" fill="#222">Low</text>
<path d="M650.6 268.9V267.9H670.1V268.9" fill="none" stroke="#555" stroke-width="0.55"/>
<text x="660.35" y="266.6" font-size="5.54" text-anchor="middle" fill="#222"><tspan font-style="italic">P</tspan> = 0.026</text>
<text x="-0.3" y="384" font-size="14" font-weight="bold" fill="#000">c</text>
<g stroke="#ffffff" stroke-width="0.5"><rect x="75.8" y="414.5" width="15.94" height="16.59" fill="#d0686d"/><rect x="91.74" y="414.5" width="15.94" height="16.59" fill="#eecfcf"/><rect x="107.68" y="414.5" width="15.94" height="16.59" fill="#f1eeee"/><rect x="123.63" y="414.5" width="15.94" height="16.59" fill="#efe0e0"/><rect x="139.57" y="414.5" width="15.94" height="16.59" fill="#f0e3e3"/><rect x="155.51" y="414.5" width="15.94" height="16.59" fill="#efd9d9"/><rect x="171.45" y="414.5" width="15.94" height="16.59" fill="#f0e1e1"/><rect x="187.39" y="414.5" width="15.94" height="16.59" fill="#d26f74"/><rect x="203.34" y="414.5" width="15.94" height="16.59" fill="#da888b"/><rect x="219.28" y="414.5" width="15.94" height="16.59" fill="#efdbdb"/><rect x="235.22" y="414.5" width="15.94" height="16.59" fill="#efdcdc"/><rect x="251.16" y="414.5" width="15.94" height="16.59" fill="#efdddd"/><rect x="267.11" y="414.5" width="15.94" height="16.59" fill="#f0e5e5"/><rect x="283.05" y="414.5" width="15.94" height="16.59" fill="#eecfcf"/><rect x="298.99" y="414.5" width="15.94" height="16.59" fill="#edcece"/><rect x="314.93" y="414.5" width="15.94" height="16.59" fill="#ecc2c2"/><rect x="330.87" y="414.5" width="15.94" height="16.59" fill="#f0e9e9"/><rect x="346.82" y="414.5" width="15.94" height="16.59" fill="#e4a8a9"/><rect x="362.76" y="414.5" width="15.94" height="16.59" fill="#eed2d2"/><rect x="75.8" y="431.09" width="15.94" height="16.59" fill="#d0686d"/><rect x="91.74" y="431.09" width="15.94" height="16.59" fill="#d0686d"/><rect x="107.68" y="431.09" width="15.94" height="16.59" fill="#f0e6e6"/><rect x="123.63" y="431.09" width="15.94" height="16.59" fill="#edcaca"/><rect x="139.57" y="431.09" width="15.94" height="16.59" fill="#eed4d4"/><rect x="155.51" y="431.09" width="15.94" height="16.59" fill="#eabcbc"/><rect x="171.45" y="431.09" width="15.94" height="16.59" fill="#eed7d7"/><rect x="187.39" y="431.09" width="15.94" height="16.59" fill="#eed0d0"/><rect x="203.34" y="431.09" width="15.94" height="16.59" fill="#efdbdb"/><rect x="219.28" y="431.09" width="15.94" height="16.59" fill="#db8c8f"/><rect x="235.22" y="431.09" width="15.94" height="16.59" fill="#edc7c7"/><rect x="251.16" y="431.09" width="15.94" height="16.59" fill="#edcdcd"/><rect x="267.11" y="431.09" width="15.94" height="16.59" fill="#e9b6b7"/><rect x="283.05" y="431.09" width="15.94" height="16.59" fill="#ecc1c1"/><rect x="298.99" y="431.09" width="15.94" height="16.59" fill="#ebbdbe"/><rect x="314.93" y="431.09" width="15.94" height="16.59" fill="#edc9c9"/><rect x="330.87" y="431.09" width="15.94" height="16.59" fill="#eecfcf"/><rect x="346.82" y="431.09" width="15.94" height="16.59" fill="#edc7c7"/><rect x="362.76" y="431.09" width="15.94" height="16.59" fill="#ecc5c5"/><rect x="75.8" y="447.69" width="15.94" height="16.59" fill="#c9dde5"/><rect x="91.74" y="447.69" width="15.94" height="16.59" fill="#c9dde5"/><rect x="107.68" y="447.69" width="15.94" height="16.59" fill="#d0686d"/><rect x="123.63" y="447.69" width="15.94" height="16.59" fill="#f0e9e9"/><rect x="139.57" y="447.69" width="15.94" height="16.59" fill="#eeeeef"/><rect x="155.51" y="447.69" width="15.94" height="16.59" fill="#f1ebeb"/><rect x="171.45" y="447.69" width="15.94" height="16.59" fill="#f0efef"/><rect x="187.39" y="447.69" width="15.94" height="16.59" fill="#f1efef"/><rect x="203.34" y="447.69" width="15.94" height="16.59" fill="#f1efef"/><rect x="219.28" y="447.69" width="15.94" height="16.59" fill="#f0e4e4"/><rect x="235.22" y="447.69" width="15.94" height="16.59" fill="#f1ecec"/><rect x="251.16" y="447.69" width="15.94" height="16.59" fill="#efefef"/><rect x="267.11" y="447.69" width="15.94" height="16.59" fill="#f0e9e9"/><rect x="283.05" y="447.69" width="15.94" height="16.59" fill="#efdddd"/><rect x="298.99" y="447.69" width="15.94" height="16.59" fill="#f0e4e4"/><rect x="314.93" y="447.69" width="15.94" height="16.59" fill="#f0efef"/><rect x="330.87" y="447.69" width="15.94" height="16.59" fill="#f0e9e9"/><rect x="346.82" y="447.69" width="15.94" height="16.59" fill="#efeeef"/><rect x="362.76" y="447.69" width="15.94" height="16.59" fill="#f0e6e6"/><rect x="75.8" y="464.28" width="15.94" height="16.59" fill="#f5cfb6"/><rect x="91.74" y="464.28" width="15.94" height="16.59" fill="#d0686d"/><rect x="107.68" y="464.28" width="15.94" height="16.59" fill="#c9dde5"/><rect x="123.63" y="464.28" width="15.94" height="16.59" fill="#d0686d"/><rect x="139.57" y="464.28" width="15.94" height="16.59" fill="#f1eded"/><rect x="155.51" y="464.28" width="15.94" height="16.59" fill="#e6adaf"/><rect x="171.45" y="464.28" width="15.94" height="16.59" fill="#edcccc"/><rect x="187.39" y="464.28" width="15.94" height="16.59" fill="#f0e1e1"/><rect x="203.34" y="464.28" width="15.94" height="16.59" fill="#efe0e0"/><rect x="219.28" y="464.28" width="15.94" height="16.59" fill="#eabcbc"/><rect x="235.22" y="464.28" width="15.94" height="16.59" fill="#e5aaab"/><rect x="251.16" y="464.28" width="15.94" height="16.59" fill="#e8b5b5"/><rect x="267.11" y="464.28" width="15.94" height="16.59" fill="#ebbdbe"/><rect x="283.05" y="464.28" width="15.94" height="16.59" fill="#ecc6c6"/><rect x="298.99" y="464.28" width="15.94" height="16.59" fill="#eababa"/><rect x="314.93" y="464.28" width="15.94" height="16.59" fill="#efdcdc"/><rect x="330.87" y="464.28" width="15.94" height="16.59" fill="#edc8c8"/><rect x="346.82" y="464.28" width="15.94" height="16.59" fill="#efdddd"/><rect x="362.76" y="464.28" width="15.94" height="16.59" fill="#eed5d5"/><rect x="75.8" y="480.88" width="15.94" height="16.59" fill="#c9dde5"/><rect x="91.74" y="480.88" width="15.94" height="16.59" fill="#d0686d"/><rect x="107.68" y="480.88" width="15.94" height="16.59" fill="#c9dde5"/><rect x="123.63" y="480.88" width="15.94" height="16.59" fill="#c9dde5"/><rect x="139.57" y="480.88" width="15.94" height="16.59" fill="#d0686d"/><rect x="155.51" y="480.88" width="15.94" height="16.59" fill="#f0e5e5"/><rect x="171.45" y="480.88" width="15.94" height="16.59" fill="#efdede"/><rect x="187.39" y="480.88" width="15.94" height="16.59" fill="#f0e7e7"/><rect x="203.34" y="480.88" width="15.94" height="16.59" fill="#f0e5e5"/><rect x="219.28" y="480.88" width="15.94" height="16.59" fill="#efdada"/><rect x="235.22" y="480.88" width="15.94" height="16.59" fill="#efdede"/><rect x="251.16" y="480.88" width="15.94" height="16.59" fill="#eed7d7"/><rect x="267.11" y="480.88" width="15.94" height="16.59" fill="#efdcdc"/><rect x="283.05" y="480.88" width="15.94" height="16.59" fill="#eed6d6"/><rect x="298.99" y="480.88" width="15.94" height="16.59" fill="#f0e6e6"/><rect x="314.93" y="480.88" width="15.94" height="16.59" fill="#edeeef"/><rect x="330.87" y="480.88" width="15.94" height="16.59" fill="#eed4d4"/><rect x="346.82" y="480.88" width="15.94" height="16.59" fill="#f0e2e2"/><rect x="362.76" y="480.88" width="15.94" height="16.59" fill="#edcccc"/><rect x="75.8" y="497.47" width="15.94" height="16.59" fill="#eca892"/><rect x="91.74" y="497.47" width="15.94" height="16.59" fill="#d0686d"/><rect x="107.68" y="497.47" width="15.94" height="16.59" fill="#c9dde5"/><rect x="123.63" y="497.47" width="15.94" height="16.59" fill="#d0686d"/><rect x="139.57" y="497.47" width="15.94" height="16.59" fill="#c9dde5"/><rect x="155.51" y="497.47" width="15.94" height="16.59" fill="#d0686d"/><rect x="171.45" y="497.47" width="15.94" height="16.59" fill="#edc8c8"/><rect x="187.39" y="497.47" width="15.94" height="16.59" fill="#efdbdb"/><rect x="203.34" y="497.47" width="15.94" height="16.59" fill="#efdede"/><rect x="219.28" y="497.47" width="15.94" height="16.59" fill="#de9497"/><rect x="235.22" y="497.47" width="15.94" height="16.59" fill="#ecc3c3"/><rect x="251.16" y="497.47" width="15.94" height="16.59" fill="#edc8c8"/><rect x="267.11" y="497.47" width="15.94" height="16.59" fill="#e19fa1"/><rect x="283.05" y="497.47" width="15.94" height="16.59" fill="#ebbdbe"/><rect x="298.99" y="497.47" width="15.94" height="16.59" fill="#e3a5a6"/><rect x="314.93" y="497.47" width="15.94" height="16.59" fill="#eecfcf"/><rect x="330.87" y="497.47" width="15.94" height="16.59" fill="#e7b1b2"/><rect x="346.82" y="497.47" width="15.94" height="16.59" fill="#eed3d3"/><rect x="362.76" y="497.47" width="15.94" height="16.59" fill="#edc7c7"/><rect x="75.8" y="514.07" width="15.94" height="16.59" fill="#f5cfb6"/><rect x="91.74" y="514.07" width="15.94" height="16.59" fill="#d0686d"/><rect x="107.68" y="514.07" width="15.94" height="16.59" fill="#c9dde5"/><rect x="123.63" y="514.07" width="15.94" height="16.59" fill="#d0686d"/><rect x="139.57" y="514.07" width="15.94" height="16.59" fill="#f5cfb6"/><rect x="155.51" y="514.07" width="15.94" height="16.59" fill="#d0686d"/><rect x="171.45" y="514.07" width="15.94" height="16.59" fill="#d0686d"/><rect x="187.39" y="514.07" width="15.94" height="16.59" fill="#f0e2e2"/><rect x="203.34" y="514.07" width="15.94" height="16.59" fill="#f0e4e4"/><rect x="219.28" y="514.07" width="15.94" height="16.59" fill="#eed6d6"/><rect x="235.22" y="514.07" width="15.94" height="16.59" fill="#df989a"/><rect x="251.16" y="514.07" width="15.94" height="16.59" fill="#e6adaf"/><rect x="267.11" y="514.07" width="15.94" height="16.59" fill="#efe0e0"/><rect x="283.05" y="514.07" width="15.94" height="16.59" fill="#edc8c8"/><rect x="298.99" y="514.07" width="15.94" height="16.59" fill="#f0e7e7"/><rect x="314.93" y="514.07" width="15.94" height="16.59" fill="#f1eded"/><rect x="330.87" y="514.07" width="15.94" height="16.59" fill="#efdcdc"/><rect x="346.82" y="514.07" width="15.94" height="16.59" fill="#f0e9e9"/><rect x="362.76" y="514.07" width="15.94" height="16.59" fill="#eed6d6"/><rect x="75.8" y="530.66" width="15.94" height="16.59" fill="#d0686d"/><rect x="91.74" y="530.66" width="15.94" height="16.59" fill="#d0686d"/><rect x="107.68" y="530.66" width="15.94" height="16.59" fill="#c9dde5"/><rect x="123.63" y="530.66" width="15.94" height="16.59" fill="#f5cfb6"/><rect x="139.57" y="530.66" width="15.94" height="16.59" fill="#c9dde5"/><rect x="155.51" y="530.66" width="15.94" height="16.59" fill="#eca892"/><rect x="171.45" y="530.66" width="15.94" height="16.59" fill="#c9dde5"/><rect x="187.39" y="530.66" width="15.94" height="16.59" fill="#d0686d"/><rect x="203.34" y="530.66" width="15.94" height="16.59" fill="#dc8f92"/><rect x="219.28" y="530.66" width="15.94" height="16.59" fill="#efdcdc"/><rect x="235.22" y="530.66" width="15.94" height="16.59" fill="#efdcdc"/><rect x="251.16" y="530.66" width="15.94" height="16.59" fill="#efdede"/><rect x="267.11" y="530.66" width="15.94" height="16.59" fill="#f0e6e6"/><rect x="283.05" y="530.66" width="15.94" height="16.59" fill="#eed0d0"/><rect x="298.99" y="530.66" width="15.94" height="16.59" fill="#edcbcb"/><rect x="314.93" y="530.66" width="15.94" height="16.59" fill="#ebbfbf"/><rect x="330.87" y="530.66" width="15.94" height="16.59" fill="#f1ebeb"/><rect x="346.82" y="530.66" width="15.94" height="16.59" fill="#e5acad"/><rect x="362.76" y="530.66" width="15.94" height="16.59" fill="#eed6d6"/><rect x="75.8" y="547.26" width="15.94" height="16.59" fill="#d0686d"/><rect x="91.74" y="547.26" width="15.94" height="16.59" fill="#eca892"/><rect x="107.68" y="547.26" width="15.94" height="16.59" fill="#c9dde5"/><rect x="123.63" y="547.26" width="15.94" height="16.59" fill="#f5cfb6"/><rect x="139.57" y="547.26" width="15.94" height="16.59" fill="#c9dde5"/><rect x="155.51" y="547.26" width="15.94" height="16.59" fill="#f5cfb6"/><rect x="171.45" y="547.26" width="15.94" height="16.59" fill="#c9dde5"/><rect x="187.39" y="547.26" width="15.94" height="16.59" fill="#d0686d"/><rect x="203.34" y="547.26" width="15.94" height="16.59" fill="#d0686d"/><rect x="219.28" y="547.26" width="15.94" height="16.59" fill="#efdfdf"/><rect x="235.22" y="547.26" width="15.94" height="16.59" fill="#f0e1e1"/><rect x="251.16" y="547.26" width="15.94" height="16.59" fill="#f0e2e2"/><rect x="267.11" y="547.26" width="15.94" height="16.59" fill="#f0e9e9"/><rect x="283.05" y="547.26" width="15.94" height="16.59" fill="#efdede"/><rect x="298.99" y="547.26" width="15.94" height="16.59" fill="#eed2d2"/><rect x="314.93" y="547.26" width="15.94" height="16.59" fill="#eed6d6"/><rect x="330.87" y="547.26" width="15.94" height="16.59" fill="#f0e6e6"/><rect x="346.82" y="547.26" width="15.94" height="16.59" fill="#ecc5c5"/><rect x="362.76" y="547.26" width="15.94" height="16.59" fill="#efdbdb"/><rect x="75.8" y="563.85" width="15.94" height="16.59" fill="#eca892"/><rect x="91.74" y="563.85" width="15.94" height="16.59" fill="#d0686d"/><rect x="107.68" y="563.85" width="15.94" height="16.59" fill="#c9dde5"/><rect x="123.63" y="563.85" width="15.94" height="16.59" fill="#d0686d"/><rect x="139.57" y="563.85" width="15.94" height="16.59" fill="#eca892"/><rect x="155.51" y="563.85" width="15.94" height="16.59" fill="#d0686d"/><rect x="171.45" y="563.85" width="15.94" height="16.59" fill="#d0686d"/><rect x="187.39" y="563.85" width="15.94" height="16.59" fill="#eca892"/><rect x="203.34" y="563.85" width="15.94" height="16.59" fill="#f5cfb6"/><rect x="219.28" y="563.85" width="15.94" height="16.59" fill="#d0686d"/><rect x="235.22" y="563.85" width="15.94" height="16.59" fill="#edc7c7"/><rect x="251.16" y="563.85" width="15.94" height="16.59" fill="#eed4d4"/><rect x="267.11" y="563.85" width="15.94" height="16.59" fill="#d88185"/><rect x="283.05" y="563.85" width="15.94" height="16.59" fill="#e9b8b9"/><rect x="298.99" y="563.85" width="15.94" height="16.59" fill="#e4a6a8"/><rect x="314.93" y="563.85" width="15.94" height="16.59" fill="#edcccc"/><rect x="330.87" y="563.85" width="15.94" height="16.59" fill="#ecc1c1"/><rect x="346.82" y="563.85" width="15.94" height="16.59" fill="#edcbcb"/><rect x="362.76" y="563.85" width="15.94" height="16.59" fill="#ecc5c5"/><rect x="75.8" y="580.45" width="15.94" height="16.59" fill="#eca892"/><rect x="91.74" y="580.45" width="15.94" height="16.59" fill="#d0686d"/><rect x="107.68" y="580.45" width="15.94" height="16.59" fill="#c9dde5"/><rect x="123.63" y="580.45" width="15.94" height="16.59" fill="#d0686d"/><rect x="139.57" y="580.45" width="15.94" height="16.59" fill="#f5cfb6"/><rect x="155.51" y="580.45" width="15.94" height="16.59" fill="#d0686d"/><rect x="171.45" y="580.45" width="15.94" height="16.59" fill="#d0686d"/><rect x="187.39" y="580.45" width="15.94" height="16.59" fill="#eca892"/><rect x="203.34" y="580.45" width="15.94" height="16.59" fill="#c9dde5"/><rect x="219.28" y="580.45" width="15.94" height="16.59" fill="#d0686d"/><rect x="235.22" y="580.45" width="15.94" height="16.59" fill="#d0686d"/><rect x="251.16" y="580.45" width="15.94" height="16.59" fill="#d67c7f"/><rect x="267.11" y="580.45" width="15.94" height="16.59" fill="#eed2d2"/><rect x="283.05" y="580.45" width="15.94" height="16.59" fill="#ecc5c5"/><rect x="298.99" y="580.45" width="15.94" height="16.59" fill="#eed6d6"/><rect x="314.93" y="580.45" width="15.94" height="16.59" fill="#f0e2e2"/><rect x="330.87" y="580.45" width="15.94" height="16.59" fill="#efdada"/><rect x="346.82" y="580.45" width="15.94" height="16.59" fill="#f0e3e3"/><rect x="362.76" y="580.45" width="15.94" height="16.59" fill="#eed4d4"/><rect x="75.8" y="597.04" width="15.94" height="16.59" fill="#eca892"/><rect x="91.74" y="597.04" width="15.94" height="16.59" fill="#d0686d"/><rect x="107.68" y="597.04" width="15.94" height="16.59" fill="#c9dde5"/><rect x="123.63" y="597.04" width="15.94" height="16.59" fill="#d0686d"/><rect x="139.57" y="597.04" width="15.94" height="16.59" fill="#d0686d"/><rect x="155.51" y="597.04" width="15.94" height="16.59" fill="#d0686d"/><rect x="171.45" y="597.04" width="15.94" height="16.59" fill="#d0686d"/><rect x="187.39" y="597.04" width="15.94" height="16.59" fill="#f5cfb6"/><rect x="203.34" y="597.04" width="15.94" height="16.59" fill="#c9dde5"/><rect x="219.28" y="597.04" width="15.94" height="16.59" fill="#d0686d"/><rect x="235.22" y="597.04" width="15.94" height="16.59" fill="#d0686d"/><rect x="251.16" y="597.04" width="15.94" height="16.59" fill="#d0686d"/><rect x="267.11" y="597.04" width="15.94" height="16.59" fill="#efdfdf"/><rect x="283.05" y="597.04" width="15.94" height="16.59" fill="#edc7c7"/><rect x="298.99" y="597.04" width="15.94" height="16.59" fill="#efdcdc"/><rect x="314.93" y="597.04" width="15.94" height="16.59" fill="#f0e9e9"/><rect x="330.87" y="597.04" width="15.94" height="16.59" fill="#efdbdb"/><rect x="346.82" y="597.04" width="15.94" height="16.59" fill="#f0e8e8"/><rect x="362.76" y="597.04" width="15.94" height="16.59" fill="#eed8d8"/><rect x="75.8" y="613.64" width="15.94" height="16.59" fill="#c9dde5"/><rect x="91.74" y="613.64" width="15.94" height="16.59" fill="#d0686d"/><rect x="107.68" y="613.64" width="15.94" height="16.59" fill="#c9dde5"/><rect x="123.63" y="613.64" width="15.94" height="16.59" fill="#d0686d"/><rect x="139.57" y="613.64" width="15.94" height="16.59" fill="#eca892"/><rect x="155.51" y="613.64" width="15.94" height="16.59" fill="#d0686d"/><rect x="171.45" y="613.64" width="15.94" height="16.59" fill="#f5cfb6"/><rect x="187.39" y="613.64" width="15.94" height="16.59" fill="#c9dde5"/><rect x="203.34" y="613.64" width="15.94" height="16.59" fill="#c9dde5"/><rect x="219.28" y="613.64" width="15.94" height="16.59" fill="#d0686d"/><rect x="235.22" y="613.64" width="15.94" height="16.59" fill="#d0686d"/><rect x="251.16" y="613.64" width="15.94" height="16.59" fill="#f5cfb6"/><rect x="267.11" y="613.64" width="15.94" height="16.59" fill="#d0686d"/><rect x="283.05" y="613.64" width="15.94" height="16.59" fill="#ecc3c3"/><rect x="298.99" y="613.64" width="15.94" height="16.59" fill="#e5aaab"/><rect x="314.93" y="613.64" width="15.94" height="16.59" fill="#eed0d0"/><rect x="330.87" y="613.64" width="15.94" height="16.59" fill="#ebbdbe"/><rect x="346.82" y="613.64" width="15.94" height="16.59" fill="#eed4d4"/><rect x="362.76" y="613.64" width="15.94" height="16.59" fill="#edcaca"/><rect x="75.8" y="630.23" width="15.94" height="16.59" fill="#d0686d"/><rect x="91.74" y="630.23" width="15.94" height="16.59" fill="#d0686d"/><rect x="107.68" y="630.23" width="15.94" height="16.59" fill="#eca892"/><rect x="123.63" y="630.23" width="15.94" height="16.59" fill="#d0686d"/><rect x="139.57" y="630.23" width="15.94" height="16.59" fill="#d0686d"/><rect x="155.51" y="630.23" width="15.94" height="16.59" fill="#d0686d"/><rect x="171.45" y="630.23" width="15.94" height="16.59" fill="#d0686d"/><rect x="187.39" y="630.23" width="15.94" height="16.59" fill="#d0686d"/><rect x="203.34" y="630.23" width="15.94" height="16.59" fill="#f5cfb6"/><rect x="219.28" y="630.23" width="15.94" height="16.59" fill="#d0686d"/><rect x="235.22" y="630.23" width="15.94" height="16.59" fill="#d0686d"/><rect x="251.16" y="630.23" width="15.94" height="16.59" fill="#d0686d"/><rect x="267.11" y="630.23" width="15.94" height="16.59" fill="#d0686d"/><rect x="283.05" y="630.23" width="15.94" height="16.59" fill="#d0686d"/><rect x="298.99" y="630.23" width="15.94" height="16.59" fill="#ecc6c6"/><rect x="314.93" y="630.23" width="15.94" height="16.59" fill="#eed0d0"/><rect x="330.87" y="630.23" width="15.94" height="16.59" fill="#eed4d4"/><rect x="346.82" y="630.23" width="15.94" height="16.59" fill="#edcbcb"/><rect x="362.76" y="630.23" width="15.94" height="16.59" fill="#ecc2c2"/><rect x="75.8" y="646.83" width="15.94" height="16.59" fill="#d0686d"/><rect x="91.74" y="646.83" width="15.94" height="16.59" fill="#d0686d"/><rect x="107.68" y="646.83" width="15.94" height="16.59" fill="#c9dde5"/><rect x="123.63" y="646.83" width="15.94" height="16.59" fill="#d0686d"/><rect x="139.57" y="646.83" width="15.94" height="16.59" fill="#c9dde5"/><rect x="155.51" y="646.83" width="15.94" height="16.59" fill="#d0686d"/><rect x="171.45" y="646.83" width="15.94" height="16.59" fill="#c9dde5"/><rect x="187.39" y="646.83" width="15.94" height="16.59" fill="#d0686d"/><rect x="203.34" y="646.83" width="15.94" height="16.59" fill="#d0686d"/><rect x="219.28" y="646.83" width="15.94" height="16.59" fill="#d0686d"/><rect x="235.22" y="646.83" width="15.94" height="16.59" fill="#d0686d"/><rect x="251.16" y="646.83" width="15.94" height="16.59" fill="#eca892"/><rect x="267.11" y="646.83" width="15.94" height="16.59" fill="#d0686d"/><rect x="283.05" y="646.83" width="15.94" height="16.59" fill="#d0686d"/><rect x="298.99" y="646.83" width="15.94" height="16.59" fill="#d0686d"/><rect x="314.93" y="646.83" width="15.94" height="16.59" fill="#e9b6b7"/><rect x="330.87" y="646.83" width="15.94" height="16.59" fill="#ebbdbe"/><rect x="346.82" y="646.83" width="15.94" height="16.59" fill="#eababa"/><rect x="362.76" y="646.83" width="15.94" height="16.59" fill="#edcbcb"/><rect x="75.8" y="663.42" width="15.94" height="16.59" fill="#d0686d"/><rect x="91.74" y="663.42" width="15.94" height="16.59" fill="#d0686d"/><rect x="107.68" y="663.42" width="15.94" height="16.59" fill="#c9dde5"/><rect x="123.63" y="663.42" width="15.94" height="16.59" fill="#eca892"/><rect x="139.57" y="663.42" width="15.94" height="16.59" fill="#c9dde5"/><rect x="155.51" y="663.42" width="15.94" height="16.59" fill="#d0686d"/><rect x="171.45" y="663.42" width="15.94" height="16.59" fill="#c9dde5"/><rect x="187.39" y="663.42" width="15.94" height="16.59" fill="#d0686d"/><rect x="203.34" y="663.42" width="15.94" height="16.59" fill="#d0686d"/><rect x="219.28" y="663.42" width="15.94" height="16.59" fill="#d0686d"/><rect x="235.22" y="663.42" width="15.94" height="16.59" fill="#c9dde5"/><rect x="251.16" y="663.42" width="15.94" height="16.59" fill="#c9dde5"/><rect x="267.11" y="663.42" width="15.94" height="16.59" fill="#d0686d"/><rect x="283.05" y="663.42" width="15.94" height="16.59" fill="#d0686d"/><rect x="298.99" y="663.42" width="15.94" height="16.59" fill="#d0686d"/><rect x="314.93" y="663.42" width="15.94" height="16.59" fill="#d0686d"/><rect x="330.87" y="663.42" width="15.94" height="16.59" fill="#eaedef"/><rect x="346.82" y="663.42" width="15.94" height="16.59" fill="#e8b3b4"/><rect x="362.76" y="663.42" width="15.94" height="16.59" fill="#efdada"/><rect x="75.8" y="680.02" width="15.94" height="16.59" fill="#c9dde5"/><rect x="91.74" y="680.02" width="15.94" height="16.59" fill="#d0686d"/><rect x="107.68" y="680.02" width="15.94" height="16.59" fill="#c9dde5"/><rect x="123.63" y="680.02" width="15.94" height="16.59" fill="#d0686d"/><rect x="139.57" y="680.02" width="15.94" height="16.59" fill="#d0686d"/><rect x="155.51" y="680.02" width="15.94" height="16.59" fill="#d0686d"/><rect x="171.45" y="680.02" width="15.94" height="16.59" fill="#eca892"/><rect x="187.39" y="680.02" width="15.94" height="16.59" fill="#c9dde5"/><rect x="203.34" y="680.02" width="15.94" height="16.59" fill="#c9dde5"/><rect x="219.28" y="680.02" width="15.94" height="16.59" fill="#d0686d"/><rect x="235.22" y="680.02" width="15.94" height="16.59" fill="#eca892"/><rect x="251.16" y="680.02" width="15.94" height="16.59" fill="#eca892"/><rect x="267.11" y="680.02" width="15.94" height="16.59" fill="#d0686d"/><rect x="283.05" y="680.02" width="15.94" height="16.59" fill="#d0686d"/><rect x="298.99" y="680.02" width="15.94" height="16.59" fill="#d0686d"/><rect x="314.93" y="680.02" width="15.94" height="16.59" fill="#c9dde5"/><rect x="330.87" y="680.02" width="15.94" height="16.59" fill="#d0686d"/><rect x="346.82" y="680.02" width="15.94" height="16.59" fill="#f0e1e1"/><rect x="362.76" y="680.02" width="15.94" height="16.59" fill="#edcccc"/><rect x="75.8" y="696.61" width="15.94" height="16.59" fill="#d0686d"/><rect x="91.74" y="696.61" width="15.94" height="16.59" fill="#d0686d"/><rect x="107.68" y="696.61" width="15.94" height="16.59" fill="#c9dde5"/><rect x="123.63" y="696.61" width="15.94" height="16.59" fill="#eca892"/><rect x="139.57" y="696.61" width="15.94" height="16.59" fill="#c9dde5"/><rect x="155.51" y="696.61" width="15.94" height="16.59" fill="#d0686d"/><rect x="171.45" y="696.61" width="15.94" height="16.59" fill="#c9dde5"/><rect x="187.39" y="696.61" width="15.94" height="16.59" fill="#d0686d"/><rect x="203.34" y="696.61" width="15.94" height="16.59" fill="#d0686d"/><rect x="219.28" y="696.61" width="15.94" height="16.59" fill="#d0686d"/><rect x="235.22" y="696.61" width="15.94" height="16.59" fill="#c9dde5"/><rect x="251.16" y="696.61" width="15.94" height="16.59" fill="#c9dde5"/><rect x="267.11" y="696.61" width="15.94" height="16.59" fill="#d0686d"/><rect x="283.05" y="696.61" width="15.94" height="16.59" fill="#d0686d"/><rect x="298.99" y="696.61" width="15.94" height="16.59" fill="#d0686d"/><rect x="314.93" y="696.61" width="15.94" height="16.59" fill="#d0686d"/><rect x="330.87" y="696.61" width="15.94" height="16.59" fill="#f5cfb6"/><rect x="346.82" y="696.61" width="15.94" height="16.59" fill="#d0686d"/><rect x="362.76" y="696.61" width="15.94" height="16.59" fill="#edc8c8"/><rect x="75.8" y="713.21" width="15.94" height="16.59" fill="#d0686d"/><rect x="91.74" y="713.21" width="15.94" height="16.59" fill="#d0686d"/><rect x="107.68" y="713.21" width="15.94" height="16.59" fill="#c9dde5"/><rect x="123.63" y="713.21" width="15.94" height="16.59" fill="#d0686d"/><rect x="139.57" y="713.21" width="15.94" height="16.59" fill="#d0686d"/><rect x="155.51" y="713.21" width="15.94" height="16.59" fill="#d0686d"/><rect x="171.45" y="713.21" width="15.94" height="16.59" fill="#d0686d"/><rect x="187.39" y="713.21" width="15.94" height="16.59" fill="#d0686d"/><rect x="203.34" y="713.21" width="15.94" height="16.59" fill="#eca892"/><rect x="219.28" y="713.21" width="15.94" height="16.59" fill="#d0686d"/><rect x="235.22" y="713.21" width="15.94" height="16.59" fill="#d0686d"/><rect x="251.16" y="713.21" width="15.94" height="16.59" fill="#eca892"/><rect x="267.11" y="713.21" width="15.94" height="16.59" fill="#d0686d"/><rect x="283.05" y="713.21" width="15.94" height="16.59" fill="#d0686d"/><rect x="298.99" y="713.21" width="15.94" height="16.59" fill="#d0686d"/><rect x="314.93" y="713.21" width="15.94" height="16.59" fill="#eca892"/><rect x="330.87" y="713.21" width="15.94" height="16.59" fill="#d0686d"/><rect x="346.82" y="713.21" width="15.94" height="16.59" fill="#d0686d"/><rect x="362.76" y="713.21" width="15.94" height="16.59" fill="#d0686d"/></g>
<g font-size="5.12" text-anchor="middle" fill="#222">
<text x="83.77" y="424.7" font-size='5.3'>1</text>
<text x="99.71" y="424.7" font-size='5.25'>0.35</text>
<text x="115.66" y="424.7" font-size='5.25'>0.01</text>
<text x="131.6" y="424.7" font-size='5.25'>0.16</text>
<text x="147.54" y="424.7" font-size='5.25'>0.13</text>
<text x="163.48" y="424.7" font-size='5.25'>0.24</text>
<text x="179.42" y="424.7" font-size='5.25'>0.15</text>
<text x="195.37" y="424.7" font-size='5.25'>0.96</text>
<text x="211.31" y="424.7" font-size='5.25'>0.82</text>
<text x="227.25" y="424.7" font-size='5.25'>0.22</text>
<text x="243.19" y="424.7" font-size='5.25'>0.21</text>
<text x="259.13" y="424.7" font-size='5.25'>0.2</text>
<text x="275.08" y="424.7" font-size='5.25'>0.11</text>
<text x="291.02" y="424.7" font-size='5.25'>0.35</text>
<text x="306.96" y="424.7" font-size='5.25'>0.36</text>
<text x="322.9" y="424.7" font-size='5.25'>0.49</text>
<text x="338.84" y="424.7" font-size='5.25'>0.06</text>
<text x="354.79" y="424.7" font-size='5.25'>0.64</text>
<text x="370.73" y="424.7" font-size='5.25'>0.31</text>
<text x="83.77" y="441.79" font-size="5.74">***</text>
<text x="99.71" y="441.29" font-size='5.3'>1</text>
<text x="115.66" y="441.29" font-size='5.25'>0.1</text>
<text x="131.6" y="441.29" font-size='5.25'>0.4</text>
<text x="147.54" y="441.29" font-size='5.25'>0.29</text>
<text x="163.48" y="441.29" font-size='5.25'>0.53</text>
<text x="179.42" y="441.29" font-size='5.25'>0.26</text>
<text x="195.37" y="441.29" font-size='5.25'>0.34</text>
<text x="211.31" y="441.29" font-size='5.25'>0.22</text>
<text x="227.25" y="441.29" font-size='5.25'>0.8</text>
<text x="243.19" y="441.29" font-size='5.25'>0.44</text>
<text x="259.13" y="441.29" font-size='5.25'>0.37</text>
<text x="275.08" y="441.29" font-size='5.25'>0.56</text>
<text x="291.02" y="441.29" font-size='5.25'>0.5</text>
<text x="306.96" y="441.29" font-size='5.25'>0.52</text>
<text x="322.9" y="441.29" font-size='5.25'>0.41</text>
<text x="338.84" y="441.29" font-size='5.25'>0.35</text>
<text x="354.79" y="441.29" font-size='5.25'>0.44</text>
<text x="370.73" y="441.29" font-size='5.25'>0.46</text>
<text x="83.77" y="457.89">ns</text>
<text x="99.71" y="457.89">ns</text>
<text x="115.66" y="457.89" font-size='5.3'>1</text>
<text x="131.6" y="457.89" font-size='5.25'>0.07</text>
<text x="147.54" y="457.89" font-size='5.25'>−0.05</text>
<text x="163.48" y="457.89" font-size='5.25'>0.04</text>
<text x="179.42" y="457.89" font-size='5.25'>−0.01</text>
<text x="195.37" y="457.89" font-size='5.25'>0</text>
<text x="211.31" y="457.89" font-size='5.25'>0</text>
<text x="227.25" y="457.89" font-size='5.25'>0.12</text>
<text x="243.19" y="457.89" font-size='5.25'>0.03</text>
<text x="259.13" y="457.89" font-size='5.25'>−0.03</text>
<text x="275.08" y="457.89" font-size='5.25'>0.06</text>
<text x="291.02" y="457.89" font-size='5.25'>0.2</text>
<text x="306.96" y="457.89" font-size='5.25'>0.12</text>
<text x="322.9" y="457.89" font-size='5.25'>−0.01</text>
<text x="338.84" y="457.89" font-size='5.25'>0.06</text>
<text x="354.79" y="457.89" font-size='5.25'>−0.04</text>
<text x="370.73" y="457.89" font-size='5.25'>0.1</text>
<text x="83.77" y="474.98" font-size="5.74">*</text>
<text x="99.71" y="474.98" font-size="5.74">***</text>
<text x="115.66" y="474.48">ns</text>
<text x="131.6" y="474.48" font-size='5.3'>1</text>
<text x="147.54" y="474.48" font-size='5.25'>0.02</text>
<text x="163.48" y="474.48" font-size='5.25'>0.61</text>
<text x="179.42" y="474.48" font-size='5.25'>0.38</text>
<text x="195.37" y="474.48" font-size='5.25'>0.15</text>
<text x="211.31" y="474.48" font-size='5.25'>0.16</text>
<text x="227.25" y="474.48" font-size='5.25'>0.53</text>
<text x="243.19" y="474.48" font-size='5.25'>0.63</text>
<text x="259.13" y="474.48" font-size='5.25'>0.57</text>
<text x="275.08" y="474.48" font-size='5.25'>0.52</text>
<text x="291.02" y="474.48" font-size='5.25'>0.45</text>
<text x="306.96" y="474.48" font-size='5.25'>0.54</text>
<text x="322.9" y="474.48" font-size='5.25'>0.21</text>
<text x="338.84" y="474.48" font-size='5.25'>0.42</text>
<text x="354.79" y="474.48" font-size='5.25'>0.2</text>
<text x="370.73" y="474.48" font-size='5.25'>0.28</text>
<text x="83.77" y="491.08">ns</text>
<text x="99.71" y="491.58" font-size="5.74">***</text>
<text x="115.66" y="491.08">ns</text>
<text x="131.6" y="491.08">ns</text>
<text x="147.54" y="491.08" font-size='5.3'>1</text>
<text x="163.48" y="491.08" font-size='5.25'>0.11</text>
<text x="179.42" y="491.08" font-size='5.25'>0.19</text>
<text x="195.37" y="491.08" font-size='5.25'>0.09</text>
<text x="211.31" y="491.08" font-size='5.25'>0.11</text>
<text x="227.25" y="491.08" font-size='5.25'>0.23</text>
<text x="243.19" y="491.08" font-size='5.25'>0.18</text>
<text x="259.13" y="491.08" font-size='5.25'>0.26</text>
<text x="275.08" y="491.08" font-size='5.25'>0.21</text>
<text x="291.02" y="491.08" font-size='5.25'>0.27</text>
<text x="306.96" y="491.08" font-size='5.25'>0.1</text>
<text x="322.9" y="491.08" font-size='5.25'>−0.08</text>
<text x="338.84" y="491.08" font-size='5.25'>0.29</text>
<text x="354.79" y="491.08" font-size='5.25'>0.14</text>
<text x="370.73" y="491.08" font-size='5.25'>0.38</text>
<text x="83.77" y="508.17" font-size="5.74">**</text>
<text x="99.71" y="508.17" font-size="5.74">***</text>
<text x="115.66" y="507.67">ns</text>
<text x="131.6" y="508.17" font-size="5.74">***</text>
<text x="147.54" y="507.67">ns</text>
<text x="163.48" y="507.67" font-size='5.3'>1</text>
<text x="179.42" y="507.67" font-size='5.25'>0.42</text>
<text x="195.37" y="507.67" font-size='5.25'>0.22</text>
<text x="211.31" y="507.67" font-size='5.25'>0.19</text>
<text x="227.25" y="507.67" font-size='5.25'>0.75</text>
<text x="243.19" y="507.67" font-size='5.25'>0.48</text>
<text x="259.13" y="507.67" font-size='5.25'>0.42</text>
<text x="275.08" y="507.67" font-size='5.25'>0.69</text>
<text x="291.02" y="507.67" font-size='5.25'>0.52</text>
<text x="306.96" y="507.67" font-size='5.25'>0.66</text>
<text x="322.9" y="507.67" font-size='5.25'>0.35</text>
<text x="338.84" y="507.67" font-size='5.25'>0.59</text>
<text x="354.79" y="507.67" font-size='5.25'>0.3</text>
<text x="370.73" y="507.67" font-size='5.25'>0.44</text>
<text x="83.77" y="524.77" font-size="5.74">*</text>
<text x="99.71" y="524.77" font-size="5.74">***</text>
<text x="115.66" y="524.27">ns</text>
<text x="131.6" y="524.77" font-size="5.74">***</text>
<text x="147.54" y="524.77" font-size="5.74">*</text>
<text x="163.48" y="524.77" font-size="5.74">***</text>
<text x="179.42" y="524.27" font-size='5.3'>1</text>
<text x="195.37" y="524.27" font-size='5.25'>0.14</text>
<text x="211.31" y="524.27" font-size='5.25'>0.12</text>
<text x="227.25" y="524.27" font-size='5.25'>0.27</text>
<text x="243.19" y="524.27" font-size='5.25'>0.73</text>
<text x="259.13" y="524.27" font-size='5.25'>0.61</text>
<text x="275.08" y="524.27" font-size='5.25'>0.16</text>
<text x="291.02" y="524.27" font-size='5.25'>0.42</text>
<text x="306.96" y="524.27" font-size='5.25'>0.09</text>
<text x="322.9" y="524.27" font-size='5.25'>0.02</text>
<text x="338.84" y="524.27" font-size='5.25'>0.21</text>
<text x="354.79" y="524.27" font-size='5.25'>0.06</text>
<text x="370.73" y="524.27" font-size='5.25'>0.27</text>
<text x="83.77" y="541.36" font-size="5.74">***</text>
<text x="99.71" y="541.36" font-size="5.74">***</text>
<text x="115.66" y="540.86">ns</text>
<text x="131.6" y="541.36" font-size="5.74">*</text>
<text x="147.54" y="540.86">ns</text>
<text x="163.48" y="541.36" font-size="5.74">**</text>
<text x="179.42" y="540.86">ns</text>
<text x="195.37" y="540.86" font-size='5.3'>1</text>
<text x="211.31" y="540.86" font-size='5.25'>0.78</text>
<text x="227.25" y="540.86" font-size='5.25'>0.21</text>
<text x="243.19" y="540.86" font-size='5.25'>0.21</text>
<text x="259.13" y="540.86" font-size='5.25'>0.19</text>
<text x="275.08" y="540.86" font-size='5.25'>0.1</text>
<text x="291.02" y="540.86" font-size='5.25'>0.34</text>
<text x="306.96" y="540.86" font-size='5.25'>0.39</text>
<text x="322.9" y="540.86" font-size='5.25'>0.51</text>
<text x="338.84" y="540.86" font-size='5.25'>0.04</text>
<text x="354.79" y="540.86" font-size='5.25'>0.62</text>
<text x="370.73" y="540.86" font-size='5.25'>0.27</text>
<text x="83.77" y="557.96" font-size="5.74">***</text>
<text x="99.71" y="557.96" font-size="5.74">**</text>
<text x="115.66" y="557.46">ns</text>
<text x="131.6" y="557.96" font-size="5.74">*</text>
<text x="147.54" y="557.46">ns</text>
<text x="163.48" y="557.96" font-size="5.74">*</text>
<text x="179.42" y="557.46">ns</text>
<text x="195.37" y="557.96" font-size="5.74">***</text>
<text x="211.31" y="557.46" font-size='5.3'>1</text>
<text x="227.25" y="557.46" font-size='5.25'>0.17</text>
<text x="243.19" y="557.46" font-size='5.25'>0.15</text>
<text x="259.13" y="557.46" font-size='5.25'>0.14</text>
<text x="275.08" y="557.46" font-size='5.25'>0.06</text>
<text x="291.02" y="557.46" font-size='5.25'>0.19</text>
<text x="306.96" y="557.46" font-size='5.25'>0.31</text>
<text x="322.9" y="557.46" font-size='5.25'>0.27</text>
<text x="338.84" y="557.46" font-size='5.25'>0.1</text>
<text x="354.79" y="557.46" font-size='5.25'>0.46</text>
<text x="370.73" y="557.46" font-size='5.25'>0.22</text>
<text x="83.77" y="574.55" font-size="5.74">**</text>
<text x="99.71" y="574.55" font-size="5.74">***</text>
<text x="115.66" y="574.05">ns</text>
<text x="131.6" y="574.55" font-size="5.74">***</text>
<text x="147.54" y="574.55" font-size="5.74">**</text>
<text x="163.48" y="574.55" font-size="5.74">***</text>
<text x="179.42" y="574.55" font-size="5.74">***</text>
<text x="195.37" y="574.55" font-size="5.74">**</text>
<text x="211.31" y="574.55" font-size="5.74">*</text>
<text x="227.25" y="574.05" font-size='5.3'>1</text>
<text x="243.19" y="574.05" font-size='5.25'>0.43</text>
<text x="259.13" y="574.05" font-size='5.25'>0.29</text>
<text x="275.08" y="574.05" font-size='5.25'>0.86</text>
<text x="291.02" y="574.05" font-size='5.25'>0.55</text>
<text x="306.96" y="574.05" font-size='5.25'>0.65</text>
<text x="322.9" y="574.05" font-size='5.25'>0.38</text>
<text x="338.84" y="574.05" font-size='5.25'>0.5</text>
<text x="354.79" y="574.05" font-size='5.25'>0.39</text>
<text x="370.73" y="574.05" font-size='5.25'>0.46</text>
<text x="83.77" y="591.14" font-size="5.74">**</text>
<text x="99.71" y="591.14" font-size="5.74">***</text>
<text x="115.66" y="590.64">ns</text>
<text x="131.6" y="591.14" font-size="5.74">***</text>
<text x="147.54" y="591.14" font-size="5.74">*</text>
<text x="163.48" y="591.14" font-size="5.74">***</text>
<text x="179.42" y="591.14" font-size="5.74">***</text>
<text x="195.37" y="591.14" font-size="5.74">**</text>
<text x="211.31" y="590.64">ns</text>
<text x="227.25" y="591.14" font-size="5.74">***</text>
<text x="243.19" y="590.64" font-size='5.3'>1</text>
<text x="259.13" y="590.64" font-size='5.25'>0.89</text>
<text x="275.08" y="590.64" font-size='5.25'>0.32</text>
<text x="291.02" y="590.64" font-size='5.25'>0.46</text>
<text x="306.96" y="590.64" font-size='5.25'>0.27</text>
<text x="322.9" y="590.64" font-size='5.25'>0.14</text>
<text x="338.84" y="590.64" font-size='5.25'>0.23</text>
<text x="354.79" y="590.64" font-size='5.25'>0.13</text>
<text x="370.73" y="590.64" font-size='5.25'>0.29</text>
<text x="83.77" y="607.74" font-size="5.74">**</text>
<text x="99.71" y="607.74" font-size="5.74">***</text>
<text x="115.66" y="607.24">ns</text>
<text x="131.6" y="607.74" font-size="5.74">***</text>
<text x="147.54" y="607.74" font-size="5.74">***</text>
<text x="163.48" y="607.74" font-size="5.74">***</text>
<text x="179.42" y="607.74" font-size="5.74">***</text>
<text x="195.37" y="607.74" font-size="5.74">*</text>
<text x="211.31" y="607.24">ns</text>
<text x="227.25" y="607.74" font-size="5.74">***</text>
<text x="243.19" y="607.74" font-size="5.74">***</text>
<text x="259.13" y="607.24" font-size='5.3'>1</text>
<text x="275.08" y="607.24" font-size='5.25'>0.17</text>
<text x="291.02" y="607.24" font-size='5.25'>0.43</text>
<text x="306.96" y="607.24" font-size='5.25'>0.21</text>
<text x="322.9" y="607.24" font-size='5.25'>0.07</text>
<text x="338.84" y="607.24" font-size='5.25'>0.22</text>
<text x="354.79" y="607.24" font-size='5.25'>0.08</text>
<text x="370.73" y="607.24" font-size='5.25'>0.25</text>
<text x="83.77" y="623.83">ns</text>
<text x="99.71" y="624.33" font-size="5.74">***</text>
<text x="115.66" y="623.83">ns</text>
<text x="131.6" y="624.33" font-size="5.74">***</text>
<text x="147.54" y="624.33" font-size="5.74">**</text>
<text x="163.48" y="624.33" font-size="5.74">***</text>
<text x="179.42" y="624.33" font-size="5.74">*</text>
<text x="195.37" y="623.83">ns</text>
<text x="211.31" y="623.83">ns</text>
<text x="227.25" y="624.33" font-size="5.74">***</text>
<text x="243.19" y="624.33" font-size="5.74">***</text>
<text x="259.13" y="624.33" font-size="5.74">*</text>
<text x="275.08" y="623.83" font-size='5.3'>1</text>
<text x="291.02" y="623.83" font-size='5.25'>0.48</text>
<text x="306.96" y="623.83" font-size='5.25'>0.63</text>
<text x="322.9" y="623.83" font-size='5.25'>0.34</text>
<text x="338.84" y="623.83" font-size='5.25'>0.52</text>
<text x="354.79" y="623.83" font-size='5.25'>0.29</text>
<text x="370.73" y="623.83" font-size='5.25'>0.4</text>
<text x="83.77" y="640.93" font-size="5.74">***</text>
<text x="99.71" y="640.93" font-size="5.74">***</text>
<text x="115.66" y="640.93" font-size="5.74">**</text>
<text x="131.6" y="640.93" font-size="5.74">***</text>
<text x="147.54" y="640.93" font-size="5.74">***</text>
<text x="163.48" y="640.93" font-size="5.74">***</text>
<text x="179.42" y="640.93" font-size="5.74">***</text>
<text x="195.37" y="640.93" font-size="5.74">***</text>
<text x="211.31" y="640.93" font-size="5.74">*</text>
<text x="227.25" y="640.93" font-size="5.74">***</text>
<text x="243.19" y="640.93" font-size="5.74">***</text>
<text x="259.13" y="640.93" font-size="5.74">***</text>
<text x="275.08" y="640.93" font-size="5.74">***</text>
<text x="291.02" y="640.43" font-size='5.3'>1</text>
<text x="306.96" y="640.43" font-size='5.25'>0.45</text>
<text x="322.9" y="640.43" font-size='5.25'>0.34</text>
<text x="338.84" y="640.43" font-size='5.25'>0.29</text>
<text x="354.79" y="640.43" font-size='5.25'>0.39</text>
<text x="370.73" y="640.43" font-size='5.25'>0.49</text>
<text x="83.77" y="657.52" font-size="5.74">***</text>
<text x="99.71" y="657.52" font-size="5.74">***</text>
<text x="115.66" y="657.02">ns</text>
<text x="131.6" y="657.52" font-size="5.74">***</text>
<text x="147.54" y="657.02">ns</text>
<text x="163.48" y="657.52" font-size="5.74">***</text>
<text x="179.42" y="657.02">ns</text>
<text x="195.37" y="657.52" font-size="5.74">***</text>
<text x="211.31" y="657.52" font-size="5.74">***</text>
<text x="227.25" y="657.52" font-size="5.74">***</text>
<text x="243.19" y="657.52" font-size="5.74">***</text>
<text x="259.13" y="657.52" font-size="5.74">**</text>
<text x="275.08" y="657.52" font-size="5.74">***</text>
<text x="291.02" y="657.52" font-size="5.74">***</text>
<text x="306.96" y="657.02" font-size='5.3'>1</text>
<text x="322.9" y="657.02" font-size='5.25'>0.56</text>
<text x="338.84" y="657.02" font-size='5.25'>0.52</text>
<text x="354.79" y="657.02" font-size='5.25'>0.54</text>
<text x="370.73" y="657.02" font-size='5.25'>0.39</text>
<text x="83.77" y="674.12" font-size="5.74">***</text>
<text x="99.71" y="674.12" font-size="5.74">***</text>
<text x="115.66" y="673.62">ns</text>
<text x="131.6" y="674.12" font-size="5.74">**</text>
<text x="147.54" y="673.62">ns</text>
<text x="163.48" y="674.12" font-size="5.74">***</text>
<text x="179.42" y="673.62">ns</text>
<text x="195.37" y="674.12" font-size="5.74">***</text>
<text x="211.31" y="674.12" font-size="5.74">***</text>
<text x="227.25" y="674.12" font-size="5.74">***</text>
<text x="243.19" y="673.62">ns</text>
<text x="259.13" y="673.62">ns</text>
<text x="275.08" y="674.12" font-size="5.74">***</text>
<text x="291.02" y="674.12" font-size="5.74">***</text>
<text x="306.96" y="674.12" font-size="5.74">***</text>
<text x="322.9" y="673.62" font-size='5.3'>1</text>
<text x="338.84" y="673.62" font-size='5.25'>−0.12</text>
<text x="354.79" y="673.62" font-size='5.25'>0.58</text>
<text x="370.73" y="673.62" font-size='5.25'>0.23</text>
<text x="83.77" y="690.21">ns</text>
<text x="99.71" y="690.71" font-size="5.74">***</text>
<text x="115.66" y="690.21">ns</text>
<text x="131.6" y="690.71" font-size="5.74">***</text>
<text x="147.54" y="690.71" font-size="5.74">***</text>
<text x="163.48" y="690.71" font-size="5.74">***</text>
<text x="179.42" y="690.71" font-size="5.74">**</text>
<text x="195.37" y="690.21">ns</text>
<text x="211.31" y="690.21">ns</text>
<text x="227.25" y="690.71" font-size="5.74">***</text>
<text x="243.19" y="690.71" font-size="5.74">**</text>
<text x="259.13" y="690.71" font-size="5.74">**</text>
<text x="275.08" y="690.71" font-size="5.74">***</text>
<text x="291.02" y="690.71" font-size="5.74">***</text>
<text x="306.96" y="690.71" font-size="5.74">***</text>
<text x="322.9" y="690.21">ns</text>
<text x="338.84" y="690.21" font-size='5.3'>1</text>
<text x="354.79" y="690.21" font-size='5.25'>0.15</text>
<text x="370.73" y="690.21" font-size='5.25'>0.38</text>
<text x="83.77" y="707.31" font-size="5.74">***</text>
<text x="99.71" y="707.31" font-size="5.74">***</text>
<text x="115.66" y="706.81">ns</text>
<text x="131.6" y="707.31" font-size="5.74">**</text>
<text x="147.54" y="706.81">ns</text>
<text x="163.48" y="707.31" font-size="5.74">***</text>
<text x="179.42" y="706.81">ns</text>
<text x="195.37" y="707.31" font-size="5.74">***</text>
<text x="211.31" y="707.31" font-size="5.74">***</text>
<text x="227.25" y="707.31" font-size="5.74">***</text>
<text x="243.19" y="706.81">ns</text>
<text x="259.13" y="706.81">ns</text>
<text x="275.08" y="707.31" font-size="5.74">***</text>
<text x="291.02" y="707.31" font-size="5.74">***</text>
<text x="306.96" y="707.31" font-size="5.74">***</text>
<text x="322.9" y="707.31" font-size="5.74">***</text>
<text x="338.84" y="707.31" font-size="5.74">*</text>
<text x="354.79" y="706.81" font-size='5.3'>1</text>
<text x="370.73" y="706.81" font-size='5.25'>0.42</text>
<text x="83.77" y="723.9" font-size="5.74">***</text>
<text x="99.71" y="723.9" font-size="5.74">***</text>
<text x="115.66" y="723.4">ns</text>
<text x="131.6" y="723.9" font-size="5.74">***</text>
<text x="147.54" y="723.9" font-size="5.74">***</text>
<text x="163.48" y="723.9" font-size="5.74">***</text>
<text x="179.42" y="723.9" font-size="5.74">***</text>
<text x="195.37" y="723.9" font-size="5.74">***</text>
<text x="211.31" y="723.9" font-size="5.74">**</text>
<text x="227.25" y="723.9" font-size="5.74">***</text>
<text x="243.19" y="723.9" font-size="5.74">***</text>
<text x="259.13" y="723.9" font-size="5.74">**</text>
<text x="275.08" y="723.9" font-size="5.74">***</text>
<text x="291.02" y="723.9" font-size="5.74">***</text>
<text x="306.96" y="723.9" font-size="5.74">***</text>
<text x="322.9" y="723.9" font-size="5.74">**</text>
<text x="338.84" y="723.9" font-size="5.74">***</text>
<text x="354.79" y="723.9" font-size="5.74">***</text>
<text x="370.73" y="723.4" font-size='5.3'>1</text>
</g>
<g font-size="5.64" text-anchor="end" fill="#222">
<text x="72.3" y="425.3">VISTA+</text>
<text x="72.3" y="441.89">PDL1+</text>
<text x="72.3" y="458.49">CTLA4+</text>
<text x="72.3" y="475.08">PD1+</text>
<text x="72.3" y="491.68">LAG3+</text>
<text x="72.3" y="508.27">TIM3+</text>
<text x="72.3" y="524.87">TIGIT+</text>
<text x="72.3" y="541.46">CD68+VISTA+</text>
<text x="72.3" y="558.06">PANCK+VISTA+</text>
<text x="72.3" y="574.65">CD4+PDL1+</text>
<text x="72.3" y="591.24">CD8+TIGIT+</text>
<text x="72.3" y="607.84">CD8+LAG3+PD1+TIM3+</text>
<text x="72.3" y="624.43">CD4+FOXP3-</text>
<text x="72.3" y="641.03">CD4+FOXP3+</text>
<text x="72.3" y="657.62">CD68+</text>
<text x="72.3" y="674.22">CD163-CD68+CD86+</text>
<text x="72.3" y="690.81">CD163+CD68+CD86-</text>
<text x="72.3" y="707.41">CD66B+</text>
<text x="72.3" y="724">FAP+</text>
</g>
<g stroke="#aaa" stroke-width="0.4"><line x1="73.2" y1="422.8" x2="75" y2="422.8"/><line x1="73.2" y1="439.39" x2="75" y2="439.39"/><line x1="73.2" y1="455.99" x2="75" y2="455.99"/><line x1="73.2" y1="472.58" x2="75" y2="472.58"/><line x1="73.2" y1="489.18" x2="75" y2="489.18"/><line x1="73.2" y1="505.77" x2="75" y2="505.77"/><line x1="73.2" y1="522.37" x2="75" y2="522.37"/><line x1="73.2" y1="538.96" x2="75" y2="538.96"/><line x1="73.2" y1="555.56" x2="75" y2="555.56"/><line x1="73.2" y1="572.15" x2="75" y2="572.15"/><line x1="73.2" y1="588.74" x2="75" y2="588.74"/><line x1="73.2" y1="605.34" x2="75" y2="605.34"/><line x1="73.2" y1="621.93" x2="75" y2="621.93"/><line x1="73.2" y1="638.53" x2="75" y2="638.53"/><line x1="73.2" y1="655.12" x2="75" y2="655.12"/><line x1="73.2" y1="671.72" x2="75" y2="671.72"/><line x1="73.2" y1="688.31" x2="75" y2="688.31"/><line x1="73.2" y1="704.91" x2="75" y2="704.91"/><line x1="73.2" y1="721.5" x2="75" y2="721.5"/><line x1="379.5" y1="422.8" x2="381.3" y2="422.8"/><line x1="379.5" y1="439.39" x2="381.3" y2="439.39"/><line x1="379.5" y1="455.99" x2="381.3" y2="455.99"/><line x1="379.5" y1="472.58" x2="381.3" y2="472.58"/><line x1="379.5" y1="489.18" x2="381.3" y2="489.18"/><line x1="379.5" y1="505.77" x2="381.3" y2="505.77"/><line x1="379.5" y1="522.37" x2="381.3" y2="522.37"/><line x1="379.5" y1="538.96" x2="381.3" y2="538.96"/><line x1="379.5" y1="555.56" x2="381.3" y2="555.56"/><line x1="379.5" y1="572.15" x2="381.3" y2="572.15"/><line x1="379.5" y1="588.74" x2="381.3" y2="588.74"/><line x1="379.5" y1="605.34" x2="381.3" y2="605.34"/><line x1="379.5" y1="621.93" x2="381.3" y2="621.93"/><line x1="379.5" y1="638.53" x2="381.3" y2="638.53"/><line x1="379.5" y1="655.12" x2="381.3" y2="655.12"/><line x1="379.5" y1="671.72" x2="381.3" y2="671.72"/><line x1="379.5" y1="688.31" x2="381.3" y2="688.31"/><line x1="379.5" y1="704.91" x2="381.3" y2="704.91"/><line x1="379.5" y1="721.5" x2="381.3" y2="721.5"/><line x1="83.77" y1="411.8" x2="83.77" y2="413.6"/><line x1="99.71" y1="411.8" x2="99.71" y2="413.6"/><line x1="115.66" y1="411.8" x2="115.66" y2="413.6"/><line x1="131.6" y1="411.8" x2="131.6" y2="413.6"/><line x1="147.54" y1="411.8" x2="147.54" y2="413.6"/><line x1="163.48" y1="411.8" x2="163.48" y2="413.6"/><line x1="179.42" y1="411.8" x2="179.42" y2="413.6"/><line x1="195.37" y1="411.8" x2="195.37" y2="413.6"/><line x1="211.31" y1="411.8" x2="211.31" y2="413.6"/><line x1="227.25" y1="411.8" x2="227.25" y2="413.6"/><line x1="243.19" y1="411.8" x2="243.19" y2="413.6"/><line x1="259.13" y1="411.8" x2="259.13" y2="413.6"/><line x1="275.08" y1="411.8" x2="275.08" y2="413.6"/><line x1="291.02" y1="411.8" x2="291.02" y2="413.6"/><line x1="306.96" y1="411.8" x2="306.96" y2="413.6"/><line x1="322.9" y1="411.8" x2="322.9" y2="413.6"/><line x1="338.84" y1="411.8" x2="338.84" y2="413.6"/><line x1="354.79" y1="411.8" x2="354.79" y2="413.6"/><line x1="370.73" y1="411.8" x2="370.73" y2="413.6"/><line x1="83.77" y1="730.6" x2="83.77" y2="732"/><line x1="99.71" y1="730.6" x2="99.71" y2="732"/><line x1="115.66" y1="730.6" x2="115.66" y2="732"/><line x1="131.6" y1="730.6" x2="131.6" y2="732"/><line x1="147.54" y1="730.6" x2="147.54" y2="732"/><line x1="163.48" y1="730.6" x2="163.48" y2="732"/><line x1="179.42" y1="730.6" x2="179.42" y2="732"/><line x1="195.37" y1="730.6" x2="195.37" y2="732"/><line x1="211.31" y1="730.6" x2="211.31" y2="732"/><line x1="227.25" y1="730.6" x2="227.25" y2="732"/><line x1="243.19" y1="730.6" x2="243.19" y2="732"/><line x1="259.13" y1="730.6" x2="259.13" y2="732"/><line x1="275.08" y1="730.6" x2="275.08" y2="732"/><line x1="291.02" y1="730.6" x2="291.02" y2="732"/><line x1="306.96" y1="730.6" x2="306.96" y2="732"/><line x1="322.9" y1="730.6" x2="322.9" y2="732"/><line x1="338.84" y1="730.6" x2="338.84" y2="732"/><line x1="354.79" y1="730.6" x2="354.79" y2="732"/><line x1="370.73" y1="730.6" x2="370.73" y2="732"/></g>
<g font-size="5.64" fill="#222">
<text transform="translate(82.77,410.8) rotate(-45)">VISTA+</text>
<text transform="translate(98.71,410.8) rotate(-45)">PDL1+</text>
<text transform="translate(114.66,410.8) rotate(-45)">CTLA4+</text>
<text transform="translate(130.6,410.8) rotate(-45)">PD1+</text>
<text transform="translate(146.54,410.8) rotate(-45)">LAG3+</text>
<text transform="translate(162.48,410.8) rotate(-45)">TIM3+</text>
<text transform="translate(178.42,410.8) rotate(-45)">TIGIT+</text>
<text transform="translate(194.37,410.8) rotate(-45)">CD68+VISTA+</text>
<text transform="translate(210.31,410.8) rotate(-45)">PANCK+VISTA+</text>
<text transform="translate(226.25,410.8) rotate(-45)">CD4+PDL1+</text>
<text transform="translate(242.19,410.8) rotate(-45)">CD8+TIGIT+</text>
<text transform="translate(258.13,410.8) rotate(-45)">CD8+LAG3+PD1+TIM3+</text>
<text transform="translate(274.08,410.8) rotate(-45)">CD4+FOXP3-</text>
<text transform="translate(290.02,410.8) rotate(-45)">CD4+FOXP3+</text>
<text transform="translate(305.96,410.8) rotate(-45)">CD68+</text>
<text transform="translate(321.9,410.8) rotate(-45)">CD163-CD68+CD86+</text>
<text transform="translate(337.84,410.8) rotate(-45)">CD163+CD68+CD86-</text>
<text transform="translate(353.79,410.8) rotate(-45)">CD66B+</text>
<text transform="translate(369.73,410.8) rotate(-45)">FAP+</text>
</g>
<text x="389.3" y="526.2" font-size="5.64" fill="#222">Significance</text>
<rect x="389.3" y="528.9" width="7.9" height="8.3" fill="#c9dde5" stroke="#fff" stroke-width="0.4"/>
<text x="400.3" y="534.9" font-size="5.64" fill="#222">ns</text>
<rect x="389.3" y="537.2" width="7.9" height="8.3" fill="#f5cfb6" stroke="#fff" stroke-width="0.4"/>
<text x="400.3" y="543.2" font-size="5.64" fill="#222"><tspan font-style="italic">P</tspan> &lt; 0.05</text>
<rect x="389.3" y="545.5" width="7.9" height="8.3" fill="#eca892" stroke="#fff" stroke-width="0.4"/>
<text x="400.3" y="551.5" font-size="5.64" fill="#222"><tspan font-style="italic">P</tspan> &lt; 0.01</text>
<rect x="389.3" y="553.8" width="7.9" height="8.3" fill="#d0686d" stroke="#fff" stroke-width="0.4"/>
<text x="400.3" y="559.8" font-size="5.64" fill="#222"><tspan font-style="italic">P</tspan> &lt; 0.001</text>
<text x="389.3" y="578.2" font-size="5.64" fill="#222">Correlation</text>
<rect x="389.3" y="581" width="8.2" height="42.6" fill="url(#corr)"/>
<text x="400.3" y="583.3" font-size="5.64" fill="#222">1.00</text>
<text x="400.3" y="592.7" font-size="5.64" fill="#222">0.75</text>
<text x="400.3" y="601.8" font-size="5.64" fill="#222">0.50</text>
<text x="400.3" y="611.2" font-size="5.64" fill="#222">0.25</text>
<text x="400.3" y="620.5" font-size="5.64" fill="#222">0.00</text>
<text x="432.2" y="384" font-size="14" font-weight="bold" fill="#000">d</text>
<text x="514" y="388.0" font-size="5.64" text-anchor="middle" fill="#222">Density (cell/mm<tspan font-size="3.69" dy="-2">2</tspan><tspan dy="2">)</tspan></text>
<line x1="457.3" y1="408.4" x2="571.5" y2="408.4" stroke="#555" stroke-width="0.6"/>
<line x1="457.3" y1="408.4" x2="457.3" y2="723.4" stroke="#555" stroke-width="0.6"/>
<line x1="462.3" y1="406.6" x2="462.3" y2="408.4" stroke="#555" stroke-width="0.5"/>
<text transform="translate(460.3,404.7) rotate(90)" font-size="5.74" text-anchor="end" fill="#222">0</text>
<line x1="489.7" y1="406.6" x2="489.7" y2="408.4" stroke="#555" stroke-width="0.5"/>
<text transform="translate(487.7,404.7) rotate(90)" font-size="5.74" text-anchor="end" fill="#222">250</text>
<line x1="517.1" y1="406.6" x2="517.1" y2="408.4" stroke="#555" stroke-width="0.5"/>
<text transform="translate(515.1,404.7) rotate(90)" font-size="5.74" text-anchor="end" fill="#222">500</text>
<line x1="544.5" y1="406.6" x2="544.5" y2="408.4" stroke="#555" stroke-width="0.5"/>
<text transform="translate(542.5,404.7) rotate(90)" font-size="5.74" text-anchor="end" fill="#222">750</text>
<line x1="455.5" y1="423.1" x2="457.3" y2="423.1" stroke="#555" stroke-width="0.5"/>
<text x="453.6" y="425.4" font-size="5.54" text-anchor="end" fill="#222">1</text>
<line x1="455.5" y1="439.77" x2="457.3" y2="439.77" stroke="#555" stroke-width="0.5"/>
<text x="453.6" y="442.07" font-size="5.54" text-anchor="end" fill="#222">11</text>
<line x1="455.5" y1="456.44" x2="457.3" y2="456.44" stroke="#555" stroke-width="0.5"/>
<text x="453.6" y="458.74" font-size="5.54" text-anchor="end" fill="#222">21</text>
<line x1="455.5" y1="473.11" x2="457.3" y2="473.11" stroke="#555" stroke-width="0.5"/>
<text x="453.6" y="475.41" font-size="5.54" text-anchor="end" fill="#222">31</text>
<line x1="455.5" y1="489.78" x2="457.3" y2="489.78" stroke="#555" stroke-width="0.5"/>
<text x="453.6" y="492.08" font-size="5.54" text-anchor="end" fill="#222">41</text>
<line x1="455.5" y1="506.45" x2="457.3" y2="506.45" stroke="#555" stroke-width="0.5"/>
<text x="453.6" y="508.75" font-size="5.54" text-anchor="end" fill="#222">51</text>
<line x1="455.5" y1="523.12" x2="457.3" y2="523.12" stroke="#555" stroke-width="0.5"/>
<text x="453.6" y="525.42" font-size="5.54" text-anchor="end" fill="#222">61</text>
<line x1="455.5" y1="539.79" x2="457.3" y2="539.79" stroke="#555" stroke-width="0.5"/>
<text x="453.6" y="542.09" font-size="5.54" text-anchor="end" fill="#222">71</text>
<line x1="455.5" y1="556.46" x2="457.3" y2="556.46" stroke="#555" stroke-width="0.5"/>
<text x="453.6" y="558.76" font-size="5.54" text-anchor="end" fill="#222">81</text>
<line x1="455.5" y1="573.13" x2="457.3" y2="573.13" stroke="#555" stroke-width="0.5"/>
<text x="453.6" y="575.43" font-size="5.54" text-anchor="end" fill="#222">91</text>
<line x1="455.5" y1="589.8" x2="457.3" y2="589.8" stroke="#555" stroke-width="0.5"/>
<text x="453.6" y="592.1" font-size="5.54" text-anchor="end" fill="#222">101</text>
<line x1="455.5" y1="606.47" x2="457.3" y2="606.47" stroke="#555" stroke-width="0.5"/>
<text x="453.6" y="608.77" font-size="5.54" text-anchor="end" fill="#222">111</text>
<line x1="455.5" y1="623.14" x2="457.3" y2="623.14" stroke="#555" stroke-width="0.5"/>
<text x="453.6" y="625.44" font-size="5.54" text-anchor="end" fill="#222">121</text>
<line x1="455.5" y1="639.81" x2="457.3" y2="639.81" stroke="#555" stroke-width="0.5"/>
<text x="453.6" y="642.11" font-size="5.54" text-anchor="end" fill="#222">131</text>
<line x1="455.5" y1="656.48" x2="457.3" y2="656.48" stroke="#555" stroke-width="0.5"/>
<text x="453.6" y="658.78" font-size="5.54" text-anchor="end" fill="#222">141</text>
<line x1="455.5" y1="673.15" x2="457.3" y2="673.15" stroke="#555" stroke-width="0.5"/>
<text x="453.6" y="675.45" font-size="5.54" text-anchor="end" fill="#222">151</text>
<line x1="455.5" y1="689.82" x2="457.3" y2="689.82" stroke="#555" stroke-width="0.5"/>
<text x="453.6" y="692.12" font-size="5.54" text-anchor="end" fill="#222">161</text>
<line x1="455.5" y1="706.49" x2="457.3" y2="706.49" stroke="#555" stroke-width="0.5"/>
<text x="453.6" y="708.79" font-size="5.54" text-anchor="end" fill="#222">171</text>
<text transform="translate(435.3,565.8) rotate(90)" font-size="5.74" text-anchor="middle" fill="#222">Patient ID</text>
<path fill="#3fa3da" d="M462.3 422.27h4.69v1.67h-4.69zM462.3 428.93h27.07v1.67h-27.07zM462.3 430.6h28.01v1.67h-28.01zM462.3 432.27h21.24v1.67h-21.24zM462.3 433.94h19.35v1.67h-19.35zM462.3 435.6h19.97v1.67h-19.97zM462.3 437.27h19.47v1.67h-19.47zM462.3 438.94h18.34v1.67h-18.34zM462.3 440.6h16.48v1.67h-16.48zM462.3 442.27h14.77v1.67h-14.77zM462.3 443.94h6.81v1.67h-6.81zM462.3 445.6h13.03v1.67h-13.03zM462.3 447.27h2.37v1.67h-2.37zM462.3 448.94h5.6v1.67h-5.6zM462.3 450.61h10.4v1.67h-10.4zM462.3 452.27h8.68v1.67h-8.68zM462.3 453.94h1.87v1.67h-1.87zM462.3 455.61h4.31v1.67h-4.31zM462.3 457.27h2.03v1.67h-2.03zM462.3 458.94h6.68v1.67h-6.68zM462.3 460.61h3.37v1.67h-3.37zM462.3 462.27h7.24v1.67h-7.24zM462.3 463.94h6.69v1.67h-6.69zM462.3 465.61h2.49v1.67h-2.49zM462.3 467.28h4.77v1.67h-4.77zM462.3 468.94h2.32v1.67h-2.32zM462.3 470.61h2.74v1.67h-2.74zM462.3 472.28h4.56v1.67h-4.56zM462.3 473.94h1.79v1.67h-1.79zM462.3 475.61h4.55v1.67h-4.55zM462.3 477.28h1.27v1.67h-1.27zM462.3 478.94h1.38v1.67h-1.38zM462.3 480.61h2.28v1.67h-2.28zM462.3 482.28h1.43v1.67h-1.43zM462.3 483.95h2.44v1.67h-2.44zM462.3 485.61h1.72v1.67h-1.72zM462.3 487.28h1.52v1.67h-1.52zM462.3 488.95h2.74v1.67h-2.74zM462.3 490.61h1.69v1.67h-1.69zM462.3 492.28h2.18v1.67h-2.18zM462.3 493.95h2.13v1.67h-2.13zM462.3 495.61h2.25v1.67h-2.25zM462.3 497.28h2.15v1.67h-2.15zM462.3 498.95h0.95v1.67h-0.95zM462.3 500.62h0.48v1.67h-0.48zM462.3 502.28h0.82v1.67h-0.82zM462.3 503.95h1.19v1.67h-1.19zM462.3 505.62h0.83v1.67h-0.83zM462.3 507.28h1.22v1.67h-1.22zM462.3 508.95h1.53v1.67h-1.53zM462.3 510.62h1.06v1.67h-1.06zM462.3 512.28h1.09v1.67h-1.09zM462.3 513.95h0.77v1.67h-0.77zM462.3 515.62h0.76v1.67h-0.76zM462.3 517.29h0.78v1.67h-0.78zM462.3 518.95h0.99v1.67h-0.99zM462.3 520.62h0.94v1.67h-0.94zM462.3 522.29h1v1.67h-1zM462.3 523.95h0.77v1.67h-0.77zM462.3 525.62h0.67v1.67h-0.67zM462.3 527.29h0.7v1.67h-0.7zM462.3 528.95h0.94v1.67h-0.94zM462.3 530.62h0.56v1.67h-0.56zM462.3 532.29h0.74v1.67h-0.74zM462.3 533.96h0.75v1.67h-0.75zM462.3 535.62h0.53v1.67h-0.53zM462.3 537.29h0.33v1.67h-0.33zM462.3 538.96h0.72v1.67h-0.72zM462.3 540.62h0.45v1.67h-0.45zM462.3 542.29h0.24v1.67h-0.24zM462.3 543.96h0.66v1.67h-0.66zM462.3 545.62h0.43v1.67h-0.43zM462.3 547.29h0.21v1.67h-0.21zM462.3 548.96h0.56v1.67h-0.56zM462.3 550.63h0.52v1.67h-0.52zM462.3 552.29h0.22v1.67h-0.22zM462.3 553.96h0.37v1.67h-0.37zM462.3 555.63h0.47v1.67h-0.47zM462.3 557.29h0.47v1.67h-0.47zM462.3 558.96h0.28v1.67h-0.28zM462.3 560.63h0.29v1.67h-0.29zM462.3 562.29h0.42v1.67h-0.42zM462.3 563.96h0.34v1.67h-0.34zM462.3 565.63h0.44v1.67h-0.44zM462.3 567.3h0.4v1.67h-0.4zM462.3 568.96h0.2v1.67h-0.2zM462.3 570.63h0.42v1.67h-0.42zM462.3 572.3h0.31v1.67h-0.31zM462.3 573.96h0.34v1.67h-0.34zM462.3 575.63h0.25v1.67h-0.25zM462.3 577.3h0.14v1.67h-0.14zM462.3 578.96h0.14v1.67h-0.14zM462.3 580.63h0.17v1.67h-0.17zM462.3 582.3h0.31v1.67h-0.31zM462.3 583.97h0.16v1.67h-0.16zM462.3 585.63h0.27v1.67h-0.27zM462.3 587.3h0.12v1.67h-0.12zM462.3 588.97h0.28v1.67h-0.28zM462.3 590.63h0.13v1.67h-0.13zM462.3 592.3h0.13v1.67h-0.13zM462.3 593.97h0.11v1.67h-0.11zM462.3 595.63h0.11v1.67h-0.11zM462.3 597.3h0.19v1.67h-0.19zM462.3 598.97h0.15v1.67h-0.15zM462.3 600.64h0.18v1.67h-0.18zM462.3 602.3h0.13v1.67h-0.13zM462.3 603.97h0.11v1.67h-0.11zM462.3 605.64h0.24v1.67h-0.24zM462.3 607.3h0.12v1.67h-0.12zM462.3 608.97h0.18v1.67h-0.18zM462.3 610.64h0.14v1.67h-0.14zM462.3 612.3h0.11v1.67h-0.11zM462.3 613.97h0.17v1.67h-0.17zM462.3 615.64h0.26v1.67h-0.26zM462.3 617.31h0.2v1.67h-0.2zM462.3 618.97h0.21v1.67h-0.21zM462.3 620.64h0.2v1.67h-0.2zM462.3 622.31h0.12v1.67h-0.12zM462.3 623.97h0.23v1.67h-0.23zM462.3 625.64h0.1v1.67h-0.1zM462.3 627.31h0.22v1.67h-0.22zM462.3 628.97h0.17v1.67h-0.17zM462.3 630.64h0.09v1.67h-0.09zM462.3 632.31h0.11v1.67h-0.11zM462.3 633.98h0.14v1.67h-0.14zM462.3 635.64h0.11v1.67h-0.11zM462.3 637.31h0.16v1.67h-0.16zM462.3 638.98h0.17v1.67h-0.17zM462.3 640.64h0.21v1.67h-0.21zM462.3 642.31h0.18v1.67h-0.18zM462.3 643.98h0.08v1.67h-0.08zM462.3 645.64h0.13v1.67h-0.13zM462.3 647.31h0.08v1.67h-0.08zM462.3 648.98h0.07v1.67h-0.07zM462.3 650.65h0.19v1.67h-0.19zM462.3 652.31h0.14v1.67h-0.14zM462.3 653.98h0.07v1.67h-0.07zM462.3 655.65h0.09v1.67h-0.09zM462.3 657.31h0.18v1.67h-0.18zM462.3 658.98h0.15v1.67h-0.15zM462.3 660.65h0.18v1.67h-0.18zM462.3 662.31h0.07v1.67h-0.07zM462.3 663.98h0.15v1.67h-0.15zM462.3 665.65h0.1v1.67h-0.1zM462.3 667.32h0.1v1.67h-0.1zM462.3 668.98h0.09v1.67h-0.09zM462.3 670.65h0.14v1.67h-0.14zM462.3 672.32h0.06v1.67h-0.06zM462.3 673.98h0.13v1.67h-0.13zM462.3 675.65h0.13v1.67h-0.13zM462.3 677.32h0.14v1.67h-0.14zM462.3 678.98h0.12v1.67h-0.12zM462.3 680.65h0.15v1.67h-0.15zM462.3 682.32h0.12v1.67h-0.12zM462.3 683.99h0.09v1.67h-0.09zM462.3 685.65h0.14v1.67h-0.14zM462.3 687.32h0.13v1.67h-0.13zM462.3 688.99h0.13v1.67h-0.13zM462.3 690.65h0.06v1.67h-0.06zM462.3 692.32h0.14v1.67h-0.14zM462.3 693.99h0.14v1.67h-0.14zM462.3 695.65h0.06v1.67h-0.06zM462.3 697.32h0.06v1.67h-0.06zM462.3 698.99h0.09v1.67h-0.09zM462.3 700.66h0.14v1.67h-0.14zM462.3 702.32h0.11v1.67h-0.11zM462.3 703.99h0.08v1.67h-0.08zM462.3 705.66h0.09v1.67h-0.09zM462.3 707.32h0.06v1.67h-0.06z"/>
<path fill="#c06fa0" d="M466.99 422.27h99.43v1.67h-99.43zM462.3 423.93h102.48v1.67h-102.48zM462.3 425.6h67.08v1.67h-67.08zM462.3 427.27h54.25v1.67h-54.25zM489.37 428.93h8.55v1.67h-8.55zM490.31 430.6h3.11v1.67h-3.11zM483.54 432.27h3.58v1.67h-3.58zM481.65 433.94h3.96v1.67h-3.96zM482.27 435.6h1.93v1.67h-1.93zM481.77 437.27h1.11v1.67h-1.11zM480.64 438.94h1v1.67h-1zM478.78 440.6h1.7v1.67h-1.7zM477.07 442.27h2.31v1.67h-2.31zM469.11 443.94h9.26v1.67h-9.26zM475.33 445.6h2.08v1.67h-2.08zM464.67 447.27h11.83v1.67h-11.83zM467.9 448.94h7.76v1.67h-7.76zM472.7 450.61h2.17v1.67h-2.17zM470.98 452.27h3.14v1.67h-3.14zM464.17 453.94h9.26v1.67h-9.26zM466.61 455.61h6.16v1.67h-6.16zM464.33 457.27h7.83v1.67h-7.83zM468.98 458.94h2.6v1.67h-2.6zM465.67 460.61h5.38v1.67h-5.38zM469.54 462.27h1v1.67h-1zM468.99 463.94h1.07v1.67h-1.07zM464.79 465.61h4.82v1.67h-4.82zM467.07 467.28h2.13v1.67h-2.13zM464.62 468.94h4.18v1.67h-4.18zM465.04 470.61h3.4v1.67h-3.4zM466.86 472.28h1.23v1.67h-1.23zM464.09 473.94h3.67v1.67h-3.67zM466.85 475.61h0.6v1.67h-0.6zM463.57 477.28h3.6v1.67h-3.6zM463.68 478.94h3.22v1.67h-3.22zM464.58 480.61h2.06v1.67h-2.06zM463.73 482.28h2.68v1.67h-2.68zM464.74 483.95h1.45v1.67h-1.45zM464.02 485.61h1.96v1.67h-1.96zM463.82 487.28h1.96v1.67h-1.96zM465.04 488.95h0.56v1.67h-0.56zM463.99 490.61h1.43v1.67h-1.43zM464.48 492.28h0.78v1.67h-0.78zM464.43 493.95h0.68v1.67h-0.68zM464.55 495.61h0.41v1.67h-0.41zM464.45 497.28h0.38v1.67h-0.38zM463.25 498.95h1.46v1.67h-1.46zM462.78 500.62h1.8v1.67h-1.8zM463.12 502.28h1.35v1.67h-1.35zM463.49 503.95h0.88v1.67h-0.88zM463.13 505.62h1.13v1.67h-1.13zM463.52 507.28h0.65v1.67h-0.65zM463.83 508.95h0.25v1.67h-0.25zM463.36 510.62h0.64v1.67h-0.64zM463.39 512.28h0.54v1.67h-0.54zM463.07 513.95h0.78v1.67h-0.78zM463.06 515.62h0.72v1.67h-0.72zM463.08 517.29h0.64v1.67h-0.64zM463.29 518.95h0.36v1.67h-0.36zM463.24 520.62h0.36v1.67h-0.36zM463.3 522.29h0.24v1.67h-0.24zM463.07 523.95h0.42v1.67h-0.42zM462.97 525.62h0.47v1.67h-0.47zM463 527.29h0.39v1.67h-0.39zM463.24 528.95h0.11v1.67h-0.11zM462.86 530.62h0.45v1.67h-0.45zM463.04 532.29h0.23v1.67h-0.23zM463.05 533.96h0.19v1.67h-0.19zM462.83 535.62h0.38v1.67h-0.38zM462.63 537.29h0.54v1.67h-0.54zM463.02 538.96h0.12v1.67h-0.12zM462.75 540.62h0.36v1.67h-0.36zM462.54 542.29h0.54v1.67h-0.54zM462.96 543.96h0.1v1.67h-0.1zM462.73 545.62h0.3v1.67h-0.3zM462.51 547.29h0.49v1.67h-0.49zM462.86 548.96h0.12v1.67h-0.12zM462.82 550.63h0.14v1.67h-0.14zM462.52 552.29h0.42v1.67h-0.42zM462.67 553.96h0.25v1.67h-0.25zM462.77 555.63h0.13v1.67h-0.13zM462.77 557.29h0.12v1.67h-0.12zM462.58 558.96h0.29v1.67h-0.29zM462.59 560.63h0.27v1.67h-0.27zM462.72 562.29h0.13v1.67h-0.13zM462.64 563.96h0.19v1.67h-0.19zM462.74 565.63h0.08v1.67h-0.08zM462.7 567.3h0.1v1.67h-0.1zM462.5 568.96h0.29v1.67h-0.29zM462.72 570.63h0.06v1.67h-0.06zM462.61 572.3h0.15v1.67h-0.15zM462.64 573.96h0.12v1.67h-0.12zM462.55 575.63h0.2v1.67h-0.2zM462.44 577.3h0.3v1.67h-0.3zM462.44 578.96h0.29v1.67h-0.29zM462.47 580.63h0.25v1.67h-0.25zM462.61 582.3h0.1v1.67h-0.1zM462.46 583.97h0.25v1.67h-0.25zM462.57 585.63h0.12v1.67h-0.12zM462.42 587.3h0.26v1.67h-0.26zM462.58 588.97h0.1v1.67h-0.1zM462.43 590.63h0.25v1.67h-0.25zM462.43 592.3h0.23v1.67h-0.23zM462.41 593.97h0.25v1.67h-0.25zM462.41 595.63h0.24v1.67h-0.24zM462.49 597.3h0.15v1.67h-0.15zM462.45 598.97h0.19v1.67h-0.19zM462.48 600.64h0.15v1.67h-0.15zM462.43 602.3h0.2v1.67h-0.2zM462.41 603.97h0.21v1.67h-0.21zM462.54 605.64h0.08v1.67h-0.08zM462.42 607.3h0.19v1.67h-0.19zM462.48 608.97h0.13v1.67h-0.13zM462.44 610.64h0.16v1.67h-0.16zM462.41 612.3h0.2v1.67h-0.2zM462.47 613.97h0.13v1.67h-0.13zM462.56 615.64h0.03v1.67h-0.03zM462.5 617.31h0.09v1.67h-0.09zM462.51 618.97h0.07v1.67h-0.07zM462.5 620.64h0.08v1.67h-0.08zM462.42 622.31h0.16v1.67h-0.16zM462.53 623.97h0.04v1.67h-0.04zM462.4 625.64h0.17v1.67h-0.17zM462.52 627.31h0.05v1.67h-0.05zM462.47 628.97h0.09v1.67h-0.09zM462.39 630.64h0.17v1.67h-0.17zM462.41 632.31h0.14v1.67h-0.14zM462.44 633.98h0.11v1.67h-0.11zM462.41 635.64h0.14v1.67h-0.14zM462.46 637.31h0.08v1.67h-0.08zM462.47 638.98h0.07v1.67h-0.07zM462.51 640.64h0.03v1.67h-0.03zM462.48 642.31h0.06v1.67h-0.06zM462.38 643.98h0.15v1.67h-0.15zM462.43 645.64h0.1v1.67h-0.1zM462.38 647.31h0.15v1.67h-0.15zM462.37 648.98h0.15v1.67h-0.15zM462.49 650.65h0.03v1.67h-0.03zM462.44 652.31h0.08v1.67h-0.08zM462.37 653.98h0.15v1.67h-0.15zM462.39 655.65h0.12v1.67h-0.12zM462.48 657.31h0.03v1.67h-0.03zM462.45 658.98h0.06v1.67h-0.06zM462.48 660.65h0.02v1.67h-0.02zM462.37 662.31h0.13v1.67h-0.13zM462.45 663.98h0.05v1.67h-0.05zM462.4 665.65h0.1v1.67h-0.1zM462.4 667.32h0.09v1.67h-0.09zM462.39 668.98h0.1v1.67h-0.1zM462.44 670.65h0.05v1.67h-0.05zM462.36 672.32h0.13v1.67h-0.13zM462.43 673.98h0.06v1.67h-0.06zM462.43 675.65h0.05v1.67h-0.05zM462.44 677.32h0.05v1.67h-0.05zM462.42 678.98h0.06v1.67h-0.06zM462.45 680.65h0.03v1.67h-0.03zM462.42 682.32h0.06v1.67h-0.06zM462.39 683.99h0.08v1.67h-0.08zM462.44 685.65h0.03v1.67h-0.03zM462.43 687.32h0.04v1.67h-0.04zM462.43 688.99h0.04v1.67h-0.04zM462.36 690.65h0.11v1.67h-0.11zM462.44 692.32h0.03v1.67h-0.03zM462.44 693.99h0.02v1.67h-0.02zM462.36 695.65h0.1v1.67h-0.1zM462.36 697.32h0.1v1.67h-0.1zM462.39 698.99h0.07v1.67h-0.07zM462.44 700.66h0.02v1.67h-0.02zM462.41 702.32h0.05v1.67h-0.05zM462.38 703.99h0.07v1.67h-0.07zM462.39 705.66h0.06v1.67h-0.06zM462.36 707.32h0.09v1.67h-0.09z"/>
<g stroke="#fff" stroke-width="0.25" stroke-opacity="0.6"><line x1="462.3" y1="423.93" x2="564.78" y2="423.93"/><line x1="462.3" y1="425.6" x2="529.38" y2="425.6"/><line x1="462.3" y1="427.27" x2="516.55" y2="427.27"/><line x1="462.3" y1="428.93" x2="497.92" y2="428.93"/><line x1="462.3" y1="430.6" x2="493.43" y2="430.6"/><line x1="462.3" y1="432.27" x2="487.12" y2="432.27"/><line x1="462.3" y1="433.94" x2="485.61" y2="433.94"/><line x1="462.3" y1="435.6" x2="484.2" y2="435.6"/><line x1="462.3" y1="437.27" x2="482.88" y2="437.27"/><line x1="462.3" y1="438.94" x2="481.64" y2="438.94"/><line x1="462.3" y1="440.6" x2="480.48" y2="440.6"/><line x1="462.3" y1="442.27" x2="479.39" y2="442.27"/><line x1="462.3" y1="443.94" x2="478.36" y2="443.94"/><line x1="462.3" y1="445.6" x2="477.4" y2="445.6"/><line x1="462.3" y1="447.27" x2="476.5" y2="447.27"/><line x1="462.3" y1="448.94" x2="475.66" y2="448.94"/><line x1="462.3" y1="450.61" x2="474.87" y2="450.61"/><line x1="462.3" y1="452.27" x2="474.12" y2="452.27"/><line x1="462.3" y1="453.94" x2="473.43" y2="453.94"/><line x1="462.3" y1="455.61" x2="472.77" y2="455.61"/><line x1="462.3" y1="457.27" x2="472.16" y2="457.27"/><line x1="462.3" y1="458.94" x2="471.58" y2="458.94"/><line x1="462.3" y1="460.61" x2="471.04" y2="460.61"/><line x1="462.3" y1="462.27" x2="470.54" y2="462.27"/><line x1="462.3" y1="463.94" x2="470.06" y2="463.94"/><line x1="462.3" y1="465.61" x2="469.61" y2="465.61"/><line x1="462.3" y1="467.28" x2="469.19" y2="467.28"/><line x1="462.3" y1="468.94" x2="468.8" y2="468.94"/><line x1="462.3" y1="470.61" x2="468.43" y2="470.61"/><line x1="462.3" y1="472.28" x2="468.09" y2="472.28"/><line x1="462.3" y1="473.94" x2="467.76" y2="473.94"/><line x1="462.3" y1="475.61" x2="467.46" y2="475.61"/><line x1="462.3" y1="477.28" x2="467.17" y2="477.28"/><line x1="462.3" y1="478.94" x2="466.9" y2="478.94"/><line x1="462.3" y1="480.61" x2="466.65" y2="480.61"/><line x1="462.3" y1="482.28" x2="466.41" y2="482.28"/><line x1="462.3" y1="483.95" x2="466.19" y2="483.95"/><line x1="462.3" y1="485.61" x2="465.98" y2="485.61"/><line x1="462.3" y1="487.28" x2="465.78" y2="487.28"/><line x1="462.3" y1="488.95" x2="465.6" y2="488.95"/><line x1="462.3" y1="490.61" x2="465.42" y2="490.61"/><line x1="462.3" y1="492.28" x2="465.26" y2="492.28"/><line x1="462.3" y1="493.95" x2="465.11" y2="493.95"/><line x1="462.3" y1="495.61" x2="464.96" y2="495.61"/><line x1="462.3" y1="497.28" x2="464.83" y2="497.28"/><line x1="462.3" y1="498.95" x2="464.7" y2="498.95"/><line x1="462.3" y1="500.62" x2="464.58" y2="500.62"/><line x1="462.3" y1="502.28" x2="464.47" y2="502.28"/><line x1="462.3" y1="503.95" x2="464.36" y2="503.95"/><line x1="462.3" y1="505.62" x2="464.26" y2="505.62"/><line x1="462.3" y1="507.28" x2="464.17" y2="507.28"/><line x1="462.3" y1="508.95" x2="464.08" y2="508.95"/><line x1="462.3" y1="510.62" x2="464" y2="510.62"/><line x1="462.3" y1="512.28" x2="463.92" y2="512.28"/><line x1="462.3" y1="513.95" x2="463.85" y2="513.95"/><line x1="462.3" y1="515.62" x2="463.78" y2="515.62"/><line x1="462.3" y1="517.29" x2="463.71" y2="517.29"/><line x1="462.3" y1="518.95" x2="463.65" y2="518.95"/><line x1="462.3" y1="520.62" x2="463.59" y2="520.62"/></g>
<text x="477.9" y="501.2" font-size="5.64" fill="#222">Macrophage subsets</text>
<rect x="477.9" y="506.2" width="6.2" height="5.5" fill="#c06fa0"/>
<text x="488.3" y="510.8" font-size="5.64" fill="#222">VISTA+ M1-like Macrophages</text>
<rect x="477.9" y="516.1" width="6.2" height="5.5" fill="#3fa3da"/>
<text x="488.3" y="520.7" font-size="5.64" fill="#222">VISTA+ M2-like Macrophages</text>
<text x="605.6" y="384" font-size="14" font-weight="bold" fill="#000">e</text>
<line x1="614.7" y1="420" x2="614.7" y2="524.6" stroke="#c4c4c4" stroke-width="0.9"/>
<line x1="614.7" y1="524.6" x2="678.6" y2="524.6" stroke="#a0a0a0" stroke-width="0.7"/>
<line x1="613.1" y1="519.7" x2="614.7" y2="519.7" stroke="#555" stroke-width="0.5"/>
<text x="612.1" y="521.7" font-size="5.74" text-anchor="end" fill="#222">0</text>
<line x1="613.1" y1="495.98" x2="614.7" y2="495.98" stroke="#555" stroke-width="0.5"/>
<text x="612.1" y="497.98" font-size="5.74" text-anchor="end" fill="#222">200</text>
<line x1="613.1" y1="472.25" x2="614.7" y2="472.25" stroke="#555" stroke-width="0.5"/>
<text x="612.1" y="474.25" font-size="5.74" text-anchor="end" fill="#222">400</text>
<line x1="613.1" y1="448.53" x2="614.7" y2="448.53" stroke="#555" stroke-width="0.5"/>
<text x="612.1" y="450.53" font-size="5.74" text-anchor="end" fill="#222">600</text>
<line x1="613.1" y1="424.8" x2="614.7" y2="424.8" stroke="#555" stroke-width="0.5"/>
<text x="612.1" y="426.8" font-size="5.74" text-anchor="end" fill="#222">800</text>
<text transform="translate(595.6,472.5) rotate(-90)" font-size="5.64" text-anchor="middle" fill="#222">Density (cell/mm<tspan font-size="3.69" dy="-2">2</tspan><tspan dy="2">)</tspan></text>
<path fill="#7a2a38" fill-opacity="0.85" d="M635.35 518.63h1.3v1.3h-1.3zM633.91 518.39h1.3v1.3h-1.3zM628.48 517.06h1.3v1.3h-1.3zM628.82 518.72h1.3v1.3h-1.3zM631.61 518.97h1.3v1.3h-1.3zM629.91 516.6h1.3v1.3h-1.3zM633.28 518.99h1.3v1.3h-1.3zM629.86 517.19h1.3v1.3h-1.3zM627.83 516.99h1.3v1.3h-1.3zM627.28 518.9h1.3v1.3h-1.3zM627.61 516.97h1.3v1.3h-1.3zM628.13 513.49h1.3v1.3h-1.3zM632.31 517.01h1.3v1.3h-1.3zM634.05 515.66h1.3v1.3h-1.3zM632.02 516.57h1.3v1.3h-1.3zM630.67 517.77h1.3v1.3h-1.3zM631.46 514.66h1.3v1.3h-1.3zM629.5 517.74h1.3v1.3h-1.3zM631.96 518.56h1.3v1.3h-1.3zM631.02 517.67h1.3v1.3h-1.3zM636.75 516.72h1.3v1.3h-1.3zM635.97 518.83h1.3v1.3h-1.3zM630.26 517.96h1.3v1.3h-1.3zM630.28 517.59h1.3v1.3h-1.3zM630.25 517.79h1.3v1.3h-1.3zM631.97 517.23h1.3v1.3h-1.3zM628.21 518.34h1.3v1.3h-1.3zM635.8 515.89h1.3v1.3h-1.3zM629.64 516.87h1.3v1.3h-1.3zM627 519.03h1.3v1.3h-1.3zM635.75 518.45h1.3v1.3h-1.3zM632.43 518.45h1.3v1.3h-1.3zM627.23 518.53h1.3v1.3h-1.3zM632.25 515.6h1.3v1.3h-1.3zM632.85 516.95h1.3v1.3h-1.3zM630.32 516.24h1.3v1.3h-1.3zM628.05 516.47h1.3v1.3h-1.3zM634.5 514.82h1.3v1.3h-1.3zM626.23 517.32h1.3v1.3h-1.3zM633.28 518.91h1.3v1.3h-1.3zM636.11 517.75h1.3v1.3h-1.3zM635.78 518.79h1.3v1.3h-1.3zM636.03 517.01h1.3v1.3h-1.3zM628.82 517.88h1.3v1.3h-1.3zM630.84 515.6h1.3v1.3h-1.3zM631.29 517.84h1.3v1.3h-1.3zM631.53 517.34h1.3v1.3h-1.3zM630.58 517.6h1.3v1.3h-1.3zM633.06 517.09h1.3v1.3h-1.3zM633.51 518.79h1.3v1.3h-1.3zM634.88 516.68h1.3v1.3h-1.3zM629.07 517.03h1.3v1.3h-1.3zM630.93 517.58h1.3v1.3h-1.3zM626.45 516.74h1.3v1.3h-1.3zM626.33 514.42h1.3v1.3h-1.3zM628.43 517.09h1.3v1.3h-1.3zM628.36 514.34h1.3v1.3h-1.3zM630.26 516.23h1.3v1.3h-1.3zM629.07 518.87h1.3v1.3h-1.3zM626.2 515.77h1.3v1.3h-1.3zM634.15 518.65h1.3v1.3h-1.3zM628.42 516.72h1.3v1.3h-1.3zM636.85 517.39h1.3v1.3h-1.3zM629.3 516.2h1.3v1.3h-1.3zM631.96 517.09h1.3v1.3h-1.3zM626.72 516.45h1.3v1.3h-1.3zM630.17 517.18h1.3v1.3h-1.3zM635.05 517.41h1.3v1.3h-1.3zM634.36 517.43h1.3v1.3h-1.3zM635.44 515.57h1.3v1.3h-1.3zM630.46 447.28h1.3v1.3h-1.3zM629.47 489.99h1.3v1.3h-1.3zM626.37 498.29h1.3v1.3h-1.3zM626.78 504.22h1.3v1.3h-1.3zM633.71 507.78h1.3v1.3h-1.3zM630.75 508.37h1.3v1.3h-1.3zM633.33 509.56h1.3v1.3h-1.3z"/>
<line x1="621.9" y1="519.7" x2="642.7" y2="519.7" stroke="#3a2a2a" stroke-width="1.2"/>
<line x1="632.3" y1="524.6" x2="632.3" y2="526" stroke="#555" stroke-width="0.5"/>
<text transform="translate(634.9,528.2) rotate(-45)" font-size="5.64" text-anchor="end" fill="#222">VISTA+ M1</text>
<path fill="#245a78" fill-opacity="0.85" d="M663.85 518.55h1.3v1.3h-1.3zM659.83 519.04h1.3v1.3h-1.3zM660.56 514.55h1.3v1.3h-1.3zM661.99 518.96h1.3v1.3h-1.3zM662.66 516.36h1.3v1.3h-1.3zM659.95 518.95h1.3v1.3h-1.3zM665.5 516.86h1.3v1.3h-1.3zM660.74 514.76h1.3v1.3h-1.3zM663.76 518.46h1.3v1.3h-1.3zM655.74 517.8h1.3v1.3h-1.3zM666.22 518.42h1.3v1.3h-1.3zM664.48 515.72h1.3v1.3h-1.3zM658.04 517.16h1.3v1.3h-1.3zM663.03 514.27h1.3v1.3h-1.3zM659.52 517.42h1.3v1.3h-1.3zM656.04 516.67h1.3v1.3h-1.3zM660.96 516.11h1.3v1.3h-1.3zM660.46 516.27h1.3v1.3h-1.3zM662.88 518.68h1.3v1.3h-1.3zM661.69 515.66h1.3v1.3h-1.3zM665.59 516.65h1.3v1.3h-1.3zM660.78 515.35h1.3v1.3h-1.3zM656.56 515.46h1.3v1.3h-1.3zM656.74 516.68h1.3v1.3h-1.3zM665.61 517.16h1.3v1.3h-1.3zM662.59 514.03h1.3v1.3h-1.3zM663.83 518.65h1.3v1.3h-1.3zM659.04 518.24h1.3v1.3h-1.3zM658.99 515.3h1.3v1.3h-1.3zM657.04 512.94h1.3v1.3h-1.3zM660.22 515h1.3v1.3h-1.3zM663.95 518.56h1.3v1.3h-1.3zM662.68 514.86h1.3v1.3h-1.3zM663.75 518.85h1.3v1.3h-1.3zM655.41 518.65h1.3v1.3h-1.3zM663.83 517.43h1.3v1.3h-1.3zM663.42 518.65h1.3v1.3h-1.3zM660.53 518.68h1.3v1.3h-1.3zM656.81 515.4h1.3v1.3h-1.3zM661.92 517.29h1.3v1.3h-1.3zM659.98 518.9h1.3v1.3h-1.3zM662.58 515.93h1.3v1.3h-1.3zM664.01 515.79h1.3v1.3h-1.3zM660.51 517.6h1.3v1.3h-1.3zM658.42 512.04h1.3v1.3h-1.3zM663.57 514.63h1.3v1.3h-1.3zM661.43 514.67h1.3v1.3h-1.3zM657.19 518.33h1.3v1.3h-1.3zM657.42 518.81h1.3v1.3h-1.3zM663.71 512.81h1.3v1.3h-1.3zM655.4 514.39h1.3v1.3h-1.3zM664.78 513.7h1.3v1.3h-1.3zM661.3 515.9h1.3v1.3h-1.3zM663.43 518.38h1.3v1.3h-1.3zM661.99 517.93h1.3v1.3h-1.3zM659.1 517.08h1.3v1.3h-1.3zM655.53 517.45h1.3v1.3h-1.3zM657.23 516.93h1.3v1.3h-1.3zM660.99 518.38h1.3v1.3h-1.3zM660.42 517.57h1.3v1.3h-1.3zM661.09 517.73h1.3v1.3h-1.3zM659.95 514.49h1.3v1.3h-1.3zM655.81 518.07h1.3v1.3h-1.3zM660.74 517.55h1.3v1.3h-1.3zM665.02 518.11h1.3v1.3h-1.3zM660.79 517.78h1.3v1.3h-1.3zM658.57 517.87h1.3v1.3h-1.3zM659.33 516.14h1.3v1.3h-1.3zM665.56 517.6h1.3v1.3h-1.3zM655.75 517.36h1.3v1.3h-1.3zM659.85 489.99h1.3v1.3h-1.3zM661.79 500.07h1.3v1.3h-1.3zM665.51 500.66h1.3v1.3h-1.3zM662.85 501.26h1.3v1.3h-1.3zM656.87 506.59h1.3v1.3h-1.3zM656.24 507.19h1.3v1.3h-1.3zM656.16 512.53h1.3v1.3h-1.3z"/>
<line x1="651.1" y1="519.7" x2="671.9" y2="519.7" stroke="#1f3a4a" stroke-width="1.2"/>
<line x1="661.5" y1="524.6" x2="661.5" y2="526" stroke="#555" stroke-width="0.5"/>
<text transform="translate(664.1,528.2) rotate(-45)" font-size="5.64" text-anchor="end" fill="#222">VISTA+ M2</text>
<path d="M632.3 432.6V431.6H661.5V432.6" fill="none" stroke="#555" stroke-width="0.55"/>
<text x="647" y="429.8" font-size="5.64" text-anchor="middle" fill="#222">ns</text>
<text x="496" y="572.4" font-size="14" font-weight="bold" fill="#000">f</text>
<line x1="526.5" y1="575.5" x2="526.5" y2="673" stroke="#a8a8a8" stroke-width="0.8"/>
<line x1="526.5" y1="673" x2="685" y2="673" stroke="#cccccc" stroke-width="1.3"/>
<line x1="525.5" y1="668.6" x2="526.5" y2="668.6" stroke="#555" stroke-width="0.5"/>
<text x="525.1" y="670.6" font-size="5.43" text-anchor="end" fill="#222">0</text>
<line x1="525.5" y1="650.2" x2="526.5" y2="650.2" stroke="#555" stroke-width="0.5"/>
<text x="525.1" y="652.2" font-size="5.43" text-anchor="end" fill="#222">250</text>
<line x1="525.5" y1="631.8" x2="526.5" y2="631.8" stroke="#555" stroke-width="0.5"/>
<text x="525.1" y="633.8" font-size="5.43" text-anchor="end" fill="#222">500</text>
<line x1="525.5" y1="613.4" x2="526.5" y2="613.4" stroke="#555" stroke-width="0.5"/>
<text x="525.1" y="615.4" font-size="5.43" text-anchor="end" fill="#222">750</text>
<line x1="525.5" y1="595" x2="526.5" y2="595" stroke="#555" stroke-width="0.5"/>
<text x="525.1" y="597" font-size="5.43" text-anchor="end" fill="#222">1000</text>
<line x1="525.5" y1="576.6" x2="526.5" y2="576.6" stroke="#555" stroke-width="0.5"/>
<text x="525.1" y="578.6" font-size="5.43" text-anchor="end" fill="#222">1250</text>
<text transform="translate(509.5,624.5) rotate(-90)" font-size="5.64" text-anchor="middle" fill="#222">Density (cell/mm<tspan font-size="3.69" dy="-2">2</tspan><tspan dy="2">)</tspan></text>
<path fill="#3f7f95" fill-opacity="0.85" d="M555.77 666.11h1.3v1.3h-1.3zM550.83 667.41h1.3v1.3h-1.3zM541.34 667.5h1.3v1.3h-1.3zM543.41 667.9h1.3v1.3h-1.3zM548.44 667.27h1.3v1.3h-1.3zM547.55 667.45h1.3v1.3h-1.3zM553.77 666.16h1.3v1.3h-1.3zM540.93 667.06h1.3v1.3h-1.3zM543.12 667.61h1.3v1.3h-1.3zM547.73 667.26h1.3v1.3h-1.3zM542.77 667.59h1.3v1.3h-1.3zM543.13 667.38h1.3v1.3h-1.3zM545.71 667.42h1.3v1.3h-1.3zM542.3 666.96h1.3v1.3h-1.3zM542.71 666.56h1.3v1.3h-1.3zM540.77 667.57h1.3v1.3h-1.3zM541.67 667.87h1.3v1.3h-1.3zM547.58 667.7h1.3v1.3h-1.3zM544.38 667.27h1.3v1.3h-1.3zM552.16 667.27h1.3v1.3h-1.3zM549.84 667.19h1.3v1.3h-1.3zM553.39 667.85h1.3v1.3h-1.3zM551.52 667.3h1.3v1.3h-1.3zM554.1 667.48h1.3v1.3h-1.3zM543.97 667.24h1.3v1.3h-1.3zM544.91 666.8h1.3v1.3h-1.3zM552.13 666.85h1.3v1.3h-1.3zM548.27 666.75h1.3v1.3h-1.3zM542.76 667.66h1.3v1.3h-1.3zM540.6 667.37h1.3v1.3h-1.3zM543.78 664.64h1.3v1.3h-1.3zM552.08 665.37h1.3v1.3h-1.3zM551.34 665.74h1.3v1.3h-1.3z"/>
<line x1="536.1" y1="668.6" x2="562.1" y2="668.6" stroke="#222" stroke-width="0.9"/>
<line x1="549.1" y1="672.8" x2="549.1" y2="674.4" stroke="#555" stroke-width="0.5"/>
<text transform="translate(551.9,676.6) rotate(-45)" font-size="5.74" text-anchor="end" fill="#222">STING- VISTA+ M1</text>
<path fill="#a8753e" fill-opacity="0.85" d="M581.22 665.74h1.3v1.3h-1.3zM585.49 663.85h1.3v1.3h-1.3zM584.35 665.72h1.3v1.3h-1.3zM587.66 666.88h1.3v1.3h-1.3zM584.22 667.84h1.3v1.3h-1.3zM579.62 666.99h1.3v1.3h-1.3zM590.6 665.86h1.3v1.3h-1.3zM580.95 664.18h1.3v1.3h-1.3zM592.99 666.33h1.3v1.3h-1.3zM584.29 665.45h1.3v1.3h-1.3zM589.64 666.88h1.3v1.3h-1.3zM587.62 665.88h1.3v1.3h-1.3zM579.79 664.61h1.3v1.3h-1.3zM589.09 664.93h1.3v1.3h-1.3zM590.44 663.36h1.3v1.3h-1.3zM588.6 666.18h1.3v1.3h-1.3zM592.22 667.01h1.3v1.3h-1.3zM592.75 666.65h1.3v1.3h-1.3zM593.17 665.22h1.3v1.3h-1.3zM583.07 665.82h1.3v1.3h-1.3zM586.6 666.94h1.3v1.3h-1.3zM594.13 663.3h1.3v1.3h-1.3zM590.77 665.75h1.3v1.3h-1.3zM585.24 667.65h1.3v1.3h-1.3zM591.1 667.83h1.3v1.3h-1.3zM586.14 667.77h1.3v1.3h-1.3zM590.43 665.57h1.3v1.3h-1.3zM591.03 667.84h1.3v1.3h-1.3zM589.93 666.33h1.3v1.3h-1.3zM583.3 666.43h1.3v1.3h-1.3zM584.18 664.16h1.3v1.3h-1.3zM586.5 666.41h1.3v1.3h-1.3zM592.85 665.52h1.3v1.3h-1.3zM589.51 666.39h1.3v1.3h-1.3zM593.69 665.99h1.3v1.3h-1.3zM578.91 664.52h1.3v1.3h-1.3zM592.2 667.21h1.3v1.3h-1.3zM578.86 663.29h1.3v1.3h-1.3zM588.83 665.6h1.3v1.3h-1.3zM590.7 666.23h1.3v1.3h-1.3zM591.48 666.81h1.3v1.3h-1.3zM593.94 665.11h1.3v1.3h-1.3zM583.95 665.79h1.3v1.3h-1.3zM579.6 667.86h1.3v1.3h-1.3zM584.69 665.25h1.3v1.3h-1.3zM586.66 659.12h1.3v1.3h-1.3zM579.15 660.59h1.3v1.3h-1.3zM593.04 661.69h1.3v1.3h-1.3zM592.51 662.8h1.3v1.3h-1.3zM584.51 663.53h1.3v1.3h-1.3z"/>
<line x1="574.1" y1="668.6" x2="600.1" y2="668.6" stroke="#222" stroke-width="0.9"/>
<line x1="587.1" y1="672.8" x2="587.1" y2="674.4" stroke="#555" stroke-width="0.5"/>
<text transform="translate(589.9,676.6) rotate(-45)" font-size="5.74" text-anchor="end" fill="#222">STING- VISTA+ M2</text>
<path fill="#8a2b3c" fill-opacity="0.85" d="M628.69 665.49h1.3v1.3h-1.3zM622.15 665.88h1.3v1.3h-1.3zM621.1 667.58h1.3v1.3h-1.3zM621.59 665.99h1.3v1.3h-1.3zM618.18 666.61h1.3v1.3h-1.3zM620.3 665.28h1.3v1.3h-1.3zM618.8 665.91h1.3v1.3h-1.3zM622.49 664.11h1.3v1.3h-1.3zM625.09 665.37h1.3v1.3h-1.3zM618.95 667.88h1.3v1.3h-1.3zM631.59 665.78h1.3v1.3h-1.3zM624.09 666.97h1.3v1.3h-1.3zM628.46 667.7h1.3v1.3h-1.3zM626.4 667.75h1.3v1.3h-1.3zM619.87 666.68h1.3v1.3h-1.3zM631.5 665.59h1.3v1.3h-1.3zM623.07 667.53h1.3v1.3h-1.3zM623.32 665.73h1.3v1.3h-1.3zM630.5 667.06h1.3v1.3h-1.3zM631.66 666.2h1.3v1.3h-1.3zM618.14 662.71h1.3v1.3h-1.3zM617.41 667.61h1.3v1.3h-1.3zM631.05 667.37h1.3v1.3h-1.3zM621.31 666.46h1.3v1.3h-1.3zM617.08 666.15h1.3v1.3h-1.3zM617.85 667.87h1.3v1.3h-1.3zM624.38 665.06h1.3v1.3h-1.3zM627.69 666.32h1.3v1.3h-1.3zM627.26 662.94h1.3v1.3h-1.3zM631.65 667.52h1.3v1.3h-1.3zM628.02 664.61h1.3v1.3h-1.3zM621.67 664.59h1.3v1.3h-1.3zM623.35 667.24h1.3v1.3h-1.3zM624.29 667.87h1.3v1.3h-1.3zM632.17 667.7h1.3v1.3h-1.3zM627.12 665.72h1.3v1.3h-1.3zM621.63 666.31h1.3v1.3h-1.3zM625.93 666.41h1.3v1.3h-1.3zM626.95 665.92h1.3v1.3h-1.3zM618.88 666.6h1.3v1.3h-1.3zM622.02 667.77h1.3v1.3h-1.3zM622.17 663.99h1.3v1.3h-1.3zM620.03 666.94h1.3v1.3h-1.3zM623.98 666.97h1.3v1.3h-1.3zM629.93 667.47h1.3v1.3h-1.3zM619.58 599.13h1.3v1.3h-1.3zM629.62 624.89h1.3v1.3h-1.3zM616.79 650.29h1.3v1.3h-1.3zM617.22 656.91h1.3v1.3h-1.3zM630.62 659.12h1.3v1.3h-1.3zM618.98 659.85h1.3v1.3h-1.3zM618.01 661.33h1.3v1.3h-1.3zM624.43 662.06h1.3v1.3h-1.3z"/>
<line x1="611.9" y1="668.6" x2="637.9" y2="668.6" stroke="#222" stroke-width="0.9"/>
<line x1="624.9" y1="672.8" x2="624.9" y2="674.4" stroke="#555" stroke-width="0.5"/>
<text transform="translate(627.7,676.6) rotate(-45)" font-size="5.74" text-anchor="end" fill="#222">STING+ VISTA+ M1</text>
<path fill="#2f6f92" fill-opacity="0.85" d="M667.4 666.89h1.3v1.3h-1.3zM667.25 665.13h1.3v1.3h-1.3zM660.31 667.73h1.3v1.3h-1.3zM658.47 665.32h1.3v1.3h-1.3zM664.21 666.59h1.3v1.3h-1.3zM665.93 664.45h1.3v1.3h-1.3zM661.08 666.47h1.3v1.3h-1.3zM655.44 665.82h1.3v1.3h-1.3zM659.49 666.83h1.3v1.3h-1.3zM665.71 665.35h1.3v1.3h-1.3zM669.39 664.78h1.3v1.3h-1.3zM666.08 667.26h1.3v1.3h-1.3zM659.05 666.86h1.3v1.3h-1.3zM665.07 666.89h1.3v1.3h-1.3zM667.3 667.86h1.3v1.3h-1.3zM659.57 667.43h1.3v1.3h-1.3zM658.83 667.39h1.3v1.3h-1.3zM664.71 664.4h1.3v1.3h-1.3zM658.6 667.88h1.3v1.3h-1.3zM668.55 666.96h1.3v1.3h-1.3zM664.97 664.9h1.3v1.3h-1.3zM657.39 665.5h1.3v1.3h-1.3zM657.32 667.72h1.3v1.3h-1.3zM657.96 666.87h1.3v1.3h-1.3zM666.2 666.65h1.3v1.3h-1.3zM654.15 665.21h1.3v1.3h-1.3zM659.77 664.98h1.3v1.3h-1.3zM663.13 665.31h1.3v1.3h-1.3zM665.77 666.11h1.3v1.3h-1.3zM659.11 665.58h1.3v1.3h-1.3zM662.36 667.67h1.3v1.3h-1.3zM667.94 667.33h1.3v1.3h-1.3zM655.11 666.07h1.3v1.3h-1.3zM654.27 666.74h1.3v1.3h-1.3zM662.58 666.7h1.3v1.3h-1.3zM662.39 667.32h1.3v1.3h-1.3zM669.56 667.24h1.3v1.3h-1.3zM664.73 666.02h1.3v1.3h-1.3zM665.54 666.61h1.3v1.3h-1.3zM660.41 666.68h1.3v1.3h-1.3zM663.49 666.93h1.3v1.3h-1.3zM662.94 666.59h1.3v1.3h-1.3zM665.71 666.36h1.3v1.3h-1.3zM664 664.75h1.3v1.3h-1.3zM657.18 667.16h1.3v1.3h-1.3zM657.41 656.17h1.3v1.3h-1.3zM664.71 656.54h1.3v1.3h-1.3zM656.36 657.65h1.3v1.3h-1.3zM663.18 658.75h1.3v1.3h-1.3zM667.2 659.85h1.3v1.3h-1.3zM655.34 660.59h1.3v1.3h-1.3zM668.12 661.33h1.3v1.3h-1.3z"/>
<line x1="649.6" y1="668.6" x2="675.6" y2="668.6" stroke="#222" stroke-width="0.9"/>
<line x1="662.6" y1="672.8" x2="662.6" y2="674.4" stroke="#555" stroke-width="0.5"/>
<text transform="translate(665.4,676.6) rotate(-45)" font-size="5.74" text-anchor="end" fill="#222">STING+ VISTA+ M2</text>
<line x1="549.1" y1="591" x2="587.1" y2="591" stroke="#3c3c3c" stroke-width="0.8" shape-rendering="crispEdges"/>
<text x="568.1" y="590.1" font-size="5.64" text-anchor="middle" fill="#222"><tspan font-style="italic">P</tspan> &lt; 0.001</text>
<line x1="587.1" y1="598.3" x2="662.6" y2="598.3" stroke="#3c3c3c" stroke-width="0.8" shape-rendering="crispEdges"/>
<text x="624.85" y="597.4" font-size="5.64" text-anchor="middle" fill="#222">ns</text>
<line x1="549.1" y1="606" x2="662.6" y2="606" stroke="#3c3c3c" stroke-width="0.8" shape-rendering="crispEdges"/>
<text x="605.85" y="605.1" font-size="5.64" text-anchor="middle" fill="#222"><tspan font-style="italic">P</tspan> = 0.013*</text>
<line x1="587.1" y1="613.4" x2="624.9" y2="613.4" stroke="#3c3c3c" stroke-width="0.8" shape-rendering="crispEdges"/>
<text x="606" y="612.5" font-size="5.64" text-anchor="middle" fill="#222">ns</text>
<line x1="549.1" y1="620.8" x2="624.9" y2="620.8" stroke="#3c3c3c" stroke-width="0.8" shape-rendering="crispEdges"/>
<text x="587" y="619.9" font-size="5.64" text-anchor="middle" fill="#222"><tspan font-style="italic">P</tspan> = 0.005</text>
<line x1="624.9" y1="628.2" x2="662.6" y2="628.2" stroke="#3c3c3c" stroke-width="0.8" shape-rendering="crispEdges"/>
<text x="643.75" y="627.3" font-size="5.64" text-anchor="middle" fill="#222">ns</text>
</svg></body></html>
